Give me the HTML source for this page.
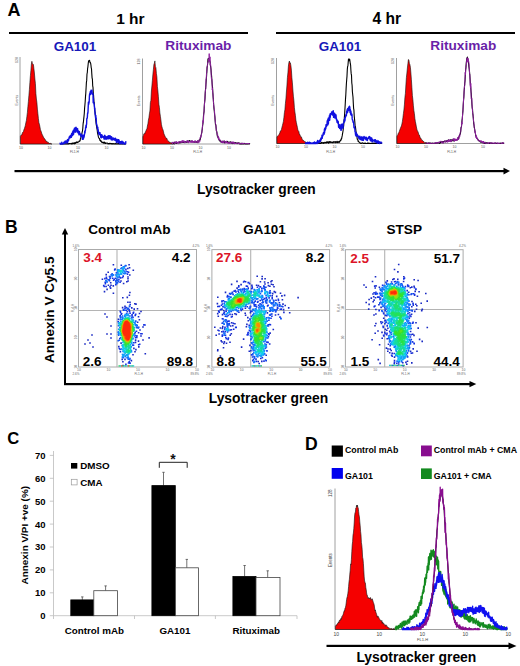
<!DOCTYPE html>
<html><head><meta charset="utf-8"><style>
html,body{margin:0;padding:0;background:#fff;overflow:hidden;}
svg{display:block;}
text{font-family:"Liberation Sans",sans-serif;}
</style></head><body>
<svg width="520" height="666" viewBox="0 0 520 666">
<text x="7.6" y="15.6" font-size="18" fill="#000" text-anchor="start" font-weight="bold" >A</text>
<text x="116.15" y="23.8" font-size="15.5" fill="#000" text-anchor="start" font-weight="bold" >1 hr</text>
<text x="372.5" y="23.8" font-size="15.6" fill="#000" text-anchor="start" font-weight="bold" >4 hr</text>
<rect x="9" y="32" width="239" height="2" fill="#000"/>
<rect x="276" y="32" width="239" height="2" fill="#000"/>
<text x="53.7" y="50.8" font-size="13.45" fill="#1818b8" text-anchor="start" font-weight="bold" >GA101</text>
<text x="165.3" y="49.5" font-size="13.7" fill="#6a1fa8" text-anchor="start" font-weight="bold" >Rituximab</text>
<text x="318.7" y="50.8" font-size="13.45" fill="#1818b8" text-anchor="start" font-weight="bold" >GA101</text>
<text x="430.3" y="49.5" font-size="13.65" fill="#6a1fa8" text-anchor="start" font-weight="bold" >Rituximab</text>
<path d="M20 57V144H126" fill="none" stroke="#888" stroke-width="0.8"/>
<text x="19.0" y="148.5" font-size="3.5" fill="#555" font-family="Liberation Sans">10</text>
<text x="47.5" y="148.5" font-size="3.5" fill="#555" font-family="Liberation Sans">10</text>
<text x="76.0" y="148.5" font-size="3.5" fill="#555" font-family="Liberation Sans">10</text>
<text x="104.5" y="148.5" font-size="3.5" fill="#555" font-family="Liberation Sans">10</text>
<text x="70.0" y="153" font-size="3.2" fill="#555" font-family="Liberation Sans">FL1-H</text>
<text transform="translate(17.5,105.5) rotate(-90)" font-size="3.5" fill="#555" font-family="Liberation Sans">Events</text>
<text transform="translate(17.5,63) rotate(-90)" font-size="3.5" fill="#555" font-family="Liberation Sans">128</text>
<path d="M20.4 144L20.4 136.5L20.9 135.4L21.4 134.8L21.9 134.9L22.4 132.8L22.9 132.1L23.4 131.7L23.9 129.8L24.4 128.6L24.9 127.0L25.4 125.2L25.9 122.4L26.4 120.4L26.9 116.4L27.4 112.4L27.9 106.5L28.4 101.4L28.9 95.5L29.4 89.5L29.9 82.3L30.4 75.7L30.9 70.4L31.4 64.0L31.9 61.3L32.4 63.9L32.9 64.3L33.4 64.4L33.9 68.6L34.4 73.0L34.9 79.0L35.4 83.5L35.9 93.5L36.4 99.0L36.9 102.5L37.4 109.1L37.9 113.7L38.4 118.6L38.9 122.7L39.4 124.2L39.9 126.6L40.4 129.5L40.9 130.9L41.4 132.1L41.9 134.0L42.4 134.8L42.9 135.9L43.4 136.9L43.9 138.1L44.4 138.4L44.9 139.1L45.4 140.0L45.9 141.1L46.4 141.0L46.9 141.9L47.4 141.8L47.9 142.8L48.4 142.4L48.9 142.9L49.4 143.5L49.9 143.4L50.4 143.4L50.9 143.5L51.4 143.9L51.9 144.0L51.9 144Z" fill="#f50000" stroke="#111" stroke-width="0.6" stroke-linejoin="round"/>
<path d="M60.0 143.9L60.3 144.0L60.6 144.0L60.9 144.0L61.2 143.5L61.5 143.7L61.8 144.0L62.1 143.8L62.4 143.9L62.7 144.0L63.0 143.7L63.3 144.0L63.6 144.0L63.9 144.0L64.2 143.8L64.5 144.0L64.8 143.8L65.1 144.0L65.4 143.9L65.7 144.0L66.0 143.7L66.3 143.9L66.6 143.9L66.9 143.8L67.2 144.0L67.5 143.7L67.8 143.3L68.1 144.0L68.4 144.0L68.7 144.0L69.0 143.6L69.3 143.8L69.6 143.5L69.9 143.6L70.2 143.7L70.5 143.7L70.8 143.8L71.1 143.4L71.4 144.0L71.7 143.8L72.0 143.5L72.3 142.9L72.6 143.8L72.9 143.9L73.2 143.6L73.5 143.0L73.8 143.4L74.1 142.7L74.4 143.9L74.7 142.7L75.0 142.7L75.3 143.6L75.6 142.9L75.9 142.4L76.2 142.8L76.5 142.3L76.8 141.8L77.1 142.4L77.4 142.5L77.7 142.6L78.0 141.9L78.3 142.1L78.6 141.9L78.9 141.6L79.2 140.9L79.5 141.3L79.8 141.1L80.1 140.8L80.4 138.6L80.7 138.4L81.0 136.6L81.3 136.4L81.6 135.5L81.9 133.3L82.2 131.9L82.5 130.8L82.8 128.3L83.1 123.9L83.4 122.2L83.7 119.1L84.0 116.4L84.3 113.2L84.6 108.1L84.9 105.0L85.2 101.5L85.5 96.6L85.8 93.1L86.1 87.7L86.4 82.4L86.7 80.4L87.0 74.0L87.3 72.7L87.6 68.5L87.9 66.8L88.2 63.7L88.5 61.5L88.8 60.8L89.1 60.4L89.4 60.3L89.7 60.8L90.0 62.6L90.3 62.3L90.6 63.2L90.9 64.8L91.2 67.6L91.5 68.8L91.8 73.9L92.1 78.1L92.4 79.0L92.7 85.8L93.0 87.4L93.3 93.2L93.6 95.6L93.9 101.6L94.2 102.5L94.5 107.1L94.8 111.2L95.1 112.1L95.4 116.0L95.7 119.4L96.0 122.7L96.3 124.6L96.6 126.9L96.9 128.4L97.2 130.2L97.5 132.8L97.8 134.2L98.1 135.4L98.4 137.0L98.7 137.6L99.0 138.1L99.3 138.5L99.6 138.8L99.9 140.4L100.2 140.2L100.5 141.1L100.8 140.2L101.1 141.5L101.4 141.4L101.7 142.3L102.0 142.4L102.3 142.1L102.6 142.5L102.9 142.3L103.2 143.2L103.5 142.3L103.8 143.0L104.1 142.0L104.4 142.9L104.7 142.4L105.0 143.5L105.3 142.8L105.6 143.4L105.9 143.3L106.2 143.1L106.5 143.3L106.8 143.1L107.1 143.0L107.4 143.0L107.7 143.4L108.0 143.9L108.3 143.7L108.6 143.5L108.9 144.0L109.2 143.3L109.5 143.7L109.8 143.7L110.1 143.3L110.4 143.4L110.7 143.6L111.0 144.0L111.3 143.6L111.6 143.6L111.9 144.0L112.2 143.5L112.5 143.7L112.8 144.0L113.1 143.8L113.4 144.0L113.7 143.5L114.0 143.6L114.3 144.0L114.6 144.0L114.9 143.9L115.2 144.0L115.5 143.5L115.8 143.7L116.1 144.0L116.4 143.8L116.7 144.0L117.0 143.9L117.3 143.7L117.6 144.0L117.9 144.0L118.2 143.8L118.5 143.4L118.8 143.9L119.1 144.0L119.4 143.5L119.7 144.0L120.0 143.8L120.3 144.0L120.6 143.7L120.9 144.0L121.2 143.6L121.5 143.9L121.8 144.0L122.1 144.0L122.4 144.0L122.7 143.6L123.0 144.0L123.3 144.0L123.6 144.0L123.9 143.8L124.2 143.9L124.5 143.9L124.8 144.0L125.1 143.6L125.4 143.6L125.7 144.0L126.0 143.4" fill="none" stroke="#000" stroke-width="1.1" stroke-opacity="1" stroke-linejoin="round"/>
<path d="M60.0 142.6L60.2 144.0L60.4 143.6L60.6 144.0L60.8 144.0L61.0 144.0L61.2 144.0L61.4 144.0L61.6 144.0L61.8 142.3L62.0 143.6L62.2 143.9L62.4 143.9L62.6 144.0L62.8 144.0L63.0 143.8L63.2 143.1L63.4 143.6L63.6 142.6L63.8 143.4L64.0 143.2L64.2 141.9L64.4 142.6L64.6 143.4L64.8 143.0L65.0 142.3L65.2 141.0L65.4 142.8L65.6 142.6L65.8 141.4L66.0 142.9L66.2 142.2L66.4 141.0L66.6 141.1L66.8 141.3L67.0 140.6L67.2 143.0L67.4 139.8L67.6 141.5L67.8 142.0L68.0 139.8L68.2 139.1L68.4 140.1L68.6 140.5L68.8 139.0L69.0 138.8L69.2 136.9L69.4 137.3L69.6 137.6L69.8 136.2L70.0 137.4L70.2 137.9L70.4 135.8L70.6 135.4L70.8 136.1L71.0 136.4L71.2 134.8L71.4 137.3L71.6 133.6L71.8 133.5L72.0 135.9L72.2 133.4L72.4 134.4L72.6 131.8L72.8 135.2L73.0 133.5L73.2 131.0L73.4 130.1L73.6 134.2L73.8 131.9L74.0 130.5L74.2 131.6L74.4 128.3L74.6 132.0L74.8 129.7L75.0 131.6L75.2 127.9L75.4 129.9L75.6 130.3L75.8 132.2L76.0 127.3L76.2 128.6L76.4 128.6L76.6 128.1L76.8 129.4L77.0 130.9L77.2 131.3L77.4 131.4L77.6 128.6L77.8 132.8L78.0 131.8L78.2 131.7L78.4 131.3L78.6 131.1L78.8 133.9L79.0 134.8L79.2 132.9L79.4 131.6L79.6 132.6L79.8 133.6L80.0 134.6L80.2 134.2L80.4 135.2L80.6 134.2L80.8 136.5L81.0 135.6L81.2 136.2L81.4 135.6L81.6 136.3L81.8 134.3L82.0 135.1L82.2 135.2L82.4 139.4L82.6 137.5L82.8 137.8L83.0 136.4L83.2 139.3L83.4 135.3L83.6 135.2L83.8 137.8L84.0 137.0L84.2 136.4L84.4 134.8L84.6 133.4L84.8 130.9L85.0 133.0L85.2 130.8L85.4 130.7L85.6 127.3L85.8 127.5L86.0 125.3L86.2 127.6L86.4 124.7L86.6 124.2L86.8 118.7L87.0 118.4L87.2 118.2L87.4 116.6L87.6 113.0L87.8 113.3L88.0 111.8L88.2 107.1L88.4 102.2L88.6 104.7L88.8 103.5L89.0 103.0L89.2 101.6L89.4 96.2L89.6 94.0L89.8 94.5L90.0 92.7L90.2 92.2L90.4 91.4L90.6 94.5L90.8 91.7L91.0 90.3L91.2 92.3L91.4 91.8L91.6 92.9L91.8 92.3L92.0 90.3L92.2 93.9L92.4 94.2L92.6 93.2L92.8 94.7L93.0 93.8L93.2 102.8L93.4 98.3L93.6 102.6L93.8 102.9L94.0 103.1L94.2 104.2L94.4 106.0L94.6 109.3L94.8 108.2L95.0 113.3L95.2 114.6L95.4 114.5L95.6 118.3L95.8 115.4L96.0 118.5L96.2 118.2L96.4 122.8L96.6 124.6L96.8 124.8L97.0 125.0L97.2 128.0L97.4 127.5L97.6 128.9L97.8 127.3L98.0 131.3L98.2 129.6L98.4 132.5L98.6 133.5L98.8 133.6L99.0 134.7L99.2 133.3L99.4 132.5L99.6 133.9L99.8 133.6L100.0 132.6L100.2 134.6L100.4 134.9L100.6 135.6L100.8 137.4L101.0 134.6L101.2 137.9L101.4 135.0L101.6 135.9L101.8 134.6L102.0 136.2L102.2 137.2L102.4 135.8L102.6 137.0L102.8 136.6L103.0 136.3L103.2 136.6L103.4 136.7L103.6 137.5L103.8 136.8L104.0 139.0L104.2 136.8L104.4 138.1L104.6 135.4L104.8 135.3L105.0 139.1L105.2 136.7L105.4 137.0L105.6 138.2L105.8 136.4L106.0 137.6L106.2 139.2L106.4 137.4L106.6 137.3L106.8 137.1L107.0 138.7L107.2 136.6L107.4 136.5L107.6 138.7L107.8 138.2L108.0 137.6L108.2 138.2L108.4 135.6L108.6 137.5L108.8 138.9L109.0 138.7L109.2 137.9L109.4 135.7L109.6 138.2L109.8 137.9L110.0 137.6L110.2 138.3L110.4 136.0L110.6 138.9L110.8 137.6L111.0 138.3L111.2 137.9L111.4 139.9L111.6 136.8L111.8 138.9L112.0 138.8L112.2 140.0L112.4 139.8L112.6 138.5L112.8 138.1L113.0 138.4L113.2 138.0L113.4 138.6L113.6 139.5L113.8 138.7L114.0 139.0L114.2 139.8L114.4 139.0L114.6 138.5L114.8 139.7L115.0 140.4L115.2 139.4L115.4 138.2L115.6 140.5L115.8 140.5L116.0 140.6L116.2 139.3L116.4 142.4L116.6 140.3L116.8 139.6L117.0 141.6L117.2 139.4L117.4 140.5L117.6 141.6L117.8 140.9L118.0 142.7L118.2 141.8L118.4 139.6L118.6 142.3L118.8 139.7L119.0 141.6L119.2 140.7L119.4 141.7L119.6 143.6L119.8 142.4L120.0 141.7L120.2 143.0L120.4 143.2L120.6 141.7L120.8 142.7L121.0 143.7L121.2 142.9L121.4 141.5L121.6 142.8L121.8 141.6L122.0 141.1L122.2 142.5L122.4 143.5L122.6 143.7L122.8 142.7L123.0 142.0L123.2 142.5L123.4 142.3L123.6 143.2L123.8 142.6L124.0 143.3L124.2 143.2L124.4 144.0L124.6 144.0L124.8 143.5L125.0 144.0L125.2 143.9L125.4 142.7L125.6 143.3L125.8 141.7L126.0 142.6" fill="none" stroke="#1010e0" stroke-width="1.4" stroke-opacity="1" stroke-linejoin="round"/>
<path d="M142.5 58.5V144H250" fill="none" stroke="#888" stroke-width="0.8"/>
<text x="141.5" y="148.5" font-size="3.5" fill="#555" font-family="Liberation Sans">10</text>
<text x="170.0" y="148.5" font-size="3.5" fill="#555" font-family="Liberation Sans">10</text>
<text x="198.5" y="148.5" font-size="3.5" fill="#555" font-family="Liberation Sans">10</text>
<text x="227.0" y="148.5" font-size="3.5" fill="#555" font-family="Liberation Sans">10</text>
<text x="193.25" y="153" font-size="3.2" fill="#555" font-family="Liberation Sans">FL1-H</text>
<text transform="translate(140.0,106.25) rotate(-90)" font-size="3.5" fill="#555" font-family="Liberation Sans">Events</text>
<text transform="translate(140.0,64.5) rotate(-90)" font-size="3.5" fill="#555" font-family="Liberation Sans">128</text>
<path d="M142.9 144L142.9 136.8L143.4 135.6L143.9 133.7L144.4 133.4L144.9 133.8L145.4 131.8L145.9 131.1L146.4 129.4L146.9 129.1L147.4 126.0L147.9 123.8L148.4 120.1L148.9 117.8L149.4 113.8L149.9 111.0L150.4 102.5L150.9 100.4L151.4 91.0L151.9 86.0L152.4 80.3L152.9 74.2L153.4 69.4L153.9 64.5L154.4 63.2L154.9 60.9L155.4 66.8L155.9 67.7L156.4 73.4L156.9 77.0L157.4 86.4L157.9 91.0L158.4 96.7L158.9 104.3L159.4 107.4L159.9 112.9L160.4 116.3L160.9 119.9L161.4 124.3L161.9 126.6L162.4 128.4L162.9 129.6L163.4 131.2L163.9 133.6L164.4 134.8L164.9 136.0L165.4 137.0L165.9 137.7L166.4 138.5L166.9 138.3L167.4 140.2L167.9 140.7L168.4 140.9L168.9 141.9L169.4 142.1L169.9 142.3L170.4 142.4L170.9 143.3L171.4 142.6L171.9 143.4L172.4 143.4L172.9 143.3L173.4 143.4L173.9 143.4L174.4 143.7L174.9 143.8L174.9 144Z" fill="#f50000" stroke="#111" stroke-width="0.6" stroke-linejoin="round"/>
<path d="M172.0 143.5L172.3 143.7L172.6 143.2L172.9 142.9L173.2 142.6L173.5 143.0L173.8 143.2L174.1 143.3L174.4 142.6L174.7 142.2L175.0 142.7L175.3 143.3L175.6 143.2L175.9 142.1L176.2 142.6L176.5 143.4L176.8 142.7L177.1 143.1L177.4 142.8L177.7 142.7L178.0 142.8L178.3 142.2L178.6 142.4L178.9 142.6L179.2 142.2L179.5 141.9L179.8 143.0L180.1 142.3L180.4 142.6L180.7 142.2L181.0 142.7L181.3 142.1L181.6 142.1L181.9 142.1L182.2 142.4L182.5 142.1L182.8 142.4L183.1 142.5L183.4 141.8L183.7 142.3L184.0 141.3L184.3 141.4L184.6 142.6L184.9 141.6L185.2 142.2L185.5 141.7L185.8 141.6L186.1 142.5L186.4 141.7L186.7 141.7L187.0 141.1L187.3 142.1L187.6 141.2L187.9 142.0L188.2 141.7L188.5 141.9L188.8 140.8L189.1 141.2L189.4 140.6L189.7 141.2L190.0 141.1L190.3 141.1L190.6 141.8L190.9 141.5L191.2 140.9L191.5 141.7L191.8 141.5L192.1 141.6L192.4 141.3L192.7 141.8L193.0 141.7L193.3 141.5L193.6 141.6L193.9 142.1L194.2 141.3L194.5 142.3L194.8 142.3L195.1 142.3L195.4 141.3L195.7 142.0L196.0 142.2L196.3 142.3L196.6 141.6L196.9 142.3L197.2 142.3L197.5 141.4L197.8 142.1L198.1 141.6L198.4 141.3L198.7 141.3L199.0 140.8L199.3 139.7L199.6 140.2L199.9 140.0L200.2 139.6L200.5 137.9L200.8 136.9L201.1 135.4L201.4 134.4L201.7 132.8L202.0 131.0L202.3 128.8L202.6 125.9L202.9 123.6L203.2 120.3L203.5 115.5L203.8 113.2L204.1 111.2L204.4 104.3L204.7 101.4L205.0 98.4L205.3 92.2L205.6 88.7L205.9 85.0L206.2 80.8L206.5 77.2L206.8 72.3L207.1 67.6L207.4 66.2L207.7 62.7L208.0 58.9L208.3 61.1L208.6 58.4L208.9 58.7L209.2 59.9L209.5 60.6L209.8 60.7L210.1 61.9L210.4 65.3L210.7 67.2L211.0 69.4L211.3 73.2L211.6 76.1L211.9 80.3L212.2 84.2L212.5 86.8L212.8 92.1L213.1 96.6L213.4 100.0L213.7 105.4L214.0 108.5L214.3 111.1L214.6 114.5L214.9 116.9L215.2 121.1L215.5 124.8L215.8 124.7L216.1 127.6L216.4 131.0L216.7 131.1L217.0 133.5L217.3 136.0L217.6 136.3L217.9 137.4L218.2 137.1L218.5 139.1L218.8 139.4L219.1 139.9L219.4 140.4L219.7 141.0L220.0 140.7L220.3 140.6L220.6 141.0L220.9 141.8L221.2 142.1L221.5 141.6L221.8 142.0L222.1 142.1L222.4 142.6L222.7 141.0L223.0 141.5L223.3 142.4L223.6 141.6L223.9 141.4L224.2 142.9L224.5 142.3L224.8 142.2L225.1 141.8L225.4 142.2L225.7 142.2L226.0 142.2L226.3 141.4L226.6 141.3L226.9 142.4L227.2 142.7L227.5 141.4L227.8 142.7L228.1 142.6L228.4 142.4L228.7 142.2L229.0 142.0L229.3 142.3L229.6 142.9L229.9 142.3L230.2 142.5L230.5 141.8L230.8 142.6L231.1 143.2L231.4 143.1L231.7 142.2L232.0 143.0L232.3 143.6L232.6 143.1L232.9 142.9L233.2 142.5L233.5 143.4L233.8 142.7L234.1 142.7L234.4 143.3L234.7 143.2L235.0 142.4L235.3 142.5L235.6 142.9L235.9 143.1L236.2 142.8L236.5 143.4L236.8 143.4L237.1 143.7L237.4 143.4L237.7 143.4L238.0 142.7L238.3 143.5L238.6 143.0L238.9 143.0L239.2 143.6L239.5 143.1L239.8 144.0L240.1 143.6L240.4 143.3L240.7 144.0L241.0 144.0L241.3 143.3L241.6 143.8L241.9 144.0L242.2 143.9L242.5 143.9L242.8 143.5L243.1 143.6L243.4 143.9L243.7 144.0L244.0 143.8L244.3 143.4L244.6 143.7L244.9 143.6L245.2 143.9L245.5 144.0L245.8 144.0L246.1 143.7L246.4 143.9L246.7 144.0L247.0 144.0L247.3 143.9L247.6 144.0L247.9 144.0L248.2 144.0L248.5 143.8L248.8 143.8L249.1 143.6L249.4 143.7L249.7 143.5L250.0 143.7" fill="none" stroke="#000" stroke-width="1.1" stroke-opacity="1" stroke-linejoin="round"/>
<path d="M172.0 142.5L172.2 141.9L172.5 144.0L172.8 143.2L173.0 142.4L173.2 142.1L173.5 142.6L173.8 141.9L174.0 142.8L174.2 142.5L174.5 142.8L174.8 143.7L175.0 143.5L175.2 142.5L175.5 143.2L175.8 141.8L176.0 141.8L176.2 141.4L176.5 142.7L176.8 141.6L177.0 143.3L177.2 143.2L177.5 142.5L177.8 142.3L178.0 143.7L178.2 143.8L178.5 142.1L178.8 143.1L179.0 141.4L179.2 142.0L179.5 142.1L179.8 142.1L180.0 141.5L180.2 142.3L180.5 141.3L180.8 142.6L181.0 142.3L181.2 142.6L181.5 141.6L181.8 142.0L182.0 142.7L182.2 140.3L182.5 142.2L182.8 142.0L183.0 141.6L183.2 140.4L183.5 142.0L183.8 141.2L184.0 141.7L184.2 143.0L184.5 141.1L184.8 140.9L185.0 141.9L185.2 141.7L185.5 142.9L185.8 142.9L186.0 142.0L186.2 141.1L186.5 142.0L186.8 141.3L187.0 140.8L187.2 141.5L187.5 141.1L187.8 140.3L188.0 142.6L188.2 140.9L188.5 143.1L188.8 141.1L189.0 141.3L189.2 142.0L189.5 142.4L189.8 141.6L190.0 141.8L190.2 141.4L190.5 142.3L190.8 141.0L191.0 142.4L191.2 141.8L191.5 141.9L191.8 140.5L192.0 142.8L192.2 141.9L192.5 140.6L192.8 142.1L193.0 142.6L193.2 141.4L193.5 141.9L193.8 141.0L194.0 142.4L194.2 141.5L194.5 141.2L194.8 140.9L195.0 142.7L195.2 140.6L195.5 142.5L195.8 143.0L196.0 142.6L196.2 141.7L196.5 142.1L196.8 141.4L197.0 141.4L197.2 141.5L197.5 141.9L197.8 140.1L198.0 143.2L198.2 142.9L198.5 141.6L198.8 142.1L199.0 142.5L199.2 141.2L199.5 140.8L199.8 141.5L200.0 138.3L200.2 137.2L200.5 136.5L200.8 137.5L201.0 135.8L201.2 136.1L201.5 133.3L201.8 133.0L202.0 130.0L202.2 129.3L202.5 125.4L202.8 123.5L203.0 120.5L203.2 122.4L203.5 120.1L203.8 113.5L204.0 112.1L204.2 107.2L204.5 103.9L204.8 100.7L205.0 95.6L205.2 92.7L205.5 89.2L205.8 88.5L206.0 79.1L206.2 79.2L206.5 73.5L206.8 72.2L207.0 66.9L207.2 66.9L207.5 64.3L207.8 62.5L208.0 62.9L208.2 61.3L208.5 59.3L208.8 58.7L209.0 60.9L209.2 53.6L209.5 61.9L209.8 61.2L210.0 56.8L210.2 65.1L210.5 63.6L210.8 66.1L211.0 70.7L211.2 76.3L211.5 79.5L211.8 79.0L212.0 81.2L212.2 89.8L212.5 88.4L212.8 93.5L213.0 93.6L213.2 98.4L213.5 103.5L213.8 106.0L214.0 108.1L214.2 108.8L214.5 110.6L214.8 116.1L215.0 119.0L215.2 120.4L215.5 123.7L215.8 124.7L216.0 127.0L216.2 129.2L216.5 131.8L216.8 132.0L217.0 132.4L217.2 134.5L217.5 133.9L217.8 135.4L218.0 137.4L218.2 136.2L218.5 139.7L218.8 137.9L219.0 137.7L219.2 140.1L219.5 140.3L219.8 139.7L220.0 139.5L220.2 140.6L220.5 140.9L220.8 140.5L221.0 141.1L221.2 142.5L221.5 141.7L221.8 141.6L222.0 142.9L222.2 141.4L222.5 142.4L222.8 141.2L223.0 143.0L223.2 142.6L223.5 143.1L223.8 140.8L224.0 140.9L224.2 140.7L224.5 140.7L224.8 141.2L225.0 141.3L225.2 143.4L225.5 141.7L225.8 142.4L226.0 142.3L226.2 143.1L226.5 141.0L226.8 142.0L227.0 143.3L227.2 141.8L227.5 142.3L227.8 143.0L228.0 142.5L228.2 142.9L228.5 143.9L228.8 143.6L229.0 142.0L229.2 142.2L229.5 142.3L229.8 143.4L230.0 143.0L230.2 142.5L230.5 142.1L230.8 143.3L231.0 143.5L231.2 141.8L231.5 142.7L231.8 143.0L232.0 143.3L232.2 143.3L232.5 141.7L232.8 142.2L233.0 143.2L233.2 143.8L233.5 141.8L233.8 141.9L234.0 142.2L234.2 142.5L234.5 144.0L234.8 144.0L235.0 142.7L235.2 143.4L235.5 143.0L235.8 143.6L236.0 143.7L236.2 142.9L236.5 143.6L236.8 143.3L237.0 143.2L237.2 143.2L237.5 142.6L237.8 142.5L238.0 144.0L238.2 143.6L238.5 143.9L238.8 143.0L239.0 144.0L239.2 143.0L239.5 143.1L239.8 143.2L240.0 144.0L240.2 143.8L240.5 144.0L240.8 143.4L241.0 143.1L241.2 144.0L241.5 144.0L241.8 143.8L242.0 144.0L242.2 142.8L242.5 143.8L242.8 143.6L243.0 144.0L243.2 142.9L243.5 143.7L243.8 143.4L244.0 143.8L244.2 144.0L244.5 144.0L244.8 144.0L245.0 143.6L245.2 144.0L245.5 143.6L245.8 143.7L246.0 143.7L246.2 143.4L246.5 143.8L246.8 144.0L247.0 144.0L247.2 143.0L247.5 144.0L247.8 143.2L248.0 143.0L248.2 144.0L248.5 143.7L248.8 144.0L249.0 143.5L249.2 144.0L249.5 144.0L249.8 144.0L250.0 144.0" fill="none" stroke="#9020a0" stroke-width="1.0" stroke-opacity="1" stroke-linejoin="round"/>
<path d="M276.5 58V143.5H382" fill="none" stroke="#888" stroke-width="0.8"/>
<text x="275.5" y="148.0" font-size="3.5" fill="#555" font-family="Liberation Sans">10</text>
<text x="304.0" y="148.0" font-size="3.5" fill="#555" font-family="Liberation Sans">10</text>
<text x="332.5" y="148.0" font-size="3.5" fill="#555" font-family="Liberation Sans">10</text>
<text x="361.0" y="148.0" font-size="3.5" fill="#555" font-family="Liberation Sans">10</text>
<text x="326.25" y="152.5" font-size="3.2" fill="#555" font-family="Liberation Sans">FL1-H</text>
<text transform="translate(274.0,105.75) rotate(-90)" font-size="3.5" fill="#555" font-family="Liberation Sans">Events</text>
<text transform="translate(274.0,64) rotate(-90)" font-size="3.5" fill="#555" font-family="Liberation Sans">128</text>
<path d="M276.9 143.5L276.9 137.1L277.4 136.2L277.9 135.8L278.4 135.4L278.9 134.5L279.4 134.1L279.9 132.6L280.4 130.9L280.9 130.9L281.4 129.7L281.9 127.4L282.4 125.6L282.9 123.5L283.4 121.4L283.9 117.4L284.4 112.7L284.9 109.8L285.4 103.6L285.9 99.0L286.4 92.0L286.9 86.0L287.4 77.7L287.9 72.9L288.4 66.1L288.9 62.5L289.4 61.0L289.9 63.1L290.4 62.9L290.9 65.5L291.4 70.1L291.9 77.8L292.4 82.9L292.9 90.0L293.4 96.2L293.9 100.5L294.4 107.7L294.9 111.9L295.4 115.3L295.9 120.1L296.4 122.7L296.9 125.1L297.4 127.3L297.9 130.1L298.4 130.9L298.9 131.6L299.4 134.6L299.9 134.4L300.4 135.9L300.9 137.3L301.4 136.9L301.9 138.3L302.4 139.9L302.9 140.0L303.4 140.3L303.9 141.1L304.4 141.2L304.9 141.8L305.4 141.9L305.9 141.9L306.4 142.8L306.9 142.7L307.4 143.0L307.9 143.0L308.4 143.4L308.9 143.4L309.4 143.3L309.9 143.1L309.9 143.5Z" fill="#f50000" stroke="#111" stroke-width="0.6" stroke-linejoin="round"/>
<path d="M305.0 143.5L305.3 143.5L305.6 143.5L305.9 143.5L306.2 143.5L306.5 143.5L306.8 143.5L307.1 143.2L307.4 143.2L307.7 143.1L308.0 143.3L308.3 143.5L308.6 143.2L308.9 143.0L309.2 143.5L309.5 143.3L309.8 143.5L310.1 143.0L310.4 143.5L310.7 143.5L311.0 143.4L311.3 143.4L311.6 143.5L311.9 143.4L312.2 143.5L312.5 143.5L312.8 143.5L313.1 143.4L313.4 143.5L313.7 143.0L314.0 143.5L314.3 143.5L314.6 143.5L314.9 143.0L315.2 143.5L315.5 142.9L315.8 142.9L316.1 143.5L316.4 143.5L316.7 143.5L317.0 143.0L317.3 143.5L317.6 143.5L317.9 143.5L318.2 143.3L318.5 143.3L318.8 143.0L319.1 143.0L319.4 143.5L319.7 143.3L320.0 143.5L320.3 143.2L320.6 143.5L320.9 143.5L321.2 142.4L321.5 143.1L321.8 142.9L322.1 142.4L322.4 142.8L322.7 143.1L323.0 143.0L323.3 143.3L323.6 142.5L323.9 143.1L324.2 142.2L324.5 143.0L324.8 143.0L325.1 143.0L325.4 142.5L325.7 142.7L326.0 142.2L326.3 142.9L326.6 142.5L326.9 141.8L327.2 142.7L327.5 142.3L327.8 141.9L328.1 142.2L328.4 142.7L328.7 143.2L329.0 141.6L329.3 142.2L329.6 141.8L329.9 142.5L330.2 141.5L330.5 142.0L330.8 142.2L331.1 142.5L331.4 142.0L331.7 142.3L332.0 142.2L332.3 142.8L332.6 142.3L332.9 142.0L333.2 142.6L333.5 142.0L333.8 141.7L334.1 142.1L334.4 142.3L334.7 142.3L335.0 141.6L335.3 142.6L335.6 142.1L335.9 142.2L336.2 141.9L336.5 142.0L336.8 142.5L337.1 141.2L337.4 141.9L337.7 142.6L338.0 142.4L338.3 141.9L338.6 141.7L338.9 142.4L339.2 141.5L339.5 142.3L339.8 141.8L340.1 140.8L340.4 140.1L340.7 140.5L341.0 140.1L341.3 138.6L341.6 138.9L341.9 137.1L342.2 135.9L342.5 133.8L342.8 132.3L343.1 130.5L343.4 127.3L343.7 125.6L344.0 120.9L344.3 118.4L344.6 114.5L344.9 109.7L345.2 104.7L345.5 99.1L345.8 95.0L346.1 88.9L346.4 83.5L346.7 79.7L347.0 76.1L347.3 69.6L347.6 66.5L347.9 66.0L348.2 62.3L348.5 59.1L348.8 60.0L349.1 59.1L349.4 60.8L349.7 59.4L350.0 61.3L350.3 63.7L350.6 65.0L350.9 70.3L351.2 73.9L351.5 75.2L351.8 83.0L352.1 85.2L352.4 91.7L352.7 94.5L353.0 97.2L353.3 103.2L353.6 108.3L353.9 109.8L354.2 115.7L354.5 118.9L354.8 121.7L355.1 125.8L355.4 126.7L355.7 128.8L356.0 131.5L356.3 133.6L356.6 135.5L356.9 136.3L357.2 139.1L357.5 139.1L357.8 139.7L358.1 141.5L358.4 141.0L358.7 141.7L359.0 142.1L359.3 142.3L359.6 142.4L359.9 142.6L360.2 143.4L360.5 143.1L360.8 143.3L361.1 143.3L361.4 143.5L361.7 143.1L362.0 143.0L362.3 142.9L362.6 142.8L362.9 143.0L363.2 143.5L363.5 143.5L363.8 143.5L364.1 143.3L364.4 143.5L364.7 143.2L365.0 143.0L365.3 143.5L365.6 143.2L365.9 143.5L366.2 143.5L366.5 143.5L366.8 143.5L367.1 143.5L367.4 143.3L367.7 143.0L368.0 143.5L368.3 143.5L368.6 143.0L368.9 143.4L369.2 143.4L369.5 143.5L369.8 143.2L370.1 143.4L370.4 143.5L370.7 143.5L371.0 143.5L371.3 143.3L371.6 143.5L371.9 143.1L372.2 143.3L372.5 143.5L372.8 143.4L373.1 143.1L373.4 143.5L373.7 143.5L374.0 143.0L374.3 143.5L374.6 143.5L374.9 143.2L375.2 143.4L375.5 143.5L375.8 143.5L376.1 143.4L376.4 143.1L376.7 143.3L377.0 143.4L377.3 143.1L377.6 143.4L377.9 143.5L378.2 142.9L378.5 143.5L378.8 143.5L379.1 143.5L379.4 143.1L379.7 143.5L380.0 143.5L380.3 143.5L380.6 143.4L380.9 143.4L381.2 143.3L381.5 143.5L381.8 143.4" fill="none" stroke="#000" stroke-width="1.1" stroke-opacity="1" stroke-linejoin="round"/>
<path d="M305.0 143.5L305.2 143.4L305.4 143.5L305.6 143.1L305.8 142.8L306.0 143.5L306.2 143.2L306.4 143.3L306.6 143.5L306.8 143.5L307.0 143.5L307.2 142.6L307.4 143.5L307.6 142.3L307.8 143.0L308.0 143.3L308.2 143.5L308.4 142.6L308.6 143.5L308.8 142.5L309.0 143.5L309.2 143.4L309.4 143.5L309.6 142.2L309.8 143.5L310.0 143.5L310.2 143.0L310.4 143.5L310.6 143.0L310.8 143.5L311.0 143.1L311.2 143.5L311.4 143.5L311.6 143.5L311.8 143.5L312.0 143.1L312.2 143.4L312.4 143.1L312.6 143.3L312.8 143.5L313.0 143.3L313.2 142.6L313.4 143.5L313.6 143.5L313.8 143.5L314.0 143.4L314.2 143.5L314.4 141.9L314.6 143.5L314.8 143.5L315.0 143.3L315.2 142.6L315.4 143.2L315.6 143.5L315.8 143.5L316.0 143.1L316.2 142.1L316.4 143.5L316.6 142.8L316.8 143.1L317.0 142.3L317.2 142.1L317.4 143.5L317.6 140.5L317.8 142.0L318.0 142.5L318.2 142.7L318.4 142.0L318.6 141.6L318.8 140.9L319.0 141.3L319.2 140.7L319.4 142.5L319.6 141.5L319.8 141.5L320.0 140.1L320.2 139.6L320.4 141.3L320.6 139.7L320.8 138.5L321.0 138.0L321.2 139.9L321.4 137.8L321.6 137.7L321.8 138.2L322.0 135.1L322.2 138.3L322.4 137.0L322.6 135.7L322.8 135.5L323.0 135.6L323.2 133.2L323.4 132.7L323.6 132.8L323.8 132.2L324.0 133.1L324.2 134.1L324.4 129.3L324.6 132.7L324.8 128.1L325.0 130.5L325.2 129.4L325.4 129.4L325.6 127.2L325.8 128.8L326.0 124.7L326.2 126.0L326.4 125.9L326.6 126.5L326.8 124.6L327.0 124.4L327.2 120.8L327.4 121.7L327.6 125.1L327.8 119.5L328.0 124.7L328.2 118.3L328.4 123.4L328.6 119.7L328.8 117.8L329.0 118.7L329.2 120.1L329.4 115.6L329.6 120.3L329.8 119.3L330.0 114.0L330.2 117.5L330.4 115.2L330.6 113.8L330.8 115.1L331.0 114.2L331.2 114.2L331.4 113.8L331.6 111.9L331.8 112.1L332.0 113.1L332.2 111.9L332.4 114.5L332.6 114.8L332.8 115.3L333.0 112.1L333.2 110.6L333.4 113.5L333.6 117.4L333.8 114.9L334.0 113.4L334.2 113.9L334.4 114.6L334.6 113.3L334.8 113.8L335.0 118.1L335.2 115.4L335.4 117.9L335.6 116.6L335.8 115.4L336.0 114.8L336.2 117.3L336.4 119.8L336.6 120.1L336.8 119.1L337.0 122.2L337.2 121.2L337.4 120.6L337.6 120.6L337.8 123.1L338.0 122.5L338.2 121.4L338.4 123.6L338.6 127.2L338.8 124.6L339.0 124.9L339.2 126.3L339.4 125.9L339.6 128.5L339.8 124.7L340.0 126.2L340.2 127.8L340.4 126.8L340.6 127.1L340.8 128.6L341.0 130.3L341.2 130.3L341.4 124.3L341.6 128.8L341.8 127.4L342.0 125.9L342.2 127.1L342.4 124.4L342.6 127.3L342.8 124.6L343.0 128.1L343.2 123.4L343.4 122.9L343.6 122.9L343.8 122.4L344.0 121.8L344.2 120.2L344.4 119.3L344.6 121.8L344.8 117.8L345.0 120.4L345.2 117.8L345.4 117.8L345.6 115.8L345.8 116.5L346.0 114.4L346.2 115.3L346.4 115.5L346.6 111.2L346.8 111.4L347.0 110.9L347.2 109.5L347.4 112.8L347.6 108.6L347.8 111.9L348.0 108.8L348.2 109.5L348.4 108.4L348.6 107.3L348.8 108.5L349.0 110.2L349.2 106.6L349.4 106.2L349.6 107.3L349.8 106.8L350.0 112.4L350.2 109.3L350.4 110.2L350.6 114.1L350.8 110.9L351.0 111.8L351.2 115.3L351.4 114.9L351.6 114.1L351.8 114.0L352.0 114.8L352.2 118.9L352.4 119.9L352.6 119.9L352.8 120.1L353.0 122.0L353.2 122.4L353.4 122.0L353.6 123.0L353.8 124.9L354.0 127.8L354.2 127.7L354.4 127.0L354.6 127.5L354.8 128.1L355.0 131.8L355.2 131.8L355.4 133.5L355.6 135.2L355.8 134.6L356.0 136.0L356.2 132.5L356.4 134.2L356.6 136.0L356.8 135.6L357.0 135.5L357.2 134.3L357.4 135.8L357.6 135.2L357.8 136.6L358.0 135.9L358.2 136.0L358.4 136.7L358.6 137.9L358.8 136.8L359.0 138.6L359.2 136.6L359.4 138.6L359.6 139.1L359.8 136.3L360.0 138.8L360.2 138.2L360.4 139.6L360.6 139.2L360.8 138.8L361.0 139.5L361.2 137.0L361.4 139.1L361.6 139.7L361.8 137.0L362.0 137.5L362.2 140.4L362.4 138.8L362.6 137.1L362.8 139.0L363.0 138.4L363.2 138.4L363.4 140.3L363.6 139.0L363.8 137.2L364.0 136.4L364.2 138.1L364.4 138.1L364.6 137.4L364.8 137.8L365.0 137.4L365.2 139.0L365.4 138.0L365.6 137.4L365.8 137.3L366.0 139.8L366.2 137.1L366.4 137.9L366.6 137.9L366.8 140.1L367.0 138.1L367.2 139.9L367.4 140.5L367.6 138.2L367.8 138.3L368.0 138.3L368.2 138.2L368.4 138.4L368.6 137.3L368.8 137.7L369.0 136.8L369.2 136.5L369.4 137.9L369.6 137.9L369.8 136.8L370.0 139.9L370.2 139.3L370.4 138.8L370.6 140.8L370.8 138.2L371.0 137.6L371.2 140.7L371.4 140.3L371.6 138.6L371.8 138.2L372.0 141.4L372.2 139.2L372.4 140.1L372.6 141.8L372.8 140.5L373.0 140.7L373.2 140.1L373.4 140.3L373.6 140.7L373.8 140.6L374.0 140.7L374.2 140.2L374.4 139.8L374.6 139.9L374.8 141.8L375.0 141.7L375.2 141.7L375.4 139.8L375.6 140.8L375.8 142.0L376.0 142.4L376.2 142.4L376.4 141.5L376.6 142.6L376.8 141.7L377.0 140.5L377.2 142.0L377.4 141.1L377.6 143.2L377.8 141.7L378.0 141.8L378.2 142.9L378.4 141.0L378.6 142.2L378.8 142.8L379.0 142.6L379.2 141.6L379.4 143.5L379.6 142.3L379.8 143.3L380.0 142.4L380.2 143.0L380.4 142.7L380.6 142.1L380.8 142.7L381.0 142.3L381.2 142.2L381.4 142.5L381.6 142.7L381.8 142.9L382.0 142.4" fill="none" stroke="#1010e0" stroke-width="1.4" stroke-opacity="1" stroke-linejoin="round"/>
<path d="M396.5 58V143.5H504" fill="none" stroke="#888" stroke-width="0.8"/>
<text x="395.5" y="148.0" font-size="3.5" fill="#555" font-family="Liberation Sans">10</text>
<text x="424.0" y="148.0" font-size="3.5" fill="#555" font-family="Liberation Sans">10</text>
<text x="452.5" y="148.0" font-size="3.5" fill="#555" font-family="Liberation Sans">10</text>
<text x="481.0" y="148.0" font-size="3.5" fill="#555" font-family="Liberation Sans">10</text>
<text x="447.25" y="152.5" font-size="3.2" fill="#555" font-family="Liberation Sans">FL1-H</text>
<text transform="translate(394.0,105.75) rotate(-90)" font-size="3.5" fill="#555" font-family="Liberation Sans">Events</text>
<text transform="translate(394.0,64) rotate(-90)" font-size="3.5" fill="#555" font-family="Liberation Sans">128</text>
<path d="M396.9 143.5L396.9 136.4L397.4 135.3L397.9 134.5L398.4 133.0L398.9 132.4L399.4 131.2L399.9 129.6L400.4 128.3L400.9 127.1L401.4 125.9L401.9 124.0L402.4 121.4L402.9 117.8L403.4 113.7L403.9 110.0L404.4 104.9L404.9 97.6L405.4 93.4L405.9 84.9L406.4 77.6L406.9 73.1L407.4 68.0L407.9 63.6L408.4 59.5L408.9 59.9L409.4 63.4L409.9 64.6L410.4 67.3L410.9 73.0L411.4 79.8L411.9 87.4L412.4 95.6L412.9 99.8L413.4 105.8L413.9 110.6L414.4 113.7L414.9 118.6L415.4 121.7L415.9 124.1L416.4 127.0L416.9 129.2L417.4 131.0L417.9 131.6L418.4 133.1L418.9 134.9L419.4 135.1L419.9 136.6L420.4 138.3L420.9 138.2L421.4 139.3L421.9 140.4L422.4 140.2L422.9 141.0L423.4 141.5L423.9 141.5L424.4 142.7L424.9 142.7L425.4 142.6L425.9 142.6L426.4 143.1L426.9 143.3L427.4 143.4L427.9 143.2L428.4 143.1L428.9 143.5L429.4 143.5L429.9 143.5L429.9 143.5Z" fill="#f50000" stroke="#111" stroke-width="0.6" stroke-linejoin="round"/>
<path d="M426.0 143.5L426.3 143.1L426.6 143.1L426.9 143.5L427.2 143.5L427.5 143.5L427.8 143.3L428.1 143.5L428.4 143.2L428.7 143.5L429.0 142.9L429.3 143.5L429.6 143.2L429.9 143.5L430.2 143.5L430.5 143.3L430.8 143.1L431.1 143.5L431.4 143.4L431.7 143.2L432.0 143.5L432.3 143.5L432.6 143.2L432.9 143.5L433.2 143.5L433.5 143.5L433.8 143.4L434.1 143.5L434.4 143.5L434.7 143.2L435.0 142.9L435.3 143.2L435.6 143.4L435.9 143.0L436.2 142.8L436.5 143.2L436.8 142.8L437.1 142.6L437.4 143.0L437.7 143.2L438.0 142.7L438.3 142.7L438.6 142.3L438.9 143.2L439.2 142.9L439.5 142.9L439.8 143.3L440.1 142.5L440.4 142.2L440.7 142.7L441.0 141.8L441.3 141.9L441.6 142.0L441.9 142.0L442.2 141.7L442.5 142.6L442.8 141.7L443.1 141.6L443.4 142.6L443.7 141.6L444.0 141.8L444.3 141.3L444.6 141.7L444.9 141.5L445.2 141.2L445.5 141.7L445.8 141.0L446.1 141.2L446.4 140.9L446.7 141.3L447.0 140.5L447.3 140.7L447.6 141.0L447.9 140.5L448.2 140.2L448.5 139.9L448.8 141.4L449.1 140.2L449.4 140.4L449.7 140.6L450.0 141.0L450.3 139.8L450.6 141.0L450.9 140.1L451.2 139.7L451.5 141.1L451.8 140.4L452.1 140.9L452.4 140.1L452.7 139.4L453.0 139.2L453.3 141.0L453.6 140.4L453.9 139.7L454.2 139.3L454.5 139.8L454.8 140.4L455.1 139.8L455.4 140.0L455.7 140.0L456.0 140.2L456.3 139.6L456.6 139.5L456.9 139.6L457.2 139.6L457.5 139.9L457.8 139.3L458.1 138.1L458.4 138.5L458.7 138.7L459.0 136.6L459.3 136.4L459.6 134.7L459.9 134.8L460.2 133.9L460.5 133.2L460.8 129.7L461.1 127.3L461.4 127.0L461.7 124.3L462.0 120.5L462.3 118.5L462.6 114.5L462.9 110.7L463.2 106.2L463.5 101.0L463.8 97.5L464.1 91.9L464.4 88.6L464.7 83.1L465.0 81.2L465.3 76.3L465.6 69.8L465.9 67.8L466.2 63.4L466.5 61.0L466.8 58.2L467.1 57.8L467.4 57.1L467.7 58.8L468.0 60.4L468.3 61.9L468.6 63.5L468.9 66.7L469.2 68.9L469.5 71.6L469.8 74.8L470.1 79.3L470.4 85.0L470.7 87.1L471.0 91.0L471.3 94.3L471.6 98.9L471.9 104.0L472.2 107.8L472.5 109.1L472.8 113.6L473.1 115.9L473.4 118.7L473.7 123.5L474.0 125.1L474.3 127.2L474.6 129.1L474.9 130.8L475.2 132.5L475.5 133.8L475.8 136.0L476.1 136.2L476.4 137.3L476.7 137.6L477.0 138.5L477.3 138.5L477.6 138.9L477.9 139.5L478.2 139.9L478.5 140.3L478.8 140.8L479.1 140.9L479.4 141.2L479.7 141.0L480.0 141.3L480.3 141.2L480.6 142.2L480.9 141.4L481.2 142.2L481.5 142.3L481.8 142.2L482.1 142.4L482.4 142.2L482.7 142.6L483.0 142.9L483.3 142.9L483.6 142.1L483.9 142.6L484.2 143.2L484.5 142.8L484.8 143.4L485.1 142.2L485.4 143.5L485.7 142.8L486.0 142.8L486.3 143.5L486.6 143.0L486.9 142.8L487.2 143.0L487.5 143.1L487.8 142.9L488.1 143.2L488.4 143.2L488.7 143.3L489.0 143.1L489.3 143.5L489.6 143.1L489.9 143.5L490.2 143.5L490.5 143.3L490.8 142.8L491.1 143.1L491.4 143.5L491.7 143.2L492.0 143.5L492.3 143.5L492.6 143.4L492.9 143.5L493.2 143.4L493.5 143.5L493.8 143.5L494.1 143.5L494.4 143.5L494.7 143.5L495.0 143.2L495.3 143.0L495.6 143.5L495.9 143.1L496.2 143.5L496.5 143.5L496.8 143.4L497.1 143.4L497.4 143.5L497.7 143.4L498.0 143.3L498.3 143.5L498.6 143.5L498.9 143.5L499.2 143.5L499.5 143.5L499.8 143.2L500.1 143.0L500.4 143.5L500.7 143.3L501.0 143.2L501.3 143.3L501.6 143.2L501.9 143.5L502.2 143.3L502.5 142.9L502.8 143.3L503.1 143.5L503.4 143.3L503.7 143.1L504.0 143.4" fill="none" stroke="#000" stroke-width="1.1" stroke-opacity="1" stroke-linejoin="round"/>
<path d="M426.0 143.5L426.2 142.9L426.5 143.1L426.8 143.1L427.0 142.6L427.2 143.5L427.5 143.5L427.8 143.5L428.0 143.5L428.2 142.9L428.5 143.5L428.8 143.2L429.0 143.5L429.2 143.4L429.5 143.5L429.8 142.5L430.0 142.9L430.2 142.9L430.5 143.5L430.8 143.1L431.0 143.0L431.2 143.5L431.5 143.5L431.8 143.4L432.0 143.5L432.2 143.5L432.5 143.5L432.8 143.5L433.0 142.9L433.2 143.5L433.5 142.8L433.8 143.5L434.0 143.5L434.2 143.5L434.5 143.3L434.8 143.4L435.0 143.1L435.2 143.5L435.5 143.1L435.8 142.0L436.0 142.8L436.2 143.4L436.5 142.4L436.8 143.1L437.0 142.6L437.2 142.5L437.5 143.2L437.8 143.5L438.0 143.1L438.2 142.4L438.5 143.0L438.8 142.4L439.0 142.0L439.2 143.0L439.5 141.7L439.8 141.4L440.0 141.8L440.2 141.6L440.5 141.6L440.8 140.9L441.0 142.2L441.2 142.3L441.5 141.8L441.8 142.9L442.0 143.3L442.2 142.7L442.5 141.7L442.8 141.6L443.0 143.1L443.2 143.3L443.5 142.0L443.8 141.9L444.0 141.7L444.2 141.1L444.5 140.6L444.8 141.3L445.0 140.9L445.2 142.3L445.5 142.3L445.8 141.1L446.0 140.7L446.2 140.6L446.5 140.6L446.8 140.4L447.0 140.3L447.2 142.5L447.5 141.5L447.8 140.5L448.0 140.3L448.2 142.1L448.5 139.7L448.8 141.1L449.0 140.8L449.2 140.4L449.5 139.9L449.8 141.8L450.0 139.6L450.2 140.4L450.5 141.1L450.8 140.6L451.0 142.1L451.2 140.9L451.5 140.1L451.8 140.9L452.0 140.5L452.2 140.3L452.5 140.1L452.8 139.2L453.0 140.2L453.2 140.4L453.5 139.6L453.8 138.3L454.0 140.4L454.2 139.6L454.5 141.5L454.8 138.8L455.0 139.4L455.2 138.8L455.5 140.0L455.8 140.9L456.0 139.0L456.2 139.1L456.5 140.5L456.8 141.0L457.0 139.1L457.2 139.6L457.5 137.4L457.8 139.7L458.0 139.4L458.2 138.7L458.5 139.9L458.8 138.8L459.0 135.7L459.2 137.0L459.5 136.8L459.8 136.8L460.0 133.8L460.2 132.6L460.5 131.9L460.8 131.4L461.0 128.9L461.2 127.0L461.5 126.6L461.8 122.5L462.0 124.1L462.2 120.4L462.5 116.0L462.8 112.6L463.0 111.2L463.2 105.0L463.5 100.0L463.8 97.3L464.0 93.9L464.2 88.7L464.5 85.7L464.8 85.2L465.0 79.4L465.2 72.4L465.5 74.6L465.8 68.7L466.0 67.0L466.2 65.8L466.5 64.2L466.8 59.8L467.0 58.2L467.2 57.7L467.5 62.1L467.8 59.5L468.0 58.7L468.2 58.4L468.5 60.6L468.8 62.1L469.0 63.7L469.2 66.8L469.5 73.5L469.8 74.4L470.0 79.3L470.2 85.4L470.5 88.0L470.8 83.4L471.0 93.5L471.2 98.7L471.5 99.2L471.8 98.5L472.0 104.8L472.2 107.1L472.5 111.3L472.8 113.8L473.0 114.2L473.2 117.6L473.5 121.3L473.8 122.0L474.0 123.8L474.2 127.5L474.5 128.4L474.8 130.0L475.0 132.5L475.2 131.5L475.5 134.1L475.8 135.6L476.0 137.6L476.2 137.9L476.5 135.6L476.8 138.9L477.0 137.8L477.2 139.1L477.5 138.6L477.8 138.9L478.0 140.5L478.2 140.3L478.5 140.2L478.8 140.4L479.0 140.8L479.2 141.2L479.5 140.5L479.8 140.1L480.0 140.9L480.2 142.1L480.5 141.3L480.8 141.7L481.0 141.4L481.2 140.5L481.5 142.2L481.8 142.1L482.0 142.8L482.2 142.5L482.5 142.7L482.8 141.2L483.0 142.2L483.2 142.9L483.5 141.2L483.8 143.5L484.0 142.1L484.2 142.0L484.5 142.4L484.8 143.0L485.0 143.0L485.2 143.1L485.5 142.4L485.8 143.5L486.0 143.4L486.2 143.0L486.5 143.5L486.8 143.5L487.0 143.3L487.2 143.5L487.5 142.7L487.8 142.4L488.0 143.2L488.2 143.5L488.5 143.4L488.8 143.5L489.0 142.9L489.2 142.3L489.5 143.2L489.8 142.2L490.0 142.5L490.2 143.0L490.5 143.5L490.8 143.3L491.0 143.5L491.2 142.8L491.5 143.3L491.8 142.6L492.0 143.2L492.2 143.5L492.5 143.0L492.8 142.9L493.0 142.5L493.2 143.5L493.5 143.5L493.8 143.4L494.0 143.5L494.2 143.5L494.5 143.5L494.8 142.4L495.0 143.5L495.2 143.5L495.5 143.5L495.8 143.4L496.0 142.8L496.2 142.9L496.5 143.0L496.8 143.4L497.0 143.4L497.2 143.5L497.5 143.5L497.8 142.5L498.0 143.5L498.2 142.9L498.5 143.5L498.8 143.5L499.0 143.5L499.2 143.5L499.5 143.5L499.8 143.3L500.0 143.0L500.2 143.2L500.5 142.9L500.8 143.3L501.0 143.5L501.2 143.5L501.5 143.5L501.8 142.7L502.0 143.4L502.2 143.1L502.5 143.5L502.8 143.5L503.0 142.5L503.2 143.3L503.5 142.7L503.8 143.2L504.0 143.5" fill="none" stroke="#9020a0" stroke-width="1.0" stroke-opacity="1" stroke-linejoin="round"/>
<rect x="14.5" y="170" width="491" height="2.2" fill="#000"/>
<path d="M503.5 167.8L510 171.1L503.5 174.4Z" fill="#000"/>
<text x="197.0" y="193.6" font-size="13.75" fill="#000" text-anchor="start" font-weight="bold" >Lysotracker green</text>
<text x="5.1" y="232.5" font-size="17.5" fill="#000" text-anchor="start" font-weight="bold" >B</text>
<text x="88.25" y="233.8" font-size="13.6" fill="#000" text-anchor="start" font-weight="bold" >Control mAb</text>
<text x="243.3" y="234.1" font-size="13.4" fill="#000" text-anchor="start" font-weight="bold" >GA101</text>
<text x="386.5" y="234.2" font-size="13.6" fill="#000" text-anchor="start" font-weight="bold" >STSP</text>
<rect x="64" y="232" width="2" height="153" fill="#000"/>
<path d="M61.8 234.5L65 228L68.2 234.5Z" fill="#000"/>
<rect x="64" y="383" width="406" height="2.2" fill="#000"/>
<path d="M469.5 380.9L476.3 384.1L469.5 387.3Z" fill="#000"/>
<text transform="translate(54.2,363) rotate(-90)" font-size="13.6" font-family="Liberation Sans" font-weight="bold" fill="#000">Annexin V Cy5.5</text>
<text x="208.7" y="402.9" font-size="13.85" fill="#000" text-anchor="start" font-weight="bold" >Lysotracker green</text>
<rect x="78.5" y="249.5" width="118.0" height="117.5" fill="#fff" stroke="#aaa" stroke-width="1"/>
<path d="M117 249.5V367M78.5 310.5H196.5" stroke="#b4b4b4" stroke-width="1.1"/>
<rect x="211.9" y="249.6" width="117.70000000000002" height="117.50000000000003" fill="#fff" stroke="#aaa" stroke-width="1"/>
<path d="M250.7 249.6V367.1M211.9 310.5H329.6" stroke="#b4b4b4" stroke-width="1.1"/>
<rect x="345.4" y="249.7" width="117.70000000000005" height="117.30000000000001" fill="#fff" stroke="#aaa" stroke-width="1"/>
<path d="M384.7 249.7V367M345.4 309.5H463.1" stroke="#b4b4b4" stroke-width="1.1"/>
<path d="M129.2 301.5h1.6v1.6h-1.6zM128.6 294.5h1.6v1.6h-1.6zM137.8 331.9h1.6v1.6h-1.6zM124.2 305.4h1.6v1.6h-1.6zM124.2 358.6h1.6v1.6h-1.6zM127.1 301.4h1.6v1.6h-1.6zM120.3 342.3h1.6v1.6h-1.6zM136.8 321.5h1.6v1.6h-1.6zM133.1 347.6h1.6v1.6h-1.6zM118.0 345.8h1.6v1.6h-1.6zM122.1 360.9h1.6v1.6h-1.6zM119.6 350.9h1.6v1.6h-1.6zM122.2 364.7h1.6v1.6h-1.6zM132.2 354.0h1.6v1.6h-1.6zM121.4 358.6h1.6v1.6h-1.6zM130.6 359.8h1.6v1.6h-1.6zM135.2 303.3h1.6v1.6h-1.6zM140.2 310.7h1.6v1.6h-1.6zM144.5 353.0h1.6v1.6h-1.6zM135.1 348.8h1.6v1.6h-1.6zM134.8 339.3h1.6v1.6h-1.6zM121.8 306.8h1.6v1.6h-1.6zM133.4 308.3h1.6v1.6h-1.6zM122.0 297.0h1.6v1.6h-1.6zM138.6 319.0h1.6v1.6h-1.6zM117.6 318.4h1.6v1.6h-1.6zM148.3 337.1h1.6v1.6h-1.6zM137.7 316.0h1.6v1.6h-1.6zM129.1 291.7h1.6v1.6h-1.6zM138.7 312.7h1.6v1.6h-1.6zM134.0 303.0h1.6v1.6h-1.6zM134.7 341.6h1.6v1.6h-1.6zM126.5 296.6h1.6v1.6h-1.6zM138.0 346.1h1.6v1.6h-1.6zM134.2 350.9h1.6v1.6h-1.6zM136.7 307.9h1.6v1.6h-1.6zM131.0 307.1h1.6v1.6h-1.6zM137.7 340.3h1.6v1.6h-1.6zM132.5 269.5h1.6v1.6h-1.6zM128.8 266.9h1.6v1.6h-1.6zM120.5 264.4h1.6v1.6h-1.6zM127.2 276.2h1.6v1.6h-1.6zM127.0 267.7h1.6v1.6h-1.6zM128.3 264.0h1.6v1.6h-1.6zM107.6 284.5h1.6v1.6h-1.6zM126.0 280.9h1.6v1.6h-1.6zM112.6 292.5h1.6v1.6h-1.6zM120.2 280.2h1.6v1.6h-1.6zM127.2 277.9h1.6v1.6h-1.6zM103.7 290.8h1.6v1.6h-1.6zM127.3 280.2h1.6v1.6h-1.6zM122.8 282.7h1.6v1.6h-1.6zM106.3 288.6h1.6v1.6h-1.6zM105.4 273.8h1.6v1.6h-1.6zM105.3 285.7h1.6v1.6h-1.6zM109.9 282.0h1.6v1.6h-1.6zM110.2 284.5h1.6v1.6h-1.6zM129.0 274.2h1.6v1.6h-1.6zM112.6 264.0h1.6v1.6h-1.6zM107.4 271.5h1.6v1.6h-1.6zM101.6 278.5h1.6v1.6h-1.6zM109.8 287.3h1.6v1.6h-1.6zM112.5 285.1h1.6v1.6h-1.6zM104.2 313.2h1.6v1.6h-1.6zM106.2 316.2h1.6v1.6h-1.6zM110.2 325.2h1.6v1.6h-1.6zM106.2 333.2h1.6v1.6h-1.6zM110.2 333.2h1.6v1.6h-1.6zM110.2 337.2h1.6v1.6h-1.6zM87.2 339.2h1.6v1.6h-1.6zM89.2 342.2h1.6v1.6h-1.6zM92.2 346.2h1.6v1.6h-1.6zM84.2 343.2h1.6v1.6h-1.6zM91.2 334.2h1.6v1.6h-1.6zM139.2 329.2h1.6v1.6h-1.6zM142.2 326.2h1.6v1.6h-1.6zM140.2 335.2h1.6v1.6h-1.6zM142.2 339.2h1.6v1.6h-1.6z" fill="#1929c4"/>
<path d="M131.3 314.0h1.6v1.6h-1.6zM134.9 313.6h1.6v1.6h-1.6zM122.7 309.3h1.6v1.6h-1.6zM119.0 337.9h1.6v1.6h-1.6zM134.4 314.6h1.6v1.6h-1.6zM129.4 303.7h1.6v1.6h-1.6zM131.2 315.0h1.6v1.6h-1.6zM120.4 313.3h1.6v1.6h-1.6zM129.3 312.4h1.6v1.6h-1.6zM133.0 342.0h1.6v1.6h-1.6zM125.4 309.4h1.6v1.6h-1.6zM134.4 331.4h1.6v1.6h-1.6zM134.7 336.9h1.6v1.6h-1.6zM120.9 312.9h1.6v1.6h-1.6zM124.2 307.3h1.6v1.6h-1.6zM126.5 310.9h1.6v1.6h-1.6zM119.4 315.0h1.6v1.6h-1.6zM118.5 347.7h1.6v1.6h-1.6zM128.3 309.1h1.6v1.6h-1.6zM119.5 310.4h1.6v1.6h-1.6zM125.6 306.7h1.6v1.6h-1.6zM132.7 344.5h1.6v1.6h-1.6zM128.4 361.1h1.6v1.6h-1.6zM125.1 363.6h1.6v1.6h-1.6zM125.1 363.5h1.6v1.6h-1.6zM143.1 324.1h1.6v1.6h-1.6zM132.2 316.6h1.6v1.6h-1.6zM119.8 311.5h1.6v1.6h-1.6zM119.3 348.6h1.6v1.6h-1.6zM140.1 332.9h1.6v1.6h-1.6zM127.7 362.2h1.6v1.6h-1.6zM135.7 330.5h1.6v1.6h-1.6zM137.9 343.9h1.6v1.6h-1.6zM137.9 326.6h1.6v1.6h-1.6zM117.4 320.8h1.6v1.6h-1.6zM138.9 343.4h1.6v1.6h-1.6zM136.1 335.0h1.6v1.6h-1.6zM129.3 362.3h1.6v1.6h-1.6zM132.8 311.6h1.6v1.6h-1.6zM132.4 312.3h1.6v1.6h-1.6zM136.0 336.6h1.6v1.6h-1.6zM128.8 310.6h1.6v1.6h-1.6zM141.2 333.0h1.6v1.6h-1.6zM127.8 271.5h1.6v1.6h-1.6zM126.7 273.3h1.6v1.6h-1.6zM125.1 268.6h1.6v1.6h-1.6zM119.9 277.1h1.6v1.6h-1.6zM126.7 270.9h1.6v1.6h-1.6zM104.6 282.9h1.6v1.6h-1.6zM113.5 278.6h1.6v1.6h-1.6zM115.0 283.8h1.6v1.6h-1.6zM122.4 275.3h1.6v1.6h-1.6zM109.2 286.0h1.6v1.6h-1.6zM105.9 278.0h1.6v1.6h-1.6zM111.8 277.5h1.6v1.6h-1.6zM102.9 284.8h1.6v1.6h-1.6zM104.1 277.8h1.6v1.6h-1.6zM114.7 277.5h1.6v1.6h-1.6zM104.4 281.5h1.6v1.6h-1.6zM103.6 285.7h1.6v1.6h-1.6zM121.8 276.7h1.6v1.6h-1.6zM119.3 281.5h1.6v1.6h-1.6zM114.3 268.3h1.6v1.6h-1.6zM109.3 277.3h1.6v1.6h-1.6zM112.8 279.4h1.6v1.6h-1.6zM105.6 276.6h1.6v1.6h-1.6zM108.7 275.7h1.6v1.6h-1.6zM113.9 269.1h1.6v1.6h-1.6zM118.1 279.0h1.6v1.6h-1.6zM108.6 279.8h1.6v1.6h-1.6zM144.2 324.2h1.6v1.6h-1.6z" fill="#1430e2"/>
<path d="M122.8 308.7h1.6v1.6h-1.6zM125.8 312.8h1.6v1.6h-1.6zM117.7 325.0h1.6v1.6h-1.6zM119.5 316.1h1.6v1.6h-1.6zM136.1 327.0h1.6v1.6h-1.6zM128.8 305.3h1.6v1.6h-1.6zM136.4 324.8h1.6v1.6h-1.6zM134.0 333.1h1.6v1.6h-1.6zM135.0 334.9h1.6v1.6h-1.6zM119.5 318.8h1.6v1.6h-1.6zM117.4 340.0h1.6v1.6h-1.6zM124.1 309.5h1.6v1.6h-1.6zM119.7 337.0h1.6v1.6h-1.6zM118.4 339.5h1.6v1.6h-1.6zM126.4 307.6h1.6v1.6h-1.6zM119.8 316.8h1.6v1.6h-1.6zM127.1 308.5h1.6v1.6h-1.6zM133.6 335.2h1.6v1.6h-1.6zM117.6 331.3h1.6v1.6h-1.6zM129.1 315.2h1.6v1.6h-1.6zM135.0 320.3h1.6v1.6h-1.6zM131.0 316.6h1.6v1.6h-1.6zM121.7 315.2h1.6v1.6h-1.6zM117.5 339.9h1.6v1.6h-1.6zM129.0 358.9h1.6v1.6h-1.6zM127.5 358.3h1.6v1.6h-1.6zM122.4 357.0h1.6v1.6h-1.6zM120.9 348.2h1.6v1.6h-1.6zM126.3 357.0h1.6v1.6h-1.6zM131.9 344.3h1.6v1.6h-1.6zM137.4 327.1h1.6v1.6h-1.6zM117.9 334.4h1.6v1.6h-1.6zM134.8 320.2h1.6v1.6h-1.6zM128.7 305.3h1.6v1.6h-1.6zM127.7 307.4h1.6v1.6h-1.6zM135.7 326.6h1.6v1.6h-1.6zM129.2 357.7h1.6v1.6h-1.6zM129.0 305.7h1.6v1.6h-1.6zM125.3 270.4h1.6v1.6h-1.6zM115.6 272.1h1.6v1.6h-1.6zM120.2 267.7h1.6v1.6h-1.6zM112.7 274.2h1.6v1.6h-1.6zM125.0 272.4h1.6v1.6h-1.6zM111.3 273.1h1.6v1.6h-1.6zM124.8 264.7h1.6v1.6h-1.6zM116.8 282.0h1.6v1.6h-1.6zM116.1 278.2h1.6v1.6h-1.6zM105.1 279.9h1.6v1.6h-1.6zM118.2 276.9h1.6v1.6h-1.6zM108.6 279.1h1.6v1.6h-1.6zM125.2 265.0h1.6v1.6h-1.6zM107.3 278.9h1.6v1.6h-1.6zM110.4 273.9h1.6v1.6h-1.6zM115.0 280.3h1.6v1.6h-1.6zM117.7 280.6h1.6v1.6h-1.6zM116.0 282.9h1.6v1.6h-1.6zM116.7 279.8h1.6v1.6h-1.6zM106.3 281.2h1.6v1.6h-1.6zM109.7 275.8h1.6v1.6h-1.6zM115.3 282.1h1.6v1.6h-1.6zM115.4 279.8h1.6v1.6h-1.6zM118.7 275.8h1.6v1.6h-1.6z" fill="#1456f1"/>
<path d="M132.0 338.2h1.6v1.6h-1.6zM127.2 313.3h1.6v1.6h-1.6zM130.7 351.0h1.6v1.6h-1.6zM117.9 328.5h1.6v1.6h-1.6zM135.8 324.0h1.6v1.6h-1.6zM124.4 313.7h1.6v1.6h-1.6zM130.8 342.7h1.6v1.6h-1.6zM119.0 326.7h1.6v1.6h-1.6zM118.0 333.1h1.6v1.6h-1.6zM121.2 316.5h1.6v1.6h-1.6zM123.9 315.4h1.6v1.6h-1.6zM117.8 322.8h1.6v1.6h-1.6zM134.2 321.7h1.6v1.6h-1.6zM121.8 318.4h1.6v1.6h-1.6zM120.6 319.0h1.6v1.6h-1.6zM117.6 333.4h1.6v1.6h-1.6zM124.0 314.9h1.6v1.6h-1.6zM132.3 337.6h1.6v1.6h-1.6zM130.5 346.1h1.6v1.6h-1.6zM124.5 355.2h1.6v1.6h-1.6zM127.5 356.7h1.6v1.6h-1.6zM121.6 356.3h1.6v1.6h-1.6zM121.7 353.7h1.6v1.6h-1.6zM127.4 356.3h1.6v1.6h-1.6zM124.3 355.8h1.6v1.6h-1.6zM121.4 344.6h1.6v1.6h-1.6zM130.6 349.8h1.6v1.6h-1.6zM121.9 356.2h1.6v1.6h-1.6zM127.7 357.6h1.6v1.6h-1.6zM122.3 350.7h1.6v1.6h-1.6zM131.0 318.2h1.6v1.6h-1.6zM122.0 316.8h1.6v1.6h-1.6zM120.2 318.5h1.6v1.6h-1.6zM135.6 324.7h1.6v1.6h-1.6zM117.7 331.5h1.6v1.6h-1.6zM134.7 324.6h1.6v1.6h-1.6zM134.3 323.3h1.6v1.6h-1.6zM133.7 322.0h1.6v1.6h-1.6zM117.1 269.1h1.6v1.6h-1.6zM117.2 272.4h1.6v1.6h-1.6zM124.0 272.9h1.6v1.6h-1.6zM117.0 271.2h1.6v1.6h-1.6zM122.7 272.7h1.6v1.6h-1.6zM116.8 269.6h1.6v1.6h-1.6zM124.0 265.4h1.6v1.6h-1.6zM122.5 265.9h1.6v1.6h-1.6zM123.6 270.5h1.6v1.6h-1.6zM121.1 267.1h1.6v1.6h-1.6zM115.5 275.2h1.6v1.6h-1.6zM122.8 272.7h1.6v1.6h-1.6zM122.9 269.3h1.6v1.6h-1.6zM123.6 266.1h1.6v1.6h-1.6zM118.3 275.2h1.6v1.6h-1.6zM111.4 275.1h1.6v1.6h-1.6zM123.4 267.2h1.6v1.6h-1.6zM105.9 280.8h1.6v1.6h-1.6zM105.5 279.9h1.6v1.6h-1.6zM111.1 274.5h1.6v1.6h-1.6zM115.2 274.1h1.6v1.6h-1.6zM116.7 276.6h1.6v1.6h-1.6zM116.8 276.2h1.6v1.6h-1.6zM112.3 274.1h1.6v1.6h-1.6zM124.2 271.9h1.6v1.6h-1.6z" fill="#137cfe"/>
<path d="M125.4 314.0h1.6v1.6h-1.6zM122.5 348.9h1.6v1.6h-1.6zM127.8 314.7h1.6v1.6h-1.6zM118.3 328.7h1.6v1.6h-1.6zM130.9 341.2h1.6v1.6h-1.6zM121.9 346.0h1.6v1.6h-1.6zM120.0 320.9h1.6v1.6h-1.6zM122.0 355.3h1.6v1.6h-1.6zM124.9 316.3h1.6v1.6h-1.6zM122.1 341.5h1.6v1.6h-1.6zM121.7 348.8h1.6v1.6h-1.6zM119.8 321.2h1.6v1.6h-1.6zM132.2 319.2h1.6v1.6h-1.6zM127.7 315.0h1.6v1.6h-1.6zM133.6 326.8h1.6v1.6h-1.6zM123.3 317.5h1.6v1.6h-1.6zM124.5 314.9h1.6v1.6h-1.6zM132.7 321.4h1.6v1.6h-1.6zM119.6 333.3h1.6v1.6h-1.6zM129.1 317.4h1.6v1.6h-1.6zM126.1 355.0h1.6v1.6h-1.6zM123.3 353.9h1.6v1.6h-1.6zM122.7 354.8h1.6v1.6h-1.6zM122.7 355.1h1.6v1.6h-1.6zM127.0 355.1h1.6v1.6h-1.6zM123.7 351.6h1.6v1.6h-1.6zM131.0 341.8h1.6v1.6h-1.6zM124.3 352.5h1.6v1.6h-1.6zM122.4 353.8h1.6v1.6h-1.6zM126.0 354.0h1.6v1.6h-1.6zM129.6 343.8h1.6v1.6h-1.6zM126.9 354.0h1.6v1.6h-1.6zM128.0 353.1h1.6v1.6h-1.6zM127.1 354.5h1.6v1.6h-1.6zM130.6 342.5h1.6v1.6h-1.6zM124.8 354.4h1.6v1.6h-1.6zM132.8 334.0h1.6v1.6h-1.6zM119.2 332.4h1.6v1.6h-1.6zM132.7 334.4h1.6v1.6h-1.6zM125.9 314.3h1.6v1.6h-1.6zM126.5 314.7h1.6v1.6h-1.6zM132.6 319.7h1.6v1.6h-1.6zM127.5 314.4h1.6v1.6h-1.6zM118.4 322.1h1.6v1.6h-1.6zM119.0 273.4h1.6v1.6h-1.6zM122.2 270.9h1.6v1.6h-1.6zM118.8 269.3h1.6v1.6h-1.6zM117.5 273.7h1.6v1.6h-1.6zM117.2 270.6h1.6v1.6h-1.6zM123.4 266.9h1.6v1.6h-1.6zM122.4 267.9h1.6v1.6h-1.6zM119.9 273.0h1.6v1.6h-1.6zM120.6 273.0h1.6v1.6h-1.6zM120.8 273.3h1.6v1.6h-1.6zM121.7 269.1h1.6v1.6h-1.6zM121.9 267.7h1.6v1.6h-1.6zM116.2 275.7h1.6v1.6h-1.6zM121.9 271.3h1.6v1.6h-1.6zM117.8 273.9h1.6v1.6h-1.6zM117.5 269.2h1.6v1.6h-1.6zM120.2 273.2h1.6v1.6h-1.6zM116.5 273.9h1.6v1.6h-1.6zM116.3 273.9h1.6v1.6h-1.6z" fill="#12a5f7"/>
<path d="M120.1 334.7h1.6v1.6h-1.6zM119.3 331.8h1.6v1.6h-1.6zM119.3 325.0h1.6v1.6h-1.6zM127.6 316.8h1.6v1.6h-1.6zM118.6 322.6h1.6v1.6h-1.6zM129.7 347.6h1.6v1.6h-1.6zM122.7 346.6h1.6v1.6h-1.6zM122.5 348.6h1.6v1.6h-1.6zM131.6 319.6h1.6v1.6h-1.6zM122.7 341.2h1.6v1.6h-1.6zM133.6 329.7h1.6v1.6h-1.6zM120.9 338.6h1.6v1.6h-1.6zM122.4 345.1h1.6v1.6h-1.6zM128.1 317.2h1.6v1.6h-1.6zM131.9 319.4h1.6v1.6h-1.6zM118.7 324.6h1.6v1.6h-1.6zM122.1 346.1h1.6v1.6h-1.6zM128.1 352.5h1.6v1.6h-1.6zM129.6 345.1h1.6v1.6h-1.6zM124.4 348.5h1.6v1.6h-1.6zM122.6 343.5h1.6v1.6h-1.6zM123.7 351.2h1.6v1.6h-1.6zM123.1 347.6h1.6v1.6h-1.6zM122.2 344.4h1.6v1.6h-1.6zM129.8 351.2h1.6v1.6h-1.6zM124.0 349.9h1.6v1.6h-1.6zM128.7 352.1h1.6v1.6h-1.6zM124.7 347.8h1.6v1.6h-1.6zM123.5 350.1h1.6v1.6h-1.6zM122.8 349.8h1.6v1.6h-1.6zM122.9 346.3h1.6v1.6h-1.6zM132.9 323.8h1.6v1.6h-1.6zM129.8 349.2h1.6v1.6h-1.6zM119.7 271.7h1.6v1.6h-1.6zM118.7 270.6h1.6v1.6h-1.6zM121.3 269.9h1.6v1.6h-1.6zM120.2 271.4h1.6v1.6h-1.6zM118.2 270.4h1.6v1.6h-1.6zM121.4 269.7h1.6v1.6h-1.6z" fill="#10cdf0"/>
<path d="M124.0 318.0h1.6v1.6h-1.6zM128.7 318.5h1.6v1.6h-1.6zM125.4 317.6h1.6v1.6h-1.6zM131.7 320.7h1.6v1.6h-1.6zM128.8 318.9h1.6v1.6h-1.6zM133.3 328.7h1.6v1.6h-1.6zM119.4 324.1h1.6v1.6h-1.6zM129.1 347.2h1.6v1.6h-1.6zM126.9 317.3h1.6v1.6h-1.6zM126.5 351.7h1.6v1.6h-1.6zM125.7 317.5h1.6v1.6h-1.6zM119.2 324.3h1.6v1.6h-1.6zM119.5 323.1h1.6v1.6h-1.6zM118.9 328.9h1.6v1.6h-1.6zM119.5 323.0h1.6v1.6h-1.6zM118.9 329.6h1.6v1.6h-1.6zM126.8 352.1h1.6v1.6h-1.6zM129.3 345.5h1.6v1.6h-1.6zM125.7 350.2h1.6v1.6h-1.6zM124.4 346.6h1.6v1.6h-1.6zM124.9 350.6h1.6v1.6h-1.6zM126.0 348.5h1.6v1.6h-1.6zM129.3 347.0h1.6v1.6h-1.6zM121.2 338.6h1.6v1.6h-1.6zM125.0 351.3h1.6v1.6h-1.6zM129.5 345.6h1.6v1.6h-1.6zM126.4 348.6h1.6v1.6h-1.6zM128.9 344.8h1.6v1.6h-1.6zM126.0 348.6h1.6v1.6h-1.6zM124.9 351.0h1.6v1.6h-1.6zM126.5 351.9h1.6v1.6h-1.6zM129.6 350.5h1.6v1.6h-1.6zM125.8 347.1h1.6v1.6h-1.6zM129.3 351.3h1.6v1.6h-1.6zM122.7 344.0h1.6v1.6h-1.6zM130.8 320.5h1.6v1.6h-1.6zM124.5 347.3h1.6v1.6h-1.6zM130.7 339.6h1.6v1.6h-1.6zM131.6 321.0h1.6v1.6h-1.6zM121.2 320.9h1.6v1.6h-1.6zM120.4 322.7h1.6v1.6h-1.6zM119.5 270.7h1.6v1.6h-1.6zM120.2 270.3h1.6v1.6h-1.6zM119.2 270.3h1.6v1.6h-1.6zM120.0 270.1h1.6v1.6h-1.6z" fill="#14d6c9"/>
<path d="M120.7 334.7h1.6v1.6h-1.6zM132.2 325.8h1.6v1.6h-1.6zM122.2 319.8h1.6v1.6h-1.6zM126.9 317.5h1.6v1.6h-1.6zM131.0 337.3h1.6v1.6h-1.6zM132.1 332.8h1.6v1.6h-1.6zM120.3 323.6h1.6v1.6h-1.6zM120.1 326.9h1.6v1.6h-1.6zM130.4 339.1h1.6v1.6h-1.6zM119.8 323.6h1.6v1.6h-1.6zM120.7 335.0h1.6v1.6h-1.6zM122.8 340.5h1.6v1.6h-1.6zM131.0 320.8h1.6v1.6h-1.6zM126.2 349.4h1.6v1.6h-1.6zM130.6 339.1h1.6v1.6h-1.6zM128.0 344.3h1.6v1.6h-1.6zM127.4 344.5h1.6v1.6h-1.6zM132.8 329.5h1.6v1.6h-1.6zM121.2 322.5h1.6v1.6h-1.6zM132.6 330.5h1.6v1.6h-1.6zM119.3 329.0h1.6v1.6h-1.6zM131.1 336.1h1.6v1.6h-1.6zM127.6 351.7h1.6v1.6h-1.6zM127.4 351.6h1.6v1.6h-1.6zM125.1 345.9h1.6v1.6h-1.6zM121.9 339.2h1.6v1.6h-1.6zM128.2 347.5h1.6v1.6h-1.6zM127.4 345.0h1.6v1.6h-1.6zM128.9 346.3h1.6v1.6h-1.6zM129.1 349.8h1.6v1.6h-1.6zM127.6 347.0h1.6v1.6h-1.6zM123.5 341.5h1.6v1.6h-1.6zM128.0 346.9h1.6v1.6h-1.6zM126.6 345.8h1.6v1.6h-1.6zM125.9 350.8h1.6v1.6h-1.6zM127.3 350.5h1.6v1.6h-1.6zM123.5 343.6h1.6v1.6h-1.6zM128.9 349.7h1.6v1.6h-1.6zM123.5 343.7h1.6v1.6h-1.6zM127.3 349.3h1.6v1.6h-1.6zM127.6 349.1h1.6v1.6h-1.6zM127.4 345.9h1.6v1.6h-1.6zM127.7 348.3h1.6v1.6h-1.6zM127.1 345.3h1.6v1.6h-1.6zM121.3 336.9h1.6v1.6h-1.6zM132.7 327.3h1.6v1.6h-1.6zM125.3 346.1h1.6v1.6h-1.6zM127.7 347.6h1.6v1.6h-1.6zM128.0 317.9h1.6v1.6h-1.6z" fill="#18db9d"/>
<path d="M119.9 328.3h1.6v1.6h-1.6zM124.2 318.7h1.6v1.6h-1.6zM120.5 325.9h1.6v1.6h-1.6zM131.4 334.7h1.6v1.6h-1.6zM128.7 319.9h1.6v1.6h-1.6zM119.9 330.7h1.6v1.6h-1.6zM125.4 318.1h1.6v1.6h-1.6zM132.7 328.7h1.6v1.6h-1.6zM131.1 335.7h1.6v1.6h-1.6zM121.9 338.6h1.6v1.6h-1.6zM122.0 339.2h1.6v1.6h-1.6zM124.5 318.5h1.6v1.6h-1.6zM119.7 328.3h1.6v1.6h-1.6zM132.7 327.9h1.6v1.6h-1.6zM132.6 327.8h1.6v1.6h-1.6zM124.3 345.1h1.6v1.6h-1.6zM124.3 343.6h1.6v1.6h-1.6zM128.2 350.4h1.6v1.6h-1.6zM129.5 341.1h1.6v1.6h-1.6zM125.1 345.6h1.6v1.6h-1.6zM128.2 350.5h1.6v1.6h-1.6zM127.8 349.6h1.6v1.6h-1.6zM127.6 343.6h1.6v1.6h-1.6zM127.5 343.8h1.6v1.6h-1.6zM128.2 350.0h1.6v1.6h-1.6zM132.5 329.7h1.6v1.6h-1.6z" fill="#1de072"/>
<path d="M128.7 320.2h1.6v1.6h-1.6zM127.1 318.4h1.6v1.6h-1.6zM131.7 325.7h1.6v1.6h-1.6zM131.1 334.7h1.6v1.6h-1.6zM130.1 338.9h1.6v1.6h-1.6zM123.0 339.9h1.6v1.6h-1.6zM132.1 328.0h1.6v1.6h-1.6zM129.3 340.8h1.6v1.6h-1.6zM120.9 332.8h1.6v1.6h-1.6zM130.2 337.8h1.6v1.6h-1.6zM132.0 326.8h1.6v1.6h-1.6zM125.2 343.3h1.6v1.6h-1.6zM131.8 325.2h1.6v1.6h-1.6zM124.8 344.6h1.6v1.6h-1.6zM131.7 323.8h1.6v1.6h-1.6zM129.4 340.1h1.6v1.6h-1.6zM126.0 343.5h1.6v1.6h-1.6zM124.5 342.3h1.6v1.6h-1.6zM132.3 327.5h1.6v1.6h-1.6zM130.7 321.7h1.6v1.6h-1.6zM120.0 330.1h1.6v1.6h-1.6zM124.7 344.1h1.6v1.6h-1.6zM128.2 342.2h1.6v1.6h-1.6zM125.3 344.7h1.6v1.6h-1.6zM127.9 342.7h1.6v1.6h-1.6zM127.4 343.1h1.6v1.6h-1.6zM125.2 344.5h1.6v1.6h-1.6zM125.3 344.6h1.6v1.6h-1.6zM125.4 344.3h1.6v1.6h-1.6z" fill="#24e157"/>
<path d="M127.8 319.3h1.6v1.6h-1.6zM122.1 321.9h1.6v1.6h-1.6zM129.3 321.2h1.6v1.6h-1.6zM122.1 336.5h1.6v1.6h-1.6zM122.2 337.5h1.6v1.6h-1.6zM127.7 319.3h1.6v1.6h-1.6zM131.5 326.5h1.6v1.6h-1.6zM129.8 338.1h1.6v1.6h-1.6zM120.7 327.0h1.6v1.6h-1.6zM123.0 320.1h1.6v1.6h-1.6zM124.8 342.0h1.6v1.6h-1.6zM125.2 342.9h1.6v1.6h-1.6zM131.5 323.8h1.6v1.6h-1.6zM123.7 319.7h1.6v1.6h-1.6zM129.4 339.8h1.6v1.6h-1.6zM131.1 322.8h1.6v1.6h-1.6zM128.6 341.6h1.6v1.6h-1.6zM124.8 342.4h1.6v1.6h-1.6zM127.5 342.5h1.6v1.6h-1.6z" fill="#2be13e"/>
<path d="M121.3 324.5h1.6v1.6h-1.6zM131.1 327.6h1.6v1.6h-1.6zM121.1 332.1h1.6v1.6h-1.6zM131.2 327.1h1.6v1.6h-1.6zM131.5 330.4h1.6v1.6h-1.6zM124.5 340.5h1.6v1.6h-1.6zM121.4 333.5h1.6v1.6h-1.6zM123.6 339.6h1.6v1.6h-1.6zM131.2 325.5h1.6v1.6h-1.6zM125.1 341.4h1.6v1.6h-1.6zM122.6 320.8h1.6v1.6h-1.6zM120.7 328.8h1.6v1.6h-1.6zM122.5 320.8h1.6v1.6h-1.6zM121.8 335.0h1.6v1.6h-1.6zM120.5 330.1h1.6v1.6h-1.6zM123.0 339.0h1.6v1.6h-1.6zM122.2 321.5h1.6v1.6h-1.6zM121.5 334.5h1.6v1.6h-1.6zM128.8 340.6h1.6v1.6h-1.6zM124.6 340.8h1.6v1.6h-1.6zM131.1 323.2h1.6v1.6h-1.6zM126.7 318.9h1.6v1.6h-1.6zM129.2 339.7h1.6v1.6h-1.6zM123.5 320.1h1.6v1.6h-1.6zM121.7 334.7h1.6v1.6h-1.6zM130.6 322.6h1.6v1.6h-1.6zM131.3 323.4h1.6v1.6h-1.6zM129.3 321.5h1.6v1.6h-1.6zM128.5 340.9h1.6v1.6h-1.6zM124.6 340.4h1.6v1.6h-1.6zM126.6 342.3h1.6v1.6h-1.6zM126.6 342.5h1.6v1.6h-1.6zM125.9 342.2h1.6v1.6h-1.6zM122.9 339.0h1.6v1.6h-1.6zM131.6 329.6h1.6v1.6h-1.6zM130.0 336.9h1.6v1.6h-1.6zM131.2 328.1h1.6v1.6h-1.6zM131.4 331.9h1.6v1.6h-1.6z" fill="#36e127"/>
<path d="M131.1 330.7h1.6v1.6h-1.6zM125.3 319.3h1.6v1.6h-1.6zM122.5 321.5h1.6v1.6h-1.6zM121.3 325.3h1.6v1.6h-1.6zM130.7 326.9h1.6v1.6h-1.6zM131.2 332.7h1.6v1.6h-1.6zM130.8 328.6h1.6v1.6h-1.6zM126.1 319.2h1.6v1.6h-1.6zM126.4 341.9h1.6v1.6h-1.6zM125.3 341.1h1.6v1.6h-1.6zM129.8 322.3h1.6v1.6h-1.6zM122.7 321.2h1.6v1.6h-1.6zM121.0 331.4h1.6v1.6h-1.6zM130.3 335.8h1.6v1.6h-1.6zM129.7 337.6h1.6v1.6h-1.6zM128.0 320.4h1.6v1.6h-1.6zM120.8 330.4h1.6v1.6h-1.6zM123.0 338.0h1.6v1.6h-1.6zM120.7 330.4h1.6v1.6h-1.6zM122.5 336.5h1.6v1.6h-1.6zM125.2 340.7h1.6v1.6h-1.6zM121.1 328.2h1.6v1.6h-1.6zM121.4 324.7h1.6v1.6h-1.6zM127.6 341.4h1.6v1.6h-1.6zM120.9 328.8h1.6v1.6h-1.6zM123.9 339.4h1.6v1.6h-1.6zM125.8 341.9h1.6v1.6h-1.6zM130.8 323.0h1.6v1.6h-1.6zM127.2 341.6h1.6v1.6h-1.6zM127.0 341.7h1.6v1.6h-1.6zM125.1 340.7h1.6v1.6h-1.6zM127.8 341.2h1.6v1.6h-1.6zM125.8 341.7h1.6v1.6h-1.6zM131.1 324.4h1.6v1.6h-1.6zM131.2 330.4h1.6v1.6h-1.6zM131.3 330.7h1.6v1.6h-1.6z" fill="#61e120"/>
<path d="M124.0 320.3h1.6v1.6h-1.6zM128.8 321.9h1.6v1.6h-1.6zM123.1 337.7h1.6v1.6h-1.6zM131.0 330.3h1.6v1.6h-1.6zM122.5 322.9h1.6v1.6h-1.6zM130.6 325.0h1.6v1.6h-1.6zM130.8 333.1h1.6v1.6h-1.6zM127.8 340.6h1.6v1.6h-1.6zM123.1 338.0h1.6v1.6h-1.6zM130.6 323.2h1.6v1.6h-1.6zM130.7 323.9h1.6v1.6h-1.6zM121.4 331.8h1.6v1.6h-1.6zM123.4 338.2h1.6v1.6h-1.6zM128.8 321.7h1.6v1.6h-1.6zM121.8 324.4h1.6v1.6h-1.6zM130.9 330.1h1.6v1.6h-1.6zM122.2 323.5h1.6v1.6h-1.6zM130.8 329.6h1.6v1.6h-1.6zM122.9 336.5h1.6v1.6h-1.6zM130.8 333.5h1.6v1.6h-1.6zM127.1 319.9h1.6v1.6h-1.6zM122.1 334.3h1.6v1.6h-1.6zM126.1 319.3h1.6v1.6h-1.6zM128.0 340.2h1.6v1.6h-1.6zM123.5 320.6h1.6v1.6h-1.6zM130.6 328.8h1.6v1.6h-1.6zM126.8 341.0h1.6v1.6h-1.6zM127.7 341.0h1.6v1.6h-1.6zM130.7 323.6h1.6v1.6h-1.6zM122.8 322.0h1.6v1.6h-1.6zM121.0 329.1h1.6v1.6h-1.6zM129.3 322.3h1.6v1.6h-1.6zM121.6 326.6h1.6v1.6h-1.6zM121.1 330.5h1.6v1.6h-1.6zM131.0 330.2h1.6v1.6h-1.6zM130.3 323.4h1.6v1.6h-1.6zM121.7 324.6h1.6v1.6h-1.6zM130.5 333.6h1.6v1.6h-1.6zM127.3 340.9h1.6v1.6h-1.6z" fill="#8be119"/>
<path d="M123.3 336.2h1.6v1.6h-1.6zM123.4 337.9h1.6v1.6h-1.6zM124.2 338.4h1.6v1.6h-1.6zM123.7 321.0h1.6v1.6h-1.6zM121.3 329.0h1.6v1.6h-1.6zM130.7 331.7h1.6v1.6h-1.6zM125.3 339.7h1.6v1.6h-1.6zM128.8 338.3h1.6v1.6h-1.6zM121.5 329.2h1.6v1.6h-1.6zM130.3 330.4h1.6v1.6h-1.6zM128.3 321.3h1.6v1.6h-1.6zM121.4 330.6h1.6v1.6h-1.6zM130.5 331.3h1.6v1.6h-1.6zM125.5 339.7h1.6v1.6h-1.6zM122.2 334.0h1.6v1.6h-1.6zM121.9 325.2h1.6v1.6h-1.6zM123.8 338.5h1.6v1.6h-1.6zM125.8 340.5h1.6v1.6h-1.6zM128.6 338.9h1.6v1.6h-1.6zM130.5 332.5h1.6v1.6h-1.6zM130.4 329.6h1.6v1.6h-1.6zM129.0 337.8h1.6v1.6h-1.6zM122.1 324.8h1.6v1.6h-1.6zM124.8 320.1h1.6v1.6h-1.6zM130.3 323.5h1.6v1.6h-1.6zM121.7 331.4h1.6v1.6h-1.6zM130.8 331.8h1.6v1.6h-1.6zM130.3 325.3h1.6v1.6h-1.6zM121.6 331.2h1.6v1.6h-1.6zM122.9 335.6h1.6v1.6h-1.6zM130.0 335.3h1.6v1.6h-1.6zM123.1 336.7h1.6v1.6h-1.6zM130.4 331.1h1.6v1.6h-1.6zM130.5 333.4h1.6v1.6h-1.6zM122.9 322.4h1.6v1.6h-1.6zM122.3 333.6h1.6v1.6h-1.6zM126.9 340.4h1.6v1.6h-1.6zM123.5 337.3h1.6v1.6h-1.6zM122.0 324.8h1.6v1.6h-1.6zM124.1 320.5h1.6v1.6h-1.6zM130.0 335.6h1.6v1.6h-1.6zM127.4 320.5h1.6v1.6h-1.6zM121.8 327.3h1.6v1.6h-1.6zM130.4 325.7h1.6v1.6h-1.6zM130.5 332.1h1.6v1.6h-1.6zM130.6 332.9h1.6v1.6h-1.6zM127.9 320.8h1.6v1.6h-1.6zM127.1 340.4h1.6v1.6h-1.6zM123.2 337.1h1.6v1.6h-1.6zM125.7 319.6h1.6v1.6h-1.6zM130.2 328.1h1.6v1.6h-1.6zM121.2 329.3h1.6v1.6h-1.6zM125.5 340.0h1.6v1.6h-1.6zM126.6 340.6h1.6v1.6h-1.6zM122.7 335.4h1.6v1.6h-1.6zM130.0 335.1h1.6v1.6h-1.6zM129.9 323.5h1.6v1.6h-1.6zM127.0 320.0h1.6v1.6h-1.6zM130.6 331.7h1.6v1.6h-1.6z" fill="#b5d511"/>
<path d="M125.1 320.3h1.6v1.6h-1.6zM123.4 335.9h1.6v1.6h-1.6zM122.5 334.0h1.6v1.6h-1.6zM122.6 333.6h1.6v1.6h-1.6zM129.7 328.7h1.6v1.6h-1.6zM126.0 339.9h1.6v1.6h-1.6zM130.1 331.1h1.6v1.6h-1.6zM123.4 335.6h1.6v1.6h-1.6zM129.7 323.2h1.6v1.6h-1.6zM128.1 339.2h1.6v1.6h-1.6zM122.9 323.1h1.6v1.6h-1.6zM124.4 338.4h1.6v1.6h-1.6zM125.6 319.9h1.6v1.6h-1.6zM124.7 338.5h1.6v1.6h-1.6zM124.4 338.5h1.6v1.6h-1.6zM129.4 323.1h1.6v1.6h-1.6zM122.7 334.5h1.6v1.6h-1.6zM130.0 324.7h1.6v1.6h-1.6zM127.9 339.5h1.6v1.6h-1.6zM123.5 321.6h1.6v1.6h-1.6zM123.3 321.9h1.6v1.6h-1.6zM121.8 327.8h1.6v1.6h-1.6zM123.0 323.0h1.6v1.6h-1.6zM129.9 330.3h1.6v1.6h-1.6zM130.0 326.0h1.6v1.6h-1.6zM123.4 336.0h1.6v1.6h-1.6zM122.3 325.1h1.6v1.6h-1.6zM122.1 326.4h1.6v1.6h-1.6zM124.5 338.4h1.6v1.6h-1.6zM130.0 325.5h1.6v1.6h-1.6zM125.8 319.9h1.6v1.6h-1.6zM122.2 332.2h1.6v1.6h-1.6zM129.8 323.7h1.6v1.6h-1.6zM122.2 326.7h1.6v1.6h-1.6zM126.1 319.9h1.6v1.6h-1.6zM129.8 327.1h1.6v1.6h-1.6zM121.9 327.5h1.6v1.6h-1.6zM121.9 327.3h1.6v1.6h-1.6zM122.9 335.0h1.6v1.6h-1.6zM127.3 340.2h1.6v1.6h-1.6zM130.2 333.2h1.6v1.6h-1.6zM123.9 337.2h1.6v1.6h-1.6zM125.5 339.1h1.6v1.6h-1.6zM123.6 335.8h1.6v1.6h-1.6zM125.3 339.5h1.6v1.6h-1.6z" fill="#dcae08"/>
<path d="M129.3 335.5h1.6v1.6h-1.6zM122.1 331.5h1.6v1.6h-1.6zM124.6 337.6h1.6v1.6h-1.6zM125.0 320.6h1.6v1.6h-1.6zM129.5 325.2h1.6v1.6h-1.6zM122.7 333.5h1.6v1.6h-1.6zM129.4 328.5h1.6v1.6h-1.6zM126.3 320.1h1.6v1.6h-1.6zM128.3 338.6h1.6v1.6h-1.6zM123.2 334.2h1.6v1.6h-1.6zM127.2 321.0h1.6v1.6h-1.6zM122.5 326.6h1.6v1.6h-1.6zM129.8 326.5h1.6v1.6h-1.6zM129.7 331.9h1.6v1.6h-1.6zM124.3 336.6h1.6v1.6h-1.6zM129.8 325.2h1.6v1.6h-1.6zM129.5 334.8h1.6v1.6h-1.6zM124.0 335.1h1.6v1.6h-1.6zM129.6 327.7h1.6v1.6h-1.6zM129.6 329.5h1.6v1.6h-1.6zM129.3 335.9h1.6v1.6h-1.6zM129.5 334.9h1.6v1.6h-1.6zM128.6 322.7h1.6v1.6h-1.6zM121.9 330.3h1.6v1.6h-1.6zM121.9 330.6h1.6v1.6h-1.6zM129.3 330.7h1.6v1.6h-1.6zM123.0 323.8h1.6v1.6h-1.6zM129.5 333.6h1.6v1.6h-1.6zM129.8 332.9h1.6v1.6h-1.6zM129.4 324.8h1.6v1.6h-1.6zM122.0 329.1h1.6v1.6h-1.6zM122.7 333.8h1.6v1.6h-1.6zM127.0 339.5h1.6v1.6h-1.6zM129.3 335.6h1.6v1.6h-1.6zM129.5 327.8h1.6v1.6h-1.6zM123.9 336.0h1.6v1.6h-1.6zM123.9 321.5h1.6v1.6h-1.6zM129.5 334.4h1.6v1.6h-1.6zM129.8 333.8h1.6v1.6h-1.6zM125.0 338.5h1.6v1.6h-1.6zM129.5 333.5h1.6v1.6h-1.6zM122.4 332.3h1.6v1.6h-1.6zM122.6 326.5h1.6v1.6h-1.6zM128.7 337.5h1.6v1.6h-1.6zM121.7 330.1h1.6v1.6h-1.6zM129.7 326.0h1.6v1.6h-1.6zM122.5 324.9h1.6v1.6h-1.6zM122.3 328.4h1.6v1.6h-1.6zM123.1 334.6h1.6v1.6h-1.6zM124.3 337.2h1.6v1.6h-1.6zM129.7 324.6h1.6v1.6h-1.6zM125.9 339.2h1.6v1.6h-1.6zM129.5 330.3h1.6v1.6h-1.6zM122.3 326.4h1.6v1.6h-1.6zM128.8 336.9h1.6v1.6h-1.6zM129.1 336.4h1.6v1.6h-1.6zM122.5 325.8h1.6v1.6h-1.6zM124.8 337.7h1.6v1.6h-1.6zM129.4 325.0h1.6v1.6h-1.6zM122.5 324.9h1.6v1.6h-1.6zM126.3 320.2h1.6v1.6h-1.6zM129.6 331.4h1.6v1.6h-1.6zM129.6 324.3h1.6v1.6h-1.6zM122.4 327.2h1.6v1.6h-1.6zM129.5 329.8h1.6v1.6h-1.6zM127.1 320.8h1.6v1.6h-1.6zM128.3 322.1h1.6v1.6h-1.6zM126.1 320.1h1.6v1.6h-1.6zM122.3 327.3h1.6v1.6h-1.6zM127.0 339.6h1.6v1.6h-1.6zM129.8 333.2h1.6v1.6h-1.6z" fill="#ff8700"/>
<path d="M123.2 333.4h1.6v1.6h-1.6zM128.2 337.6h1.6v1.6h-1.6zM128.8 331.6h1.6v1.6h-1.6zM124.9 336.1h1.6v1.6h-1.6zM122.4 329.0h1.6v1.6h-1.6zM122.4 328.5h1.6v1.6h-1.6zM126.4 338.8h1.6v1.6h-1.6zM129.2 327.5h1.6v1.6h-1.6zM129.2 332.6h1.6v1.6h-1.6zM122.3 328.9h1.6v1.6h-1.6zM126.4 320.9h1.6v1.6h-1.6zM122.8 325.3h1.6v1.6h-1.6zM125.5 320.7h1.6v1.6h-1.6zM129.5 326.0h1.6v1.6h-1.6zM129.0 333.8h1.6v1.6h-1.6zM122.8 325.0h1.6v1.6h-1.6zM126.0 320.6h1.6v1.6h-1.6zM124.9 336.6h1.6v1.6h-1.6zM122.7 332.5h1.6v1.6h-1.6zM129.4 332.7h1.6v1.6h-1.6zM128.4 337.3h1.6v1.6h-1.6zM125.7 338.6h1.6v1.6h-1.6zM129.2 335.7h1.6v1.6h-1.6zM123.5 323.4h1.6v1.6h-1.6zM129.0 332.0h1.6v1.6h-1.6zM124.5 334.7h1.6v1.6h-1.6zM122.7 327.1h1.6v1.6h-1.6zM126.8 338.9h1.6v1.6h-1.6zM128.7 323.2h1.6v1.6h-1.6zM127.8 322.2h1.6v1.6h-1.6zM129.6 332.9h1.6v1.6h-1.6zM129.4 326.7h1.6v1.6h-1.6zM127.4 321.8h1.6v1.6h-1.6zM123.6 334.3h1.6v1.6h-1.6zM129.2 327.7h1.6v1.6h-1.6zM128.8 331.2h1.6v1.6h-1.6zM129.1 331.8h1.6v1.6h-1.6zM129.3 329.6h1.6v1.6h-1.6zM127.3 339.1h1.6v1.6h-1.6zM129.1 332.6h1.6v1.6h-1.6zM122.2 330.6h1.6v1.6h-1.6zM127.4 338.9h1.6v1.6h-1.6zM125.2 337.7h1.6v1.6h-1.6zM129.1 328.9h1.6v1.6h-1.6zM127.3 338.8h1.6v1.6h-1.6zM124.5 335.9h1.6v1.6h-1.6zM125.8 320.5h1.6v1.6h-1.6zM129.2 328.4h1.6v1.6h-1.6zM122.6 327.3h1.6v1.6h-1.6zM129.4 325.9h1.6v1.6h-1.6zM123.2 324.0h1.6v1.6h-1.6zM127.6 338.5h1.6v1.6h-1.6zM124.6 321.3h1.6v1.6h-1.6zM129.5 332.3h1.6v1.6h-1.6zM126.5 339.2h1.6v1.6h-1.6zM126.9 321.0h1.6v1.6h-1.6zM128.0 338.0h1.6v1.6h-1.6zM127.7 321.9h1.6v1.6h-1.6zM124.1 322.1h1.6v1.6h-1.6zM122.6 331.7h1.6v1.6h-1.6zM129.2 328.7h1.6v1.6h-1.6zM122.8 332.0h1.6v1.6h-1.6zM124.4 336.1h1.6v1.6h-1.6zM124.9 335.8h1.6v1.6h-1.6zM129.6 332.6h1.6v1.6h-1.6zM127.8 338.7h1.6v1.6h-1.6zM122.8 325.2h1.6v1.6h-1.6zM123.8 322.2h1.6v1.6h-1.6zM126.8 339.2h1.6v1.6h-1.6zM124.2 335.3h1.6v1.6h-1.6zM126.1 320.6h1.6v1.6h-1.6zM124.1 322.2h1.6v1.6h-1.6zM129.3 326.6h1.6v1.6h-1.6zM129.2 329.5h1.6v1.6h-1.6zM129.1 335.0h1.6v1.6h-1.6zM128.9 335.8h1.6v1.6h-1.6zM122.1 330.4h1.6v1.6h-1.6zM129.0 323.5h1.6v1.6h-1.6zM124.5 336.0h1.6v1.6h-1.6zM122.8 326.7h1.6v1.6h-1.6zM122.9 327.4h1.6v1.6h-1.6zM123.0 327.0h1.6v1.6h-1.6zM125.1 336.8h1.6v1.6h-1.6zM129.1 334.4h1.6v1.6h-1.6zM128.9 334.4h1.6v1.6h-1.6zM125.3 337.9h1.6v1.6h-1.6zM128.9 324.0h1.6v1.6h-1.6zM123.2 333.7h1.6v1.6h-1.6zM128.9 336.1h1.6v1.6h-1.6zM124.7 336.3h1.6v1.6h-1.6zM127.4 321.7h1.6v1.6h-1.6zM128.8 336.0h1.6v1.6h-1.6zM123.9 322.4h1.6v1.6h-1.6zM124.8 337.3h1.6v1.6h-1.6zM126.3 338.8h1.6v1.6h-1.6zM125.7 338.3h1.6v1.6h-1.6zM125.2 337.4h1.6v1.6h-1.6zM123.7 334.0h1.6v1.6h-1.6zM129.3 326.1h1.6v1.6h-1.6zM123.1 324.2h1.6v1.6h-1.6zM125.4 320.8h1.6v1.6h-1.6z" fill="#ff5904"/>
<path d="M126.6 323.6h1.6v1.6h-1.6zM128.2 332.9h1.6v1.6h-1.6zM127.4 332.7h1.6v1.6h-1.6zM124.1 323.5h1.6v1.6h-1.6zM127.1 324.8h1.6v1.6h-1.6zM125.8 325.9h1.6v1.6h-1.6zM125.6 332.9h1.6v1.6h-1.6zM124.5 325.9h1.6v1.6h-1.6zM127.7 330.7h1.6v1.6h-1.6zM128.1 329.5h1.6v1.6h-1.6zM124.9 326.2h1.6v1.6h-1.6zM125.5 329.5h1.6v1.6h-1.6zM126.0 333.8h1.6v1.6h-1.6zM128.1 323.4h1.6v1.6h-1.6zM126.7 323.2h1.6v1.6h-1.6zM127.1 326.3h1.6v1.6h-1.6zM125.8 334.1h1.6v1.6h-1.6zM126.3 321.8h1.6v1.6h-1.6zM125.9 321.9h1.6v1.6h-1.6zM125.7 336.3h1.6v1.6h-1.6zM127.1 335.5h1.6v1.6h-1.6zM127.5 333.9h1.6v1.6h-1.6zM125.2 325.6h1.6v1.6h-1.6zM125.4 335.5h1.6v1.6h-1.6zM125.5 331.9h1.6v1.6h-1.6zM126.8 326.6h1.6v1.6h-1.6zM124.5 324.4h1.6v1.6h-1.6zM127.2 336.5h1.6v1.6h-1.6zM124.0 330.2h1.6v1.6h-1.6zM125.0 325.2h1.6v1.6h-1.6zM126.5 330.8h1.6v1.6h-1.6zM123.3 331.9h1.6v1.6h-1.6zM124.2 328.2h1.6v1.6h-1.6zM126.3 336.5h1.6v1.6h-1.6zM126.6 332.0h1.6v1.6h-1.6zM126.4 328.9h1.6v1.6h-1.6zM127.2 331.4h1.6v1.6h-1.6zM123.0 332.0h1.6v1.6h-1.6zM126.2 328.8h1.6v1.6h-1.6zM125.4 330.6h1.6v1.6h-1.6zM126.2 336.3h1.6v1.6h-1.6zM126.6 326.7h1.6v1.6h-1.6zM127.9 324.3h1.6v1.6h-1.6zM127.9 327.6h1.6v1.6h-1.6zM126.6 333.8h1.6v1.6h-1.6zM123.1 330.2h1.6v1.6h-1.6zM129.0 326.2h1.6v1.6h-1.6zM123.6 331.3h1.6v1.6h-1.6zM127.5 329.4h1.6v1.6h-1.6zM127.8 324.5h1.6v1.6h-1.6zM123.8 333.0h1.6v1.6h-1.6zM125.6 322.7h1.6v1.6h-1.6zM124.5 322.0h1.6v1.6h-1.6zM126.0 326.8h1.6v1.6h-1.6zM124.8 326.0h1.6v1.6h-1.6zM125.9 328.2h1.6v1.6h-1.6zM126.5 323.2h1.6v1.6h-1.6zM123.9 328.2h1.6v1.6h-1.6zM125.4 329.9h1.6v1.6h-1.6zM125.1 325.2h1.6v1.6h-1.6zM127.1 328.5h1.6v1.6h-1.6zM125.2 326.1h1.6v1.6h-1.6zM126.5 321.7h1.6v1.6h-1.6zM127.2 322.5h1.6v1.6h-1.6zM127.9 335.8h1.6v1.6h-1.6zM126.4 332.0h1.6v1.6h-1.6zM126.2 333.3h1.6v1.6h-1.6zM127.9 332.1h1.6v1.6h-1.6zM124.0 324.8h1.6v1.6h-1.6zM125.3 333.9h1.6v1.6h-1.6zM126.5 324.5h1.6v1.6h-1.6zM123.9 331.2h1.6v1.6h-1.6zM128.7 327.2h1.6v1.6h-1.6zM125.0 323.7h1.6v1.6h-1.6zM128.5 326.6h1.6v1.6h-1.6zM123.4 331.3h1.6v1.6h-1.6zM127.2 330.9h1.6v1.6h-1.6zM126.8 328.5h1.6v1.6h-1.6zM125.6 326.7h1.6v1.6h-1.6zM125.8 331.0h1.6v1.6h-1.6zM126.4 328.3h1.6v1.6h-1.6zM124.0 326.1h1.6v1.6h-1.6zM125.5 325.8h1.6v1.6h-1.6zM125.3 329.9h1.6v1.6h-1.6zM123.6 325.6h1.6v1.6h-1.6zM126.9 328.9h1.6v1.6h-1.6zM125.1 325.8h1.6v1.6h-1.6zM127.2 326.7h1.6v1.6h-1.6zM127.7 334.7h1.6v1.6h-1.6zM126.2 335.7h1.6v1.6h-1.6zM127.3 326.2h1.6v1.6h-1.6zM128.0 327.6h1.6v1.6h-1.6zM126.2 333.6h1.6v1.6h-1.6zM127.6 325.0h1.6v1.6h-1.6zM125.8 325.3h1.6v1.6h-1.6zM126.9 330.1h1.6v1.6h-1.6zM125.3 330.8h1.6v1.6h-1.6zM125.1 331.4h1.6v1.6h-1.6zM127.7 327.7h1.6v1.6h-1.6zM125.6 325.3h1.6v1.6h-1.6zM125.1 325.5h1.6v1.6h-1.6zM123.2 328.3h1.6v1.6h-1.6zM128.7 326.2h1.6v1.6h-1.6zM125.2 330.0h1.6v1.6h-1.6zM127.4 333.8h1.6v1.6h-1.6zM124.9 328.4h1.6v1.6h-1.6zM127.5 333.1h1.6v1.6h-1.6zM126.5 334.9h1.6v1.6h-1.6zM124.8 325.6h1.6v1.6h-1.6zM123.8 327.9h1.6v1.6h-1.6zM126.8 330.2h1.6v1.6h-1.6zM128.3 325.0h1.6v1.6h-1.6zM125.5 323.2h1.6v1.6h-1.6zM124.8 333.8h1.6v1.6h-1.6zM127.0 333.4h1.6v1.6h-1.6zM128.1 334.4h1.6v1.6h-1.6zM127.5 326.1h1.6v1.6h-1.6zM123.1 326.4h1.6v1.6h-1.6zM124.3 328.4h1.6v1.6h-1.6zM128.0 329.6h1.6v1.6h-1.6zM127.5 327.0h1.6v1.6h-1.6zM124.7 330.7h1.6v1.6h-1.6zM125.8 322.0h1.6v1.6h-1.6zM125.7 332.4h1.6v1.6h-1.6zM126.6 338.1h1.6v1.6h-1.6zM125.2 323.4h1.6v1.6h-1.6zM124.6 324.2h1.6v1.6h-1.6zM124.5 325.6h1.6v1.6h-1.6zM123.3 331.3h1.6v1.6h-1.6zM123.3 329.3h1.6v1.6h-1.6zM126.5 329.5h1.6v1.6h-1.6zM127.6 336.2h1.6v1.6h-1.6zM126.0 328.7h1.6v1.6h-1.6zM127.0 323.1h1.6v1.6h-1.6zM125.4 327.6h1.6v1.6h-1.6zM124.4 324.4h1.6v1.6h-1.6zM126.4 337.3h1.6v1.6h-1.6zM125.8 328.4h1.6v1.6h-1.6zM125.0 330.4h1.6v1.6h-1.6zM124.9 330.0h1.6v1.6h-1.6zM126.3 327.1h1.6v1.6h-1.6zM125.5 327.0h1.6v1.6h-1.6zM123.6 333.4h1.6v1.6h-1.6zM127.3 324.7h1.6v1.6h-1.6zM123.7 326.6h1.6v1.6h-1.6zM125.9 336.1h1.6v1.6h-1.6zM124.6 321.6h1.6v1.6h-1.6zM126.3 335.9h1.6v1.6h-1.6zM124.5 324.4h1.6v1.6h-1.6zM127.3 329.9h1.6v1.6h-1.6zM124.2 329.7h1.6v1.6h-1.6zM125.6 335.8h1.6v1.6h-1.6zM128.7 329.1h1.6v1.6h-1.6zM125.3 328.4h1.6v1.6h-1.6zM127.0 336.7h1.6v1.6h-1.6zM128.0 329.8h1.6v1.6h-1.6zM126.0 327.3h1.6v1.6h-1.6zM127.4 337.4h1.6v1.6h-1.6zM127.8 335.0h1.6v1.6h-1.6zM126.3 328.7h1.6v1.6h-1.6zM123.6 333.7h1.6v1.6h-1.6zM126.8 332.5h1.6v1.6h-1.6zM126.6 330.8h1.6v1.6h-1.6zM127.8 337.0h1.6v1.6h-1.6zM127.8 323.4h1.6v1.6h-1.6zM127.4 323.1h1.6v1.6h-1.6zM125.4 336.6h1.6v1.6h-1.6zM126.2 322.3h1.6v1.6h-1.6zM123.8 330.3h1.6v1.6h-1.6zM128.3 329.7h1.6v1.6h-1.6zM126.0 329.1h1.6v1.6h-1.6zM126.7 324.2h1.6v1.6h-1.6zM124.0 330.0h1.6v1.6h-1.6zM126.3 331.3h1.6v1.6h-1.6zM127.4 324.3h1.6v1.6h-1.6zM126.1 324.6h1.6v1.6h-1.6zM128.3 324.9h1.6v1.6h-1.6zM124.4 322.1h1.6v1.6h-1.6zM125.8 325.7h1.6v1.6h-1.6zM125.8 335.3h1.6v1.6h-1.6zM124.2 322.7h1.6v1.6h-1.6zM125.5 327.4h1.6v1.6h-1.6zM125.5 334.7h1.6v1.6h-1.6zM125.5 328.5h1.6v1.6h-1.6zM127.4 327.3h1.6v1.6h-1.6zM127.7 325.2h1.6v1.6h-1.6zM126.7 331.5h1.6v1.6h-1.6zM128.0 333.4h1.6v1.6h-1.6zM128.2 323.6h1.6v1.6h-1.6zM125.8 321.8h1.6v1.6h-1.6zM126.2 324.3h1.6v1.6h-1.6zM125.2 333.1h1.6v1.6h-1.6zM124.2 325.5h1.6v1.6h-1.6zM128.6 330.3h1.6v1.6h-1.6zM127.7 322.3h1.6v1.6h-1.6zM125.4 336.1h1.6v1.6h-1.6zM123.5 328.4h1.6v1.6h-1.6zM124.1 332.2h1.6v1.6h-1.6zM127.2 322.7h1.6v1.6h-1.6zM124.5 326.2h1.6v1.6h-1.6zM128.8 335.8h1.6v1.6h-1.6zM126.5 330.2h1.6v1.6h-1.6zM127.1 325.0h1.6v1.6h-1.6zM127.0 332.0h1.6v1.6h-1.6zM127.4 334.4h1.6v1.6h-1.6zM128.6 336.1h1.6v1.6h-1.6zM124.1 330.0h1.6v1.6h-1.6zM127.4 325.0h1.6v1.6h-1.6zM126.1 338.0h1.6v1.6h-1.6zM123.1 332.5h1.6v1.6h-1.6zM127.6 335.6h1.6v1.6h-1.6zM127.7 326.6h1.6v1.6h-1.6zM123.1 329.1h1.6v1.6h-1.6zM126.5 324.4h1.6v1.6h-1.6zM126.9 326.9h1.6v1.6h-1.6zM128.4 327.0h1.6v1.6h-1.6zM127.9 327.2h1.6v1.6h-1.6zM128.5 327.3h1.6v1.6h-1.6zM127.6 326.5h1.6v1.6h-1.6zM126.8 337.3h1.6v1.6h-1.6zM125.3 326.7h1.6v1.6h-1.6zM126.5 332.2h1.6v1.6h-1.6zM127.1 336.5h1.6v1.6h-1.6zM126.9 326.7h1.6v1.6h-1.6zM126.7 324.0h1.6v1.6h-1.6zM127.3 331.1h1.6v1.6h-1.6zM124.5 322.3h1.6v1.6h-1.6zM123.8 331.6h1.6v1.6h-1.6zM124.7 321.6h1.6v1.6h-1.6zM126.7 332.3h1.6v1.6h-1.6zM123.6 328.3h1.6v1.6h-1.6zM127.2 323.2h1.6v1.6h-1.6zM128.7 325.7h1.6v1.6h-1.6zM124.7 322.5h1.6v1.6h-1.6zM126.5 336.3h1.6v1.6h-1.6zM128.1 328.2h1.6v1.6h-1.6zM123.7 323.5h1.6v1.6h-1.6zM125.9 321.8h1.6v1.6h-1.6zM128.8 324.8h1.6v1.6h-1.6zM127.4 328.2h1.6v1.6h-1.6zM126.0 334.0h1.6v1.6h-1.6zM127.6 324.0h1.6v1.6h-1.6zM128.4 331.3h1.6v1.6h-1.6zM126.1 321.6h1.6v1.6h-1.6zM125.6 335.2h1.6v1.6h-1.6zM127.2 335.0h1.6v1.6h-1.6zM127.9 333.8h1.6v1.6h-1.6zM123.6 325.6h1.6v1.6h-1.6zM124.2 325.6h1.6v1.6h-1.6zM125.1 331.3h1.6v1.6h-1.6zM122.8 330.6h1.6v1.6h-1.6zM123.6 330.8h1.6v1.6h-1.6zM127.4 335.7h1.6v1.6h-1.6zM126.0 335.3h1.6v1.6h-1.6zM123.2 331.3h1.6v1.6h-1.6zM126.7 333.5h1.6v1.6h-1.6zM123.1 330.6h1.6v1.6h-1.6zM129.0 332.4h1.6v1.6h-1.6zM127.9 328.5h1.6v1.6h-1.6zM128.9 328.2h1.6v1.6h-1.6zM124.6 333.2h1.6v1.6h-1.6zM126.1 332.4h1.6v1.6h-1.6zM126.5 332.1h1.6v1.6h-1.6zM123.6 324.4h1.6v1.6h-1.6zM127.2 326.5h1.6v1.6h-1.6zM125.9 325.1h1.6v1.6h-1.6zM127.4 323.4h1.6v1.6h-1.6zM128.8 329.4h1.6v1.6h-1.6zM124.8 327.5h1.6v1.6h-1.6zM127.3 335.5h1.6v1.6h-1.6zM127.5 334.6h1.6v1.6h-1.6zM127.3 326.6h1.6v1.6h-1.6zM125.8 322.8h1.6v1.6h-1.6zM127.0 330.9h1.6v1.6h-1.6zM123.7 328.5h1.6v1.6h-1.6zM127.4 323.2h1.6v1.6h-1.6zM127.9 337.4h1.6v1.6h-1.6zM125.3 334.4h1.6v1.6h-1.6zM128.1 336.2h1.6v1.6h-1.6zM126.9 326.4h1.6v1.6h-1.6zM126.0 329.7h1.6v1.6h-1.6zM125.9 333.3h1.6v1.6h-1.6zM126.6 326.6h1.6v1.6h-1.6zM127.6 329.5h1.6v1.6h-1.6zM122.9 328.1h1.6v1.6h-1.6zM124.8 327.6h1.6v1.6h-1.6zM124.0 329.6h1.6v1.6h-1.6zM126.3 325.3h1.6v1.6h-1.6zM129.0 328.8h1.6v1.6h-1.6zM128.7 332.4h1.6v1.6h-1.6zM124.5 330.3h1.6v1.6h-1.6zM128.4 328.9h1.6v1.6h-1.6zM124.3 327.0h1.6v1.6h-1.6zM124.5 332.8h1.6v1.6h-1.6zM123.4 324.6h1.6v1.6h-1.6zM127.5 325.0h1.6v1.6h-1.6zM127.9 332.3h1.6v1.6h-1.6zM123.6 331.4h1.6v1.6h-1.6zM126.9 336.9h1.6v1.6h-1.6zM127.3 335.2h1.6v1.6h-1.6zM128.9 325.7h1.6v1.6h-1.6zM127.6 332.5h1.6v1.6h-1.6zM125.8 330.2h1.6v1.6h-1.6zM125.2 329.2h1.6v1.6h-1.6zM125.4 321.4h1.6v1.6h-1.6zM125.9 328.7h1.6v1.6h-1.6zM127.7 329.7h1.6v1.6h-1.6zM124.5 332.3h1.6v1.6h-1.6zM124.0 330.5h1.6v1.6h-1.6zM127.8 329.7h1.6v1.6h-1.6zM124.0 323.5h1.6v1.6h-1.6zM124.6 334.3h1.6v1.6h-1.6zM122.6 330.2h1.6v1.6h-1.6zM122.9 330.8h1.6v1.6h-1.6zM127.2 329.7h1.6v1.6h-1.6zM125.8 328.9h1.6v1.6h-1.6zM127.4 327.5h1.6v1.6h-1.6zM127.4 324.6h1.6v1.6h-1.6zM124.8 332.2h1.6v1.6h-1.6zM125.3 324.5h1.6v1.6h-1.6zM128.0 330.7h1.6v1.6h-1.6zM126.3 334.2h1.6v1.6h-1.6zM123.6 329.0h1.6v1.6h-1.6zM129.0 327.3h1.6v1.6h-1.6zM128.2 323.2h1.6v1.6h-1.6zM125.9 320.9h1.6v1.6h-1.6zM124.6 325.0h1.6v1.6h-1.6zM124.6 322.4h1.6v1.6h-1.6zM126.3 326.8h1.6v1.6h-1.6zM128.3 327.0h1.6v1.6h-1.6zM124.4 329.0h1.6v1.6h-1.6zM126.9 323.1h1.6v1.6h-1.6zM126.9 325.5h1.6v1.6h-1.6zM125.6 327.3h1.6v1.6h-1.6zM125.4 331.4h1.6v1.6h-1.6zM125.6 324.9h1.6v1.6h-1.6zM127.3 327.4h1.6v1.6h-1.6zM127.8 335.0h1.6v1.6h-1.6zM127.2 335.0h1.6v1.6h-1.6zM125.6 333.4h1.6v1.6h-1.6zM125.8 332.2h1.6v1.6h-1.6zM125.0 332.0h1.6v1.6h-1.6zM126.8 324.4h1.6v1.6h-1.6zM126.4 321.3h1.6v1.6h-1.6zM127.4 336.6h1.6v1.6h-1.6zM123.9 326.7h1.6v1.6h-1.6zM126.8 334.0h1.6v1.6h-1.6zM126.7 325.5h1.6v1.6h-1.6zM125.3 336.8h1.6v1.6h-1.6zM123.7 330.6h1.6v1.6h-1.6zM126.8 337.6h1.6v1.6h-1.6zM127.3 323.8h1.6v1.6h-1.6zM126.9 332.8h1.6v1.6h-1.6zM127.5 329.8h1.6v1.6h-1.6zM126.5 329.9h1.6v1.6h-1.6zM127.5 323.1h1.6v1.6h-1.6zM124.5 329.0h1.6v1.6h-1.6zM124.6 324.3h1.6v1.6h-1.6zM124.8 324.3h1.6v1.6h-1.6zM128.8 334.9h1.6v1.6h-1.6zM127.6 323.1h1.6v1.6h-1.6zM127.0 330.9h1.6v1.6h-1.6zM125.2 334.1h1.6v1.6h-1.6zM127.7 323.0h1.6v1.6h-1.6zM127.3 337.9h1.6v1.6h-1.6zM123.8 333.9h1.6v1.6h-1.6zM124.5 334.2h1.6v1.6h-1.6zM124.7 333.3h1.6v1.6h-1.6zM127.3 329.8h1.6v1.6h-1.6zM124.6 323.9h1.6v1.6h-1.6zM125.6 323.0h1.6v1.6h-1.6zM125.5 334.0h1.6v1.6h-1.6zM126.3 332.9h1.6v1.6h-1.6zM124.2 333.1h1.6v1.6h-1.6zM124.9 331.9h1.6v1.6h-1.6zM127.4 338.1h1.6v1.6h-1.6zM123.9 327.6h1.6v1.6h-1.6zM123.8 323.0h1.6v1.6h-1.6zM128.3 324.2h1.6v1.6h-1.6zM125.9 326.1h1.6v1.6h-1.6zM126.2 334.3h1.6v1.6h-1.6zM127.1 333.3h1.6v1.6h-1.6zM127.9 323.7h1.6v1.6h-1.6zM125.9 327.3h1.6v1.6h-1.6zM123.8 331.1h1.6v1.6h-1.6zM128.4 326.2h1.6v1.6h-1.6zM123.8 333.8h1.6v1.6h-1.6zM123.9 332.7h1.6v1.6h-1.6zM126.2 325.3h1.6v1.6h-1.6zM125.2 321.1h1.6v1.6h-1.6zM122.7 330.8h1.6v1.6h-1.6zM127.7 329.0h1.6v1.6h-1.6zM128.8 334.3h1.6v1.6h-1.6zM127.5 330.0h1.6v1.6h-1.6zM122.7 330.0h1.6v1.6h-1.6zM125.3 327.4h1.6v1.6h-1.6zM123.3 329.0h1.6v1.6h-1.6zM125.6 324.6h1.6v1.6h-1.6zM127.8 336.6h1.6v1.6h-1.6zM123.6 332.6h1.6v1.6h-1.6zM126.5 333.2h1.6v1.6h-1.6zM125.1 322.6h1.6v1.6h-1.6zM127.5 324.0h1.6v1.6h-1.6zM126.9 338.7h1.6v1.6h-1.6zM124.8 329.1h1.6v1.6h-1.6zM128.5 332.5h1.6v1.6h-1.6zM123.3 329.2h1.6v1.6h-1.6zM125.0 328.7h1.6v1.6h-1.6zM127.6 328.5h1.6v1.6h-1.6zM127.1 321.9h1.6v1.6h-1.6zM126.1 325.5h1.6v1.6h-1.6zM123.3 327.8h1.6v1.6h-1.6zM126.3 329.5h1.6v1.6h-1.6zM128.0 337.3h1.6v1.6h-1.6zM126.4 326.4h1.6v1.6h-1.6zM127.7 337.8h1.6v1.6h-1.6zM125.6 323.3h1.6v1.6h-1.6zM123.7 332.6h1.6v1.6h-1.6zM123.5 325.3h1.6v1.6h-1.6zM126.5 328.3h1.6v1.6h-1.6zM124.1 332.6h1.6v1.6h-1.6zM127.2 338.1h1.6v1.6h-1.6zM126.0 325.8h1.6v1.6h-1.6zM127.6 337.7h1.6v1.6h-1.6zM123.7 329.8h1.6v1.6h-1.6zM127.4 331.3h1.6v1.6h-1.6zM123.7 333.0h1.6v1.6h-1.6zM126.3 332.9h1.6v1.6h-1.6zM128.2 334.0h1.6v1.6h-1.6zM127.9 327.5h1.6v1.6h-1.6zM125.6 336.9h1.6v1.6h-1.6zM124.9 331.3h1.6v1.6h-1.6zM123.0 327.9h1.6v1.6h-1.6zM126.7 334.8h1.6v1.6h-1.6zM122.5 329.8h1.6v1.6h-1.6zM125.9 333.7h1.6v1.6h-1.6zM129.0 332.9h1.6v1.6h-1.6zM126.2 326.9h1.6v1.6h-1.6zM124.2 333.4h1.6v1.6h-1.6zM128.5 325.1h1.6v1.6h-1.6zM125.8 323.3h1.6v1.6h-1.6zM123.0 330.0h1.6v1.6h-1.6zM128.0 323.7h1.6v1.6h-1.6zM127.8 334.8h1.6v1.6h-1.6zM127.4 328.5h1.6v1.6h-1.6zM124.5 330.6h1.6v1.6h-1.6zM123.3 332.7h1.6v1.6h-1.6zM126.4 332.3h1.6v1.6h-1.6zM128.2 323.6h1.6v1.6h-1.6zM128.0 331.2h1.6v1.6h-1.6zM127.3 338.4h1.6v1.6h-1.6zM126.4 325.1h1.6v1.6h-1.6zM127.9 337.0h1.6v1.6h-1.6zM125.7 323.2h1.6v1.6h-1.6zM125.2 325.2h1.6v1.6h-1.6zM128.2 327.8h1.6v1.6h-1.6zM124.7 324.9h1.6v1.6h-1.6zM125.2 329.5h1.6v1.6h-1.6zM127.8 337.1h1.6v1.6h-1.6zM126.0 332.0h1.6v1.6h-1.6zM126.0 323.5h1.6v1.6h-1.6zM127.3 328.3h1.6v1.6h-1.6zM127.2 331.8h1.6v1.6h-1.6zM125.7 324.6h1.6v1.6h-1.6zM124.2 327.4h1.6v1.6h-1.6zM127.0 323.1h1.6v1.6h-1.6zM127.5 324.2h1.6v1.6h-1.6zM125.6 327.2h1.6v1.6h-1.6zM127.9 332.2h1.6v1.6h-1.6zM124.0 331.5h1.6v1.6h-1.6zM126.9 331.9h1.6v1.6h-1.6zM125.2 321.6h1.6v1.6h-1.6zM128.6 330.6h1.6v1.6h-1.6zM124.1 330.9h1.6v1.6h-1.6zM126.7 330.4h1.6v1.6h-1.6zM124.0 327.0h1.6v1.6h-1.6zM124.0 326.3h1.6v1.6h-1.6zM127.4 324.4h1.6v1.6h-1.6zM122.6 331.4h1.6v1.6h-1.6zM124.3 323.8h1.6v1.6h-1.6zM124.7 323.7h1.6v1.6h-1.6zM128.5 336.2h1.6v1.6h-1.6zM126.7 337.9h1.6v1.6h-1.6zM123.8 332.7h1.6v1.6h-1.6zM124.5 327.0h1.6v1.6h-1.6zM126.8 325.0h1.6v1.6h-1.6zM122.9 329.9h1.6v1.6h-1.6zM127.2 327.7h1.6v1.6h-1.6zM127.2 326.0h1.6v1.6h-1.6zM127.5 334.4h1.6v1.6h-1.6zM126.7 335.6h1.6v1.6h-1.6zM126.8 337.4h1.6v1.6h-1.6zM124.3 322.4h1.6v1.6h-1.6zM123.8 329.1h1.6v1.6h-1.6zM124.4 329.6h1.6v1.6h-1.6zM128.4 332.5h1.6v1.6h-1.6zM126.5 333.8h1.6v1.6h-1.6zM125.1 325.0h1.6v1.6h-1.6zM127.3 330.4h1.6v1.6h-1.6zM126.5 326.4h1.6v1.6h-1.6zM124.4 323.3h1.6v1.6h-1.6zM123.4 324.7h1.6v1.6h-1.6zM125.3 329.1h1.6v1.6h-1.6zM128.1 331.1h1.6v1.6h-1.6zM128.4 331.8h1.6v1.6h-1.6zM125.9 321.7h1.6v1.6h-1.6zM127.0 330.2h1.6v1.6h-1.6zM127.1 330.3h1.6v1.6h-1.6zM126.4 334.4h1.6v1.6h-1.6zM123.5 324.7h1.6v1.6h-1.6zM124.2 325.7h1.6v1.6h-1.6zM128.1 334.3h1.6v1.6h-1.6zM127.5 328.7h1.6v1.6h-1.6zM123.6 328.3h1.6v1.6h-1.6zM125.0 325.1h1.6v1.6h-1.6zM127.9 333.9h1.6v1.6h-1.6zM125.7 337.5h1.6v1.6h-1.6zM128.6 335.9h1.6v1.6h-1.6zM128.8 328.8h1.6v1.6h-1.6zM126.5 330.9h1.6v1.6h-1.6zM124.9 326.5h1.6v1.6h-1.6zM126.8 337.9h1.6v1.6h-1.6zM125.3 331.6h1.6v1.6h-1.6zM126.6 336.4h1.6v1.6h-1.6zM124.5 324.4h1.6v1.6h-1.6zM127.9 325.7h1.6v1.6h-1.6zM125.9 321.3h1.6v1.6h-1.6zM127.4 338.1h1.6v1.6h-1.6zM125.1 324.1h1.6v1.6h-1.6zM127.9 335.1h1.6v1.6h-1.6zM126.6 328.9h1.6v1.6h-1.6zM124.8 333.9h1.6v1.6h-1.6z" fill="#ff2b08"/>
<path d="M222.9 309.7h1.6v1.6h-1.6zM217.5 315.5h1.6v1.6h-1.6zM234.1 312.9h1.6v1.6h-1.6zM244.8 314.5h1.6v1.6h-1.6zM249.1 344.6h1.6v1.6h-1.6zM246.1 323.6h1.6v1.6h-1.6zM269.3 332.3h1.6v1.6h-1.6zM266.6 312.1h1.6v1.6h-1.6zM250.1 350.0h1.6v1.6h-1.6zM247.0 316.8h1.6v1.6h-1.6zM261.0 360.6h1.6v1.6h-1.6zM245.6 326.0h1.6v1.6h-1.6zM249.6 311.9h1.6v1.6h-1.6zM268.9 343.2h1.6v1.6h-1.6zM248.5 350.4h1.6v1.6h-1.6zM272.5 328.7h1.6v1.6h-1.6zM247.5 320.0h1.6v1.6h-1.6zM242.8 338.3h1.6v1.6h-1.6zM265.4 354.4h1.6v1.6h-1.6zM258.4 362.7h1.6v1.6h-1.6zM257.4 360.7h1.6v1.6h-1.6zM240.8 346.3h1.6v1.6h-1.6zM260.0 357.7h1.6v1.6h-1.6zM259.4 299.7h1.6v1.6h-1.6zM279.7 292.4h1.6v1.6h-1.6zM261.3 278.1h1.6v1.6h-1.6zM257.7 284.8h1.6v1.6h-1.6zM274.6 291.6h1.6v1.6h-1.6zM271.4 295.0h1.6v1.6h-1.6zM230.8 283.6h1.6v1.6h-1.6zM270.6 283.4h1.6v1.6h-1.6zM273.5 290.8h1.6v1.6h-1.6zM278.6 301.9h1.6v1.6h-1.6zM264.2 283.2h1.6v1.6h-1.6zM271.9 292.8h1.6v1.6h-1.6zM275.9 295.6h1.6v1.6h-1.6zM259.6 281.0h1.6v1.6h-1.6zM284.4 304.7h1.6v1.6h-1.6zM272.3 283.9h1.6v1.6h-1.6zM251.1 284.5h1.6v1.6h-1.6zM270.2 280.8h1.6v1.6h-1.6zM263.8 281.2h1.6v1.6h-1.6zM267.3 281.9h1.6v1.6h-1.6zM236.3 287.3h1.6v1.6h-1.6zM269.1 285.4h1.6v1.6h-1.6zM267.6 284.8h1.6v1.6h-1.6zM236.2 280.6h1.6v1.6h-1.6zM256.4 275.5h1.6v1.6h-1.6zM275.2 299.5h1.6v1.6h-1.6zM244.8 281.0h1.6v1.6h-1.6zM223.6 341.1h1.6v1.6h-1.6zM234.1 322.9h1.6v1.6h-1.6zM220.4 340.1h1.6v1.6h-1.6zM217.3 329.5h1.6v1.6h-1.6zM229.4 334.5h1.6v1.6h-1.6zM219.6 355.2h1.6v1.6h-1.6zM225.7 342.4h1.6v1.6h-1.6zM219.6 327.2h1.6v1.6h-1.6zM222.0 325.8h1.6v1.6h-1.6zM221.0 331.0h1.6v1.6h-1.6zM229.9 325.2h1.6v1.6h-1.6zM216.9 349.9h1.6v1.6h-1.6zM222.7 346.9h1.6v1.6h-1.6zM216.6 302.8h1.6v1.6h-1.6zM230.5 333.0h1.6v1.6h-1.6zM229.2 341.5h1.6v1.6h-1.6zM217.0 348.9h1.6v1.6h-1.6zM221.3 341.2h1.6v1.6h-1.6zM214.0 326.5h1.6v1.6h-1.6zM231.5 313.7h1.6v1.6h-1.6zM215.4 334.4h1.6v1.6h-1.6zM223.0 342.7h1.6v1.6h-1.6zM232.9 328.5h1.6v1.6h-1.6zM218.3 333.2h1.6v1.6h-1.6zM230.9 321.9h1.6v1.6h-1.6zM232.0 324.9h1.6v1.6h-1.6zM221.6 327.6h1.6v1.6h-1.6zM282.2 303.3h1.6v1.6h-1.6zM277.6 313.7h1.6v1.6h-1.6zM274.7 314.2h1.6v1.6h-1.6zM287.9 307.1h1.6v1.6h-1.6zM281.1 295.1h1.6v1.6h-1.6zM283.1 311.6h1.6v1.6h-1.6zM281.6 298.9h1.6v1.6h-1.6zM297.3 296.8h1.6v1.6h-1.6zM283.8 294.6h1.6v1.6h-1.6zM282.8 308.8h1.6v1.6h-1.6zM288.9 312.0h1.6v1.6h-1.6zM216.9 312.8h1.6v1.6h-1.6zM224.7 291.6h1.6v1.6h-1.6zM217.0 296.5h1.6v1.6h-1.6zM235.5 313.6h1.6v1.6h-1.6zM271.2 279.9h1.6v1.6h-1.6zM244.4 312.5h1.6v1.6h-1.6zM264.3 278.0h1.6v1.6h-1.6zM261.4 275.7h1.6v1.6h-1.6zM273.2 285.9h1.6v1.6h-1.6zM244.6 307.4h1.6v1.6h-1.6zM255.8 284.5h1.6v1.6h-1.6zM240.3 283.8h1.6v1.6h-1.6zM238.0 284.9h1.6v1.6h-1.6zM221.7 313.8h1.6v1.6h-1.6z" fill="#1929c4"/>
<path d="M222.9 312.5h1.6v1.6h-1.6zM246.5 305.9h1.6v1.6h-1.6zM241.7 308.3h1.6v1.6h-1.6zM226.5 296.1h1.6v1.6h-1.6zM232.3 293.6h1.6v1.6h-1.6zM243.4 287.7h1.6v1.6h-1.6zM219.6 309.0h1.6v1.6h-1.6zM218.4 311.3h1.6v1.6h-1.6zM257.8 304.4h1.6v1.6h-1.6zM220.4 308.6h1.6v1.6h-1.6zM226.8 294.7h1.6v1.6h-1.6zM217.0 305.7h1.6v1.6h-1.6zM250.9 287.9h1.6v1.6h-1.6zM235.1 291.1h1.6v1.6h-1.6zM218.7 305.6h1.6v1.6h-1.6zM250.7 315.5h1.6v1.6h-1.6zM261.4 302.0h1.6v1.6h-1.6zM249.6 305.4h1.6v1.6h-1.6zM267.8 333.1h1.6v1.6h-1.6zM248.4 324.6h1.6v1.6h-1.6zM268.9 314.2h1.6v1.6h-1.6zM247.1 332.5h1.6v1.6h-1.6zM267.6 335.9h1.6v1.6h-1.6zM266.1 349.9h1.6v1.6h-1.6zM251.5 287.1h1.6v1.6h-1.6zM259.3 303.1h1.6v1.6h-1.6zM253.3 303.6h1.6v1.6h-1.6zM247.4 331.7h1.6v1.6h-1.6zM254.5 300.3h1.6v1.6h-1.6zM268.1 319.5h1.6v1.6h-1.6zM263.2 360.3h1.6v1.6h-1.6zM249.9 310.3h1.6v1.6h-1.6zM267.4 323.9h1.6v1.6h-1.6zM269.6 324.0h1.6v1.6h-1.6zM249.1 318.2h1.6v1.6h-1.6zM248.6 329.6h1.6v1.6h-1.6zM255.8 306.1h1.6v1.6h-1.6zM247.3 334.0h1.6v1.6h-1.6zM250.8 354.1h1.6v1.6h-1.6zM268.3 333.8h1.6v1.6h-1.6zM253.6 305.2h1.6v1.6h-1.6zM267.3 341.6h1.6v1.6h-1.6zM246.5 334.1h1.6v1.6h-1.6zM251.2 310.7h1.6v1.6h-1.6zM268.9 323.7h1.6v1.6h-1.6zM252.5 358.7h1.6v1.6h-1.6zM251.7 356.2h1.6v1.6h-1.6zM252.0 359.9h1.6v1.6h-1.6zM261.6 356.9h1.6v1.6h-1.6zM266.2 350.2h1.6v1.6h-1.6zM255.6 360.6h1.6v1.6h-1.6zM265.4 360.0h1.6v1.6h-1.6zM266.1 341.3h1.6v1.6h-1.6zM255.2 358.3h1.6v1.6h-1.6zM257.2 300.7h1.6v1.6h-1.6zM261.0 287.8h1.6v1.6h-1.6zM256.6 286.5h1.6v1.6h-1.6zM265.1 286.5h1.6v1.6h-1.6zM263.0 285.3h1.6v1.6h-1.6zM243.5 280.4h1.6v1.6h-1.6zM277.5 298.6h1.6v1.6h-1.6zM271.4 296.8h1.6v1.6h-1.6zM248.0 281.8h1.6v1.6h-1.6zM277.7 299.6h1.6v1.6h-1.6zM271.4 297.9h1.6v1.6h-1.6zM268.3 297.1h1.6v1.6h-1.6zM254.9 304.1h1.6v1.6h-1.6zM248.8 282.9h1.6v1.6h-1.6zM264.0 297.7h1.6v1.6h-1.6zM247.4 281.8h1.6v1.6h-1.6zM266.0 302.2h1.6v1.6h-1.6zM251.3 285.9h1.6v1.6h-1.6zM269.3 290.0h1.6v1.6h-1.6zM262.9 298.6h1.6v1.6h-1.6zM265.6 296.7h1.6v1.6h-1.6zM259.3 286.1h1.6v1.6h-1.6zM225.0 336.7h1.6v1.6h-1.6zM225.6 338.0h1.6v1.6h-1.6zM234.9 326.6h1.6v1.6h-1.6zM221.5 335.5h1.6v1.6h-1.6zM226.7 331.2h1.6v1.6h-1.6zM230.6 328.9h1.6v1.6h-1.6zM235.4 326.6h1.6v1.6h-1.6zM229.2 313.6h1.6v1.6h-1.6zM229.4 329.2h1.6v1.6h-1.6zM227.3 338.6h1.6v1.6h-1.6zM224.4 330.7h1.6v1.6h-1.6zM224.6 315.4h1.6v1.6h-1.6zM221.2 308.3h1.6v1.6h-1.6zM222.3 318.2h1.6v1.6h-1.6zM227.0 320.4h1.6v1.6h-1.6zM221.4 322.5h1.6v1.6h-1.6zM218.2 330.0h1.6v1.6h-1.6zM227.6 337.3h1.6v1.6h-1.6zM228.2 320.3h1.6v1.6h-1.6zM221.5 334.3h1.6v1.6h-1.6zM223.6 311.3h1.6v1.6h-1.6zM228.6 322.7h1.6v1.6h-1.6zM222.7 299.9h1.6v1.6h-1.6zM222.4 330.6h1.6v1.6h-1.6zM230.6 316.2h1.6v1.6h-1.6zM232.5 322.6h1.6v1.6h-1.6zM221.6 318.0h1.6v1.6h-1.6zM224.2 326.4h1.6v1.6h-1.6zM224.7 334.5h1.6v1.6h-1.6zM271.1 313.2h1.6v1.6h-1.6zM267.3 304.5h1.6v1.6h-1.6zM266.8 305.1h1.6v1.6h-1.6zM276.2 308.7h1.6v1.6h-1.6zM280.6 308.3h1.6v1.6h-1.6zM279.5 308.5h1.6v1.6h-1.6zM282.0 306.0h1.6v1.6h-1.6zM271.1 315.4h1.6v1.6h-1.6zM277.0 307.5h1.6v1.6h-1.6zM274.9 311.0h1.6v1.6h-1.6zM276.7 306.8h1.6v1.6h-1.6zM279.2 316.3h1.6v1.6h-1.6zM269.1 310.4h1.6v1.6h-1.6zM270.2 317.5h1.6v1.6h-1.6zM220.7 304.4h1.6v1.6h-1.6zM246.6 285.4h1.6v1.6h-1.6zM218.5 305.5h1.6v1.6h-1.6zM256.8 301.4h1.6v1.6h-1.6zM245.6 285.3h1.6v1.6h-1.6zM240.5 309.6h1.6v1.6h-1.6zM233.4 290.3h1.6v1.6h-1.6zM234.6 289.7h1.6v1.6h-1.6zM242.8 281.2h1.6v1.6h-1.6zM247.4 287.3h1.6v1.6h-1.6zM221.1 300.2h1.6v1.6h-1.6zM221.6 303.2h1.6v1.6h-1.6zM237.4 290.5h1.6v1.6h-1.6zM228.8 292.7h1.6v1.6h-1.6zM227.3 314.6h1.6v1.6h-1.6zM217.9 310.3h1.6v1.6h-1.6zM231.6 291.6h1.6v1.6h-1.6zM222.1 306.0h1.6v1.6h-1.6zM238.1 311.5h1.6v1.6h-1.6zM231.4 315.7h1.6v1.6h-1.6zM225.4 310.5h1.6v1.6h-1.6zM221.2 300.8h1.6v1.6h-1.6zM237.9 286.1h1.6v1.6h-1.6zM259.8 286.2h1.6v1.6h-1.6z" fill="#1430e2"/>
<path d="M251.4 301.1h1.6v1.6h-1.6zM247.8 303.0h1.6v1.6h-1.6zM238.0 291.7h1.6v1.6h-1.6zM229.6 293.5h1.6v1.6h-1.6zM223.4 302.7h1.6v1.6h-1.6zM236.7 310.7h1.6v1.6h-1.6zM240.0 308.5h1.6v1.6h-1.6zM237.5 309.7h1.6v1.6h-1.6zM223.9 301.0h1.6v1.6h-1.6zM230.0 296.3h1.6v1.6h-1.6zM243.0 291.4h1.6v1.6h-1.6zM250.9 301.8h1.6v1.6h-1.6zM243.5 290.5h1.6v1.6h-1.6zM224.4 301.0h1.6v1.6h-1.6zM228.3 295.8h1.6v1.6h-1.6zM223.0 305.8h1.6v1.6h-1.6zM225.4 308.8h1.6v1.6h-1.6zM250.5 290.8h1.6v1.6h-1.6zM228.0 295.8h1.6v1.6h-1.6zM243.5 288.8h1.6v1.6h-1.6zM250.3 335.7h1.6v1.6h-1.6zM253.1 312.4h1.6v1.6h-1.6zM265.6 346.2h1.6v1.6h-1.6zM250.0 338.9h1.6v1.6h-1.6zM250.4 338.0h1.6v1.6h-1.6zM249.6 330.6h1.6v1.6h-1.6zM258.1 307.1h1.6v1.6h-1.6zM264.8 347.2h1.6v1.6h-1.6zM252.3 343.8h1.6v1.6h-1.6zM265.8 317.1h1.6v1.6h-1.6zM251.9 308.7h1.6v1.6h-1.6zM266.3 320.3h1.6v1.6h-1.6zM250.6 342.0h1.6v1.6h-1.6zM251.2 342.7h1.6v1.6h-1.6zM261.5 299.3h1.6v1.6h-1.6zM265.5 343.8h1.6v1.6h-1.6zM267.6 325.2h1.6v1.6h-1.6zM249.3 319.1h1.6v1.6h-1.6zM249.3 306.7h1.6v1.6h-1.6zM252.0 314.3h1.6v1.6h-1.6zM249.6 306.1h1.6v1.6h-1.6zM263.9 353.1h1.6v1.6h-1.6zM252.5 308.5h1.6v1.6h-1.6zM244.3 305.7h1.6v1.6h-1.6zM250.9 346.0h1.6v1.6h-1.6zM267.0 337.2h1.6v1.6h-1.6zM257.0 297.9h1.6v1.6h-1.6zM258.6 305.5h1.6v1.6h-1.6zM266.7 325.1h1.6v1.6h-1.6zM253.7 356.8h1.6v1.6h-1.6zM264.7 358.9h1.6v1.6h-1.6zM253.9 356.0h1.6v1.6h-1.6zM253.1 361.6h1.6v1.6h-1.6zM252.0 354.0h1.6v1.6h-1.6zM264.1 343.2h1.6v1.6h-1.6zM253.1 355.7h1.6v1.6h-1.6zM264.5 347.5h1.6v1.6h-1.6zM253.6 357.7h1.6v1.6h-1.6zM264.8 359.2h1.6v1.6h-1.6zM250.9 346.8h1.6v1.6h-1.6zM252.5 349.8h1.6v1.6h-1.6zM252.1 353.0h1.6v1.6h-1.6zM257.0 356.0h1.6v1.6h-1.6zM269.4 294.8h1.6v1.6h-1.6zM263.8 288.5h1.6v1.6h-1.6zM264.7 300.7h1.6v1.6h-1.6zM264.4 288.8h1.6v1.6h-1.6zM238.2 288.9h1.6v1.6h-1.6zM263.5 285.7h1.6v1.6h-1.6zM265.7 298.0h1.6v1.6h-1.6zM272.9 300.7h1.6v1.6h-1.6zM266.5 298.9h1.6v1.6h-1.6zM276.5 304.8h1.6v1.6h-1.6zM253.5 288.7h1.6v1.6h-1.6zM266.0 300.1h1.6v1.6h-1.6zM262.4 287.4h1.6v1.6h-1.6zM261.1 298.7h1.6v1.6h-1.6zM265.0 299.8h1.6v1.6h-1.6zM261.2 290.5h1.6v1.6h-1.6zM253.4 301.7h1.6v1.6h-1.6zM262.1 301.0h1.6v1.6h-1.6zM270.9 302.1h1.6v1.6h-1.6zM265.2 301.9h1.6v1.6h-1.6zM261.1 289.7h1.6v1.6h-1.6zM272.4 302.2h1.6v1.6h-1.6zM269.2 299.5h1.6v1.6h-1.6zM265.3 294.7h1.6v1.6h-1.6zM259.6 292.8h1.6v1.6h-1.6zM262.4 301.7h1.6v1.6h-1.6zM269.7 292.1h1.6v1.6h-1.6zM268.7 292.3h1.6v1.6h-1.6zM225.5 319.2h1.6v1.6h-1.6zM226.9 326.1h1.6v1.6h-1.6zM223.6 313.3h1.6v1.6h-1.6zM230.4 310.6h1.6v1.6h-1.6zM222.8 332.2h1.6v1.6h-1.6zM227.6 322.9h1.6v1.6h-1.6zM223.4 334.5h1.6v1.6h-1.6zM224.2 306.8h1.6v1.6h-1.6zM222.1 322.2h1.6v1.6h-1.6zM228.4 324.1h1.6v1.6h-1.6zM223.9 328.6h1.6v1.6h-1.6zM225.1 320.8h1.6v1.6h-1.6zM226.3 323.6h1.6v1.6h-1.6zM226.3 315.7h1.6v1.6h-1.6zM226.2 321.8h1.6v1.6h-1.6zM224.1 327.9h1.6v1.6h-1.6zM226.4 325.3h1.6v1.6h-1.6zM223.4 323.4h1.6v1.6h-1.6zM226.8 324.6h1.6v1.6h-1.6zM225.8 315.7h1.6v1.6h-1.6zM232.1 309.7h1.6v1.6h-1.6zM222.8 320.4h1.6v1.6h-1.6zM224.0 332.2h1.6v1.6h-1.6zM224.6 319.0h1.6v1.6h-1.6zM278.4 305.4h1.6v1.6h-1.6zM270.3 302.5h1.6v1.6h-1.6zM272.7 305.1h1.6v1.6h-1.6zM271.2 303.2h1.6v1.6h-1.6zM269.6 309.1h1.6v1.6h-1.6zM272.7 299.5h1.6v1.6h-1.6zM274.6 302.1h1.6v1.6h-1.6zM269.4 314.4h1.6v1.6h-1.6zM280.0 317.5h1.6v1.6h-1.6zM273.7 309.1h1.6v1.6h-1.6zM262.4 304.4h1.6v1.6h-1.6zM276.7 303.7h1.6v1.6h-1.6zM272.1 310.3h1.6v1.6h-1.6zM280.3 317.9h1.6v1.6h-1.6zM269.0 291.3h1.6v1.6h-1.6zM260.5 303.8h1.6v1.6h-1.6zM280.8 305.4h1.6v1.6h-1.6zM270.2 313.4h1.6v1.6h-1.6zM270.9 306.7h1.6v1.6h-1.6zM272.0 307.2h1.6v1.6h-1.6zM279.1 304.1h1.6v1.6h-1.6zM261.0 308.0h1.6v1.6h-1.6zM267.6 316.7h1.6v1.6h-1.6zM274.8 310.6h1.6v1.6h-1.6zM281.1 305.5h1.6v1.6h-1.6zM269.8 310.3h1.6v1.6h-1.6zM280.2 305.6h1.6v1.6h-1.6zM280.0 318.0h1.6v1.6h-1.6zM278.7 303.9h1.6v1.6h-1.6zM274.1 304.6h1.6v1.6h-1.6zM269.1 307.1h1.6v1.6h-1.6zM273.1 300.1h1.6v1.6h-1.6zM275.3 309.3h1.6v1.6h-1.6zM231.1 292.6h1.6v1.6h-1.6zM237.5 288.9h1.6v1.6h-1.6zM254.8 305.4h1.6v1.6h-1.6zM229.8 292.8h1.6v1.6h-1.6zM248.3 307.4h1.6v1.6h-1.6zM241.8 288.2h1.6v1.6h-1.6zM253.6 301.2h1.6v1.6h-1.6zM241.6 289.1h1.6v1.6h-1.6zM252.3 302.2h1.6v1.6h-1.6zM263.5 287.1h1.6v1.6h-1.6zM249.0 307.9h1.6v1.6h-1.6zM245.1 304.9h1.6v1.6h-1.6zM230.2 296.4h1.6v1.6h-1.6zM239.8 288.6h1.6v1.6h-1.6z" fill="#1456f1"/>
<path d="M228.7 297.5h1.6v1.6h-1.6zM250.1 292.1h1.6v1.6h-1.6zM229.7 310.2h1.6v1.6h-1.6zM248.7 302.1h1.6v1.6h-1.6zM236.7 309.9h1.6v1.6h-1.6zM228.1 309.9h1.6v1.6h-1.6zM246.0 303.5h1.6v1.6h-1.6zM253.8 297.9h1.6v1.6h-1.6zM235.5 309.1h1.6v1.6h-1.6zM250.6 299.9h1.6v1.6h-1.6zM227.5 298.8h1.6v1.6h-1.6zM240.2 290.4h1.6v1.6h-1.6zM239.9 307.9h1.6v1.6h-1.6zM234.8 308.8h1.6v1.6h-1.6zM225.9 307.7h1.6v1.6h-1.6zM236.7 306.5h1.6v1.6h-1.6zM247.0 288.9h1.6v1.6h-1.6zM235.9 309.6h1.6v1.6h-1.6zM235.6 306.8h1.6v1.6h-1.6zM252.5 298.9h1.6v1.6h-1.6zM249.4 291.0h1.6v1.6h-1.6zM227.7 297.9h1.6v1.6h-1.6zM245.0 288.6h1.6v1.6h-1.6zM241.0 290.6h1.6v1.6h-1.6zM244.6 291.0h1.6v1.6h-1.6zM252.1 299.0h1.6v1.6h-1.6zM248.7 326.5h1.6v1.6h-1.6zM263.5 313.9h1.6v1.6h-1.6zM259.3 306.9h1.6v1.6h-1.6zM252.7 313.8h1.6v1.6h-1.6zM253.7 310.0h1.6v1.6h-1.6zM262.7 354.1h1.6v1.6h-1.6zM264.0 340.7h1.6v1.6h-1.6zM264.1 312.8h1.6v1.6h-1.6zM265.6 320.5h1.6v1.6h-1.6zM254.5 308.1h1.6v1.6h-1.6zM265.2 344.7h1.6v1.6h-1.6zM253.9 349.8h1.6v1.6h-1.6zM250.5 325.0h1.6v1.6h-1.6zM268.3 317.7h1.6v1.6h-1.6zM251.9 341.7h1.6v1.6h-1.6zM251.0 337.5h1.6v1.6h-1.6zM253.4 344.8h1.6v1.6h-1.6zM250.7 338.2h1.6v1.6h-1.6zM264.3 338.2h1.6v1.6h-1.6zM249.5 332.5h1.6v1.6h-1.6zM264.8 322.7h1.6v1.6h-1.6zM252.4 341.4h1.6v1.6h-1.6zM259.6 305.3h1.6v1.6h-1.6zM263.2 352.6h1.6v1.6h-1.6zM252.7 345.8h1.6v1.6h-1.6zM268.3 316.9h1.6v1.6h-1.6zM252.5 347.3h1.6v1.6h-1.6zM265.0 310.6h1.6v1.6h-1.6zM264.7 339.0h1.6v1.6h-1.6zM260.7 355.8h1.6v1.6h-1.6zM266.2 331.8h1.6v1.6h-1.6zM249.6 334.6h1.6v1.6h-1.6zM262.6 340.8h1.6v1.6h-1.6zM249.8 322.6h1.6v1.6h-1.6zM265.5 337.1h1.6v1.6h-1.6zM266.4 334.7h1.6v1.6h-1.6zM251.9 309.1h1.6v1.6h-1.6zM255.2 308.1h1.6v1.6h-1.6zM251.7 336.2h1.6v1.6h-1.6zM253.4 309.7h1.6v1.6h-1.6zM248.5 326.3h1.6v1.6h-1.6zM268.5 317.5h1.6v1.6h-1.6zM265.5 318.5h1.6v1.6h-1.6zM254.0 344.0h1.6v1.6h-1.6zM263.9 340.8h1.6v1.6h-1.6zM263.7 349.5h1.6v1.6h-1.6zM258.8 354.7h1.6v1.6h-1.6zM253.9 360.4h1.6v1.6h-1.6zM251.4 347.6h1.6v1.6h-1.6zM253.0 351.9h1.6v1.6h-1.6zM266.1 337.1h1.6v1.6h-1.6zM251.5 348.1h1.6v1.6h-1.6zM256.1 355.7h1.6v1.6h-1.6zM264.4 340.0h1.6v1.6h-1.6zM252.8 349.1h1.6v1.6h-1.6zM253.4 360.5h1.6v1.6h-1.6zM253.7 361.2h1.6v1.6h-1.6zM255.4 353.6h1.6v1.6h-1.6zM256.4 289.1h1.6v1.6h-1.6zM269.3 301.5h1.6v1.6h-1.6zM266.8 291.3h1.6v1.6h-1.6zM269.0 300.2h1.6v1.6h-1.6zM262.0 296.4h1.6v1.6h-1.6zM264.1 292.9h1.6v1.6h-1.6zM260.8 297.5h1.6v1.6h-1.6zM251.2 294.4h1.6v1.6h-1.6zM258.3 288.1h1.6v1.6h-1.6zM268.7 300.8h1.6v1.6h-1.6zM260.7 290.9h1.6v1.6h-1.6zM251.2 299.5h1.6v1.6h-1.6zM260.4 290.8h1.6v1.6h-1.6zM256.1 298.3h1.6v1.6h-1.6zM261.2 294.8h1.6v1.6h-1.6zM252.6 291.1h1.6v1.6h-1.6zM248.8 290.5h1.6v1.6h-1.6zM261.7 295.0h1.6v1.6h-1.6zM264.2 289.7h1.6v1.6h-1.6zM260.7 305.5h1.6v1.6h-1.6zM272.8 304.0h1.6v1.6h-1.6zM268.6 294.9h1.6v1.6h-1.6zM268.7 300.6h1.6v1.6h-1.6zM255.6 298.1h1.6v1.6h-1.6zM258.2 292.0h1.6v1.6h-1.6zM222.9 322.6h1.6v1.6h-1.6zM227.9 329.8h1.6v1.6h-1.6zM226.9 327.2h1.6v1.6h-1.6zM224.1 319.8h1.6v1.6h-1.6zM223.8 332.8h1.6v1.6h-1.6zM223.5 333.9h1.6v1.6h-1.6zM226.5 312.7h1.6v1.6h-1.6zM224.3 320.0h1.6v1.6h-1.6zM275.8 302.8h1.6v1.6h-1.6zM261.0 304.8h1.6v1.6h-1.6zM263.4 307.9h1.6v1.6h-1.6zM274.7 303.1h1.6v1.6h-1.6zM262.5 305.4h1.6v1.6h-1.6zM270.8 309.3h1.6v1.6h-1.6zM271.8 308.4h1.6v1.6h-1.6zM263.3 307.2h1.6v1.6h-1.6zM261.6 305.9h1.6v1.6h-1.6zM272.6 308.6h1.6v1.6h-1.6zM270.2 307.2h1.6v1.6h-1.6zM273.2 304.6h1.6v1.6h-1.6zM263.4 306.0h1.6v1.6h-1.6zM275.7 302.6h1.6v1.6h-1.6zM272.0 309.7h1.6v1.6h-1.6zM263.2 307.8h1.6v1.6h-1.6zM269.5 307.3h1.6v1.6h-1.6zM239.8 289.5h1.6v1.6h-1.6zM237.8 307.5h1.6v1.6h-1.6zM255.5 298.0h1.6v1.6h-1.6zM253.6 289.5h1.6v1.6h-1.6zM245.7 288.2h1.6v1.6h-1.6zM223.1 323.0h1.6v1.6h-1.6zM228.6 311.6h1.6v1.6h-1.6zM259.9 307.2h1.6v1.6h-1.6zM225.2 313.7h1.6v1.6h-1.6zM240.6 291.0h1.6v1.6h-1.6zM263.0 307.1h1.6v1.6h-1.6zM225.4 314.0h1.6v1.6h-1.6z" fill="#137cfe"/>
<path d="M225.7 301.0h1.6v1.6h-1.6zM244.7 292.9h1.6v1.6h-1.6zM233.8 295.0h1.6v1.6h-1.6zM250.0 292.6h1.6v1.6h-1.6zM240.8 306.4h1.6v1.6h-1.6zM244.7 303.8h1.6v1.6h-1.6zM251.9 297.7h1.6v1.6h-1.6zM242.4 305.7h1.6v1.6h-1.6zM250.6 297.6h1.6v1.6h-1.6zM236.7 292.9h1.6v1.6h-1.6zM224.0 303.7h1.6v1.6h-1.6zM223.8 304.6h1.6v1.6h-1.6zM249.9 296.3h1.6v1.6h-1.6zM242.3 292.7h1.6v1.6h-1.6zM233.5 308.7h1.6v1.6h-1.6zM226.6 307.9h1.6v1.6h-1.6zM235.2 293.9h1.6v1.6h-1.6zM228.0 310.7h1.6v1.6h-1.6zM251.6 297.3h1.6v1.6h-1.6zM223.7 304.8h1.6v1.6h-1.6zM244.9 293.7h1.6v1.6h-1.6zM251.4 297.1h1.6v1.6h-1.6zM246.2 289.5h1.6v1.6h-1.6zM254.7 289.6h1.6v1.6h-1.6zM233.8 308.8h1.6v1.6h-1.6zM254.3 313.1h1.6v1.6h-1.6zM265.4 334.1h1.6v1.6h-1.6zM255.1 311.0h1.6v1.6h-1.6zM252.8 340.1h1.6v1.6h-1.6zM249.6 326.8h1.6v1.6h-1.6zM249.4 327.4h1.6v1.6h-1.6zM260.6 309.2h1.6v1.6h-1.6zM265.2 321.1h1.6v1.6h-1.6zM253.4 348.2h1.6v1.6h-1.6zM250.1 333.6h1.6v1.6h-1.6zM265.8 328.1h1.6v1.6h-1.6zM264.7 336.5h1.6v1.6h-1.6zM257.5 352.8h1.6v1.6h-1.6zM253.6 342.2h1.6v1.6h-1.6zM260.3 309.5h1.6v1.6h-1.6zM264.9 321.6h1.6v1.6h-1.6zM264.8 324.9h1.6v1.6h-1.6zM260.9 310.1h1.6v1.6h-1.6zM263.8 345.0h1.6v1.6h-1.6zM254.8 310.2h1.6v1.6h-1.6zM265.1 325.2h1.6v1.6h-1.6zM258.5 309.0h1.6v1.6h-1.6zM264.7 317.7h1.6v1.6h-1.6zM255.3 309.1h1.6v1.6h-1.6zM250.2 321.1h1.6v1.6h-1.6zM263.1 313.3h1.6v1.6h-1.6zM250.6 324.9h1.6v1.6h-1.6zM264.0 320.9h1.6v1.6h-1.6zM250.3 332.2h1.6v1.6h-1.6zM249.0 327.4h1.6v1.6h-1.6zM255.2 312.3h1.6v1.6h-1.6zM257.2 309.5h1.6v1.6h-1.6zM263.5 316.2h1.6v1.6h-1.6zM250.7 329.7h1.6v1.6h-1.6zM263.5 350.7h1.6v1.6h-1.6zM258.6 352.6h1.6v1.6h-1.6zM250.1 321.6h1.6v1.6h-1.6zM265.8 330.3h1.6v1.6h-1.6zM249.7 327.5h1.6v1.6h-1.6zM265.9 330.7h1.6v1.6h-1.6zM254.7 309.3h1.6v1.6h-1.6zM250.0 322.9h1.6v1.6h-1.6zM265.3 335.0h1.6v1.6h-1.6zM264.5 320.9h1.6v1.6h-1.6zM249.9 334.4h1.6v1.6h-1.6zM265.8 331.2h1.6v1.6h-1.6zM264.4 311.4h1.6v1.6h-1.6zM251.2 317.3h1.6v1.6h-1.6zM256.8 354.7h1.6v1.6h-1.6zM260.9 354.6h1.6v1.6h-1.6zM260.4 355.4h1.6v1.6h-1.6zM264.6 345.6h1.6v1.6h-1.6zM257.2 355.0h1.6v1.6h-1.6zM255.7 353.8h1.6v1.6h-1.6zM257.4 353.5h1.6v1.6h-1.6zM259.8 355.2h1.6v1.6h-1.6zM263.2 350.5h1.6v1.6h-1.6zM262.9 347.7h1.6v1.6h-1.6zM254.8 344.5h1.6v1.6h-1.6zM262.0 353.8h1.6v1.6h-1.6zM258.9 352.5h1.6v1.6h-1.6zM256.5 354.7h1.6v1.6h-1.6zM262.6 348.8h1.6v1.6h-1.6zM260.1 354.2h1.6v1.6h-1.6zM255.0 350.3h1.6v1.6h-1.6zM260.3 296.3h1.6v1.6h-1.6zM267.4 295.7h1.6v1.6h-1.6zM257.4 289.3h1.6v1.6h-1.6zM254.8 296.3h1.6v1.6h-1.6zM256.7 291.0h1.6v1.6h-1.6zM252.9 296.4h1.6v1.6h-1.6zM266.9 293.3h1.6v1.6h-1.6zM252.9 291.3h1.6v1.6h-1.6zM265.6 290.8h1.6v1.6h-1.6zM266.7 292.3h1.6v1.6h-1.6zM266.7 292.1h1.6v1.6h-1.6zM258.5 290.5h1.6v1.6h-1.6zM257.7 288.7h1.6v1.6h-1.6zM260.7 296.0h1.6v1.6h-1.6zM266.5 293.7h1.6v1.6h-1.6zM264.3 292.7h1.6v1.6h-1.6zM256.8 293.1h1.6v1.6h-1.6zM258.3 290.4h1.6v1.6h-1.6zM260.9 295.9h1.6v1.6h-1.6zM254.7 289.9h1.6v1.6h-1.6zM259.5 296.3h1.6v1.6h-1.6zM254.6 297.2h1.6v1.6h-1.6zM258.4 289.1h1.6v1.6h-1.6zM258.5 296.1h1.6v1.6h-1.6zM225.9 327.8h1.6v1.6h-1.6zM226.8 312.3h1.6v1.6h-1.6zM228.0 311.2h1.6v1.6h-1.6zM226.4 329.8h1.6v1.6h-1.6zM225.5 329.1h1.6v1.6h-1.6zM226.7 329.4h1.6v1.6h-1.6zM227.8 328.6h1.6v1.6h-1.6zM227.5 328.5h1.6v1.6h-1.6zM263.6 315.7h1.6v1.6h-1.6zM264.5 310.7h1.6v1.6h-1.6zM264.9 310.5h1.6v1.6h-1.6zM231.6 308.8h1.6v1.6h-1.6zM257.7 291.1h1.6v1.6h-1.6zM227.0 312.0h1.6v1.6h-1.6zM240.6 291.9h1.6v1.6h-1.6zM226.9 312.1h1.6v1.6h-1.6z" fill="#12a5f7"/>
<path d="M245.8 290.1h1.6v1.6h-1.6zM254.7 295.8h1.6v1.6h-1.6zM252.6 293.9h1.6v1.6h-1.6zM234.4 306.8h1.6v1.6h-1.6zM224.8 304.9h1.6v1.6h-1.6zM241.5 304.8h1.6v1.6h-1.6zM230.1 308.4h1.6v1.6h-1.6zM228.2 308.2h1.6v1.6h-1.6zM238.2 306.2h1.6v1.6h-1.6zM227.8 300.2h1.6v1.6h-1.6zM240.7 305.7h1.6v1.6h-1.6zM241.4 292.6h1.6v1.6h-1.6zM246.4 290.2h1.6v1.6h-1.6zM247.2 290.4h1.6v1.6h-1.6zM248.0 301.5h1.6v1.6h-1.6zM226.4 306.2h1.6v1.6h-1.6zM230.6 298.8h1.6v1.6h-1.6zM239.9 306.0h1.6v1.6h-1.6zM249.4 293.1h1.6v1.6h-1.6zM242.5 305.1h1.6v1.6h-1.6zM225.3 305.3h1.6v1.6h-1.6zM229.5 308.6h1.6v1.6h-1.6zM244.2 294.0h1.6v1.6h-1.6zM263.0 320.5h1.6v1.6h-1.6zM250.3 333.1h1.6v1.6h-1.6zM261.0 353.5h1.6v1.6h-1.6zM251.2 329.9h1.6v1.6h-1.6zM258.3 309.6h1.6v1.6h-1.6zM253.9 346.8h1.6v1.6h-1.6zM264.7 333.8h1.6v1.6h-1.6zM263.4 322.6h1.6v1.6h-1.6zM257.9 309.9h1.6v1.6h-1.6zM252.2 331.7h1.6v1.6h-1.6zM256.1 312.3h1.6v1.6h-1.6zM254.7 352.3h1.6v1.6h-1.6zM250.7 320.5h1.6v1.6h-1.6zM250.6 333.0h1.6v1.6h-1.6zM260.9 311.6h1.6v1.6h-1.6zM255.8 350.9h1.6v1.6h-1.6zM256.3 310.4h1.6v1.6h-1.6zM257.8 311.8h1.6v1.6h-1.6zM264.0 318.3h1.6v1.6h-1.6zM262.8 311.5h1.6v1.6h-1.6zM265.4 326.6h1.6v1.6h-1.6zM262.1 310.7h1.6v1.6h-1.6zM251.4 317.8h1.6v1.6h-1.6zM263.0 311.4h1.6v1.6h-1.6zM257.2 311.6h1.6v1.6h-1.6zM258.1 346.6h1.6v1.6h-1.6zM251.6 332.9h1.6v1.6h-1.6zM252.4 315.8h1.6v1.6h-1.6zM264.9 333.8h1.6v1.6h-1.6zM255.3 312.0h1.6v1.6h-1.6zM265.4 328.5h1.6v1.6h-1.6zM262.9 311.1h1.6v1.6h-1.6zM265.6 328.5h1.6v1.6h-1.6zM257.1 313.9h1.6v1.6h-1.6zM250.7 320.4h1.6v1.6h-1.6zM263.2 344.8h1.6v1.6h-1.6zM264.1 319.2h1.6v1.6h-1.6zM258.2 348.0h1.6v1.6h-1.6zM263.2 312.1h1.6v1.6h-1.6zM256.6 312.1h1.6v1.6h-1.6zM252.4 334.7h1.6v1.6h-1.6zM251.9 332.6h1.6v1.6h-1.6zM255.8 313.6h1.6v1.6h-1.6zM256.7 310.5h1.6v1.6h-1.6zM262.0 313.9h1.6v1.6h-1.6zM263.4 310.5h1.6v1.6h-1.6zM254.8 348.2h1.6v1.6h-1.6zM264.7 335.1h1.6v1.6h-1.6zM255.6 348.0h1.6v1.6h-1.6zM254.3 351.9h1.6v1.6h-1.6zM254.8 351.4h1.6v1.6h-1.6zM263.3 345.3h1.6v1.6h-1.6zM257.9 347.5h1.6v1.6h-1.6zM256.7 348.9h1.6v1.6h-1.6zM255.5 351.5h1.6v1.6h-1.6zM260.8 353.0h1.6v1.6h-1.6zM262.2 353.0h1.6v1.6h-1.6zM257.1 351.2h1.6v1.6h-1.6zM262.9 345.8h1.6v1.6h-1.6zM258.7 351.8h1.6v1.6h-1.6zM262.4 350.9h1.6v1.6h-1.6zM262.4 351.0h1.6v1.6h-1.6zM262.0 352.7h1.6v1.6h-1.6zM254.3 346.6h1.6v1.6h-1.6zM259.7 351.9h1.6v1.6h-1.6zM261.4 351.2h1.6v1.6h-1.6zM254.7 352.1h1.6v1.6h-1.6zM254.8 352.0h1.6v1.6h-1.6zM264.5 291.2h1.6v1.6h-1.6zM267.3 294.7h1.6v1.6h-1.6zM264.1 292.0h1.6v1.6h-1.6zM267.6 295.0h1.6v1.6h-1.6zM257.6 289.6h1.6v1.6h-1.6zM257.8 295.0h1.6v1.6h-1.6zM264.7 291.5h1.6v1.6h-1.6zM254.3 290.4h1.6v1.6h-1.6zM264.2 291.3h1.6v1.6h-1.6zM256.4 291.2h1.6v1.6h-1.6zM245.9 292.6h1.6v1.6h-1.6zM258.5 294.3h1.6v1.6h-1.6zM248.4 301.0h1.6v1.6h-1.6zM259.1 295.2h1.6v1.6h-1.6zM256.4 294.5h1.6v1.6h-1.6zM264.7 291.8h1.6v1.6h-1.6zM258.5 294.4h1.6v1.6h-1.6zM267.2 294.9h1.6v1.6h-1.6zM267.3 294.9h1.6v1.6h-1.6zM256.8 293.6h1.6v1.6h-1.6zM255.8 294.3h1.6v1.6h-1.6zM253.0 295.3h1.6v1.6h-1.6zM257.0 295.0h1.6v1.6h-1.6zM253.6 296.1h1.6v1.6h-1.6zM226.3 328.8h1.6v1.6h-1.6zM226.7 328.2h1.6v1.6h-1.6zM239.5 306.4h1.6v1.6h-1.6zM243.2 293.7h1.6v1.6h-1.6zM228.7 299.0h1.6v1.6h-1.6zM261.1 310.7h1.6v1.6h-1.6z" fill="#10cdf0"/>
<path d="M248.5 300.8h1.6v1.6h-1.6zM254.0 295.4h1.6v1.6h-1.6zM242.8 304.3h1.6v1.6h-1.6zM228.5 299.9h1.6v1.6h-1.6zM249.8 294.8h1.6v1.6h-1.6zM243.1 294.2h1.6v1.6h-1.6zM227.1 306.5h1.6v1.6h-1.6zM237.6 305.5h1.6v1.6h-1.6zM226.1 305.5h1.6v1.6h-1.6zM225.6 305.2h1.6v1.6h-1.6zM246.8 294.1h1.6v1.6h-1.6zM247.9 292.9h1.6v1.6h-1.6zM225.6 303.6h1.6v1.6h-1.6zM244.4 295.2h1.6v1.6h-1.6zM240.1 305.7h1.6v1.6h-1.6zM225.2 304.5h1.6v1.6h-1.6zM228.9 300.0h1.6v1.6h-1.6zM247.9 292.7h1.6v1.6h-1.6zM248.6 298.3h1.6v1.6h-1.6zM243.8 302.1h1.6v1.6h-1.6zM243.7 303.6h1.6v1.6h-1.6zM246.2 290.8h1.6v1.6h-1.6zM228.3 307.5h1.6v1.6h-1.6zM228.8 300.1h1.6v1.6h-1.6zM248.0 291.7h1.6v1.6h-1.6zM226.0 301.8h1.6v1.6h-1.6zM238.1 306.0h1.6v1.6h-1.6zM245.2 295.3h1.6v1.6h-1.6zM253.2 294.8h1.6v1.6h-1.6zM236.2 293.9h1.6v1.6h-1.6zM235.7 294.2h1.6v1.6h-1.6zM254.8 291.1h1.6v1.6h-1.6zM248.7 297.9h1.6v1.6h-1.6zM238.6 293.3h1.6v1.6h-1.6zM230.1 308.2h1.6v1.6h-1.6zM248.6 299.7h1.6v1.6h-1.6zM245.6 302.0h1.6v1.6h-1.6zM246.2 292.6h1.6v1.6h-1.6zM263.8 325.3h1.6v1.6h-1.6zM262.7 319.7h1.6v1.6h-1.6zM247.4 301.8h1.6v1.6h-1.6zM251.4 328.9h1.6v1.6h-1.6zM251.5 320.8h1.6v1.6h-1.6zM255.4 345.2h1.6v1.6h-1.6zM251.4 328.3h1.6v1.6h-1.6zM253.0 334.2h1.6v1.6h-1.6zM263.6 317.8h1.6v1.6h-1.6zM251.3 323.5h1.6v1.6h-1.6zM263.3 333.5h1.6v1.6h-1.6zM256.8 346.3h1.6v1.6h-1.6zM260.1 312.2h1.6v1.6h-1.6zM258.5 346.0h1.6v1.6h-1.6zM265.0 326.8h1.6v1.6h-1.6zM251.6 324.0h1.6v1.6h-1.6zM260.3 345.2h1.6v1.6h-1.6zM251.7 320.4h1.6v1.6h-1.6zM258.9 311.8h1.6v1.6h-1.6zM263.9 324.1h1.6v1.6h-1.6zM251.6 322.9h1.6v1.6h-1.6zM262.3 321.6h1.6v1.6h-1.6zM257.9 349.4h1.6v1.6h-1.6zM261.9 346.0h1.6v1.6h-1.6zM259.0 312.5h1.6v1.6h-1.6zM262.5 315.4h1.6v1.6h-1.6zM253.9 314.7h1.6v1.6h-1.6zM261.0 350.4h1.6v1.6h-1.6zM262.9 335.1h1.6v1.6h-1.6zM258.8 310.2h1.6v1.6h-1.6zM255.9 345.4h1.6v1.6h-1.6zM257.6 314.1h1.6v1.6h-1.6zM258.7 310.5h1.6v1.6h-1.6zM263.3 335.0h1.6v1.6h-1.6zM260.1 311.0h1.6v1.6h-1.6zM260.6 312.7h1.6v1.6h-1.6zM263.2 335.9h1.6v1.6h-1.6zM252.3 330.1h1.6v1.6h-1.6zM261.8 346.5h1.6v1.6h-1.6zM258.2 310.9h1.6v1.6h-1.6zM253.1 335.1h1.6v1.6h-1.6zM253.3 338.6h1.6v1.6h-1.6zM260.8 340.7h1.6v1.6h-1.6zM263.5 323.9h1.6v1.6h-1.6zM259.9 344.5h1.6v1.6h-1.6zM263.3 333.8h1.6v1.6h-1.6zM259.3 311.4h1.6v1.6h-1.6zM254.0 315.0h1.6v1.6h-1.6zM258.6 349.0h1.6v1.6h-1.6zM259.8 350.3h1.6v1.6h-1.6zM257.5 349.7h1.6v1.6h-1.6zM262.0 347.1h1.6v1.6h-1.6zM254.1 341.6h1.6v1.6h-1.6zM255.0 342.7h1.6v1.6h-1.6zM255.2 347.9h1.6v1.6h-1.6zM261.2 348.9h1.6v1.6h-1.6zM261.5 343.8h1.6v1.6h-1.6zM262.0 344.3h1.6v1.6h-1.6zM259.7 349.9h1.6v1.6h-1.6zM255.1 347.2h1.6v1.6h-1.6zM261.9 347.7h1.6v1.6h-1.6zM259.8 346.8h1.6v1.6h-1.6zM258.1 350.6h1.6v1.6h-1.6zM257.0 350.6h1.6v1.6h-1.6zM261.4 344.2h1.6v1.6h-1.6zM255.2 347.1h1.6v1.6h-1.6zM261.1 351.1h1.6v1.6h-1.6zM257.2 350.5h1.6v1.6h-1.6zM258.3 350.8h1.6v1.6h-1.6zM260.6 350.4h1.6v1.6h-1.6zM255.0 347.7h1.6v1.6h-1.6zM257.2 349.1h1.6v1.6h-1.6zM260.0 346.3h1.6v1.6h-1.6zM259.9 347.3h1.6v1.6h-1.6zM261.0 345.3h1.6v1.6h-1.6zM254.2 294.8h1.6v1.6h-1.6zM254.7 294.4h1.6v1.6h-1.6zM253.0 293.6h1.6v1.6h-1.6zM247.4 291.2h1.6v1.6h-1.6zM257.7 294.8h1.6v1.6h-1.6zM246.3 292.2h1.6v1.6h-1.6zM255.4 291.6h1.6v1.6h-1.6zM255.4 292.5h1.6v1.6h-1.6zM258.0 294.7h1.6v1.6h-1.6zM249.7 295.5h1.6v1.6h-1.6zM225.9 303.1h1.6v1.6h-1.6zM243.3 303.3h1.6v1.6h-1.6zM246.5 292.1h1.6v1.6h-1.6zM232.8 308.0h1.6v1.6h-1.6zM231.7 297.9h1.6v1.6h-1.6zM249.8 295.2h1.6v1.6h-1.6z" fill="#14d6c9"/>
<path d="M243.0 302.6h1.6v1.6h-1.6zM248.6 293.3h1.6v1.6h-1.6zM229.7 300.1h1.6v1.6h-1.6zM227.8 305.4h1.6v1.6h-1.6zM231.2 299.4h1.6v1.6h-1.6zM231.7 307.5h1.6v1.6h-1.6zM232.8 297.2h1.6v1.6h-1.6zM239.2 304.7h1.6v1.6h-1.6zM248.6 295.6h1.6v1.6h-1.6zM239.1 293.6h1.6v1.6h-1.6zM248.6 299.3h1.6v1.6h-1.6zM248.5 299.4h1.6v1.6h-1.6zM242.0 293.7h1.6v1.6h-1.6zM242.9 303.5h1.6v1.6h-1.6zM240.6 293.8h1.6v1.6h-1.6zM253.8 292.3h1.6v1.6h-1.6zM232.2 307.7h1.6v1.6h-1.6zM228.8 307.2h1.6v1.6h-1.6zM254.6 294.0h1.6v1.6h-1.6zM228.9 307.3h1.6v1.6h-1.6zM227.7 301.3h1.6v1.6h-1.6zM228.6 301.0h1.6v1.6h-1.6zM229.8 307.2h1.6v1.6h-1.6zM242.7 303.8h1.6v1.6h-1.6zM228.1 306.1h1.6v1.6h-1.6zM254.0 292.1h1.6v1.6h-1.6zM237.3 293.7h1.6v1.6h-1.6zM240.0 293.6h1.6v1.6h-1.6zM236.5 294.2h1.6v1.6h-1.6zM241.5 293.8h1.6v1.6h-1.6zM238.5 293.5h1.6v1.6h-1.6zM227.7 306.6h1.6v1.6h-1.6zM245.0 295.9h1.6v1.6h-1.6zM238.3 305.3h1.6v1.6h-1.6zM229.6 306.0h1.6v1.6h-1.6zM237.7 304.6h1.6v1.6h-1.6zM245.5 301.6h1.6v1.6h-1.6zM247.2 291.3h1.6v1.6h-1.6zM239.3 304.9h1.6v1.6h-1.6zM247.3 291.4h1.6v1.6h-1.6zM236.4 304.7h1.6v1.6h-1.6zM248.5 294.0h1.6v1.6h-1.6zM242.7 303.9h1.6v1.6h-1.6zM226.5 301.8h1.6v1.6h-1.6zM262.2 316.0h1.6v1.6h-1.6zM252.2 319.1h1.6v1.6h-1.6zM261.7 314.9h1.6v1.6h-1.6zM264.3 332.0h1.6v1.6h-1.6zM261.9 334.7h1.6v1.6h-1.6zM253.5 335.7h1.6v1.6h-1.6zM256.0 314.8h1.6v1.6h-1.6zM263.4 332.6h1.6v1.6h-1.6zM261.3 343.8h1.6v1.6h-1.6zM262.9 335.4h1.6v1.6h-1.6zM254.4 315.3h1.6v1.6h-1.6zM255.4 314.7h1.6v1.6h-1.6zM263.9 327.2h1.6v1.6h-1.6zM263.5 325.4h1.6v1.6h-1.6zM252.5 318.9h1.6v1.6h-1.6zM264.0 332.6h1.6v1.6h-1.6zM264.5 328.2h1.6v1.6h-1.6zM251.9 323.1h1.6v1.6h-1.6zM260.9 320.7h1.6v1.6h-1.6zM258.8 340.6h1.6v1.6h-1.6zM260.9 342.2h1.6v1.6h-1.6zM262.4 339.2h1.6v1.6h-1.6zM264.3 332.1h1.6v1.6h-1.6zM262.6 338.7h1.6v1.6h-1.6zM260.8 313.6h1.6v1.6h-1.6zM251.9 321.9h1.6v1.6h-1.6zM263.5 326.8h1.6v1.6h-1.6zM253.9 315.5h1.6v1.6h-1.6zM259.1 344.1h1.6v1.6h-1.6zM252.2 329.5h1.6v1.6h-1.6zM262.5 332.3h1.6v1.6h-1.6zM252.6 323.6h1.6v1.6h-1.6zM252.0 325.7h1.6v1.6h-1.6zM251.9 327.7h1.6v1.6h-1.6zM264.6 329.9h1.6v1.6h-1.6zM261.7 320.0h1.6v1.6h-1.6zM260.3 340.5h1.6v1.6h-1.6zM261.0 347.0h1.6v1.6h-1.6zM264.2 329.9h1.6v1.6h-1.6zM252.2 320.2h1.6v1.6h-1.6zM252.7 316.7h1.6v1.6h-1.6zM262.6 332.2h1.6v1.6h-1.6zM264.1 326.8h1.6v1.6h-1.6zM264.2 328.4h1.6v1.6h-1.6zM260.9 342.3h1.6v1.6h-1.6zM262.0 327.0h1.6v1.6h-1.6zM257.1 315.3h1.6v1.6h-1.6zM261.2 314.2h1.6v1.6h-1.6zM253.5 335.9h1.6v1.6h-1.6zM257.8 345.6h1.6v1.6h-1.6zM260.1 349.1h1.6v1.6h-1.6zM260.2 348.0h1.6v1.6h-1.6zM262.9 324.1h1.6v1.6h-1.6zM262.5 332.3h1.6v1.6h-1.6zM264.1 328.1h1.6v1.6h-1.6zM264.2 326.8h1.6v1.6h-1.6zM262.9 325.6h1.6v1.6h-1.6zM259.2 344.0h1.6v1.6h-1.6zM257.8 349.9h1.6v1.6h-1.6zM262.5 338.8h1.6v1.6h-1.6zM260.6 348.3h1.6v1.6h-1.6zM260.3 347.8h1.6v1.6h-1.6zM261.6 346.8h1.6v1.6h-1.6zM260.3 349.8h1.6v1.6h-1.6zM256.0 345.5h1.6v1.6h-1.6zM252.9 333.8h1.6v1.6h-1.6zM256.9 345.6h1.6v1.6h-1.6zM256.8 346.1h1.6v1.6h-1.6zM260.3 348.5h1.6v1.6h-1.6zM257.1 345.2h1.6v1.6h-1.6zM261.0 344.4h1.6v1.6h-1.6zM246.9 294.9h1.6v1.6h-1.6zM253.5 293.7h1.6v1.6h-1.6zM254.6 292.9h1.6v1.6h-1.6zM254.1 291.9h1.6v1.6h-1.6zM254.0 293.0h1.6v1.6h-1.6zM254.9 293.0h1.6v1.6h-1.6zM253.8 292.1h1.6v1.6h-1.6zM249.0 294.2h1.6v1.6h-1.6zM228.3 306.0h1.6v1.6h-1.6zM259.5 313.2h1.6v1.6h-1.6zM238.6 293.5h1.6v1.6h-1.6zM246.1 301.7h1.6v1.6h-1.6zM226.8 301.9h1.6v1.6h-1.6zM245.2 296.0h1.6v1.6h-1.6zM237.5 293.8h1.6v1.6h-1.6zM228.2 307.1h1.6v1.6h-1.6zM261.9 322.2h1.6v1.6h-1.6z" fill="#18db9d"/>
<path d="M246.5 301.1h1.6v1.6h-1.6zM237.1 295.3h1.6v1.6h-1.6zM244.3 300.4h1.6v1.6h-1.6zM248.2 295.0h1.6v1.6h-1.6zM238.7 304.2h1.6v1.6h-1.6zM240.7 303.7h1.6v1.6h-1.6zM248.9 294.7h1.6v1.6h-1.6zM232.9 297.2h1.6v1.6h-1.6zM248.0 299.6h1.6v1.6h-1.6zM245.1 301.0h1.6v1.6h-1.6zM237.6 295.3h1.6v1.6h-1.6zM239.8 293.9h1.6v1.6h-1.6zM233.6 296.4h1.6v1.6h-1.6zM230.4 300.5h1.6v1.6h-1.6zM242.6 295.1h1.6v1.6h-1.6zM226.6 303.5h1.6v1.6h-1.6zM235.4 304.6h1.6v1.6h-1.6zM247.6 296.3h1.6v1.6h-1.6zM234.6 305.2h1.6v1.6h-1.6zM246.1 301.1h1.6v1.6h-1.6zM230.3 306.5h1.6v1.6h-1.6zM248.6 294.7h1.6v1.6h-1.6zM232.8 297.9h1.6v1.6h-1.6zM240.1 303.8h1.6v1.6h-1.6zM237.2 304.6h1.6v1.6h-1.6zM233.1 306.9h1.6v1.6h-1.6zM239.8 294.8h1.6v1.6h-1.6zM247.6 295.9h1.6v1.6h-1.6zM243.1 301.4h1.6v1.6h-1.6zM239.6 294.5h1.6v1.6h-1.6zM247.9 298.6h1.6v1.6h-1.6zM243.0 301.5h1.6v1.6h-1.6zM230.5 306.2h1.6v1.6h-1.6zM232.4 298.9h1.6v1.6h-1.6zM228.8 304.4h1.6v1.6h-1.6zM227.7 304.5h1.6v1.6h-1.6zM241.2 293.9h1.6v1.6h-1.6zM247.1 295.9h1.6v1.6h-1.6zM233.9 306.0h1.6v1.6h-1.6zM237.1 294.6h1.6v1.6h-1.6zM236.2 295.2h1.6v1.6h-1.6zM227.2 304.0h1.6v1.6h-1.6zM226.5 302.7h1.6v1.6h-1.6zM238.9 294.3h1.6v1.6h-1.6zM238.3 295.5h1.6v1.6h-1.6zM232.6 298.3h1.6v1.6h-1.6zM247.9 297.9h1.6v1.6h-1.6zM233.7 296.7h1.6v1.6h-1.6zM246.5 296.1h1.6v1.6h-1.6zM259.5 342.3h1.6v1.6h-1.6zM253.3 316.8h1.6v1.6h-1.6zM262.1 327.8h1.6v1.6h-1.6zM260.9 321.8h1.6v1.6h-1.6zM252.3 326.5h1.6v1.6h-1.6zM255.0 315.4h1.6v1.6h-1.6zM254.5 341.2h1.6v1.6h-1.6zM257.6 315.8h1.6v1.6h-1.6zM253.2 316.6h1.6v1.6h-1.6zM261.0 332.1h1.6v1.6h-1.6zM260.8 339.5h1.6v1.6h-1.6zM255.0 316.4h1.6v1.6h-1.6zM262.5 336.4h1.6v1.6h-1.6zM255.7 315.7h1.6v1.6h-1.6zM264.1 330.8h1.6v1.6h-1.6zM256.9 344.7h1.6v1.6h-1.6zM260.6 341.9h1.6v1.6h-1.6zM260.6 342.5h1.6v1.6h-1.6zM252.8 329.4h1.6v1.6h-1.6zM261.3 319.7h1.6v1.6h-1.6zM262.1 322.8h1.6v1.6h-1.6zM252.7 321.3h1.6v1.6h-1.6zM260.8 342.5h1.6v1.6h-1.6zM262.5 324.4h1.6v1.6h-1.6zM262.0 323.3h1.6v1.6h-1.6zM263.8 331.4h1.6v1.6h-1.6zM260.2 319.3h1.6v1.6h-1.6zM261.9 316.9h1.6v1.6h-1.6zM259.3 341.1h1.6v1.6h-1.6zM262.1 318.8h1.6v1.6h-1.6zM262.7 318.7h1.6v1.6h-1.6zM252.9 318.5h1.6v1.6h-1.6zM262.0 317.2h1.6v1.6h-1.6zM257.9 315.2h1.6v1.6h-1.6zM262.4 318.9h1.6v1.6h-1.6zM262.5 318.1h1.6v1.6h-1.6zM255.6 315.4h1.6v1.6h-1.6zM254.8 315.8h1.6v1.6h-1.6zM260.9 339.5h1.6v1.6h-1.6zM252.2 328.8h1.6v1.6h-1.6zM260.0 317.6h1.6v1.6h-1.6zM252.4 322.1h1.6v1.6h-1.6zM252.6 322.5h1.6v1.6h-1.6zM259.7 342.1h1.6v1.6h-1.6zM259.7 341.8h1.6v1.6h-1.6zM253.1 318.7h1.6v1.6h-1.6zM261.9 322.6h1.6v1.6h-1.6zM256.3 316.0h1.6v1.6h-1.6zM261.7 339.3h1.6v1.6h-1.6zM254.7 341.3h1.6v1.6h-1.6zM252.5 317.5h1.6v1.6h-1.6zM262.9 328.1h1.6v1.6h-1.6zM252.7 329.2h1.6v1.6h-1.6zM253.1 317.1h1.6v1.6h-1.6zM262.4 337.4h1.6v1.6h-1.6zM258.7 314.4h1.6v1.6h-1.6zM261.7 325.4h1.6v1.6h-1.6zM262.6 317.9h1.6v1.6h-1.6zM260.1 319.6h1.6v1.6h-1.6zM255.0 334.6h1.6v1.6h-1.6zM252.5 318.7h1.6v1.6h-1.6zM263.0 328.1h1.6v1.6h-1.6zM260.3 313.9h1.6v1.6h-1.6zM257.0 344.1h1.6v1.6h-1.6zM258.3 343.8h1.6v1.6h-1.6zM255.5 335.8h1.6v1.6h-1.6zM262.1 323.4h1.6v1.6h-1.6zM260.0 320.2h1.6v1.6h-1.6zM256.0 342.5h1.6v1.6h-1.6zM263.6 332.0h1.6v1.6h-1.6zM253.8 337.7h1.6v1.6h-1.6zM263.9 330.8h1.6v1.6h-1.6zM262.5 324.0h1.6v1.6h-1.6zM258.2 340.0h1.6v1.6h-1.6zM259.5 341.7h1.6v1.6h-1.6zM262.7 336.6h1.6v1.6h-1.6zM259.3 343.3h1.6v1.6h-1.6zM255.9 342.3h1.6v1.6h-1.6zM257.6 343.6h1.6v1.6h-1.6zM260.2 342.2h1.6v1.6h-1.6zM256.2 342.9h1.6v1.6h-1.6zM255.7 342.7h1.6v1.6h-1.6zM257.4 344.7h1.6v1.6h-1.6zM257.5 344.1h1.6v1.6h-1.6zM248.2 294.3h1.6v1.6h-1.6zM246.9 296.0h1.6v1.6h-1.6zM227.1 302.0h1.6v1.6h-1.6zM234.7 295.8h1.6v1.6h-1.6zM227.4 304.5h1.6v1.6h-1.6zM232.9 306.9h1.6v1.6h-1.6zM239.0 295.4h1.6v1.6h-1.6zM231.3 306.9h1.6v1.6h-1.6zM247.7 295.4h1.6v1.6h-1.6zM247.6 299.1h1.6v1.6h-1.6zM242.7 294.8h1.6v1.6h-1.6zM260.8 322.2h1.6v1.6h-1.6z" fill="#1de072"/>
<path d="M227.3 302.6h1.6v1.6h-1.6zM228.8 302.9h1.6v1.6h-1.6zM231.9 299.9h1.6v1.6h-1.6zM243.0 301.2h1.6v1.6h-1.6zM229.3 302.3h1.6v1.6h-1.6zM230.8 306.4h1.6v1.6h-1.6zM235.5 304.0h1.6v1.6h-1.6zM229.0 301.8h1.6v1.6h-1.6zM246.7 297.2h1.6v1.6h-1.6zM241.0 295.3h1.6v1.6h-1.6zM228.6 302.8h1.6v1.6h-1.6zM232.1 299.4h1.6v1.6h-1.6zM246.8 298.8h1.6v1.6h-1.6zM244.6 300.3h1.6v1.6h-1.6zM246.8 300.2h1.6v1.6h-1.6zM238.3 296.0h1.6v1.6h-1.6zM231.4 300.1h1.6v1.6h-1.6zM230.3 303.5h1.6v1.6h-1.6zM229.7 301.8h1.6v1.6h-1.6zM229.0 303.9h1.6v1.6h-1.6zM238.3 296.0h1.6v1.6h-1.6zM246.2 300.2h1.6v1.6h-1.6zM245.5 300.4h1.6v1.6h-1.6zM246.4 300.4h1.6v1.6h-1.6zM235.4 304.3h1.6v1.6h-1.6zM242.2 301.7h1.6v1.6h-1.6zM230.5 304.1h1.6v1.6h-1.6zM229.9 302.3h1.6v1.6h-1.6zM235.4 296.0h1.6v1.6h-1.6zM245.0 300.2h1.6v1.6h-1.6zM236.9 295.5h1.6v1.6h-1.6zM244.5 299.4h1.6v1.6h-1.6zM227.8 303.1h1.6v1.6h-1.6zM244.6 296.8h1.6v1.6h-1.6zM228.3 303.0h1.6v1.6h-1.6zM227.5 303.7h1.6v1.6h-1.6zM240.6 303.4h1.6v1.6h-1.6zM230.9 306.2h1.6v1.6h-1.6zM245.5 297.3h1.6v1.6h-1.6zM230.7 300.6h1.6v1.6h-1.6zM229.9 304.2h1.6v1.6h-1.6zM228.6 304.0h1.6v1.6h-1.6zM228.7 301.9h1.6v1.6h-1.6zM246.3 300.3h1.6v1.6h-1.6zM228.6 303.3h1.6v1.6h-1.6zM244.1 299.5h1.6v1.6h-1.6zM246.9 297.4h1.6v1.6h-1.6zM261.3 339.1h1.6v1.6h-1.6zM257.9 342.2h1.6v1.6h-1.6zM261.7 324.7h1.6v1.6h-1.6zM254.0 333.8h1.6v1.6h-1.6zM253.4 318.2h1.6v1.6h-1.6zM253.2 321.5h1.6v1.6h-1.6zM255.9 341.9h1.6v1.6h-1.6zM258.7 319.3h1.6v1.6h-1.6zM256.4 340.9h1.6v1.6h-1.6zM259.3 314.2h1.6v1.6h-1.6zM253.4 324.5h1.6v1.6h-1.6zM260.7 315.9h1.6v1.6h-1.6zM254.0 336.8h1.6v1.6h-1.6zM252.6 327.0h1.6v1.6h-1.6zM254.4 336.3h1.6v1.6h-1.6zM253.6 332.6h1.6v1.6h-1.6zM260.2 321.9h1.6v1.6h-1.6zM260.7 319.1h1.6v1.6h-1.6zM259.8 316.2h1.6v1.6h-1.6zM261.2 318.9h1.6v1.6h-1.6zM261.2 315.9h1.6v1.6h-1.6zM260.5 333.5h1.6v1.6h-1.6zM258.8 314.7h1.6v1.6h-1.6zM252.6 327.3h1.6v1.6h-1.6zM253.8 332.9h1.6v1.6h-1.6zM254.0 339.4h1.6v1.6h-1.6zM259.5 314.2h1.6v1.6h-1.6zM261.9 318.5h1.6v1.6h-1.6zM261.2 317.0h1.6v1.6h-1.6zM254.2 340.0h1.6v1.6h-1.6zM253.6 317.4h1.6v1.6h-1.6zM260.1 314.3h1.6v1.6h-1.6zM253.4 332.1h1.6v1.6h-1.6zM255.0 334.0h1.6v1.6h-1.6zM261.0 325.3h1.6v1.6h-1.6zM253.8 333.3h1.6v1.6h-1.6zM254.4 336.2h1.6v1.6h-1.6zM261.3 323.9h1.6v1.6h-1.6zM261.0 325.9h1.6v1.6h-1.6zM259.8 319.2h1.6v1.6h-1.6zM254.6 336.4h1.6v1.6h-1.6zM260.5 333.5h1.6v1.6h-1.6zM259.5 319.5h1.6v1.6h-1.6zM260.3 315.5h1.6v1.6h-1.6zM260.4 332.6h1.6v1.6h-1.6zM256.7 335.5h1.6v1.6h-1.6zM253.1 325.4h1.6v1.6h-1.6zM261.7 318.0h1.6v1.6h-1.6zM257.0 341.8h1.6v1.6h-1.6zM262.9 330.6h1.6v1.6h-1.6zM260.1 317.1h1.6v1.6h-1.6zM259.9 321.5h1.6v1.6h-1.6zM258.0 342.2h1.6v1.6h-1.6zM257.8 339.2h1.6v1.6h-1.6zM257.1 342.5h1.6v1.6h-1.6zM263.3 329.2h1.6v1.6h-1.6zM259.5 314.1h1.6v1.6h-1.6zM261.5 325.1h1.6v1.6h-1.6zM253.0 325.7h1.6v1.6h-1.6zM259.0 315.0h1.6v1.6h-1.6zM261.4 324.3h1.6v1.6h-1.6zM254.7 316.7h1.6v1.6h-1.6zM253.1 325.1h1.6v1.6h-1.6zM257.2 342.6h1.6v1.6h-1.6zM261.0 335.3h1.6v1.6h-1.6zM253.2 321.5h1.6v1.6h-1.6zM257.1 340.0h1.6v1.6h-1.6zM257.3 339.3h1.6v1.6h-1.6zM253.9 337.1h1.6v1.6h-1.6zM253.6 318.9h1.6v1.6h-1.6zM263.3 331.1h1.6v1.6h-1.6zM255.8 341.4h1.6v1.6h-1.6zM261.6 317.4h1.6v1.6h-1.6zM261.0 316.2h1.6v1.6h-1.6zM262.2 336.7h1.6v1.6h-1.6zM260.6 333.8h1.6v1.6h-1.6zM258.4 339.3h1.6v1.6h-1.6zM259.2 315.2h1.6v1.6h-1.6zM257.4 342.0h1.6v1.6h-1.6zM260.9 316.5h1.6v1.6h-1.6zM263.0 330.5h1.6v1.6h-1.6zM258.4 319.5h1.6v1.6h-1.6zM263.1 330.8h1.6v1.6h-1.6zM260.5 314.7h1.6v1.6h-1.6zM260.7 334.9h1.6v1.6h-1.6zM255.6 334.5h1.6v1.6h-1.6zM259.0 317.1h1.6v1.6h-1.6zM253.4 317.4h1.6v1.6h-1.6zM260.5 316.0h1.6v1.6h-1.6zM262.8 329.0h1.6v1.6h-1.6zM257.3 341.0h1.6v1.6h-1.6zM253.3 332.7h1.6v1.6h-1.6zM257.7 339.8h1.6v1.6h-1.6zM254.3 339.3h1.6v1.6h-1.6zM257.9 342.6h1.6v1.6h-1.6zM257.7 341.9h1.6v1.6h-1.6zM261.9 338.2h1.6v1.6h-1.6zM258.6 339.3h1.6v1.6h-1.6zM246.8 296.9h1.6v1.6h-1.6zM260.5 318.7h1.6v1.6h-1.6zM227.9 302.5h1.6v1.6h-1.6zM241.4 295.1h1.6v1.6h-1.6zM246.1 296.5h1.6v1.6h-1.6zM241.7 294.7h1.6v1.6h-1.6zM238.2 303.7h1.6v1.6h-1.6zM241.2 295.1h1.6v1.6h-1.6zM238.0 296.1h1.6v1.6h-1.6zM257.8 319.9h1.6v1.6h-1.6zM258.9 314.6h1.6v1.6h-1.6zM259.0 319.0h1.6v1.6h-1.6zM256.4 335.6h1.6v1.6h-1.6zM258.3 319.7h1.6v1.6h-1.6zM260.3 333.9h1.6v1.6h-1.6zM256.4 336.6h1.6v1.6h-1.6z" fill="#24e157"/>
<path d="M234.6 303.9h1.6v1.6h-1.6zM245.0 299.1h1.6v1.6h-1.6zM230.7 301.4h1.6v1.6h-1.6zM233.7 304.8h1.6v1.6h-1.6zM239.6 303.1h1.6v1.6h-1.6zM233.9 304.9h1.6v1.6h-1.6zM245.5 299.1h1.6v1.6h-1.6zM233.6 305.4h1.6v1.6h-1.6zM240.6 303.0h1.6v1.6h-1.6zM230.5 303.6h1.6v1.6h-1.6zM235.7 296.1h1.6v1.6h-1.6zM234.2 304.6h1.6v1.6h-1.6zM241.5 302.4h1.6v1.6h-1.6zM231.1 305.1h1.6v1.6h-1.6zM232.3 306.4h1.6v1.6h-1.6zM235.8 296.1h1.6v1.6h-1.6zM231.0 301.4h1.6v1.6h-1.6zM230.7 302.5h1.6v1.6h-1.6zM246.5 298.9h1.6v1.6h-1.6zM234.4 296.6h1.6v1.6h-1.6zM233.2 298.2h1.6v1.6h-1.6zM230.8 302.6h1.6v1.6h-1.6zM240.0 303.1h1.6v1.6h-1.6zM231.8 300.7h1.6v1.6h-1.6zM244.0 299.1h1.6v1.6h-1.6zM230.8 303.9h1.6v1.6h-1.6zM245.9 298.1h1.6v1.6h-1.6zM235.2 296.3h1.6v1.6h-1.6zM244.2 297.5h1.6v1.6h-1.6zM243.9 297.5h1.6v1.6h-1.6zM231.7 306.5h1.6v1.6h-1.6zM240.5 296.0h1.6v1.6h-1.6zM246.6 298.1h1.6v1.6h-1.6zM236.8 303.7h1.6v1.6h-1.6zM236.1 296.5h1.6v1.6h-1.6zM244.3 297.6h1.6v1.6h-1.6zM245.2 298.9h1.6v1.6h-1.6zM234.4 296.9h1.6v1.6h-1.6zM246.3 298.2h1.6v1.6h-1.6zM245.5 297.6h1.6v1.6h-1.6zM244.5 297.3h1.6v1.6h-1.6zM238.7 303.1h1.6v1.6h-1.6zM243.5 296.3h1.6v1.6h-1.6zM233.3 298.2h1.6v1.6h-1.6zM237.0 303.7h1.6v1.6h-1.6zM242.0 295.5h1.6v1.6h-1.6zM253.9 324.4h1.6v1.6h-1.6zM254.4 339.0h1.6v1.6h-1.6zM254.6 339.6h1.6v1.6h-1.6zM256.8 338.7h1.6v1.6h-1.6zM254.0 320.6h1.6v1.6h-1.6zM258.4 334.9h1.6v1.6h-1.6zM262.0 337.0h1.6v1.6h-1.6zM261.4 330.1h1.6v1.6h-1.6zM253.1 326.6h1.6v1.6h-1.6zM259.9 334.5h1.6v1.6h-1.6zM253.3 326.1h1.6v1.6h-1.6zM258.3 317.2h1.6v1.6h-1.6zM257.4 337.3h1.6v1.6h-1.6zM258.1 316.9h1.6v1.6h-1.6zM257.5 335.2h1.6v1.6h-1.6zM258.3 319.4h1.6v1.6h-1.6zM254.3 320.7h1.6v1.6h-1.6zM260.8 330.9h1.6v1.6h-1.6zM260.0 332.3h1.6v1.6h-1.6zM253.4 322.4h1.6v1.6h-1.6zM257.3 334.6h1.6v1.6h-1.6zM258.6 317.0h1.6v1.6h-1.6zM255.1 340.6h1.6v1.6h-1.6zM260.6 325.8h1.6v1.6h-1.6zM260.3 323.4h1.6v1.6h-1.6zM256.0 339.9h1.6v1.6h-1.6zM254.4 318.5h1.6v1.6h-1.6zM254.1 332.8h1.6v1.6h-1.6zM259.8 334.3h1.6v1.6h-1.6zM257.3 338.1h1.6v1.6h-1.6zM258.8 338.4h1.6v1.6h-1.6zM261.8 330.6h1.6v1.6h-1.6zM258.4 335.6h1.6v1.6h-1.6zM253.2 328.7h1.6v1.6h-1.6zM259.6 333.1h1.6v1.6h-1.6zM261.8 329.8h1.6v1.6h-1.6zM257.6 335.3h1.6v1.6h-1.6zM254.3 337.6h1.6v1.6h-1.6zM257.3 337.0h1.6v1.6h-1.6zM257.7 338.7h1.6v1.6h-1.6zM262.4 329.4h1.6v1.6h-1.6zM261.6 329.4h1.6v1.6h-1.6zM259.8 331.9h1.6v1.6h-1.6zM262.2 329.5h1.6v1.6h-1.6zM261.8 329.1h1.6v1.6h-1.6zM260.5 326.5h1.6v1.6h-1.6zM255.3 340.2h1.6v1.6h-1.6zM257.6 337.7h1.6v1.6h-1.6zM262.5 329.2h1.6v1.6h-1.6zM254.8 337.2h1.6v1.6h-1.6zM254.8 317.4h1.6v1.6h-1.6zM254.4 337.3h1.6v1.6h-1.6zM254.0 332.8h1.6v1.6h-1.6zM254.6 337.8h1.6v1.6h-1.6zM255.1 340.5h1.6v1.6h-1.6zM257.6 316.8h1.6v1.6h-1.6zM259.6 334.4h1.6v1.6h-1.6zM255.8 337.2h1.6v1.6h-1.6zM261.3 329.1h1.6v1.6h-1.6zM256.9 336.9h1.6v1.6h-1.6zM261.5 330.3h1.6v1.6h-1.6zM252.8 327.2h1.6v1.6h-1.6zM256.8 339.9h1.6v1.6h-1.6zM260.4 331.3h1.6v1.6h-1.6zM258.0 316.7h1.6v1.6h-1.6zM253.5 322.4h1.6v1.6h-1.6zM256.1 340.3h1.6v1.6h-1.6zM259.4 334.6h1.6v1.6h-1.6zM255.5 337.0h1.6v1.6h-1.6zM257.3 336.3h1.6v1.6h-1.6zM259.5 338.5h1.6v1.6h-1.6zM257.4 336.9h1.6v1.6h-1.6zM236.9 303.5h1.6v1.6h-1.6zM245.5 298.6h1.6v1.6h-1.6zM246.0 298.5h1.6v1.6h-1.6zM240.8 302.7h1.6v1.6h-1.6zM241.5 302.3h1.6v1.6h-1.6zM243.0 300.3h1.6v1.6h-1.6zM260.5 328.3h1.6v1.6h-1.6zM258.9 317.6h1.6v1.6h-1.6zM253.1 326.7h1.6v1.6h-1.6zM253.9 331.7h1.6v1.6h-1.6zM260.4 326.5h1.6v1.6h-1.6zM260.3 322.9h1.6v1.6h-1.6zM256.3 337.1h1.6v1.6h-1.6zM258.2 317.2h1.6v1.6h-1.6z" fill="#2be13e"/>
<path d="M243.5 297.1h1.6v1.6h-1.6zM234.5 297.4h1.6v1.6h-1.6zM241.9 296.1h1.6v1.6h-1.6zM231.2 301.9h1.6v1.6h-1.6zM231.4 304.7h1.6v1.6h-1.6zM242.2 296.1h1.6v1.6h-1.6zM232.0 305.5h1.6v1.6h-1.6zM238.3 302.9h1.6v1.6h-1.6zM236.4 297.0h1.6v1.6h-1.6zM231.3 301.7h1.6v1.6h-1.6zM232.4 300.9h1.6v1.6h-1.6zM231.3 305.2h1.6v1.6h-1.6zM233.7 298.4h1.6v1.6h-1.6zM231.4 304.6h1.6v1.6h-1.6zM233.0 305.8h1.6v1.6h-1.6zM231.5 301.5h1.6v1.6h-1.6zM242.7 300.1h1.6v1.6h-1.6zM231.6 302.9h1.6v1.6h-1.6zM235.0 297.0h1.6v1.6h-1.6zM232.4 300.9h1.6v1.6h-1.6zM240.2 302.6h1.6v1.6h-1.6zM231.8 301.6h1.6v1.6h-1.6zM233.8 302.9h1.6v1.6h-1.6zM233.3 303.6h1.6v1.6h-1.6zM232.9 302.9h1.6v1.6h-1.6zM236.2 297.0h1.6v1.6h-1.6zM233.3 305.3h1.6v1.6h-1.6zM233.4 303.4h1.6v1.6h-1.6zM232.3 302.8h1.6v1.6h-1.6zM232.4 301.9h1.6v1.6h-1.6zM234.4 297.2h1.6v1.6h-1.6zM235.0 297.5h1.6v1.6h-1.6zM232.8 305.6h1.6v1.6h-1.6zM232.8 305.7h1.6v1.6h-1.6zM237.0 297.0h1.6v1.6h-1.6zM233.0 300.7h1.6v1.6h-1.6zM243.1 296.5h1.6v1.6h-1.6zM234.7 303.3h1.6v1.6h-1.6zM232.3 301.0h1.6v1.6h-1.6zM232.7 303.5h1.6v1.6h-1.6zM232.4 303.4h1.6v1.6h-1.6zM260.5 330.6h1.6v1.6h-1.6zM256.9 333.7h1.6v1.6h-1.6zM260.8 335.9h1.6v1.6h-1.6zM255.2 318.1h1.6v1.6h-1.6zM254.3 332.1h1.6v1.6h-1.6zM257.1 333.9h1.6v1.6h-1.6zM258.6 333.3h1.6v1.6h-1.6zM254.8 320.2h1.6v1.6h-1.6zM258.1 318.6h1.6v1.6h-1.6zM259.0 332.5h1.6v1.6h-1.6zM254.1 331.1h1.6v1.6h-1.6zM259.1 332.4h1.6v1.6h-1.6zM261.1 338.3h1.6v1.6h-1.6zM257.2 317.5h1.6v1.6h-1.6zM258.4 334.5h1.6v1.6h-1.6zM256.6 317.8h1.6v1.6h-1.6zM259.9 330.7h1.6v1.6h-1.6zM259.4 336.3h1.6v1.6h-1.6zM254.5 321.0h1.6v1.6h-1.6zM258.5 331.8h1.6v1.6h-1.6zM260.5 328.9h1.6v1.6h-1.6zM254.0 322.8h1.6v1.6h-1.6zM255.1 333.2h1.6v1.6h-1.6zM256.4 317.6h1.6v1.6h-1.6zM259.6 322.4h1.6v1.6h-1.6zM261.4 336.4h1.6v1.6h-1.6zM255.1 338.7h1.6v1.6h-1.6zM258.3 333.2h1.6v1.6h-1.6zM258.2 337.1h1.6v1.6h-1.6zM261.2 338.2h1.6v1.6h-1.6zM255.5 339.5h1.6v1.6h-1.6zM260.3 338.2h1.6v1.6h-1.6zM258.7 332.1h1.6v1.6h-1.6zM254.3 325.5h1.6v1.6h-1.6zM254.8 319.4h1.6v1.6h-1.6zM258.6 337.0h1.6v1.6h-1.6zM254.8 320.2h1.6v1.6h-1.6zM256.0 320.5h1.6v1.6h-1.6zM257.7 318.7h1.6v1.6h-1.6zM260.1 331.0h1.6v1.6h-1.6zM260.5 335.9h1.6v1.6h-1.6zM255.0 319.0h1.6v1.6h-1.6zM255.6 317.8h1.6v1.6h-1.6zM255.1 337.8h1.6v1.6h-1.6zM258.3 334.3h1.6v1.6h-1.6zM255.7 339.0h1.6v1.6h-1.6zM257.9 332.6h1.6v1.6h-1.6zM259.7 322.6h1.6v1.6h-1.6zM260.7 336.3h1.6v1.6h-1.6zM258.3 337.8h1.6v1.6h-1.6zM253.8 328.7h1.6v1.6h-1.6zM254.0 322.2h1.6v1.6h-1.6zM258.5 334.4h1.6v1.6h-1.6zM256.0 333.7h1.6v1.6h-1.6zM254.5 324.2h1.6v1.6h-1.6zM260.0 327.3h1.6v1.6h-1.6zM254.1 325.4h1.6v1.6h-1.6zM255.3 318.4h1.6v1.6h-1.6zM255.1 339.4h1.6v1.6h-1.6zM253.4 327.1h1.6v1.6h-1.6zM254.4 326.9h1.6v1.6h-1.6zM259.0 334.3h1.6v1.6h-1.6zM255.1 319.2h1.6v1.6h-1.6zM256.9 317.5h1.6v1.6h-1.6zM256.3 333.8h1.6v1.6h-1.6zM261.1 329.9h1.6v1.6h-1.6zM260.3 328.7h1.6v1.6h-1.6zM254.1 326.2h1.6v1.6h-1.6zM257.1 317.4h1.6v1.6h-1.6zM255.7 319.9h1.6v1.6h-1.6zM254.2 322.8h1.6v1.6h-1.6zM257.8 317.2h1.6v1.6h-1.6zM253.6 326.2h1.6v1.6h-1.6zM259.3 322.1h1.6v1.6h-1.6zM257.2 320.7h1.6v1.6h-1.6zM255.9 333.5h1.6v1.6h-1.6zM253.8 322.0h1.6v1.6h-1.6zM254.5 326.4h1.6v1.6h-1.6zM254.9 339.0h1.6v1.6h-1.6zM259.0 336.7h1.6v1.6h-1.6zM255.8 338.7h1.6v1.6h-1.6zM261.2 336.2h1.6v1.6h-1.6zM255.6 338.7h1.6v1.6h-1.6zM232.0 305.5h1.6v1.6h-1.6zM231.4 303.7h1.6v1.6h-1.6zM233.4 303.6h1.6v1.6h-1.6zM240.0 296.2h1.6v1.6h-1.6zM256.0 333.4h1.6v1.6h-1.6zM257.7 334.5h1.6v1.6h-1.6zM255.2 318.4h1.6v1.6h-1.6zM253.9 328.6h1.6v1.6h-1.6zM255.2 320.2h1.6v1.6h-1.6zM260.1 327.8h1.6v1.6h-1.6zM254.4 323.9h1.6v1.6h-1.6zM255.2 337.8h1.6v1.6h-1.6zM253.8 327.5h1.6v1.6h-1.6zM260.4 329.4h1.6v1.6h-1.6zM259.9 327.3h1.6v1.6h-1.6zM257.7 318.2h1.6v1.6h-1.6zM258.3 333.3h1.6v1.6h-1.6z" fill="#36e127"/>
<path d="M234.1 299.1h1.6v1.6h-1.6zM233.7 299.8h1.6v1.6h-1.6zM242.4 299.4h1.6v1.6h-1.6zM232.8 301.5h1.6v1.6h-1.6zM233.9 302.1h1.6v1.6h-1.6zM232.5 305.2h1.6v1.6h-1.6zM233.8 299.5h1.6v1.6h-1.6zM236.8 302.8h1.6v1.6h-1.6zM232.5 304.1h1.6v1.6h-1.6zM234.9 302.8h1.6v1.6h-1.6zM233.2 301.2h1.6v1.6h-1.6zM233.4 302.8h1.6v1.6h-1.6zM234.6 298.4h1.6v1.6h-1.6zM233.8 300.6h1.6v1.6h-1.6zM233.8 299.9h1.6v1.6h-1.6zM233.5 302.0h1.6v1.6h-1.6zM234.3 299.2h1.6v1.6h-1.6zM235.8 297.6h1.6v1.6h-1.6zM233.5 302.4h1.6v1.6h-1.6zM234.6 298.6h1.6v1.6h-1.6zM236.5 297.5h1.6v1.6h-1.6zM232.7 304.3h1.6v1.6h-1.6zM234.7 298.2h1.6v1.6h-1.6zM242.9 298.7h1.6v1.6h-1.6zM231.9 305.0h1.6v1.6h-1.6zM241.2 301.7h1.6v1.6h-1.6zM236.4 303.0h1.6v1.6h-1.6zM242.4 299.6h1.6v1.6h-1.6zM232.9 301.9h1.6v1.6h-1.6zM238.2 302.4h1.6v1.6h-1.6zM232.3 305.0h1.6v1.6h-1.6zM235.6 297.6h1.6v1.6h-1.6zM241.3 301.4h1.6v1.6h-1.6zM254.8 322.5h1.6v1.6h-1.6zM259.4 327.0h1.6v1.6h-1.6zM260.9 337.1h1.6v1.6h-1.6zM258.2 321.6h1.6v1.6h-1.6zM255.7 319.0h1.6v1.6h-1.6zM256.2 318.5h1.6v1.6h-1.6zM259.9 324.9h1.6v1.6h-1.6zM257.0 332.5h1.6v1.6h-1.6zM255.1 322.1h1.6v1.6h-1.6zM259.4 330.9h1.6v1.6h-1.6zM261.2 336.7h1.6v1.6h-1.6zM257.0 318.8h1.6v1.6h-1.6zM257.4 321.3h1.6v1.6h-1.6zM259.8 329.0h1.6v1.6h-1.6zM257.9 321.7h1.6v1.6h-1.6zM257.1 318.7h1.6v1.6h-1.6zM255.3 327.6h1.6v1.6h-1.6zM259.7 337.8h1.6v1.6h-1.6zM259.4 330.9h1.6v1.6h-1.6zM261.0 337.5h1.6v1.6h-1.6zM259.6 328.4h1.6v1.6h-1.6zM255.4 321.4h1.6v1.6h-1.6zM258.9 337.2h1.6v1.6h-1.6zM257.1 333.7h1.6v1.6h-1.6zM254.9 326.4h1.6v1.6h-1.6zM259.8 327.8h1.6v1.6h-1.6zM261.0 337.8h1.6v1.6h-1.6zM257.3 318.4h1.6v1.6h-1.6zM255.9 318.6h1.6v1.6h-1.6zM256.0 321.0h1.6v1.6h-1.6zM259.1 337.2h1.6v1.6h-1.6zM254.7 322.0h1.6v1.6h-1.6zM254.7 332.1h1.6v1.6h-1.6zM260.0 337.0h1.6v1.6h-1.6zM259.0 337.6h1.6v1.6h-1.6zM259.8 337.5h1.6v1.6h-1.6zM255.6 326.4h1.6v1.6h-1.6zM256.5 318.8h1.6v1.6h-1.6zM259.7 323.8h1.6v1.6h-1.6zM254.6 328.0h1.6v1.6h-1.6zM255.0 322.2h1.6v1.6h-1.6zM256.2 332.9h1.6v1.6h-1.6zM260.3 337.7h1.6v1.6h-1.6zM256.6 333.3h1.6v1.6h-1.6zM254.4 330.4h1.6v1.6h-1.6zM260.0 336.9h1.6v1.6h-1.6zM255.9 321.1h1.6v1.6h-1.6zM255.0 322.0h1.6v1.6h-1.6zM259.6 324.0h1.6v1.6h-1.6zM260.1 337.7h1.6v1.6h-1.6zM232.2 304.7h1.6v1.6h-1.6zM237.1 297.4h1.6v1.6h-1.6zM242.9 298.0h1.6v1.6h-1.6zM243.2 297.7h1.6v1.6h-1.6zM242.4 299.1h1.6v1.6h-1.6zM254.8 325.2h1.6v1.6h-1.6zM255.0 322.0h1.6v1.6h-1.6zM259.1 330.7h1.6v1.6h-1.6zM259.7 323.8h1.6v1.6h-1.6zM257.0 332.3h1.6v1.6h-1.6zM254.0 329.3h1.6v1.6h-1.6zM256.4 318.8h1.6v1.6h-1.6zM254.1 328.7h1.6v1.6h-1.6zM255.6 318.4h1.6v1.6h-1.6zM259.3 330.7h1.6v1.6h-1.6zM259.6 328.1h1.6v1.6h-1.6zM258.1 321.8h1.6v1.6h-1.6zM256.5 320.9h1.6v1.6h-1.6zM257.5 332.8h1.6v1.6h-1.6zM256.2 319.2h1.6v1.6h-1.6zM258.8 322.0h1.6v1.6h-1.6zM256.2 321.4h1.6v1.6h-1.6zM259.0 331.0h1.6v1.6h-1.6zM257.7 333.2h1.6v1.6h-1.6zM255.3 327.3h1.6v1.6h-1.6z" fill="#61e120"/>
<path d="M238.6 302.1h1.6v1.6h-1.6zM235.8 302.6h1.6v1.6h-1.6zM234.3 300.2h1.6v1.6h-1.6zM234.6 299.5h1.6v1.6h-1.6zM239.6 297.1h1.6v1.6h-1.6zM242.3 297.2h1.6v1.6h-1.6zM242.2 296.9h1.6v1.6h-1.6zM242.4 296.8h1.6v1.6h-1.6zM234.5 299.1h1.6v1.6h-1.6zM234.3 301.5h1.6v1.6h-1.6zM241.3 296.7h1.6v1.6h-1.6zM241.8 296.5h1.6v1.6h-1.6zM241.8 300.4h1.6v1.6h-1.6zM238.0 297.4h1.6v1.6h-1.6zM254.6 329.2h1.6v1.6h-1.6zM259.7 325.5h1.6v1.6h-1.6zM255.0 328.0h1.6v1.6h-1.6zM255.2 325.2h1.6v1.6h-1.6zM259.2 323.9h1.6v1.6h-1.6zM260.6 337.3h1.6v1.6h-1.6zM259.2 329.5h1.6v1.6h-1.6zM259.4 325.6h1.6v1.6h-1.6zM254.8 328.4h1.6v1.6h-1.6zM255.1 328.3h1.6v1.6h-1.6zM255.1 331.5h1.6v1.6h-1.6zM254.5 330.3h1.6v1.6h-1.6zM259.5 326.0h1.6v1.6h-1.6zM255.2 332.1h1.6v1.6h-1.6zM259.0 328.5h1.6v1.6h-1.6zM260.5 337.1h1.6v1.6h-1.6zM256.6 332.5h1.6v1.6h-1.6zM256.2 332.1h1.6v1.6h-1.6zM258.8 327.4h1.6v1.6h-1.6zM258.8 330.2h1.6v1.6h-1.6zM258.4 330.7h1.6v1.6h-1.6zM255.3 323.4h1.6v1.6h-1.6zM259.7 337.3h1.6v1.6h-1.6zM256.8 321.7h1.6v1.6h-1.6zM254.7 329.1h1.6v1.6h-1.6zM254.8 331.2h1.6v1.6h-1.6zM256.1 321.9h1.6v1.6h-1.6zM256.1 332.0h1.6v1.6h-1.6zM255.0 331.6h1.6v1.6h-1.6zM260.0 337.6h1.6v1.6h-1.6zM235.7 298.6h1.6v1.6h-1.6zM242.8 297.3h1.6v1.6h-1.6zM242.6 298.7h1.6v1.6h-1.6zM242.3 298.6h1.6v1.6h-1.6zM242.5 298.2h1.6v1.6h-1.6zM236.8 302.4h1.6v1.6h-1.6zM259.3 329.7h1.6v1.6h-1.6zM255.5 332.1h1.6v1.6h-1.6zM258.5 322.1h1.6v1.6h-1.6zM259.5 324.9h1.6v1.6h-1.6zM256.6 326.9h1.6v1.6h-1.6zM258.4 322.4h1.6v1.6h-1.6z" fill="#8be119"/>
<path d="M239.7 297.4h1.6v1.6h-1.6zM241.5 297.2h1.6v1.6h-1.6zM236.1 302.4h1.6v1.6h-1.6zM235.6 299.4h1.6v1.6h-1.6zM235.3 302.3h1.6v1.6h-1.6zM241.4 300.5h1.6v1.6h-1.6zM239.9 297.3h1.6v1.6h-1.6zM241.5 300.2h1.6v1.6h-1.6zM238.5 301.7h1.6v1.6h-1.6zM242.0 297.5h1.6v1.6h-1.6zM235.0 300.2h1.6v1.6h-1.6zM235.0 301.6h1.6v1.6h-1.6zM235.8 302.2h1.6v1.6h-1.6zM241.1 301.1h1.6v1.6h-1.6zM241.9 297.7h1.6v1.6h-1.6zM235.4 302.0h1.6v1.6h-1.6zM236.1 299.1h1.6v1.6h-1.6zM234.7 301.2h1.6v1.6h-1.6zM234.9 300.2h1.6v1.6h-1.6zM235.9 302.2h1.6v1.6h-1.6zM235.1 302.2h1.6v1.6h-1.6zM240.0 297.3h1.6v1.6h-1.6zM240.3 301.5h1.6v1.6h-1.6zM259.0 326.3h1.6v1.6h-1.6zM256.9 326.5h1.6v1.6h-1.6zM255.4 324.8h1.6v1.6h-1.6zM259.1 325.4h1.6v1.6h-1.6zM256.0 325.4h1.6v1.6h-1.6zM258.5 330.1h1.6v1.6h-1.6zM258.0 327.7h1.6v1.6h-1.6zM258.0 327.3h1.6v1.6h-1.6zM258.7 326.4h1.6v1.6h-1.6zM259.1 326.3h1.6v1.6h-1.6zM254.8 329.7h1.6v1.6h-1.6zM256.2 331.9h1.6v1.6h-1.6zM258.1 322.4h1.6v1.6h-1.6zM256.2 331.5h1.6v1.6h-1.6zM258.3 322.8h1.6v1.6h-1.6zM259.0 324.1h1.6v1.6h-1.6zM256.5 327.7h1.6v1.6h-1.6zM258.5 328.5h1.6v1.6h-1.6zM257.6 327.2h1.6v1.6h-1.6zM255.2 328.3h1.6v1.6h-1.6zM258.0 327.8h1.6v1.6h-1.6zM255.8 325.3h1.6v1.6h-1.6zM256.9 326.7h1.6v1.6h-1.6zM255.5 328.4h1.6v1.6h-1.6zM255.4 325.0h1.6v1.6h-1.6zM255.0 329.9h1.6v1.6h-1.6zM257.2 327.4h1.6v1.6h-1.6zM254.9 330.4h1.6v1.6h-1.6zM258.8 329.7h1.6v1.6h-1.6zM258.4 328.1h1.6v1.6h-1.6zM257.0 330.9h1.6v1.6h-1.6zM255.7 324.5h1.6v1.6h-1.6zM255.4 323.8h1.6v1.6h-1.6zM241.9 297.6h1.6v1.6h-1.6zM241.2 300.4h1.6v1.6h-1.6zM239.7 297.4h1.6v1.6h-1.6zM242.3 297.5h1.6v1.6h-1.6zM241.7 299.0h1.6v1.6h-1.6zM235.4 299.1h1.6v1.6h-1.6zM239.6 301.9h1.6v1.6h-1.6zM242.1 297.3h1.6v1.6h-1.6zM237.7 301.8h1.6v1.6h-1.6zM236.8 298.3h1.6v1.6h-1.6zM239.7 297.2h1.6v1.6h-1.6zM237.1 298.2h1.6v1.6h-1.6zM240.5 297.3h1.6v1.6h-1.6zM240.1 301.8h1.6v1.6h-1.6zM241.4 297.2h1.6v1.6h-1.6zM255.7 325.4h1.6v1.6h-1.6zM256.6 321.9h1.6v1.6h-1.6zM256.4 325.9h1.6v1.6h-1.6zM255.7 323.2h1.6v1.6h-1.6zM258.9 326.1h1.6v1.6h-1.6zM256.9 326.2h1.6v1.6h-1.6zM255.8 324.8h1.6v1.6h-1.6zM258.6 329.8h1.6v1.6h-1.6zM258.1 322.4h1.6v1.6h-1.6zM259.0 324.4h1.6v1.6h-1.6zM255.5 323.7h1.6v1.6h-1.6zM257.5 327.6h1.6v1.6h-1.6zM257.2 322.0h1.6v1.6h-1.6zM255.4 331.3h1.6v1.6h-1.6z" fill="#b5d511"/>
<path d="M241.1 300.3h1.6v1.6h-1.6zM241.2 299.8h1.6v1.6h-1.6zM235.3 301.6h1.6v1.6h-1.6zM237.5 301.4h1.6v1.6h-1.6zM237.0 301.8h1.6v1.6h-1.6zM241.1 298.4h1.6v1.6h-1.6zM236.0 299.5h1.6v1.6h-1.6zM235.7 300.3h1.6v1.6h-1.6zM235.6 301.3h1.6v1.6h-1.6zM239.7 297.5h1.6v1.6h-1.6zM235.6 299.8h1.6v1.6h-1.6zM235.4 299.8h1.6v1.6h-1.6zM235.5 301.0h1.6v1.6h-1.6zM241.1 298.4h1.6v1.6h-1.6zM235.7 301.4h1.6v1.6h-1.6zM240.5 297.7h1.6v1.6h-1.6zM237.4 298.1h1.6v1.6h-1.6zM240.9 297.5h1.6v1.6h-1.6zM236.9 301.8h1.6v1.6h-1.6zM235.3 300.9h1.6v1.6h-1.6zM235.5 301.7h1.6v1.6h-1.6zM235.3 301.0h1.6v1.6h-1.6zM241.3 297.6h1.6v1.6h-1.6zM237.5 301.5h1.6v1.6h-1.6zM257.9 329.2h1.6v1.6h-1.6zM258.4 329.2h1.6v1.6h-1.6zM257.0 328.0h1.6v1.6h-1.6zM256.4 330.9h1.6v1.6h-1.6zM258.3 328.9h1.6v1.6h-1.6zM257.1 322.8h1.6v1.6h-1.6zM255.3 330.2h1.6v1.6h-1.6zM256.2 323.0h1.6v1.6h-1.6zM255.6 330.9h1.6v1.6h-1.6zM257.1 322.4h1.6v1.6h-1.6zM257.4 322.9h1.6v1.6h-1.6zM256.7 323.4h1.6v1.6h-1.6zM256.2 331.3h1.6v1.6h-1.6zM258.2 328.8h1.6v1.6h-1.6zM258.3 323.1h1.6v1.6h-1.6zM256.1 323.1h1.6v1.6h-1.6zM258.0 328.5h1.6v1.6h-1.6zM257.0 330.7h1.6v1.6h-1.6zM258.3 326.2h1.6v1.6h-1.6zM258.5 323.5h1.6v1.6h-1.6zM255.3 330.8h1.6v1.6h-1.6zM258.8 325.7h1.6v1.6h-1.6zM256.2 322.8h1.6v1.6h-1.6zM256.6 331.1h1.6v1.6h-1.6zM255.9 324.9h1.6v1.6h-1.6zM255.8 324.6h1.6v1.6h-1.6zM258.1 329.4h1.6v1.6h-1.6zM256.8 325.5h1.6v1.6h-1.6zM236.2 302.0h1.6v1.6h-1.6zM241.4 298.7h1.6v1.6h-1.6zM236.1 302.0h1.6v1.6h-1.6zM241.1 300.1h1.6v1.6h-1.6zM235.2 300.5h1.6v1.6h-1.6zM236.9 298.4h1.6v1.6h-1.6zM241.5 298.5h1.6v1.6h-1.6zM237.4 301.4h1.6v1.6h-1.6zM236.2 301.5h1.6v1.6h-1.6zM241.0 300.4h1.6v1.6h-1.6zM241.2 298.0h1.6v1.6h-1.6zM235.3 300.7h1.6v1.6h-1.6zM237.0 298.4h1.6v1.6h-1.6zM235.3 300.3h1.6v1.6h-1.6zM256.8 322.9h1.6v1.6h-1.6zM257.5 330.3h1.6v1.6h-1.6zM257.3 330.2h1.6v1.6h-1.6zM256.1 328.5h1.6v1.6h-1.6zM256.2 324.9h1.6v1.6h-1.6zM257.7 328.2h1.6v1.6h-1.6zM257.4 327.8h1.6v1.6h-1.6zM255.4 328.9h1.6v1.6h-1.6zM256.5 323.3h1.6v1.6h-1.6zM257.5 322.9h1.6v1.6h-1.6zM256.2 325.4h1.6v1.6h-1.6zM258.5 326.1h1.6v1.6h-1.6zM257.8 322.6h1.6v1.6h-1.6zM255.4 329.4h1.6v1.6h-1.6zM256.0 325.2h1.6v1.6h-1.6zM257.2 325.6h1.6v1.6h-1.6zM256.7 322.7h1.6v1.6h-1.6zM257.0 326.0h1.6v1.6h-1.6z" fill="#dcae08"/>
<path d="M237.0 298.8h1.6v1.6h-1.6zM238.6 298.2h1.6v1.6h-1.6zM239.5 297.9h1.6v1.6h-1.6zM239.9 301.2h1.6v1.6h-1.6zM240.7 299.0h1.6v1.6h-1.6zM238.6 301.3h1.6v1.6h-1.6zM240.5 300.8h1.6v1.6h-1.6zM236.7 300.3h1.6v1.6h-1.6zM236.3 300.4h1.6v1.6h-1.6zM236.7 301.0h1.6v1.6h-1.6zM240.2 298.0h1.6v1.6h-1.6zM237.5 298.7h1.6v1.6h-1.6zM236.7 301.2h1.6v1.6h-1.6zM239.0 301.3h1.6v1.6h-1.6zM258.4 324.9h1.6v1.6h-1.6zM256.2 330.6h1.6v1.6h-1.6zM256.9 328.6h1.6v1.6h-1.6zM257.1 330.2h1.6v1.6h-1.6zM258.0 325.1h1.6v1.6h-1.6zM257.1 323.7h1.6v1.6h-1.6zM256.2 329.0h1.6v1.6h-1.6zM256.2 330.0h1.6v1.6h-1.6zM257.7 324.4h1.6v1.6h-1.6zM256.7 328.8h1.6v1.6h-1.6zM256.8 324.3h1.6v1.6h-1.6zM257.9 323.9h1.6v1.6h-1.6zM258.0 323.8h1.6v1.6h-1.6zM257.3 325.0h1.6v1.6h-1.6zM258.4 324.7h1.6v1.6h-1.6zM257.6 328.7h1.6v1.6h-1.6zM256.6 330.2h1.6v1.6h-1.6zM257.4 323.4h1.6v1.6h-1.6zM257.4 328.6h1.6v1.6h-1.6zM256.8 329.0h1.6v1.6h-1.6zM257.6 324.7h1.6v1.6h-1.6zM256.7 323.6h1.6v1.6h-1.6zM256.4 330.1h1.6v1.6h-1.6zM256.8 330.3h1.6v1.6h-1.6zM258.2 324.7h1.6v1.6h-1.6zM257.1 323.1h1.6v1.6h-1.6zM236.4 300.0h1.6v1.6h-1.6zM239.3 301.4h1.6v1.6h-1.6zM239.4 298.0h1.6v1.6h-1.6zM240.9 299.7h1.6v1.6h-1.6zM238.9 301.4h1.6v1.6h-1.6zM258.2 325.2h1.6v1.6h-1.6zM257.3 329.5h1.6v1.6h-1.6zM258.2 325.3h1.6v1.6h-1.6zM256.0 329.8h1.6v1.6h-1.6zM256.0 329.1h1.6v1.6h-1.6zM257.6 324.4h1.6v1.6h-1.6zM256.4 330.7h1.6v1.6h-1.6zM257.8 324.2h1.6v1.6h-1.6zM256.1 330.0h1.6v1.6h-1.6zM258.0 324.8h1.6v1.6h-1.6zM257.3 325.0h1.6v1.6h-1.6zM257.0 329.6h1.6v1.6h-1.6zM257.9 325.3h1.6v1.6h-1.6zM256.3 329.0h1.6v1.6h-1.6zM258.0 325.4h1.6v1.6h-1.6zM257.1 324.5h1.6v1.6h-1.6zM257.9 325.6h1.6v1.6h-1.6zM257.9 324.9h1.6v1.6h-1.6zM257.4 328.5h1.6v1.6h-1.6z" fill="#ff8700"/>
<path d="M237.2 300.7h1.6v1.6h-1.6zM239.1 298.2h1.6v1.6h-1.6zM239.7 298.4h1.6v1.6h-1.6zM237.3 299.4h1.6v1.6h-1.6zM239.5 301.1h1.6v1.6h-1.6zM240.4 298.7h1.6v1.6h-1.6zM240.3 299.2h1.6v1.6h-1.6zM240.1 300.5h1.6v1.6h-1.6zM237.5 300.2h1.6v1.6h-1.6zM240.3 299.2h1.6v1.6h-1.6zM239.4 298.4h1.6v1.6h-1.6zM237.0 300.3h1.6v1.6h-1.6zM237.6 299.0h1.6v1.6h-1.6zM256.5 329.4h1.6v1.6h-1.6zM256.4 329.8h1.6v1.6h-1.6zM256.2 329.4h1.6v1.6h-1.6zM256.5 329.5h1.6v1.6h-1.6zM238.7 298.4h1.6v1.6h-1.6zM238.6 300.8h1.6v1.6h-1.6zM237.4 298.9h1.6v1.6h-1.6zM238.4 298.4h1.6v1.6h-1.6zM238.9 298.4h1.6v1.6h-1.6zM239.7 301.1h1.6v1.6h-1.6zM237.3 299.2h1.6v1.6h-1.6zM237.4 300.7h1.6v1.6h-1.6zM240.2 299.5h1.6v1.6h-1.6zM256.4 329.4h1.6v1.6h-1.6zM256.4 329.3h1.6v1.6h-1.6z" fill="#ff5904"/>
<path d="M239.8 300.3h1.6v1.6h-1.6zM237.7 299.6h1.6v1.6h-1.6zM239.7 299.9h1.6v1.6h-1.6zM238.8 299.4h1.6v1.6h-1.6zM238.1 299.3h1.6v1.6h-1.6zM237.7 300.1h1.6v1.6h-1.6zM238.9 300.3h1.6v1.6h-1.6zM238.6 299.2h1.6v1.6h-1.6zM239.6 300.7h1.6v1.6h-1.6zM239.0 300.9h1.6v1.6h-1.6zM238.3 299.0h1.6v1.6h-1.6zM239.5 299.9h1.6v1.6h-1.6zM237.5 299.5h1.6v1.6h-1.6zM239.0 299.5h1.6v1.6h-1.6zM238.1 300.4h1.6v1.6h-1.6zM238.6 299.5h1.6v1.6h-1.6zM239.8 300.7h1.6v1.6h-1.6zM238.0 300.1h1.6v1.6h-1.6zM239.6 300.2h1.6v1.6h-1.6zM237.5 299.9h1.6v1.6h-1.6zM239.4 300.8h1.6v1.6h-1.6zM239.7 298.7h1.6v1.6h-1.6zM237.7 299.6h1.6v1.6h-1.6zM239.2 299.6h1.6v1.6h-1.6zM237.7 299.6h1.6v1.6h-1.6zM239.4 299.7h1.6v1.6h-1.6zM238.9 298.7h1.6v1.6h-1.6zM239.1 300.5h1.6v1.6h-1.6zM239.5 300.3h1.6v1.6h-1.6zM239.7 300.0h1.6v1.6h-1.6zM238.6 298.8h1.6v1.6h-1.6zM239.8 300.2h1.6v1.6h-1.6zM239.2 298.6h1.6v1.6h-1.6zM239.8 299.8h1.6v1.6h-1.6zM238.4 299.4h1.6v1.6h-1.6zM238.8 298.6h1.6v1.6h-1.6zM238.2 300.4h1.6v1.6h-1.6zM237.9 299.5h1.6v1.6h-1.6zM237.9 299.2h1.6v1.6h-1.6zM239.7 300.7h1.6v1.6h-1.6zM237.8 300.2h1.6v1.6h-1.6zM239.4 300.2h1.6v1.6h-1.6zM239.1 298.9h1.6v1.6h-1.6zM239.4 299.3h1.6v1.6h-1.6z" fill="#ff2b08"/>
<path d="M409.5 287.0h1.6v1.6h-1.6zM365.3 286.5h1.6v1.6h-1.6zM374.7 297.0h1.6v1.6h-1.6zM406.4 289.8h1.6v1.6h-1.6zM418.3 290.9h1.6v1.6h-1.6zM372.4 301.0h1.6v1.6h-1.6zM378.6 286.5h1.6v1.6h-1.6zM407.9 291.4h1.6v1.6h-1.6zM392.0 278.7h1.6v1.6h-1.6zM375.2 285.1h1.6v1.6h-1.6zM397.0 278.6h1.6v1.6h-1.6zM374.4 287.2h1.6v1.6h-1.6zM378.1 303.9h1.6v1.6h-1.6zM380.3 306.6h1.6v1.6h-1.6zM365.4 301.7h1.6v1.6h-1.6zM373.3 299.3h1.6v1.6h-1.6zM370.5 297.3h1.6v1.6h-1.6zM372.9 296.0h1.6v1.6h-1.6zM368.3 298.7h1.6v1.6h-1.6zM386.5 280.1h1.6v1.6h-1.6zM421.5 308.6h1.6v1.6h-1.6zM411.0 306.0h1.6v1.6h-1.6zM393.2 278.1h1.6v1.6h-1.6zM417.3 279.7h1.6v1.6h-1.6zM420.9 309.8h1.6v1.6h-1.6zM374.7 275.9h1.6v1.6h-1.6zM413.3 285.6h1.6v1.6h-1.6zM367.9 308.3h1.6v1.6h-1.6zM368.3 303.6h1.6v1.6h-1.6zM391.4 352.6h1.6v1.6h-1.6zM389.4 348.3h1.6v1.6h-1.6zM416.2 350.5h1.6v1.6h-1.6zM387.0 350.5h1.6v1.6h-1.6zM386.0 329.5h1.6v1.6h-1.6zM390.4 349.7h1.6v1.6h-1.6zM409.8 330.7h1.6v1.6h-1.6zM412.0 333.4h1.6v1.6h-1.6zM393.7 356.3h1.6v1.6h-1.6zM385.6 347.3h1.6v1.6h-1.6zM387.2 348.2h1.6v1.6h-1.6zM412.4 348.1h1.6v1.6h-1.6zM384.5 328.6h1.6v1.6h-1.6zM384.0 331.5h1.6v1.6h-1.6zM388.9 351.9h1.6v1.6h-1.6zM416.0 304.9h1.6v1.6h-1.6zM375.1 313.2h1.6v1.6h-1.6zM414.0 310.6h1.6v1.6h-1.6zM415.7 308.4h1.6v1.6h-1.6zM384.1 323.0h1.6v1.6h-1.6zM381.2 331.6h1.6v1.6h-1.6zM380.1 321.1h1.6v1.6h-1.6zM406.7 360.4h1.6v1.6h-1.6zM409.8 350.6h1.6v1.6h-1.6zM393.5 362.8h1.6v1.6h-1.6zM405.1 361.6h1.6v1.6h-1.6zM402.6 364.9h1.6v1.6h-1.6zM397.9 363.2h1.6v1.6h-1.6zM402.0 361.9h1.6v1.6h-1.6zM421.4 340.6h1.6v1.6h-1.6zM375.1 308.7h1.6v1.6h-1.6zM410.8 313.5h1.6v1.6h-1.6zM371.3 338.9h1.6v1.6h-1.6zM416.6 295.4h1.6v1.6h-1.6zM417.4 327.3h1.6v1.6h-1.6zM406.0 363.4h1.6v1.6h-1.6zM386.4 337.9h1.6v1.6h-1.6zM371.7 280.7h1.6v1.6h-1.6zM411.7 352.2h1.6v1.6h-1.6zM411.0 286.3h1.6v1.6h-1.6zM415.0 303.4h1.6v1.6h-1.6zM377.5 358.8h1.6v1.6h-1.6zM411.0 362.1h1.6v1.6h-1.6zM402.8 280.7h1.6v1.6h-1.6zM379.3 362.6h1.6v1.6h-1.6zM387.7 343.4h1.6v1.6h-1.6zM374.4 332.4h1.6v1.6h-1.6zM387.1 327.4h1.6v1.6h-1.6zM413.4 278.9h1.6v1.6h-1.6zM393.7 268.7h1.6v1.6h-1.6zM418.8 338.6h1.6v1.6h-1.6zM382.9 317.5h1.6v1.6h-1.6zM374.2 324.9h1.6v1.6h-1.6zM378.8 343.9h1.6v1.6h-1.6zM420.4 302.4h1.6v1.6h-1.6zM426.5 326.7h1.6v1.6h-1.6zM413.2 334.6h1.6v1.6h-1.6zM397.9 263.7h1.6v1.6h-1.6zM375.1 322.7h1.6v1.6h-1.6zM397.1 271.1h1.6v1.6h-1.6zM414.4 290.6h1.6v1.6h-1.6zM403.0 275.9h1.6v1.6h-1.6zM425.0 292.7h1.6v1.6h-1.6zM426.4 300.3h1.6v1.6h-1.6zM415.2 321.9h1.6v1.6h-1.6zM393.7 359.7h1.6v1.6h-1.6zM411.2 300.7h1.6v1.6h-1.6zM381.4 337.4h1.6v1.6h-1.6zM372.2 293.2h1.6v1.6h-1.6zM373.2 314.2h1.6v1.6h-1.6zM363.2 284.2h1.6v1.6h-1.6zM377.2 330.2h1.6v1.6h-1.6z" fill="#1929c4"/>
<path d="M393.8 280.9h1.6v1.6h-1.6zM413.7 287.0h1.6v1.6h-1.6zM404.7 285.8h1.6v1.6h-1.6zM403.0 278.1h1.6v1.6h-1.6zM412.3 302.9h1.6v1.6h-1.6zM410.3 293.6h1.6v1.6h-1.6zM374.6 293.3h1.6v1.6h-1.6zM376.9 296.3h1.6v1.6h-1.6zM394.8 280.7h1.6v1.6h-1.6zM412.8 292.9h1.6v1.6h-1.6zM381.8 284.5h1.6v1.6h-1.6zM407.2 285.7h1.6v1.6h-1.6zM415.2 288.2h1.6v1.6h-1.6zM415.0 288.7h1.6v1.6h-1.6zM413.9 293.7h1.6v1.6h-1.6zM385.1 281.6h1.6v1.6h-1.6zM390.8 281.2h1.6v1.6h-1.6zM378.3 296.3h1.6v1.6h-1.6zM406.9 284.3h1.6v1.6h-1.6zM408.1 293.9h1.6v1.6h-1.6zM373.3 292.0h1.6v1.6h-1.6zM382.8 312.2h1.6v1.6h-1.6zM376.6 292.8h1.6v1.6h-1.6zM408.7 312.0h1.6v1.6h-1.6zM407.9 285.3h1.6v1.6h-1.6zM373.9 285.3h1.6v1.6h-1.6zM373.4 305.8h1.6v1.6h-1.6zM384.3 308.2h1.6v1.6h-1.6zM412.2 302.4h1.6v1.6h-1.6zM408.5 317.3h1.6v1.6h-1.6zM409.6 336.2h1.6v1.6h-1.6zM389.4 344.8h1.6v1.6h-1.6zM409.1 314.2h1.6v1.6h-1.6zM410.5 338.7h1.6v1.6h-1.6zM390.8 354.5h1.6v1.6h-1.6zM411.9 322.5h1.6v1.6h-1.6zM413.3 342.4h1.6v1.6h-1.6zM410.5 352.4h1.6v1.6h-1.6zM411.8 341.1h1.6v1.6h-1.6zM410.3 333.8h1.6v1.6h-1.6zM384.3 333.0h1.6v1.6h-1.6zM388.9 330.4h1.6v1.6h-1.6zM410.1 315.6h1.6v1.6h-1.6zM379.3 298.7h1.6v1.6h-1.6zM407.1 313.0h1.6v1.6h-1.6zM382.9 313.0h1.6v1.6h-1.6zM384.4 309.9h1.6v1.6h-1.6zM382.8 334.6h1.6v1.6h-1.6zM380.7 322.7h1.6v1.6h-1.6zM412.3 321.6h1.6v1.6h-1.6zM386.0 314.9h1.6v1.6h-1.6zM411.5 310.1h1.6v1.6h-1.6zM386.4 325.2h1.6v1.6h-1.6zM382.3 325.6h1.6v1.6h-1.6zM381.7 321.4h1.6v1.6h-1.6zM396.0 362.4h1.6v1.6h-1.6zM393.4 352.7h1.6v1.6h-1.6zM406.8 356.1h1.6v1.6h-1.6zM386.0 334.0h1.6v1.6h-1.6zM393.7 361.3h1.6v1.6h-1.6zM384.6 314.6h1.6v1.6h-1.6zM378.4 309.4h1.6v1.6h-1.6zM383.1 335.2h1.6v1.6h-1.6zM375.1 291.6h1.6v1.6h-1.6zM391.4 355.4h1.6v1.6h-1.6zM378.3 310.0h1.6v1.6h-1.6zM403.7 277.3h1.6v1.6h-1.6zM413.4 342.9h1.6v1.6h-1.6zM412.5 304.5h1.6v1.6h-1.6zM382.5 326.6h1.6v1.6h-1.6zM413.8 294.3h1.6v1.6h-1.6zM384.2 319.8h1.6v1.6h-1.6zM386.2 332.5h1.6v1.6h-1.6zM386.4 324.7h1.6v1.6h-1.6zM385.0 319.6h1.6v1.6h-1.6zM374.2 305.2h1.6v1.6h-1.6z" fill="#1430e2"/>
<path d="M408.2 300.2h1.6v1.6h-1.6zM381.4 295.3h1.6v1.6h-1.6zM411.2 292.9h1.6v1.6h-1.6zM397.8 284.2h1.6v1.6h-1.6zM383.4 284.7h1.6v1.6h-1.6zM379.9 297.3h1.6v1.6h-1.6zM381.3 290.8h1.6v1.6h-1.6zM379.3 288.2h1.6v1.6h-1.6zM379.1 301.9h1.6v1.6h-1.6zM379.8 294.7h1.6v1.6h-1.6zM397.5 283.6h1.6v1.6h-1.6zM379.1 292.6h1.6v1.6h-1.6zM381.6 299.2h1.6v1.6h-1.6zM397.9 281.6h1.6v1.6h-1.6zM391.5 283.1h1.6v1.6h-1.6zM379.8 289.7h1.6v1.6h-1.6zM395.7 282.2h1.6v1.6h-1.6zM379.2 297.5h1.6v1.6h-1.6zM385.8 282.4h1.6v1.6h-1.6zM402.0 285.5h1.6v1.6h-1.6zM410.9 293.0h1.6v1.6h-1.6zM399.6 283.2h1.6v1.6h-1.6zM401.4 284.3h1.6v1.6h-1.6zM375.7 293.1h1.6v1.6h-1.6zM400.9 282.9h1.6v1.6h-1.6zM408.8 309.5h1.6v1.6h-1.6zM379.0 302.9h1.6v1.6h-1.6zM410.6 309.7h1.6v1.6h-1.6zM385.9 283.4h1.6v1.6h-1.6zM396.7 280.9h1.6v1.6h-1.6zM394.7 283.0h1.6v1.6h-1.6zM382.1 305.6h1.6v1.6h-1.6zM381.2 310.2h1.6v1.6h-1.6zM408.3 308.0h1.6v1.6h-1.6zM390.6 333.5h1.6v1.6h-1.6zM388.8 339.2h1.6v1.6h-1.6zM408.8 334.0h1.6v1.6h-1.6zM407.8 350.1h1.6v1.6h-1.6zM389.4 331.9h1.6v1.6h-1.6zM388.8 341.1h1.6v1.6h-1.6zM409.8 340.3h1.6v1.6h-1.6zM410.4 327.7h1.6v1.6h-1.6zM409.8 322.7h1.6v1.6h-1.6zM388.0 337.7h1.6v1.6h-1.6zM409.8 341.9h1.6v1.6h-1.6zM409.2 343.2h1.6v1.6h-1.6zM409.7 343.0h1.6v1.6h-1.6zM385.5 308.2h1.6v1.6h-1.6zM407.2 310.9h1.6v1.6h-1.6zM385.9 311.0h1.6v1.6h-1.6zM409.5 303.8h1.6v1.6h-1.6zM411.2 309.4h1.6v1.6h-1.6zM385.0 321.6h1.6v1.6h-1.6zM385.5 321.3h1.6v1.6h-1.6zM381.0 309.9h1.6v1.6h-1.6zM379.9 301.3h1.6v1.6h-1.6zM409.0 322.1h1.6v1.6h-1.6zM406.5 352.7h1.6v1.6h-1.6zM406.7 352.0h1.6v1.6h-1.6zM400.9 360.9h1.6v1.6h-1.6zM397.7 361.5h1.6v1.6h-1.6zM406.5 355.2h1.6v1.6h-1.6zM381.8 310.6h1.6v1.6h-1.6zM408.2 315.6h1.6v1.6h-1.6zM407.7 322.7h1.6v1.6h-1.6zM408.2 344.8h1.6v1.6h-1.6zM388.2 335.0h1.6v1.6h-1.6zM393.6 346.4h1.6v1.6h-1.6zM408.7 346.8h1.6v1.6h-1.6zM408.3 306.8h1.6v1.6h-1.6zM407.6 350.2h1.6v1.6h-1.6zM384.0 306.5h1.6v1.6h-1.6zM381.4 286.7h1.6v1.6h-1.6zM387.4 322.6h1.6v1.6h-1.6z" fill="#1456f1"/>
<path d="M397.4 282.0h1.6v1.6h-1.6zM404.0 289.5h1.6v1.6h-1.6zM389.8 283.0h1.6v1.6h-1.6zM402.0 286.4h1.6v1.6h-1.6zM382.1 286.9h1.6v1.6h-1.6zM406.5 297.0h1.6v1.6h-1.6zM407.6 300.2h1.6v1.6h-1.6zM382.5 289.0h1.6v1.6h-1.6zM379.6 292.6h1.6v1.6h-1.6zM380.4 288.5h1.6v1.6h-1.6zM387.4 283.3h1.6v1.6h-1.6zM407.0 293.9h1.6v1.6h-1.6zM406.8 293.4h1.6v1.6h-1.6zM384.7 302.5h1.6v1.6h-1.6zM404.1 287.7h1.6v1.6h-1.6zM400.4 284.0h1.6v1.6h-1.6zM408.0 303.9h1.6v1.6h-1.6zM396.0 285.6h1.6v1.6h-1.6zM406.2 301.5h1.6v1.6h-1.6zM403.4 286.8h1.6v1.6h-1.6zM381.7 294.6h1.6v1.6h-1.6zM399.7 285.3h1.6v1.6h-1.6zM381.0 289.5h1.6v1.6h-1.6zM383.8 304.3h1.6v1.6h-1.6zM381.6 292.7h1.6v1.6h-1.6zM399.7 284.4h1.6v1.6h-1.6zM406.5 292.8h1.6v1.6h-1.6zM384.7 302.5h1.6v1.6h-1.6zM383.3 285.7h1.6v1.6h-1.6zM383.7 289.0h1.6v1.6h-1.6zM406.4 306.4h1.6v1.6h-1.6zM381.0 289.6h1.6v1.6h-1.6zM396.6 281.5h1.6v1.6h-1.6zM380.4 292.9h1.6v1.6h-1.6zM384.1 285.0h1.6v1.6h-1.6zM381.6 287.9h1.6v1.6h-1.6zM381.1 303.0h1.6v1.6h-1.6zM381.8 304.0h1.6v1.6h-1.6zM390.4 282.9h1.6v1.6h-1.6zM381.4 303.7h1.6v1.6h-1.6zM407.0 302.6h1.6v1.6h-1.6zM382.3 298.3h1.6v1.6h-1.6zM408.3 304.6h1.6v1.6h-1.6zM379.8 294.0h1.6v1.6h-1.6zM382.6 288.5h1.6v1.6h-1.6zM407.7 335.5h1.6v1.6h-1.6zM392.9 335.3h1.6v1.6h-1.6zM389.1 334.4h1.6v1.6h-1.6zM407.1 320.2h1.6v1.6h-1.6zM408.8 338.4h1.6v1.6h-1.6zM390.6 331.9h1.6v1.6h-1.6zM406.8 344.6h1.6v1.6h-1.6zM389.5 339.9h1.6v1.6h-1.6zM405.6 349.8h1.6v1.6h-1.6zM392.9 336.2h1.6v1.6h-1.6zM394.8 346.1h1.6v1.6h-1.6zM408.3 347.7h1.6v1.6h-1.6zM390.0 343.1h1.6v1.6h-1.6zM409.0 339.3h1.6v1.6h-1.6zM390.5 343.5h1.6v1.6h-1.6zM409.4 324.4h1.6v1.6h-1.6zM387.9 336.3h1.6v1.6h-1.6zM409.8 324.8h1.6v1.6h-1.6zM388.9 337.4h1.6v1.6h-1.6zM406.6 333.4h1.6v1.6h-1.6zM407.9 341.2h1.6v1.6h-1.6zM388.9 340.5h1.6v1.6h-1.6zM393.7 346.1h1.6v1.6h-1.6zM407.1 331.6h1.6v1.6h-1.6zM389.9 340.5h1.6v1.6h-1.6zM408.5 303.6h1.6v1.6h-1.6zM405.9 319.8h1.6v1.6h-1.6zM382.7 305.3h1.6v1.6h-1.6zM408.3 308.9h1.6v1.6h-1.6zM407.8 319.6h1.6v1.6h-1.6zM386.8 313.8h1.6v1.6h-1.6zM383.8 303.2h1.6v1.6h-1.6zM386.4 313.3h1.6v1.6h-1.6zM385.3 305.7h1.6v1.6h-1.6zM389.2 316.0h1.6v1.6h-1.6zM406.7 310.1h1.6v1.6h-1.6zM407.2 321.7h1.6v1.6h-1.6zM408.5 303.3h1.6v1.6h-1.6zM383.6 304.7h1.6v1.6h-1.6zM386.3 306.9h1.6v1.6h-1.6zM395.5 350.7h1.6v1.6h-1.6zM398.7 361.0h1.6v1.6h-1.6zM396.4 360.2h1.6v1.6h-1.6zM396.2 360.5h1.6v1.6h-1.6zM397.0 360.5h1.6v1.6h-1.6zM394.9 355.0h1.6v1.6h-1.6zM397.0 355.9h1.6v1.6h-1.6zM405.4 354.0h1.6v1.6h-1.6zM401.0 356.3h1.6v1.6h-1.6zM400.7 360.0h1.6v1.6h-1.6zM406.4 320.9h1.6v1.6h-1.6zM409.8 327.7h1.6v1.6h-1.6zM408.0 333.3h1.6v1.6h-1.6zM405.8 319.1h1.6v1.6h-1.6zM405.9 305.9h1.6v1.6h-1.6zM407.1 306.2h1.6v1.6h-1.6zM407.2 309.2h1.6v1.6h-1.6zM405.8 303.9h1.6v1.6h-1.6zM406.3 318.2h1.6v1.6h-1.6zM390.7 332.0h1.6v1.6h-1.6zM407.9 320.1h1.6v1.6h-1.6zM404.4 321.9h1.6v1.6h-1.6z" fill="#137cfe"/>
<path d="M386.8 284.8h1.6v1.6h-1.6zM386.8 285.5h1.6v1.6h-1.6zM385.2 285.8h1.6v1.6h-1.6zM405.4 294.5h1.6v1.6h-1.6zM384.4 287.0h1.6v1.6h-1.6zM383.1 299.4h1.6v1.6h-1.6zM405.7 297.2h1.6v1.6h-1.6zM406.0 295.1h1.6v1.6h-1.6zM384.7 299.5h1.6v1.6h-1.6zM383.2 297.9h1.6v1.6h-1.6zM382.0 292.5h1.6v1.6h-1.6zM406.4 298.1h1.6v1.6h-1.6zM387.4 287.8h1.6v1.6h-1.6zM386.8 284.3h1.6v1.6h-1.6zM383.3 296.7h1.6v1.6h-1.6zM385.5 285.7h1.6v1.6h-1.6zM404.5 295.3h1.6v1.6h-1.6zM393.4 284.1h1.6v1.6h-1.6zM384.1 286.6h1.6v1.6h-1.6zM389.0 283.8h1.6v1.6h-1.6zM403.4 287.2h1.6v1.6h-1.6zM385.3 287.3h1.6v1.6h-1.6zM384.0 300.5h1.6v1.6h-1.6zM390.8 318.0h1.6v1.6h-1.6zM386.0 305.4h1.6v1.6h-1.6zM404.4 305.3h1.6v1.6h-1.6zM383.1 301.7h1.6v1.6h-1.6zM406.9 299.3h1.6v1.6h-1.6zM388.8 310.9h1.6v1.6h-1.6zM389.7 283.4h1.6v1.6h-1.6zM394.0 284.4h1.6v1.6h-1.6zM381.5 302.4h1.6v1.6h-1.6zM387.6 320.0h1.6v1.6h-1.6zM385.7 286.7h1.6v1.6h-1.6zM393.2 284.4h1.6v1.6h-1.6zM388.3 307.3h1.6v1.6h-1.6zM382.3 300.6h1.6v1.6h-1.6zM381.1 301.4h1.6v1.6h-1.6zM407.2 298.9h1.6v1.6h-1.6zM386.6 310.1h1.6v1.6h-1.6zM407.3 325.3h1.6v1.6h-1.6zM395.4 349.4h1.6v1.6h-1.6zM406.9 346.8h1.6v1.6h-1.6zM404.7 317.4h1.6v1.6h-1.6zM406.3 326.8h1.6v1.6h-1.6zM407.5 336.3h1.6v1.6h-1.6zM407.8 348.1h1.6v1.6h-1.6zM401.9 324.7h1.6v1.6h-1.6zM391.4 343.8h1.6v1.6h-1.6zM406.7 333.0h1.6v1.6h-1.6zM394.8 347.9h1.6v1.6h-1.6zM388.8 336.4h1.6v1.6h-1.6zM390.0 328.8h1.6v1.6h-1.6zM393.4 322.5h1.6v1.6h-1.6zM394.4 344.5h1.6v1.6h-1.6zM392.7 339.5h1.6v1.6h-1.6zM407.2 335.3h1.6v1.6h-1.6zM404.2 325.2h1.6v1.6h-1.6zM407.7 324.9h1.6v1.6h-1.6zM397.9 357.7h1.6v1.6h-1.6zM391.5 340.6h1.6v1.6h-1.6zM407.6 347.1h1.6v1.6h-1.6zM406.2 338.7h1.6v1.6h-1.6zM403.7 323.8h1.6v1.6h-1.6zM395.3 354.7h1.6v1.6h-1.6zM391.3 335.8h1.6v1.6h-1.6zM409.5 326.0h1.6v1.6h-1.6zM407.5 348.3h1.6v1.6h-1.6zM392.8 338.9h1.6v1.6h-1.6zM393.3 337.7h1.6v1.6h-1.6zM406.4 315.6h1.6v1.6h-1.6zM407.8 336.5h1.6v1.6h-1.6zM407.7 338.9h1.6v1.6h-1.6zM400.1 355.7h1.6v1.6h-1.6zM392.3 344.0h1.6v1.6h-1.6zM405.0 323.7h1.6v1.6h-1.6zM407.3 338.4h1.6v1.6h-1.6zM405.3 324.3h1.6v1.6h-1.6zM403.1 325.1h1.6v1.6h-1.6zM408.9 328.2h1.6v1.6h-1.6zM404.8 318.4h1.6v1.6h-1.6zM406.7 332.5h1.6v1.6h-1.6zM393.2 337.4h1.6v1.6h-1.6zM397.8 356.0h1.6v1.6h-1.6zM390.7 341.7h1.6v1.6h-1.6zM405.9 322.8h1.6v1.6h-1.6zM408.0 324.8h1.6v1.6h-1.6zM403.0 358.0h1.6v1.6h-1.6zM392.6 322.1h1.6v1.6h-1.6zM406.8 316.5h1.6v1.6h-1.6zM403.2 307.9h1.6v1.6h-1.6zM404.5 306.5h1.6v1.6h-1.6zM402.7 307.2h1.6v1.6h-1.6zM404.9 310.6h1.6v1.6h-1.6zM391.3 317.5h1.6v1.6h-1.6zM388.0 313.8h1.6v1.6h-1.6zM403.7 304.3h1.6v1.6h-1.6zM404.7 307.0h1.6v1.6h-1.6zM386.4 306.3h1.6v1.6h-1.6zM388.2 318.2h1.6v1.6h-1.6zM406.7 315.9h1.6v1.6h-1.6zM390.9 320.6h1.6v1.6h-1.6zM388.6 322.1h1.6v1.6h-1.6zM404.9 295.6h1.6v1.6h-1.6zM388.6 314.6h1.6v1.6h-1.6zM386.6 312.6h1.6v1.6h-1.6zM405.6 308.6h1.6v1.6h-1.6zM407.1 316.6h1.6v1.6h-1.6zM403.0 308.3h1.6v1.6h-1.6zM393.1 325.1h1.6v1.6h-1.6zM405.5 301.6h1.6v1.6h-1.6zM391.4 318.7h1.6v1.6h-1.6zM404.4 305.7h1.6v1.6h-1.6zM389.3 320.7h1.6v1.6h-1.6zM388.7 308.0h1.6v1.6h-1.6zM387.2 308.0h1.6v1.6h-1.6zM389.7 318.2h1.6v1.6h-1.6zM402.7 308.9h1.6v1.6h-1.6zM387.1 318.9h1.6v1.6h-1.6zM405.8 322.8h1.6v1.6h-1.6zM407.1 298.6h1.6v1.6h-1.6zM389.7 308.8h1.6v1.6h-1.6zM388.8 322.1h1.6v1.6h-1.6zM386.8 310.2h1.6v1.6h-1.6zM405.3 308.8h1.6v1.6h-1.6zM405.9 314.3h1.6v1.6h-1.6zM382.1 301.7h1.6v1.6h-1.6zM406.2 309.1h1.6v1.6h-1.6zM395.1 349.1h1.6v1.6h-1.6zM399.3 357.0h1.6v1.6h-1.6zM404.6 353.5h1.6v1.6h-1.6zM403.2 355.9h1.6v1.6h-1.6zM395.2 354.7h1.6v1.6h-1.6zM406.2 344.7h1.6v1.6h-1.6zM401.6 355.1h1.6v1.6h-1.6zM401.7 358.8h1.6v1.6h-1.6zM403.9 357.2h1.6v1.6h-1.6zM405.9 347.7h1.6v1.6h-1.6zM405.6 350.9h1.6v1.6h-1.6zM395.0 353.7h1.6v1.6h-1.6zM404.9 355.8h1.6v1.6h-1.6zM404.7 356.1h1.6v1.6h-1.6zM401.6 358.6h1.6v1.6h-1.6zM397.3 358.3h1.6v1.6h-1.6zM402.9 356.6h1.6v1.6h-1.6zM404.9 351.8h1.6v1.6h-1.6zM396.8 355.1h1.6v1.6h-1.6zM404.8 355.0h1.6v1.6h-1.6zM399.9 358.2h1.6v1.6h-1.6zM400.9 357.2h1.6v1.6h-1.6zM402.2 358.6h1.6v1.6h-1.6zM404.0 357.4h1.6v1.6h-1.6zM389.3 326.7h1.6v1.6h-1.6zM405.3 303.3h1.6v1.6h-1.6zM403.9 323.1h1.6v1.6h-1.6zM405.3 302.3h1.6v1.6h-1.6zM388.9 325.3h1.6v1.6h-1.6zM404.6 309.0h1.6v1.6h-1.6zM390.2 319.6h1.6v1.6h-1.6zM386.8 287.9h1.6v1.6h-1.6zM403.4 303.1h1.6v1.6h-1.6zM406.1 345.2h1.6v1.6h-1.6zM402.9 357.3h1.6v1.6h-1.6zM409.2 325.5h1.6v1.6h-1.6zM388.5 305.7h1.6v1.6h-1.6zM385.5 288.1h1.6v1.6h-1.6zM405.1 304.2h1.6v1.6h-1.6zM405.3 316.3h1.6v1.6h-1.6zM404.2 301.3h1.6v1.6h-1.6z" fill="#12a5f7"/>
<path d="M391.9 302.0h1.6v1.6h-1.6zM402.7 288.0h1.6v1.6h-1.6zM383.0 292.3h1.6v1.6h-1.6zM404.2 290.9h1.6v1.6h-1.6zM402.9 295.9h1.6v1.6h-1.6zM384.1 297.4h1.6v1.6h-1.6zM384.3 291.0h1.6v1.6h-1.6zM402.8 288.6h1.6v1.6h-1.6zM399.6 286.9h1.6v1.6h-1.6zM405.6 299.3h1.6v1.6h-1.6zM387.4 304.3h1.6v1.6h-1.6zM400.4 286.9h1.6v1.6h-1.6zM396.1 286.7h1.6v1.6h-1.6zM384.5 297.9h1.6v1.6h-1.6zM385.9 301.2h1.6v1.6h-1.6zM382.9 301.0h1.6v1.6h-1.6zM384.9 289.8h1.6v1.6h-1.6zM385.1 289.6h1.6v1.6h-1.6zM385.1 300.6h1.6v1.6h-1.6zM388.6 286.8h1.6v1.6h-1.6zM404.2 297.7h1.6v1.6h-1.6zM404.2 294.1h1.6v1.6h-1.6zM405.2 294.7h1.6v1.6h-1.6zM386.8 288.8h1.6v1.6h-1.6zM390.1 305.8h1.6v1.6h-1.6zM385.5 300.4h1.6v1.6h-1.6zM397.7 286.5h1.6v1.6h-1.6zM389.1 305.1h1.6v1.6h-1.6zM401.3 305.0h1.6v1.6h-1.6zM402.6 303.8h1.6v1.6h-1.6zM391.1 329.9h1.6v1.6h-1.6zM406.7 337.4h1.6v1.6h-1.6zM403.0 325.4h1.6v1.6h-1.6zM393.2 338.6h1.6v1.6h-1.6zM393.0 344.0h1.6v1.6h-1.6zM401.9 326.4h1.6v1.6h-1.6zM404.5 345.1h1.6v1.6h-1.6zM391.1 330.5h1.6v1.6h-1.6zM407.2 329.0h1.6v1.6h-1.6zM406.3 330.7h1.6v1.6h-1.6zM406.4 342.0h1.6v1.6h-1.6zM390.2 336.2h1.6v1.6h-1.6zM394.1 337.7h1.6v1.6h-1.6zM390.4 336.1h1.6v1.6h-1.6zM394.3 324.2h1.6v1.6h-1.6zM408.5 327.0h1.6v1.6h-1.6zM407.3 326.2h1.6v1.6h-1.6zM394.1 343.9h1.6v1.6h-1.6zM406.0 337.5h1.6v1.6h-1.6zM403.0 310.4h1.6v1.6h-1.6zM395.2 347.6h1.6v1.6h-1.6zM404.7 326.4h1.6v1.6h-1.6zM391.5 342.9h1.6v1.6h-1.6zM396.4 346.3h1.6v1.6h-1.6zM406.9 340.0h1.6v1.6h-1.6zM396.4 344.8h1.6v1.6h-1.6zM392.3 340.7h1.6v1.6h-1.6zM408.1 326.6h1.6v1.6h-1.6zM389.6 325.2h1.6v1.6h-1.6zM404.8 323.5h1.6v1.6h-1.6zM406.9 340.4h1.6v1.6h-1.6zM392.7 333.7h1.6v1.6h-1.6zM389.1 318.5h1.6v1.6h-1.6zM390.5 336.8h1.6v1.6h-1.6zM391.4 342.5h1.6v1.6h-1.6zM406.2 341.8h1.6v1.6h-1.6zM407.6 327.3h1.6v1.6h-1.6zM404.5 346.2h1.6v1.6h-1.6zM392.3 341.6h1.6v1.6h-1.6zM389.2 323.7h1.6v1.6h-1.6zM394.8 324.4h1.6v1.6h-1.6zM387.3 303.9h1.6v1.6h-1.6zM401.2 305.1h1.6v1.6h-1.6zM395.3 317.5h1.6v1.6h-1.6zM388.4 319.9h1.6v1.6h-1.6zM401.8 310.0h1.6v1.6h-1.6zM404.0 310.8h1.6v1.6h-1.6zM403.7 317.6h1.6v1.6h-1.6zM387.5 312.3h1.6v1.6h-1.6zM390.8 308.7h1.6v1.6h-1.6zM382.8 300.6h1.6v1.6h-1.6zM401.7 317.4h1.6v1.6h-1.6zM389.5 314.9h1.6v1.6h-1.6zM387.1 304.6h1.6v1.6h-1.6zM389.8 315.1h1.6v1.6h-1.6zM401.5 308.6h1.6v1.6h-1.6zM388.9 308.9h1.6v1.6h-1.6zM388.3 309.7h1.6v1.6h-1.6zM391.4 322.0h1.6v1.6h-1.6zM388.0 312.5h1.6v1.6h-1.6zM393.2 317.3h1.6v1.6h-1.6zM389.1 323.1h1.6v1.6h-1.6zM390.4 321.7h1.6v1.6h-1.6zM392.3 316.9h1.6v1.6h-1.6zM396.5 317.1h1.6v1.6h-1.6zM405.1 314.7h1.6v1.6h-1.6zM404.2 311.5h1.6v1.6h-1.6zM407.6 328.0h1.6v1.6h-1.6zM387.4 319.2h1.6v1.6h-1.6zM387.9 311.6h1.6v1.6h-1.6zM389.0 320.2h1.6v1.6h-1.6zM401.2 307.3h1.6v1.6h-1.6zM401.6 305.8h1.6v1.6h-1.6zM395.9 319.0h1.6v1.6h-1.6zM388.4 318.3h1.6v1.6h-1.6zM403.6 317.6h1.6v1.6h-1.6zM387.6 309.6h1.6v1.6h-1.6zM401.9 323.1h1.6v1.6h-1.6zM402.3 304.3h1.6v1.6h-1.6zM391.5 316.7h1.6v1.6h-1.6zM394.2 324.9h1.6v1.6h-1.6zM387.0 305.3h1.6v1.6h-1.6zM390.5 310.1h1.6v1.6h-1.6zM402.2 317.2h1.6v1.6h-1.6zM394.1 323.0h1.6v1.6h-1.6zM395.8 317.4h1.6v1.6h-1.6zM404.4 354.0h1.6v1.6h-1.6zM402.4 354.7h1.6v1.6h-1.6zM403.4 352.5h1.6v1.6h-1.6zM398.1 358.3h1.6v1.6h-1.6zM399.2 358.9h1.6v1.6h-1.6zM405.0 347.5h1.6v1.6h-1.6zM398.2 355.1h1.6v1.6h-1.6zM404.8 344.3h1.6v1.6h-1.6zM405.3 347.8h1.6v1.6h-1.6zM395.1 347.7h1.6v1.6h-1.6zM398.8 359.4h1.6v1.6h-1.6zM398.2 359.4h1.6v1.6h-1.6zM399.7 355.0h1.6v1.6h-1.6zM403.5 354.2h1.6v1.6h-1.6zM398.7 359.5h1.6v1.6h-1.6zM398.9 355.8h1.6v1.6h-1.6zM398.6 355.2h1.6v1.6h-1.6zM399.2 358.9h1.6v1.6h-1.6zM404.6 293.0h1.6v1.6h-1.6zM406.6 329.0h1.6v1.6h-1.6zM404.8 344.1h1.6v1.6h-1.6zM388.1 309.2h1.6v1.6h-1.6zM387.7 319.2h1.6v1.6h-1.6zM403.8 317.2h1.6v1.6h-1.6zM394.8 324.0h1.6v1.6h-1.6zM401.5 311.0h1.6v1.6h-1.6zM393.3 318.7h1.6v1.6h-1.6zM389.8 326.1h1.6v1.6h-1.6zM396.7 346.3h1.6v1.6h-1.6zM405.5 315.7h1.6v1.6h-1.6zM395.5 353.1h1.6v1.6h-1.6zM390.1 335.6h1.6v1.6h-1.6zM406.8 339.3h1.6v1.6h-1.6zM390.1 335.6h1.6v1.6h-1.6zM404.0 345.1h1.6v1.6h-1.6zM407.9 327.7h1.6v1.6h-1.6zM401.6 305.0h1.6v1.6h-1.6zM394.0 334.7h1.6v1.6h-1.6zM388.1 308.5h1.6v1.6h-1.6z" fill="#10cdf0"/>
<path d="M393.9 309.2h1.6v1.6h-1.6zM391.0 303.6h1.6v1.6h-1.6zM389.9 285.7h1.6v1.6h-1.6zM388.4 285.8h1.6v1.6h-1.6zM388.4 285.1h1.6v1.6h-1.6zM391.3 304.2h1.6v1.6h-1.6zM384.8 290.8h1.6v1.6h-1.6zM404.2 291.2h1.6v1.6h-1.6zM391.8 303.1h1.6v1.6h-1.6zM390.4 302.1h1.6v1.6h-1.6zM393.8 301.9h1.6v1.6h-1.6zM404.9 298.4h1.6v1.6h-1.6zM404.6 298.2h1.6v1.6h-1.6zM393.3 285.5h1.6v1.6h-1.6zM398.9 304.1h1.6v1.6h-1.6zM391.9 285.7h1.6v1.6h-1.6zM385.3 297.5h1.6v1.6h-1.6zM388.6 285.4h1.6v1.6h-1.6zM386.4 299.1h1.6v1.6h-1.6zM400.6 290.3h1.6v1.6h-1.6zM403.6 293.8h1.6v1.6h-1.6zM387.1 300.8h1.6v1.6h-1.6zM389.3 300.5h1.6v1.6h-1.6zM403.4 290.8h1.6v1.6h-1.6zM383.5 295.0h1.6v1.6h-1.6zM400.5 287.7h1.6v1.6h-1.6zM404.7 299.0h1.6v1.6h-1.6zM385.3 290.1h1.6v1.6h-1.6zM391.4 300.6h1.6v1.6h-1.6zM400.4 287.8h1.6v1.6h-1.6zM387.2 300.9h1.6v1.6h-1.6zM389.9 285.1h1.6v1.6h-1.6zM403.2 297.7h1.6v1.6h-1.6zM388.6 300.6h1.6v1.6h-1.6zM397.1 286.8h1.6v1.6h-1.6zM383.5 295.5h1.6v1.6h-1.6zM387.5 299.3h1.6v1.6h-1.6zM389.6 304.8h1.6v1.6h-1.6zM384.0 292.4h1.6v1.6h-1.6zM402.9 298.0h1.6v1.6h-1.6zM390.9 302.9h1.6v1.6h-1.6zM386.9 301.3h1.6v1.6h-1.6zM383.4 292.6h1.6v1.6h-1.6zM389.2 285.8h1.6v1.6h-1.6zM402.4 290.2h1.6v1.6h-1.6zM398.0 287.2h1.6v1.6h-1.6zM389.2 284.8h1.6v1.6h-1.6zM404.4 291.5h1.6v1.6h-1.6zM391.4 286.1h1.6v1.6h-1.6zM401.8 288.3h1.6v1.6h-1.6zM404.6 299.8h1.6v1.6h-1.6zM386.3 298.6h1.6v1.6h-1.6zM393.2 316.5h1.6v1.6h-1.6zM402.3 315.8h1.6v1.6h-1.6zM401.1 290.2h1.6v1.6h-1.6zM400.2 306.9h1.6v1.6h-1.6zM391.7 310.1h1.6v1.6h-1.6zM392.5 310.1h1.6v1.6h-1.6zM399.0 306.1h1.6v1.6h-1.6zM400.9 310.2h1.6v1.6h-1.6zM401.0 310.4h1.6v1.6h-1.6zM392.1 306.1h1.6v1.6h-1.6zM399.4 310.4h1.6v1.6h-1.6zM389.6 286.0h1.6v1.6h-1.6zM399.8 303.7h1.6v1.6h-1.6zM390.8 310.9h1.6v1.6h-1.6zM392.2 306.0h1.6v1.6h-1.6zM383.3 294.9h1.6v1.6h-1.6zM402.6 319.1h1.6v1.6h-1.6zM393.3 341.3h1.6v1.6h-1.6zM392.9 342.2h1.6v1.6h-1.6zM404.0 350.2h1.6v1.6h-1.6zM393.9 343.3h1.6v1.6h-1.6zM392.8 332.8h1.6v1.6h-1.6zM404.4 338.2h1.6v1.6h-1.6zM397.5 345.7h1.6v1.6h-1.6zM397.7 346.7h1.6v1.6h-1.6zM406.6 330.1h1.6v1.6h-1.6zM392.9 333.2h1.6v1.6h-1.6zM403.0 351.1h1.6v1.6h-1.6zM396.9 348.7h1.6v1.6h-1.6zM404.8 331.9h1.6v1.6h-1.6zM392.1 326.7h1.6v1.6h-1.6zM400.4 349.2h1.6v1.6h-1.6zM397.4 347.4h1.6v1.6h-1.6zM401.7 350.8h1.6v1.6h-1.6zM391.2 329.0h1.6v1.6h-1.6zM394.7 338.1h1.6v1.6h-1.6zM390.7 328.6h1.6v1.6h-1.6zM403.9 347.5h1.6v1.6h-1.6zM404.6 328.4h1.6v1.6h-1.6zM405.6 340.8h1.6v1.6h-1.6zM402.7 350.6h1.6v1.6h-1.6zM392.3 330.0h1.6v1.6h-1.6zM392.8 326.9h1.6v1.6h-1.6zM396.8 351.3h1.6v1.6h-1.6zM396.9 348.4h1.6v1.6h-1.6zM392.5 326.7h1.6v1.6h-1.6zM394.8 334.8h1.6v1.6h-1.6zM392.2 328.3h1.6v1.6h-1.6zM404.4 314.7h1.6v1.6h-1.6zM390.2 336.2h1.6v1.6h-1.6zM404.1 347.8h1.6v1.6h-1.6zM396.2 343.8h1.6v1.6h-1.6zM390.4 327.1h1.6v1.6h-1.6zM406.0 341.1h1.6v1.6h-1.6zM397.8 349.7h1.6v1.6h-1.6zM402.1 322.6h1.6v1.6h-1.6zM394.7 338.7h1.6v1.6h-1.6zM396.7 351.4h1.6v1.6h-1.6zM391.0 326.6h1.6v1.6h-1.6zM404.7 342.6h1.6v1.6h-1.6zM396.0 336.7h1.6v1.6h-1.6zM393.7 321.3h1.6v1.6h-1.6zM405.6 331.4h1.6v1.6h-1.6zM398.2 346.8h1.6v1.6h-1.6zM395.2 342.8h1.6v1.6h-1.6zM393.9 339.8h1.6v1.6h-1.6zM404.9 341.8h1.6v1.6h-1.6zM400.4 349.0h1.6v1.6h-1.6zM392.7 342.7h1.6v1.6h-1.6zM390.7 327.7h1.6v1.6h-1.6zM394.5 316.4h1.6v1.6h-1.6zM398.0 349.6h1.6v1.6h-1.6zM392.7 332.6h1.6v1.6h-1.6zM392.8 320.6h1.6v1.6h-1.6zM391.5 308.6h1.6v1.6h-1.6zM402.8 310.8h1.6v1.6h-1.6zM394.2 320.7h1.6v1.6h-1.6zM392.4 304.0h1.6v1.6h-1.6zM393.1 319.7h1.6v1.6h-1.6zM394.5 310.2h1.6v1.6h-1.6zM393.9 319.6h1.6v1.6h-1.6zM399.4 303.5h1.6v1.6h-1.6zM391.7 307.4h1.6v1.6h-1.6zM393.4 319.5h1.6v1.6h-1.6zM396.0 319.1h1.6v1.6h-1.6zM393.1 308.8h1.6v1.6h-1.6zM395.6 319.9h1.6v1.6h-1.6zM390.7 322.7h1.6v1.6h-1.6zM389.1 312.4h1.6v1.6h-1.6zM392.3 308.5h1.6v1.6h-1.6zM397.3 316.9h1.6v1.6h-1.6zM393.2 319.3h1.6v1.6h-1.6zM393.2 320.1h1.6v1.6h-1.6zM391.7 307.9h1.6v1.6h-1.6zM391.4 307.3h1.6v1.6h-1.6zM402.0 322.5h1.6v1.6h-1.6zM395.6 316.2h1.6v1.6h-1.6zM390.2 302.3h1.6v1.6h-1.6zM404.5 300.2h1.6v1.6h-1.6zM388.5 312.7h1.6v1.6h-1.6zM394.2 316.5h1.6v1.6h-1.6zM402.8 319.6h1.6v1.6h-1.6zM391.1 326.3h1.6v1.6h-1.6zM403.2 315.6h1.6v1.6h-1.6zM390.7 327.4h1.6v1.6h-1.6zM406.5 329.5h1.6v1.6h-1.6zM395.1 310.9h1.6v1.6h-1.6zM397.1 317.2h1.6v1.6h-1.6zM400.2 306.7h1.6v1.6h-1.6zM404.2 312.2h1.6v1.6h-1.6zM403.6 311.9h1.6v1.6h-1.6zM401.1 312.1h1.6v1.6h-1.6zM396.4 319.6h1.6v1.6h-1.6zM389.8 323.2h1.6v1.6h-1.6zM392.5 319.4h1.6v1.6h-1.6zM392.6 328.6h1.6v1.6h-1.6zM398.2 310.2h1.6v1.6h-1.6zM394.9 319.5h1.6v1.6h-1.6zM390.3 304.8h1.6v1.6h-1.6zM388.0 303.9h1.6v1.6h-1.6zM393.3 302.0h1.6v1.6h-1.6zM386.8 300.0h1.6v1.6h-1.6zM391.6 315.2h1.6v1.6h-1.6zM399.8 326.1h1.6v1.6h-1.6zM391.4 315.8h1.6v1.6h-1.6zM401.5 353.8h1.6v1.6h-1.6zM401.0 345.4h1.6v1.6h-1.6zM400.3 349.1h1.6v1.6h-1.6zM396.0 348.0h1.6v1.6h-1.6zM404.1 348.8h1.6v1.6h-1.6zM403.3 353.8h1.6v1.6h-1.6zM402.6 353.9h1.6v1.6h-1.6zM396.0 353.7h1.6v1.6h-1.6zM396.6 348.5h1.6v1.6h-1.6zM396.2 352.6h1.6v1.6h-1.6zM404.4 351.0h1.6v1.6h-1.6zM403.7 347.1h1.6v1.6h-1.6zM404.2 350.6h1.6v1.6h-1.6zM392.0 330.3h1.6v1.6h-1.6zM390.9 329.1h1.6v1.6h-1.6zM403.7 311.5h1.6v1.6h-1.6zM398.4 306.0h1.6v1.6h-1.6zM391.7 307.2h1.6v1.6h-1.6zM390.2 304.9h1.6v1.6h-1.6zM402.5 310.6h1.6v1.6h-1.6zM406.4 329.8h1.6v1.6h-1.6zM406.0 341.6h1.6v1.6h-1.6zM401.0 303.8h1.6v1.6h-1.6zM394.2 321.5h1.6v1.6h-1.6zM400.8 326.6h1.6v1.6h-1.6zM400.9 312.6h1.6v1.6h-1.6zM400.3 287.6h1.6v1.6h-1.6zM399.7 309.9h1.6v1.6h-1.6zM402.7 318.7h1.6v1.6h-1.6zM385.5 289.9h1.6v1.6h-1.6zM405.9 329.7h1.6v1.6h-1.6zM392.5 330.5h1.6v1.6h-1.6zM393.3 326.8h1.6v1.6h-1.6zM393.2 342.8h1.6v1.6h-1.6z" fill="#14d6c9"/>
<path d="M384.1 294.0h1.6v1.6h-1.6zM401.9 289.0h1.6v1.6h-1.6zM403.1 299.1h1.6v1.6h-1.6zM401.1 288.7h1.6v1.6h-1.6zM398.9 302.1h1.6v1.6h-1.6zM394.0 300.2h1.6v1.6h-1.6zM394.7 302.6h1.6v1.6h-1.6zM393.9 286.1h1.6v1.6h-1.6zM400.3 291.8h1.6v1.6h-1.6zM395.3 287.2h1.6v1.6h-1.6zM388.0 303.1h1.6v1.6h-1.6zM399.1 291.1h1.6v1.6h-1.6zM403.4 299.1h1.6v1.6h-1.6zM385.6 293.3h1.6v1.6h-1.6zM396.7 300.6h1.6v1.6h-1.6zM395.1 301.2h1.6v1.6h-1.6zM388.3 301.0h1.6v1.6h-1.6zM386.0 295.4h1.6v1.6h-1.6zM384.3 292.3h1.6v1.6h-1.6zM397.0 287.2h1.6v1.6h-1.6zM399.1 301.0h1.6v1.6h-1.6zM401.2 289.3h1.6v1.6h-1.6zM385.1 297.0h1.6v1.6h-1.6zM387.2 298.1h1.6v1.6h-1.6zM399.5 288.6h1.6v1.6h-1.6zM403.4 299.7h1.6v1.6h-1.6zM398.6 288.1h1.6v1.6h-1.6zM398.9 290.8h1.6v1.6h-1.6zM384.0 293.5h1.6v1.6h-1.6zM389.6 287.6h1.6v1.6h-1.6zM385.7 294.7h1.6v1.6h-1.6zM401.9 295.9h1.6v1.6h-1.6zM385.7 295.7h1.6v1.6h-1.6zM401.2 289.3h1.6v1.6h-1.6zM402.5 291.0h1.6v1.6h-1.6zM402.1 297.7h1.6v1.6h-1.6zM393.1 304.3h1.6v1.6h-1.6zM399.2 289.4h1.6v1.6h-1.6zM392.5 286.1h1.6v1.6h-1.6zM392.4 286.2h1.6v1.6h-1.6zM403.9 292.6h1.6v1.6h-1.6zM403.8 299.2h1.6v1.6h-1.6zM387.4 301.0h1.6v1.6h-1.6zM385.0 293.9h1.6v1.6h-1.6zM385.0 296.1h1.6v1.6h-1.6zM387.9 289.4h1.6v1.6h-1.6zM393.7 286.2h1.6v1.6h-1.6zM399.3 291.2h1.6v1.6h-1.6zM401.6 296.6h1.6v1.6h-1.6zM387.2 298.2h1.6v1.6h-1.6zM386.0 297.0h1.6v1.6h-1.6zM385.6 291.5h1.6v1.6h-1.6zM402.0 297.2h1.6v1.6h-1.6zM384.6 293.2h1.6v1.6h-1.6zM393.7 285.9h1.6v1.6h-1.6zM402.9 293.6h1.6v1.6h-1.6zM403.7 292.0h1.6v1.6h-1.6zM385.2 295.5h1.6v1.6h-1.6zM401.2 288.8h1.6v1.6h-1.6zM392.6 300.9h1.6v1.6h-1.6zM395.4 303.2h1.6v1.6h-1.6zM388.6 302.0h1.6v1.6h-1.6zM393.6 300.7h1.6v1.6h-1.6zM392.8 304.5h1.6v1.6h-1.6zM396.7 301.0h1.6v1.6h-1.6zM397.4 287.7h1.6v1.6h-1.6zM402.4 301.8h1.6v1.6h-1.6zM397.8 301.3h1.6v1.6h-1.6zM395.9 310.2h1.6v1.6h-1.6zM404.1 314.1h1.6v1.6h-1.6zM388.3 303.2h1.6v1.6h-1.6zM397.1 301.6h1.6v1.6h-1.6zM388.8 302.1h1.6v1.6h-1.6zM388.6 303.0h1.6v1.6h-1.6zM393.9 300.2h1.6v1.6h-1.6zM395.4 309.7h1.6v1.6h-1.6zM395.3 302.1h1.6v1.6h-1.6zM403.1 298.6h1.6v1.6h-1.6zM390.7 286.7h1.6v1.6h-1.6zM389.2 303.3h1.6v1.6h-1.6zM393.9 307.4h1.6v1.6h-1.6zM393.0 300.6h1.6v1.6h-1.6zM395.6 299.8h1.6v1.6h-1.6zM393.5 307.0h1.6v1.6h-1.6zM395.2 300.8h1.6v1.6h-1.6zM383.9 294.5h1.6v1.6h-1.6zM384.7 296.0h1.6v1.6h-1.6zM401.1 298.5h1.6v1.6h-1.6zM390.2 302.9h1.6v1.6h-1.6zM398.8 342.5h1.6v1.6h-1.6zM394.7 342.5h1.6v1.6h-1.6zM405.3 336.6h1.6v1.6h-1.6zM402.5 346.8h1.6v1.6h-1.6zM390.9 324.6h1.6v1.6h-1.6zM394.0 328.4h1.6v1.6h-1.6zM396.3 338.5h1.6v1.6h-1.6zM402.1 347.7h1.6v1.6h-1.6zM396.6 342.1h1.6v1.6h-1.6zM399.2 345.5h1.6v1.6h-1.6zM400.0 346.6h1.6v1.6h-1.6zM401.7 347.8h1.6v1.6h-1.6zM404.1 332.4h1.6v1.6h-1.6zM394.7 340.1h1.6v1.6h-1.6zM396.1 326.2h1.6v1.6h-1.6zM397.7 341.6h1.6v1.6h-1.6zM397.2 324.3h1.6v1.6h-1.6zM395.1 334.5h1.6v1.6h-1.6zM396.3 320.0h1.6v1.6h-1.6zM401.1 326.9h1.6v1.6h-1.6zM396.8 343.2h1.6v1.6h-1.6zM404.1 329.4h1.6v1.6h-1.6zM395.2 339.4h1.6v1.6h-1.6zM399.1 348.2h1.6v1.6h-1.6zM391.2 323.8h1.6v1.6h-1.6zM404.3 333.4h1.6v1.6h-1.6zM399.4 349.9h1.6v1.6h-1.6zM404.7 341.4h1.6v1.6h-1.6zM394.9 341.1h1.6v1.6h-1.6zM391.3 323.5h1.6v1.6h-1.6zM401.9 352.7h1.6v1.6h-1.6zM403.4 339.5h1.6v1.6h-1.6zM402.3 344.9h1.6v1.6h-1.6zM399.5 324.6h1.6v1.6h-1.6zM396.5 341.4h1.6v1.6h-1.6zM394.3 342.7h1.6v1.6h-1.6zM398.8 307.0h1.6v1.6h-1.6zM398.9 348.4h1.6v1.6h-1.6zM396.1 343.1h1.6v1.6h-1.6zM400.2 344.5h1.6v1.6h-1.6zM399.6 347.0h1.6v1.6h-1.6zM399.2 324.7h1.6v1.6h-1.6zM405.6 335.9h1.6v1.6h-1.6zM393.6 333.4h1.6v1.6h-1.6zM393.9 328.3h1.6v1.6h-1.6zM398.0 345.3h1.6v1.6h-1.6zM404.1 327.5h1.6v1.6h-1.6zM405.5 336.2h1.6v1.6h-1.6zM398.7 327.0h1.6v1.6h-1.6zM402.2 319.1h1.6v1.6h-1.6zM400.7 343.7h1.6v1.6h-1.6zM397.4 351.3h1.6v1.6h-1.6zM395.9 340.4h1.6v1.6h-1.6zM395.9 323.2h1.6v1.6h-1.6zM394.2 341.7h1.6v1.6h-1.6zM399.2 325.6h1.6v1.6h-1.6zM398.9 311.9h1.6v1.6h-1.6zM403.6 339.2h1.6v1.6h-1.6zM399.7 346.0h1.6v1.6h-1.6zM397.0 340.5h1.6v1.6h-1.6zM403.6 326.7h1.6v1.6h-1.6zM404.3 327.6h1.6v1.6h-1.6zM396.4 339.5h1.6v1.6h-1.6zM396.8 315.2h1.6v1.6h-1.6zM394.8 326.4h1.6v1.6h-1.6zM397.4 324.6h1.6v1.6h-1.6zM400.3 324.4h1.6v1.6h-1.6zM402.1 320.2h1.6v1.6h-1.6zM396.9 343.9h1.6v1.6h-1.6zM394.8 341.4h1.6v1.6h-1.6zM395.7 339.0h1.6v1.6h-1.6zM404.7 340.9h1.6v1.6h-1.6zM404.4 340.4h1.6v1.6h-1.6zM398.4 326.8h1.6v1.6h-1.6zM399.3 343.1h1.6v1.6h-1.6zM401.2 327.0h1.6v1.6h-1.6zM394.8 340.3h1.6v1.6h-1.6zM403.2 344.5h1.6v1.6h-1.6zM402.2 347.0h1.6v1.6h-1.6zM390.8 314.2h1.6v1.6h-1.6zM391.3 324.8h1.6v1.6h-1.6zM389.7 312.7h1.6v1.6h-1.6zM397.5 304.1h1.6v1.6h-1.6zM401.4 313.6h1.6v1.6h-1.6zM389.9 324.1h1.6v1.6h-1.6zM402.3 302.4h1.6v1.6h-1.6zM404.4 327.2h1.6v1.6h-1.6zM394.6 307.7h1.6v1.6h-1.6zM393.7 311.6h1.6v1.6h-1.6zM390.1 312.7h1.6v1.6h-1.6zM395.5 299.4h1.6v1.6h-1.6zM392.0 310.2h1.6v1.6h-1.6zM402.6 313.1h1.6v1.6h-1.6zM403.8 327.2h1.6v1.6h-1.6zM395.1 310.1h1.6v1.6h-1.6zM395.7 308.8h1.6v1.6h-1.6zM394.1 311.5h1.6v1.6h-1.6zM398.9 312.0h1.6v1.6h-1.6zM394.3 328.2h1.6v1.6h-1.6zM395.5 322.9h1.6v1.6h-1.6zM403.0 312.8h1.6v1.6h-1.6zM400.1 323.7h1.6v1.6h-1.6zM399.1 306.8h1.6v1.6h-1.6zM400.0 307.9h1.6v1.6h-1.6zM401.7 322.2h1.6v1.6h-1.6zM397.4 324.8h1.6v1.6h-1.6zM395.6 325.9h1.6v1.6h-1.6zM399.9 308.9h1.6v1.6h-1.6zM396.1 320.6h1.6v1.6h-1.6zM391.1 323.9h1.6v1.6h-1.6zM397.7 309.4h1.6v1.6h-1.6zM396.4 301.7h1.6v1.6h-1.6zM397.7 316.9h1.6v1.6h-1.6zM401.4 303.6h1.6v1.6h-1.6zM388.3 301.9h1.6v1.6h-1.6zM393.5 305.5h1.6v1.6h-1.6zM399.8 324.5h1.6v1.6h-1.6zM390.8 313.9h1.6v1.6h-1.6zM403.4 314.6h1.6v1.6h-1.6zM396.2 336.6h1.6v1.6h-1.6zM390.8 324.8h1.6v1.6h-1.6zM393.7 304.2h1.6v1.6h-1.6zM390.0 312.6h1.6v1.6h-1.6zM386.6 296.0h1.6v1.6h-1.6zM391.3 323.8h1.6v1.6h-1.6zM393.7 311.3h1.6v1.6h-1.6zM384.5 295.1h1.6v1.6h-1.6zM391.5 314.9h1.6v1.6h-1.6zM397.1 323.8h1.6v1.6h-1.6zM397.5 305.9h1.6v1.6h-1.6zM395.7 312.0h1.6v1.6h-1.6zM401.1 319.0h1.6v1.6h-1.6zM397.8 303.5h1.6v1.6h-1.6zM399.8 306.7h1.6v1.6h-1.6zM397.5 303.2h1.6v1.6h-1.6zM396.4 309.4h1.6v1.6h-1.6zM397.8 303.3h1.6v1.6h-1.6zM401.5 313.1h1.6v1.6h-1.6zM390.5 304.4h1.6v1.6h-1.6zM392.1 310.7h1.6v1.6h-1.6zM402.1 302.9h1.6v1.6h-1.6zM397.0 325.8h1.6v1.6h-1.6zM392.9 300.9h1.6v1.6h-1.6zM393.0 307.5h1.6v1.6h-1.6zM397.5 311.0h1.6v1.6h-1.6zM397.1 324.4h1.6v1.6h-1.6zM398.9 300.8h1.6v1.6h-1.6zM397.2 310.1h1.6v1.6h-1.6zM393.3 307.8h1.6v1.6h-1.6zM396.0 309.7h1.6v1.6h-1.6zM390.9 324.1h1.6v1.6h-1.6zM404.0 326.9h1.6v1.6h-1.6zM398.1 303.0h1.6v1.6h-1.6zM397.4 311.3h1.6v1.6h-1.6zM400.8 323.5h1.6v1.6h-1.6zM397.4 307.8h1.6v1.6h-1.6zM401.5 353.1h1.6v1.6h-1.6zM401.3 353.1h1.6v1.6h-1.6zM402.8 349.6h1.6v1.6h-1.6zM402.2 346.3h1.6v1.6h-1.6zM396.4 352.6h1.6v1.6h-1.6zM403.6 349.3h1.6v1.6h-1.6zM401.9 346.5h1.6v1.6h-1.6zM403.2 350.4h1.6v1.6h-1.6zM403.2 348.4h1.6v1.6h-1.6zM398.0 349.9h1.6v1.6h-1.6zM401.7 346.2h1.6v1.6h-1.6zM403.3 350.5h1.6v1.6h-1.6zM399.8 350.5h1.6v1.6h-1.6zM402.4 347.2h1.6v1.6h-1.6zM401.9 352.4h1.6v1.6h-1.6zM400.8 347.8h1.6v1.6h-1.6zM396.2 338.9h1.6v1.6h-1.6zM402.1 352.4h1.6v1.6h-1.6zM399.2 353.4h1.6v1.6h-1.6zM403.6 343.7h1.6v1.6h-1.6zM402.8 348.8h1.6v1.6h-1.6zM393.0 316.0h1.6v1.6h-1.6zM395.1 300.3h1.6v1.6h-1.6zM399.6 327.1h1.6v1.6h-1.6zM394.6 340.7h1.6v1.6h-1.6zM397.9 304.8h1.6v1.6h-1.6zM404.1 341.0h1.6v1.6h-1.6zM396.9 342.7h1.6v1.6h-1.6zM399.6 347.1h1.6v1.6h-1.6zM403.7 292.2h1.6v1.6h-1.6zM404.5 334.2h1.6v1.6h-1.6zM403.2 348.4h1.6v1.6h-1.6zM402.9 300.5h1.6v1.6h-1.6zM400.0 348.6h1.6v1.6h-1.6zM404.0 327.6h1.6v1.6h-1.6zM400.0 312.7h1.6v1.6h-1.6zM395.2 308.8h1.6v1.6h-1.6zM398.5 347.9h1.6v1.6h-1.6zM397.8 300.3h1.6v1.6h-1.6zM402.3 327.7h1.6v1.6h-1.6zM404.3 313.3h1.6v1.6h-1.6zM389.0 287.8h1.6v1.6h-1.6zM400.0 347.8h1.6v1.6h-1.6zM404.1 313.8h1.6v1.6h-1.6zM389.6 303.4h1.6v1.6h-1.6zM397.7 308.8h1.6v1.6h-1.6z" fill="#18db9d"/>
<path d="M401.0 297.0h1.6v1.6h-1.6zM400.4 298.3h1.6v1.6h-1.6zM385.5 292.3h1.6v1.6h-1.6zM402.0 291.7h1.6v1.6h-1.6zM395.6 304.3h1.6v1.6h-1.6zM385.8 292.4h1.6v1.6h-1.6zM395.1 298.9h1.6v1.6h-1.6zM395.1 304.6h1.6v1.6h-1.6zM400.5 297.7h1.6v1.6h-1.6zM385.8 291.3h1.6v1.6h-1.6zM396.2 301.9h1.6v1.6h-1.6zM402.0 295.2h1.6v1.6h-1.6zM402.7 292.9h1.6v1.6h-1.6zM389.8 299.2h1.6v1.6h-1.6zM387.2 297.5h1.6v1.6h-1.6zM401.4 300.4h1.6v1.6h-1.6zM395.1 307.8h1.6v1.6h-1.6zM400.1 299.6h1.6v1.6h-1.6zM398.5 289.4h1.6v1.6h-1.6zM398.6 300.2h1.6v1.6h-1.6zM396.8 288.2h1.6v1.6h-1.6zM399.9 302.3h1.6v1.6h-1.6zM398.8 300.1h1.6v1.6h-1.6zM402.2 291.8h1.6v1.6h-1.6zM387.9 298.1h1.6v1.6h-1.6zM401.2 302.9h1.6v1.6h-1.6zM398.5 289.6h1.6v1.6h-1.6zM401.4 292.0h1.6v1.6h-1.6zM387.3 290.7h1.6v1.6h-1.6zM402.3 301.0h1.6v1.6h-1.6zM402.0 300.0h1.6v1.6h-1.6zM387.2 290.4h1.6v1.6h-1.6zM400.9 300.3h1.6v1.6h-1.6zM386.6 297.1h1.6v1.6h-1.6zM399.8 302.4h1.6v1.6h-1.6zM392.9 299.3h1.6v1.6h-1.6zM389.1 298.6h1.6v1.6h-1.6zM395.6 303.3h1.6v1.6h-1.6zM400.5 302.4h1.6v1.6h-1.6zM385.8 292.6h1.6v1.6h-1.6zM388.5 288.9h1.6v1.6h-1.6zM398.7 289.0h1.6v1.6h-1.6zM396.0 302.0h1.6v1.6h-1.6zM390.1 299.5h1.6v1.6h-1.6zM387.5 297.7h1.6v1.6h-1.6zM388.0 296.0h1.6v1.6h-1.6zM397.5 299.5h1.6v1.6h-1.6zM386.8 296.6h1.6v1.6h-1.6zM400.9 296.6h1.6v1.6h-1.6zM399.4 308.5h1.6v1.6h-1.6zM400.3 298.5h1.6v1.6h-1.6zM394.6 304.2h1.6v1.6h-1.6zM396.4 304.6h1.6v1.6h-1.6zM398.6 299.8h1.6v1.6h-1.6zM392.6 311.6h1.6v1.6h-1.6zM390.8 299.7h1.6v1.6h-1.6zM398.3 289.8h1.6v1.6h-1.6zM394.9 305.1h1.6v1.6h-1.6zM391.1 286.9h1.6v1.6h-1.6zM386.5 294.0h1.6v1.6h-1.6zM398.1 314.9h1.6v1.6h-1.6zM395.9 306.4h1.6v1.6h-1.6zM395.8 302.5h1.6v1.6h-1.6zM398.0 340.9h1.6v1.6h-1.6zM404.6 335.5h1.6v1.6h-1.6zM396.9 328.3h1.6v1.6h-1.6zM401.3 344.1h1.6v1.6h-1.6zM397.2 340.4h1.6v1.6h-1.6zM403.9 337.6h1.6v1.6h-1.6zM403.9 334.1h1.6v1.6h-1.6zM403.7 330.2h1.6v1.6h-1.6zM397.8 340.8h1.6v1.6h-1.6zM399.0 344.3h1.6v1.6h-1.6zM401.8 339.4h1.6v1.6h-1.6zM398.6 323.5h1.6v1.6h-1.6zM403.1 340.4h1.6v1.6h-1.6zM404.4 331.2h1.6v1.6h-1.6zM403.4 332.6h1.6v1.6h-1.6zM396.7 327.2h1.6v1.6h-1.6zM393.8 330.1h1.6v1.6h-1.6zM404.0 330.3h1.6v1.6h-1.6zM401.3 321.1h1.6v1.6h-1.6zM403.7 332.5h1.6v1.6h-1.6zM403.4 342.9h1.6v1.6h-1.6zM398.5 353.5h1.6v1.6h-1.6zM398.3 340.2h1.6v1.6h-1.6zM397.8 324.3h1.6v1.6h-1.6zM399.8 341.2h1.6v1.6h-1.6zM396.4 338.0h1.6v1.6h-1.6zM403.7 333.5h1.6v1.6h-1.6zM400.1 351.5h1.6v1.6h-1.6zM396.2 327.4h1.6v1.6h-1.6zM397.0 326.8h1.6v1.6h-1.6zM399.1 327.3h1.6v1.6h-1.6zM400.1 341.7h1.6v1.6h-1.6zM403.2 342.1h1.6v1.6h-1.6zM397.9 340.6h1.6v1.6h-1.6zM401.7 321.2h1.6v1.6h-1.6zM395.0 327.2h1.6v1.6h-1.6zM401.5 328.1h1.6v1.6h-1.6zM395.4 329.4h1.6v1.6h-1.6zM394.5 326.9h1.6v1.6h-1.6zM398.5 339.8h1.6v1.6h-1.6zM395.1 328.3h1.6v1.6h-1.6zM396.4 337.5h1.6v1.6h-1.6zM396.8 329.5h1.6v1.6h-1.6zM398.5 343.3h1.6v1.6h-1.6zM395.7 329.9h1.6v1.6h-1.6zM398.2 321.7h1.6v1.6h-1.6zM398.6 327.6h1.6v1.6h-1.6zM397.3 343.9h1.6v1.6h-1.6zM400.5 351.9h1.6v1.6h-1.6zM398.6 343.0h1.6v1.6h-1.6zM394.2 315.0h1.6v1.6h-1.6zM392.6 314.3h1.6v1.6h-1.6zM397.7 338.7h1.6v1.6h-1.6zM397.5 327.6h1.6v1.6h-1.6zM401.3 314.5h1.6v1.6h-1.6zM397.0 328.5h1.6v1.6h-1.6zM398.3 351.1h1.6v1.6h-1.6zM405.1 336.3h1.6v1.6h-1.6zM404.7 336.2h1.6v1.6h-1.6zM395.9 329.5h1.6v1.6h-1.6zM401.3 319.9h1.6v1.6h-1.6zM401.5 320.7h1.6v1.6h-1.6zM404.5 330.7h1.6v1.6h-1.6zM395.4 327.5h1.6v1.6h-1.6zM399.3 344.3h1.6v1.6h-1.6zM398.3 343.8h1.6v1.6h-1.6zM398.3 344.7h1.6v1.6h-1.6zM397.7 343.8h1.6v1.6h-1.6zM399.0 313.3h1.6v1.6h-1.6zM399.3 323.7h1.6v1.6h-1.6zM398.9 344.3h1.6v1.6h-1.6zM394.7 329.9h1.6v1.6h-1.6zM396.2 322.3h1.6v1.6h-1.6zM396.8 326.8h1.6v1.6h-1.6zM404.0 330.0h1.6v1.6h-1.6zM396.3 330.1h1.6v1.6h-1.6zM397.5 328.7h1.6v1.6h-1.6zM400.5 352.5h1.6v1.6h-1.6zM398.1 342.7h1.6v1.6h-1.6zM397.1 322.1h1.6v1.6h-1.6zM396.6 337.2h1.6v1.6h-1.6zM402.7 340.2h1.6v1.6h-1.6zM401.4 352.8h1.6v1.6h-1.6zM397.8 321.0h1.6v1.6h-1.6zM400.0 319.3h1.6v1.6h-1.6zM394.4 326.8h1.6v1.6h-1.6zM394.3 304.1h1.6v1.6h-1.6zM398.1 320.2h1.6v1.6h-1.6zM397.8 314.9h1.6v1.6h-1.6zM396.3 321.8h1.6v1.6h-1.6zM401.8 328.4h1.6v1.6h-1.6zM398.4 317.0h1.6v1.6h-1.6zM399.1 322.0h1.6v1.6h-1.6zM400.0 316.2h1.6v1.6h-1.6zM396.7 304.4h1.6v1.6h-1.6zM391.0 311.7h1.6v1.6h-1.6zM393.1 313.7h1.6v1.6h-1.6zM400.6 322.0h1.6v1.6h-1.6zM402.6 314.1h1.6v1.6h-1.6zM393.7 304.5h1.6v1.6h-1.6zM398.7 319.5h1.6v1.6h-1.6zM397.4 312.1h1.6v1.6h-1.6zM399.4 321.5h1.6v1.6h-1.6zM397.9 320.6h1.6v1.6h-1.6zM391.2 313.8h1.6v1.6h-1.6zM397.1 304.9h1.6v1.6h-1.6zM396.3 307.3h1.6v1.6h-1.6zM398.1 323.0h1.6v1.6h-1.6zM398.4 307.7h1.6v1.6h-1.6zM399.3 308.2h1.6v1.6h-1.6zM395.2 312.8h1.6v1.6h-1.6zM395.4 315.1h1.6v1.6h-1.6zM393.0 314.5h1.6v1.6h-1.6zM398.8 319.3h1.6v1.6h-1.6zM400.2 318.1h1.6v1.6h-1.6zM403.4 313.7h1.6v1.6h-1.6zM399.7 323.5h1.6v1.6h-1.6zM394.1 305.4h1.6v1.6h-1.6zM402.1 301.5h1.6v1.6h-1.6zM397.8 322.4h1.6v1.6h-1.6zM399.2 314.5h1.6v1.6h-1.6zM395.7 306.8h1.6v1.6h-1.6zM398.9 315.1h1.6v1.6h-1.6zM393.6 304.8h1.6v1.6h-1.6zM393.5 314.8h1.6v1.6h-1.6zM403.6 313.6h1.6v1.6h-1.6zM389.2 298.5h1.6v1.6h-1.6zM394.8 312.6h1.6v1.6h-1.6zM396.2 312.4h1.6v1.6h-1.6zM395.8 321.6h1.6v1.6h-1.6zM390.5 313.3h1.6v1.6h-1.6zM395.7 314.7h1.6v1.6h-1.6zM393.8 313.5h1.6v1.6h-1.6zM402.0 320.3h1.6v1.6h-1.6zM390.9 311.8h1.6v1.6h-1.6zM400.3 300.1h1.6v1.6h-1.6zM398.2 308.8h1.6v1.6h-1.6zM393.0 313.1h1.6v1.6h-1.6zM399.9 316.5h1.6v1.6h-1.6zM392.3 311.7h1.6v1.6h-1.6zM399.7 308.2h1.6v1.6h-1.6zM394.7 307.0h1.6v1.6h-1.6zM397.1 321.5h1.6v1.6h-1.6zM396.0 306.6h1.6v1.6h-1.6zM404.1 330.0h1.6v1.6h-1.6zM398.5 312.5h1.6v1.6h-1.6zM397.2 327.0h1.6v1.6h-1.6zM401.2 315.2h1.6v1.6h-1.6zM400.2 319.3h1.6v1.6h-1.6zM399.8 313.7h1.6v1.6h-1.6zM392.8 314.6h1.6v1.6h-1.6zM403.0 314.3h1.6v1.6h-1.6zM400.2 320.8h1.6v1.6h-1.6zM395.7 307.5h1.6v1.6h-1.6zM399.9 313.4h1.6v1.6h-1.6zM393.2 311.8h1.6v1.6h-1.6zM394.3 315.3h1.6v1.6h-1.6zM400.8 315.5h1.6v1.6h-1.6zM395.8 322.0h1.6v1.6h-1.6zM394.1 327.2h1.6v1.6h-1.6zM398.5 312.3h1.6v1.6h-1.6zM398.0 314.3h1.6v1.6h-1.6zM396.3 306.7h1.6v1.6h-1.6zM394.2 315.1h1.6v1.6h-1.6zM395.4 307.3h1.6v1.6h-1.6zM402.0 314.7h1.6v1.6h-1.6zM398.7 317.2h1.6v1.6h-1.6zM396.4 321.8h1.6v1.6h-1.6zM391.3 312.0h1.6v1.6h-1.6zM398.2 308.8h1.6v1.6h-1.6zM397.3 312.3h1.6v1.6h-1.6zM399.7 316.5h1.6v1.6h-1.6zM395.6 327.1h1.6v1.6h-1.6zM395.0 305.5h1.6v1.6h-1.6zM400.4 351.6h1.6v1.6h-1.6zM400.2 351.4h1.6v1.6h-1.6zM398.5 350.7h1.6v1.6h-1.6zM399.4 344.8h1.6v1.6h-1.6zM398.9 353.4h1.6v1.6h-1.6zM397.5 353.4h1.6v1.6h-1.6zM397.4 353.4h1.6v1.6h-1.6zM398.3 353.4h1.6v1.6h-1.6zM399.5 352.6h1.6v1.6h-1.6zM397.5 351.6h1.6v1.6h-1.6zM397.4 353.1h1.6v1.6h-1.6zM400.9 351.5h1.6v1.6h-1.6zM402.7 291.7h1.6v1.6h-1.6zM400.6 314.9h1.6v1.6h-1.6zM400.5 322.2h1.6v1.6h-1.6zM402.7 314.0h1.6v1.6h-1.6zM402.0 301.0h1.6v1.6h-1.6zM399.0 312.8h1.6v1.6h-1.6zM391.3 313.8h1.6v1.6h-1.6zM396.1 304.8h1.6v1.6h-1.6zM396.7 306.2h1.6v1.6h-1.6zM397.0 305.7h1.6v1.6h-1.6zM403.7 331.1h1.6v1.6h-1.6zM397.7 308.5h1.6v1.6h-1.6zM398.8 324.4h1.6v1.6h-1.6zM402.1 328.0h1.6v1.6h-1.6zM403.2 339.9h1.6v1.6h-1.6zM400.5 316.3h1.6v1.6h-1.6zM395.9 322.5h1.6v1.6h-1.6zM399.6 308.9h1.6v1.6h-1.6zM402.3 328.7h1.6v1.6h-1.6zM392.5 299.7h1.6v1.6h-1.6zM399.7 322.7h1.6v1.6h-1.6zM399.8 308.8h1.6v1.6h-1.6zM393.1 313.1h1.6v1.6h-1.6zM404.6 330.4h1.6v1.6h-1.6z" fill="#1de072"/>
<path d="M390.0 298.8h1.6v1.6h-1.6zM397.9 288.8h1.6v1.6h-1.6zM391.1 299.1h1.6v1.6h-1.6zM400.7 301.3h1.6v1.6h-1.6zM400.8 301.6h1.6v1.6h-1.6zM401.8 293.4h1.6v1.6h-1.6zM399.4 298.5h1.6v1.6h-1.6zM389.5 288.5h1.6v1.6h-1.6zM397.3 289.0h1.6v1.6h-1.6zM390.4 288.2h1.6v1.6h-1.6zM388.7 297.0h1.6v1.6h-1.6zM388.5 296.2h1.6v1.6h-1.6zM395.8 288.0h1.6v1.6h-1.6zM401.8 293.9h1.6v1.6h-1.6zM400.7 301.7h1.6v1.6h-1.6zM401.3 292.3h1.6v1.6h-1.6zM388.6 296.2h1.6v1.6h-1.6zM397.9 292.1h1.6v1.6h-1.6zM399.5 292.8h1.6v1.6h-1.6zM397.9 291.9h1.6v1.6h-1.6zM386.9 291.4h1.6v1.6h-1.6zM387.8 295.2h1.6v1.6h-1.6zM401.9 292.5h1.6v1.6h-1.6zM392.0 299.2h1.6v1.6h-1.6zM399.8 298.5h1.6v1.6h-1.6zM401.5 301.2h1.6v1.6h-1.6zM397.2 298.5h1.6v1.6h-1.6zM390.2 298.6h1.6v1.6h-1.6zM394.2 287.3h1.6v1.6h-1.6zM399.8 297.9h1.6v1.6h-1.6zM389.3 297.4h1.6v1.6h-1.6zM389.3 297.4h1.6v1.6h-1.6zM402.5 292.0h1.6v1.6h-1.6zM390.5 298.8h1.6v1.6h-1.6zM388.5 297.2h1.6v1.6h-1.6zM397.7 288.7h1.6v1.6h-1.6zM395.4 314.4h1.6v1.6h-1.6zM391.8 299.5h1.6v1.6h-1.6zM395.6 312.7h1.6v1.6h-1.6zM399.4 318.1h1.6v1.6h-1.6zM401.4 300.8h1.6v1.6h-1.6zM402.1 331.4h1.6v1.6h-1.6zM398.9 351.9h1.6v1.6h-1.6zM399.2 317.7h1.6v1.6h-1.6zM399.2 351.5h1.6v1.6h-1.6zM399.9 335.4h1.6v1.6h-1.6zM401.9 333.6h1.6v1.6h-1.6zM401.8 332.0h1.6v1.6h-1.6zM399.0 339.7h1.6v1.6h-1.6zM395.6 333.9h1.6v1.6h-1.6zM401.5 337.7h1.6v1.6h-1.6zM401.1 340.4h1.6v1.6h-1.6zM398.2 338.9h1.6v1.6h-1.6zM401.0 328.4h1.6v1.6h-1.6zM395.4 333.9h1.6v1.6h-1.6zM400.7 337.6h1.6v1.6h-1.6zM403.4 334.0h1.6v1.6h-1.6zM402.0 343.7h1.6v1.6h-1.6zM399.6 315.4h1.6v1.6h-1.6zM403.3 334.7h1.6v1.6h-1.6zM402.7 342.9h1.6v1.6h-1.6zM402.4 333.8h1.6v1.6h-1.6zM401.6 337.1h1.6v1.6h-1.6zM401.0 320.6h1.6v1.6h-1.6zM400.2 339.4h1.6v1.6h-1.6zM400.6 335.2h1.6v1.6h-1.6zM402.5 341.5h1.6v1.6h-1.6zM402.2 338.2h1.6v1.6h-1.6zM402.3 331.6h1.6v1.6h-1.6zM404.2 335.1h1.6v1.6h-1.6zM400.6 341.1h1.6v1.6h-1.6zM399.4 340.0h1.6v1.6h-1.6zM402.9 338.0h1.6v1.6h-1.6zM403.4 337.7h1.6v1.6h-1.6zM401.4 338.3h1.6v1.6h-1.6zM397.2 335.9h1.6v1.6h-1.6zM402.1 343.4h1.6v1.6h-1.6zM401.4 337.0h1.6v1.6h-1.6zM393.6 331.5h1.6v1.6h-1.6zM402.9 337.8h1.6v1.6h-1.6zM399.1 339.3h1.6v1.6h-1.6zM402.1 336.9h1.6v1.6h-1.6zM402.2 341.9h1.6v1.6h-1.6zM394.8 333.5h1.6v1.6h-1.6zM403.8 337.1h1.6v1.6h-1.6zM402.9 340.9h1.6v1.6h-1.6zM401.2 342.0h1.6v1.6h-1.6zM400.9 339.5h1.6v1.6h-1.6zM397.6 337.4h1.6v1.6h-1.6zM401.5 340.5h1.6v1.6h-1.6zM402.4 342.9h1.6v1.6h-1.6zM402.2 340.7h1.6v1.6h-1.6zM402.5 341.3h1.6v1.6h-1.6zM400.1 334.9h1.6v1.6h-1.6zM404.5 335.7h1.6v1.6h-1.6zM404.1 335.6h1.6v1.6h-1.6zM400.8 341.8h1.6v1.6h-1.6zM398.0 329.9h1.6v1.6h-1.6zM400.1 333.8h1.6v1.6h-1.6zM402.3 330.3h1.6v1.6h-1.6zM401.1 341.9h1.6v1.6h-1.6zM397.4 335.9h1.6v1.6h-1.6zM396.4 334.4h1.6v1.6h-1.6zM397.9 329.9h1.6v1.6h-1.6zM400.4 339.8h1.6v1.6h-1.6zM397.1 337.3h1.6v1.6h-1.6zM401.5 341.4h1.6v1.6h-1.6zM400.2 333.9h1.6v1.6h-1.6zM402.4 329.7h1.6v1.6h-1.6zM401.2 333.9h1.6v1.6h-1.6zM397.7 352.8h1.6v1.6h-1.6zM400.8 336.0h1.6v1.6h-1.6zM399.7 338.7h1.6v1.6h-1.6zM403.8 336.8h1.6v1.6h-1.6zM399.9 315.1h1.6v1.6h-1.6zM400.9 337.3h1.6v1.6h-1.6zM400.5 340.6h1.6v1.6h-1.6zM401.9 343.6h1.6v1.6h-1.6zM399.7 335.2h1.6v1.6h-1.6zM402.9 331.0h1.6v1.6h-1.6zM401.3 338.8h1.6v1.6h-1.6zM401.3 337.4h1.6v1.6h-1.6zM402.0 343.6h1.6v1.6h-1.6zM403.6 336.8h1.6v1.6h-1.6zM391.8 312.1h1.6v1.6h-1.6zM387.4 294.5h1.6v1.6h-1.6zM395.7 313.6h1.6v1.6h-1.6zM398.7 318.1h1.6v1.6h-1.6zM397.2 313.2h1.6v1.6h-1.6zM389.6 298.6h1.6v1.6h-1.6zM400.3 314.7h1.6v1.6h-1.6zM398.7 318.0h1.6v1.6h-1.6zM397.3 314.3h1.6v1.6h-1.6zM398.6 320.9h1.6v1.6h-1.6zM396.4 314.0h1.6v1.6h-1.6zM391.7 312.6h1.6v1.6h-1.6zM396.3 313.5h1.6v1.6h-1.6zM400.6 302.1h1.6v1.6h-1.6zM398.5 313.5h1.6v1.6h-1.6zM394.3 313.7h1.6v1.6h-1.6zM399.0 320.1h1.6v1.6h-1.6zM401.1 320.6h1.6v1.6h-1.6zM399.0 317.6h1.6v1.6h-1.6zM401.1 320.0h1.6v1.6h-1.6zM398.7 320.9h1.6v1.6h-1.6zM396.8 312.9h1.6v1.6h-1.6zM397.9 314.1h1.6v1.6h-1.6zM399.3 328.1h1.6v1.6h-1.6zM398.5 320.1h1.6v1.6h-1.6zM394.8 314.6h1.6v1.6h-1.6zM394.0 330.5h1.6v1.6h-1.6zM399.2 317.1h1.6v1.6h-1.6zM399.6 319.4h1.6v1.6h-1.6zM396.3 298.3h1.6v1.6h-1.6zM396.8 313.9h1.6v1.6h-1.6zM400.9 327.9h1.6v1.6h-1.6zM395.4 313.7h1.6v1.6h-1.6zM400.2 315.4h1.6v1.6h-1.6zM392.7 312.6h1.6v1.6h-1.6zM403.0 343.4h1.6v1.6h-1.6zM398.6 351.7h1.6v1.6h-1.6zM402.8 343.5h1.6v1.6h-1.6zM401.6 343.7h1.6v1.6h-1.6zM398.8 352.7h1.6v1.6h-1.6zM398.1 352.6h1.6v1.6h-1.6zM391.3 287.3h1.6v1.6h-1.6zM386.8 291.7h1.6v1.6h-1.6zM388.7 289.1h1.6v1.6h-1.6zM403.2 337.5h1.6v1.6h-1.6zM399.1 318.3h1.6v1.6h-1.6zM401.9 333.3h1.6v1.6h-1.6zM395.0 330.2h1.6v1.6h-1.6zM397.8 330.4h1.6v1.6h-1.6zM393.9 332.6h1.6v1.6h-1.6zM402.5 333.4h1.6v1.6h-1.6zM396.4 313.5h1.6v1.6h-1.6zM391.6 312.5h1.6v1.6h-1.6zM400.2 336.3h1.6v1.6h-1.6zM399.0 321.3h1.6v1.6h-1.6zM401.9 333.3h1.6v1.6h-1.6zM398.1 298.7h1.6v1.6h-1.6z" fill="#24e157"/>
<path d="M393.6 297.8h1.6v1.6h-1.6zM400.2 295.7h1.6v1.6h-1.6zM390.8 288.4h1.6v1.6h-1.6zM390.1 297.0h1.6v1.6h-1.6zM401.2 295.3h1.6v1.6h-1.6zM397.0 289.6h1.6v1.6h-1.6zM392.5 296.8h1.6v1.6h-1.6zM400.6 293.3h1.6v1.6h-1.6zM398.9 298.7h1.6v1.6h-1.6zM398.8 296.3h1.6v1.6h-1.6zM399.5 293.3h1.6v1.6h-1.6zM393.1 297.9h1.6v1.6h-1.6zM397.0 289.2h1.6v1.6h-1.6zM387.3 293.6h1.6v1.6h-1.6zM397.5 298.0h1.6v1.6h-1.6zM392.4 298.1h1.6v1.6h-1.6zM398.5 296.9h1.6v1.6h-1.6zM401.3 294.5h1.6v1.6h-1.6zM391.2 296.9h1.6v1.6h-1.6zM401.6 293.5h1.6v1.6h-1.6zM400.8 293.4h1.6v1.6h-1.6zM398.6 297.6h1.6v1.6h-1.6zM398.9 297.7h1.6v1.6h-1.6zM392.3 298.0h1.6v1.6h-1.6zM388.1 290.6h1.6v1.6h-1.6zM391.4 298.4h1.6v1.6h-1.6zM391.2 297.7h1.6v1.6h-1.6zM398.8 296.4h1.6v1.6h-1.6zM398.5 297.3h1.6v1.6h-1.6zM400.4 293.6h1.6v1.6h-1.6zM399.5 293.3h1.6v1.6h-1.6zM398.7 293.2h1.6v1.6h-1.6zM392.1 298.6h1.6v1.6h-1.6zM398.6 297.5h1.6v1.6h-1.6zM393.1 287.4h1.6v1.6h-1.6zM392.6 297.9h1.6v1.6h-1.6zM399.6 293.3h1.6v1.6h-1.6zM397.4 297.6h1.6v1.6h-1.6zM392.7 296.4h1.6v1.6h-1.6zM394.0 298.0h1.6v1.6h-1.6zM400.6 295.3h1.6v1.6h-1.6zM398.7 298.6h1.6v1.6h-1.6zM391.3 288.0h1.6v1.6h-1.6zM391.6 298.7h1.6v1.6h-1.6zM387.0 292.1h1.6v1.6h-1.6zM387.7 294.1h1.6v1.6h-1.6zM396.3 297.8h1.6v1.6h-1.6zM394.0 331.7h1.6v1.6h-1.6zM401.7 330.7h1.6v1.6h-1.6zM399.2 338.3h1.6v1.6h-1.6zM398.8 334.6h1.6v1.6h-1.6zM396.5 331.5h1.6v1.6h-1.6zM401.8 330.3h1.6v1.6h-1.6zM399.4 328.6h1.6v1.6h-1.6zM398.9 337.9h1.6v1.6h-1.6zM398.9 337.5h1.6v1.6h-1.6zM397.0 334.2h1.6v1.6h-1.6zM401.9 334.7h1.6v1.6h-1.6zM400.4 332.2h1.6v1.6h-1.6zM397.9 336.0h1.6v1.6h-1.6zM396.8 333.8h1.6v1.6h-1.6zM396.7 332.0h1.6v1.6h-1.6zM394.6 332.7h1.6v1.6h-1.6zM399.0 337.5h1.6v1.6h-1.6zM397.7 336.1h1.6v1.6h-1.6zM398.3 336.0h1.6v1.6h-1.6zM396.9 332.2h1.6v1.6h-1.6zM398.5 336.5h1.6v1.6h-1.6zM401.7 335.1h1.6v1.6h-1.6zM394.7 331.0h1.6v1.6h-1.6zM399.6 338.0h1.6v1.6h-1.6zM402.8 334.2h1.6v1.6h-1.6zM398.6 334.3h1.6v1.6h-1.6zM401.1 331.6h1.6v1.6h-1.6zM398.4 330.1h1.6v1.6h-1.6zM394.2 331.4h1.6v1.6h-1.6zM398.6 338.1h1.6v1.6h-1.6zM394.4 331.4h1.6v1.6h-1.6zM394.2 331.7h1.6v1.6h-1.6zM399.5 337.1h1.6v1.6h-1.6zM402.6 335.6h1.6v1.6h-1.6zM401.7 335.3h1.6v1.6h-1.6zM399.2 337.2h1.6v1.6h-1.6zM397.6 331.2h1.6v1.6h-1.6zM394.6 333.1h1.6v1.6h-1.6zM400.2 328.5h1.6v1.6h-1.6zM400.6 331.7h1.6v1.6h-1.6zM399.8 332.6h1.6v1.6h-1.6zM397.9 337.0h1.6v1.6h-1.6zM398.3 335.8h1.6v1.6h-1.6zM403.1 335.8h1.6v1.6h-1.6zM399.7 333.1h1.6v1.6h-1.6zM398.0 336.3h1.6v1.6h-1.6zM399.4 334.4h1.6v1.6h-1.6zM401.8 335.4h1.6v1.6h-1.6zM397.6 335.1h1.6v1.6h-1.6zM399.8 334.5h1.6v1.6h-1.6zM401.4 341.1h1.6v1.6h-1.6zM395.8 331.0h1.6v1.6h-1.6zM403.1 335.8h1.6v1.6h-1.6zM398.2 334.4h1.6v1.6h-1.6zM396.7 334.4h1.6v1.6h-1.6zM398.1 298.5h1.6v1.6h-1.6zM396.4 331.9h1.6v1.6h-1.6zM397.4 297.5h1.6v1.6h-1.6zM395.5 332.9h1.6v1.6h-1.6zM397.7 291.5h1.6v1.6h-1.6zM394.9 288.1h1.6v1.6h-1.6zM389.1 295.7h1.6v1.6h-1.6zM388.7 289.7h1.6v1.6h-1.6zM391.5 287.9h1.6v1.6h-1.6zM397.0 289.8h1.6v1.6h-1.6zM390.9 288.2h1.6v1.6h-1.6zM391.9 296.0h1.6v1.6h-1.6zM395.9 331.6h1.6v1.6h-1.6zM401.4 295.0h1.6v1.6h-1.6zM399.3 295.8h1.6v1.6h-1.6zM402.5 335.0h1.6v1.6h-1.6zM399.2 338.3h1.6v1.6h-1.6zM401.3 293.2h1.6v1.6h-1.6zM399.3 334.2h1.6v1.6h-1.6zM401.8 335.9h1.6v1.6h-1.6zM391.6 297.0h1.6v1.6h-1.6z" fill="#2be13e"/>
<path d="M398.3 294.9h1.6v1.6h-1.6zM391.9 295.1h1.6v1.6h-1.6zM398.5 293.7h1.6v1.6h-1.6zM397.6 296.2h1.6v1.6h-1.6zM400.5 295.0h1.6v1.6h-1.6zM390.4 296.8h1.6v1.6h-1.6zM388.4 294.6h1.6v1.6h-1.6zM391.0 296.9h1.6v1.6h-1.6zM387.8 292.7h1.6v1.6h-1.6zM400.4 294.9h1.6v1.6h-1.6zM388.1 294.0h1.6v1.6h-1.6zM390.6 296.1h1.6v1.6h-1.6zM395.6 288.9h1.6v1.6h-1.6zM395.2 297.8h1.6v1.6h-1.6zM389.1 295.2h1.6v1.6h-1.6zM394.8 297.8h1.6v1.6h-1.6zM399.8 295.2h1.6v1.6h-1.6zM397.0 290.9h1.6v1.6h-1.6zM397.9 295.6h1.6v1.6h-1.6zM399.5 295.0h1.6v1.6h-1.6zM390.3 296.3h1.6v1.6h-1.6zM392.1 288.0h1.6v1.6h-1.6zM397.0 291.6h1.6v1.6h-1.6zM393.3 287.5h1.6v1.6h-1.6zM392.6 295.2h1.6v1.6h-1.6zM398.0 296.4h1.6v1.6h-1.6zM388.2 291.2h1.6v1.6h-1.6zM398.4 296.5h1.6v1.6h-1.6zM388.7 295.0h1.6v1.6h-1.6zM397.9 293.6h1.6v1.6h-1.6zM398.2 294.6h1.6v1.6h-1.6zM390.9 296.8h1.6v1.6h-1.6zM397.9 294.0h1.6v1.6h-1.6zM400.9 294.6h1.6v1.6h-1.6zM398.9 294.6h1.6v1.6h-1.6zM399.9 294.0h1.6v1.6h-1.6zM393.9 296.7h1.6v1.6h-1.6zM394.4 297.8h1.6v1.6h-1.6zM396.5 296.9h1.6v1.6h-1.6zM394.9 298.1h1.6v1.6h-1.6zM392.7 288.0h1.6v1.6h-1.6zM398.2 332.4h1.6v1.6h-1.6zM395.2 288.7h1.6v1.6h-1.6zM397.2 333.4h1.6v1.6h-1.6zM397.0 333.8h1.6v1.6h-1.6zM401.5 330.8h1.6v1.6h-1.6zM397.3 333.8h1.6v1.6h-1.6zM394.6 331.5h1.6v1.6h-1.6zM398.5 331.4h1.6v1.6h-1.6zM399.4 329.6h1.6v1.6h-1.6zM395.8 332.8h1.6v1.6h-1.6zM396.2 332.5h1.6v1.6h-1.6zM399.0 331.4h1.6v1.6h-1.6zM400.7 329.6h1.6v1.6h-1.6zM394.7 331.2h1.6v1.6h-1.6zM395.4 332.6h1.6v1.6h-1.6zM399.9 331.8h1.6v1.6h-1.6zM400.7 329.7h1.6v1.6h-1.6zM398.3 331.0h1.6v1.6h-1.6zM401.3 330.3h1.6v1.6h-1.6zM399.0 330.2h1.6v1.6h-1.6zM397.6 332.6h1.6v1.6h-1.6zM400.3 331.7h1.6v1.6h-1.6zM398.9 332.1h1.6v1.6h-1.6zM399.7 329.0h1.6v1.6h-1.6zM401.4 330.0h1.6v1.6h-1.6zM401.1 330.9h1.6v1.6h-1.6zM398.8 330.6h1.6v1.6h-1.6zM399.2 332.0h1.6v1.6h-1.6zM397.6 333.2h1.6v1.6h-1.6zM399.1 331.2h1.6v1.6h-1.6zM398.9 332.7h1.6v1.6h-1.6zM399.1 329.6h1.6v1.6h-1.6zM398.3 332.6h1.6v1.6h-1.6zM400.5 329.1h1.6v1.6h-1.6zM398.3 333.4h1.6v1.6h-1.6zM397.9 333.9h1.6v1.6h-1.6zM399.6 329.4h1.6v1.6h-1.6zM395.0 331.2h1.6v1.6h-1.6zM397.3 292.2h1.6v1.6h-1.6zM395.6 297.7h1.6v1.6h-1.6zM390.7 296.9h1.6v1.6h-1.6zM399.5 332.5h1.6v1.6h-1.6zM398.7 294.5h1.6v1.6h-1.6zM394.8 288.4h1.6v1.6h-1.6zM393.4 287.7h1.6v1.6h-1.6zM388.4 291.0h1.6v1.6h-1.6zM397.9 293.2h1.6v1.6h-1.6zM393.6 296.2h1.6v1.6h-1.6zM397.0 290.6h1.6v1.6h-1.6zM393.9 287.6h1.6v1.6h-1.6zM387.8 291.7h1.6v1.6h-1.6zM389.8 289.3h1.6v1.6h-1.6zM387.7 291.8h1.6v1.6h-1.6zM396.8 333.2h1.6v1.6h-1.6zM399.6 295.2h1.6v1.6h-1.6zM394.8 332.1h1.6v1.6h-1.6zM400.5 295.1h1.6v1.6h-1.6zM400.0 329.0h1.6v1.6h-1.6z" fill="#36e127"/>
<path d="M396.4 290.8h1.6v1.6h-1.6zM388.8 290.9h1.6v1.6h-1.6zM391.3 295.0h1.6v1.6h-1.6zM390.7 295.5h1.6v1.6h-1.6zM397.0 292.8h1.6v1.6h-1.6zM397.1 294.0h1.6v1.6h-1.6zM393.0 288.1h1.6v1.6h-1.6zM393.6 288.1h1.6v1.6h-1.6zM396.7 293.7h1.6v1.6h-1.6zM391.2 295.2h1.6v1.6h-1.6zM389.0 294.5h1.6v1.6h-1.6zM389.6 289.6h1.6v1.6h-1.6zM394.1 295.8h1.6v1.6h-1.6zM397.4 295.3h1.6v1.6h-1.6zM394.6 297.2h1.6v1.6h-1.6zM397.0 293.3h1.6v1.6h-1.6zM390.5 295.1h1.6v1.6h-1.6zM397.0 294.1h1.6v1.6h-1.6zM397.2 295.5h1.6v1.6h-1.6zM390.2 295.5h1.6v1.6h-1.6zM388.2 292.9h1.6v1.6h-1.6zM394.7 297.2h1.6v1.6h-1.6zM397.3 294.8h1.6v1.6h-1.6zM396.0 289.4h1.6v1.6h-1.6zM388.3 293.6h1.6v1.6h-1.6zM390.7 295.0h1.6v1.6h-1.6zM396.1 296.3h1.6v1.6h-1.6zM388.0 293.0h1.6v1.6h-1.6zM394.2 297.0h1.6v1.6h-1.6zM395.2 297.5h1.6v1.6h-1.6zM399.8 330.2h1.6v1.6h-1.6zM399.6 330.3h1.6v1.6h-1.6zM400.7 330.0h1.6v1.6h-1.6zM400.0 330.9h1.6v1.6h-1.6zM399.6 330.8h1.6v1.6h-1.6zM400.5 329.9h1.6v1.6h-1.6zM390.1 289.5h1.6v1.6h-1.6zM390.8 289.3h1.6v1.6h-1.6zM388.3 292.2h1.6v1.6h-1.6zM395.8 289.6h1.6v1.6h-1.6zM389.6 289.9h1.6v1.6h-1.6zM396.5 295.8h1.6v1.6h-1.6zM388.2 293.7h1.6v1.6h-1.6zM391.6 295.0h1.6v1.6h-1.6zM393.7 288.1h1.6v1.6h-1.6zM397.0 291.7h1.6v1.6h-1.6zM394.3 297.3h1.6v1.6h-1.6zM397.2 295.2h1.6v1.6h-1.6z" fill="#61e120"/>
<path d="M396.4 294.2h1.6v1.6h-1.6zM395.1 296.8h1.6v1.6h-1.6zM393.4 288.3h1.6v1.6h-1.6zM396.4 294.0h1.6v1.6h-1.6zM395.5 296.8h1.6v1.6h-1.6zM396.2 295.0h1.6v1.6h-1.6zM395.8 296.3h1.6v1.6h-1.6zM396.4 291.5h1.6v1.6h-1.6zM396.1 295.5h1.6v1.6h-1.6zM394.5 295.3h1.6v1.6h-1.6zM394.7 295.9h1.6v1.6h-1.6zM390.2 289.6h1.6v1.6h-1.6zM396.2 295.8h1.6v1.6h-1.6zM393.6 288.6h1.6v1.6h-1.6zM390.2 294.7h1.6v1.6h-1.6zM395.9 295.2h1.6v1.6h-1.6zM395.7 290.1h1.6v1.6h-1.6zM388.3 292.5h1.6v1.6h-1.6zM395.6 296.4h1.6v1.6h-1.6zM395.3 296.1h1.6v1.6h-1.6zM396.2 294.0h1.6v1.6h-1.6zM394.2 294.8h1.6v1.6h-1.6zM395.5 295.5h1.6v1.6h-1.6zM394.2 295.7h1.6v1.6h-1.6zM395.7 296.2h1.6v1.6h-1.6zM388.6 293.1h1.6v1.6h-1.6zM395.0 296.1h1.6v1.6h-1.6zM394.0 295.2h1.6v1.6h-1.6zM392.8 288.8h1.6v1.6h-1.6zM395.5 289.6h1.6v1.6h-1.6zM390.0 294.9h1.6v1.6h-1.6zM393.1 288.8h1.6v1.6h-1.6zM394.1 295.0h1.6v1.6h-1.6zM390.7 289.4h1.6v1.6h-1.6z" fill="#8be119"/>
<path d="M389.6 294.2h1.6v1.6h-1.6zM389.4 294.2h1.6v1.6h-1.6zM390.8 289.9h1.6v1.6h-1.6zM391.1 294.1h1.6v1.6h-1.6zM396.1 293.0h1.6v1.6h-1.6zM389.8 290.4h1.6v1.6h-1.6zM394.3 289.1h1.6v1.6h-1.6zM388.9 293.0h1.6v1.6h-1.6zM395.5 293.8h1.6v1.6h-1.6zM392.3 289.6h1.6v1.6h-1.6zM394.6 294.9h1.6v1.6h-1.6zM396.3 292.1h1.6v1.6h-1.6zM395.1 294.5h1.6v1.6h-1.6zM394.8 295.0h1.6v1.6h-1.6zM393.5 294.1h1.6v1.6h-1.6zM393.3 294.2h1.6v1.6h-1.6zM389.9 290.2h1.6v1.6h-1.6zM391.8 293.8h1.6v1.6h-1.6zM392.0 289.6h1.6v1.6h-1.6zM392.1 289.5h1.6v1.6h-1.6zM390.4 294.2h1.6v1.6h-1.6z" fill="#b5d511"/>
<path d="M390.2 293.9h1.6v1.6h-1.6zM389.8 293.6h1.6v1.6h-1.6zM389.5 291.1h1.6v1.6h-1.6zM389.3 293.1h1.6v1.6h-1.6zM391.7 293.5h1.6v1.6h-1.6zM389.3 292.1h1.6v1.6h-1.6zM394.9 293.7h1.6v1.6h-1.6zM395.9 292.4h1.6v1.6h-1.6zM392.8 293.8h1.6v1.6h-1.6zM392.4 293.6h1.6v1.6h-1.6zM392.3 290.0h1.6v1.6h-1.6zM392.1 293.4h1.6v1.6h-1.6zM395.0 290.1h1.6v1.6h-1.6zM394.5 294.0h1.6v1.6h-1.6zM396.0 291.5h1.6v1.6h-1.6zM394.5 289.6h1.6v1.6h-1.6zM394.8 293.8h1.6v1.6h-1.6zM393.2 289.4h1.6v1.6h-1.6zM389.7 293.8h1.6v1.6h-1.6zM392.5 293.6h1.6v1.6h-1.6zM389.4 292.5h1.6v1.6h-1.6zM393.8 289.3h1.6v1.6h-1.6zM395.7 291.3h1.6v1.6h-1.6z" fill="#dcae08"/>
<path d="M389.8 292.4h1.6v1.6h-1.6zM389.8 291.7h1.6v1.6h-1.6zM395.3 293.2h1.6v1.6h-1.6zM390.8 290.7h1.6v1.6h-1.6zM393.8 289.6h1.6v1.6h-1.6zM391.4 290.5h1.6v1.6h-1.6zM394.0 293.7h1.6v1.6h-1.6zM394.8 290.3h1.6v1.6h-1.6zM392.9 290.0h1.6v1.6h-1.6zM389.5 292.1h1.6v1.6h-1.6zM395.1 290.4h1.6v1.6h-1.6zM390.3 293.1h1.6v1.6h-1.6zM394.8 290.4h1.6v1.6h-1.6zM394.1 289.7h1.6v1.6h-1.6zM390.9 290.5h1.6v1.6h-1.6zM393.1 289.9h1.6v1.6h-1.6zM390.2 293.1h1.6v1.6h-1.6zM394.9 293.3h1.6v1.6h-1.6zM393.6 293.5h1.6v1.6h-1.6zM393.9 290.1h1.6v1.6h-1.6zM392.9 290.5h1.6v1.6h-1.6zM389.7 292.4h1.6v1.6h-1.6zM394.2 293.5h1.6v1.6h-1.6zM390.3 290.8h1.6v1.6h-1.6zM395.3 292.5h1.6v1.6h-1.6zM394.1 293.5h1.6v1.6h-1.6zM390.6 293.3h1.6v1.6h-1.6zM393.9 293.7h1.6v1.6h-1.6zM393.8 289.7h1.6v1.6h-1.6zM389.8 291.2h1.6v1.6h-1.6zM390.1 293.2h1.6v1.6h-1.6zM389.6 292.0h1.6v1.6h-1.6zM390.1 293.4h1.6v1.6h-1.6zM393.1 293.1h1.6v1.6h-1.6zM390.7 290.6h1.6v1.6h-1.6zM391.8 293.3h1.6v1.6h-1.6zM390.6 293.5h1.6v1.6h-1.6zM395.6 292.1h1.6v1.6h-1.6zM393.7 293.7h1.6v1.6h-1.6zM394.9 290.4h1.6v1.6h-1.6zM390.3 291.0h1.6v1.6h-1.6zM393.3 290.3h1.6v1.6h-1.6zM394.6 290.0h1.6v1.6h-1.6z" fill="#ff8700"/>
<path d="M391.0 293.0h1.6v1.6h-1.6zM392.5 290.9h1.6v1.6h-1.6zM395.2 291.6h1.6v1.6h-1.6zM391.8 292.5h1.6v1.6h-1.6zM390.3 292.5h1.6v1.6h-1.6zM394.4 290.6h1.6v1.6h-1.6zM392.9 292.4h1.6v1.6h-1.6zM390.5 291.0h1.6v1.6h-1.6zM392.7 291.4h1.6v1.6h-1.6zM392.0 292.6h1.6v1.6h-1.6zM393.6 293.2h1.6v1.6h-1.6zM393.3 293.2h1.6v1.6h-1.6zM391.7 290.7h1.6v1.6h-1.6zM391.7 290.7h1.6v1.6h-1.6zM391.7 291.1h1.6v1.6h-1.6zM392.6 292.9h1.6v1.6h-1.6zM392.3 290.7h1.6v1.6h-1.6zM395.0 292.7h1.6v1.6h-1.6zM392.5 290.8h1.6v1.6h-1.6zM393.9 290.3h1.6v1.6h-1.6zM391.3 292.8h1.6v1.6h-1.6zM394.0 290.4h1.6v1.6h-1.6zM390.3 291.2h1.6v1.6h-1.6zM391.7 291.0h1.6v1.6h-1.6zM395.2 292.0h1.6v1.6h-1.6zM392.3 292.5h1.6v1.6h-1.6zM395.2 291.7h1.6v1.6h-1.6zM395.1 292.0h1.6v1.6h-1.6zM390.7 292.8h1.6v1.6h-1.6zM390.6 291.1h1.6v1.6h-1.6zM390.2 292.9h1.6v1.6h-1.6zM393.3 293.2h1.6v1.6h-1.6zM395.0 291.4h1.6v1.6h-1.6z" fill="#ff5904"/>
<path d="M392.0 291.7h1.6v1.6h-1.6zM394.4 292.4h1.6v1.6h-1.6zM391.1 291.5h1.6v1.6h-1.6zM393.8 290.9h1.6v1.6h-1.6zM391.2 291.7h1.6v1.6h-1.6zM394.1 292.4h1.6v1.6h-1.6zM394.2 292.6h1.6v1.6h-1.6zM394.0 291.5h1.6v1.6h-1.6zM391.8 292.2h1.6v1.6h-1.6zM394.2 290.9h1.6v1.6h-1.6zM391.2 291.9h1.6v1.6h-1.6zM394.3 291.6h1.6v1.6h-1.6zM394.0 291.2h1.6v1.6h-1.6zM394.9 291.5h1.6v1.6h-1.6zM394.4 291.9h1.6v1.6h-1.6zM391.6 292.2h1.6v1.6h-1.6zM392.1 291.9h1.6v1.6h-1.6zM394.1 292.2h1.6v1.6h-1.6zM394.5 292.5h1.6v1.6h-1.6zM391.2 291.9h1.6v1.6h-1.6zM394.5 292.5h1.6v1.6h-1.6zM394.3 291.8h1.6v1.6h-1.6zM391.1 291.9h1.6v1.6h-1.6zM393.6 291.2h1.6v1.6h-1.6zM394.1 291.1h1.6v1.6h-1.6zM394.2 291.9h1.6v1.6h-1.6zM393.9 291.6h1.6v1.6h-1.6zM390.8 291.7h1.6v1.6h-1.6zM390.9 291.4h1.6v1.6h-1.6zM390.6 291.6h1.6v1.6h-1.6zM393.5 291.0h1.6v1.6h-1.6zM394.3 292.3h1.6v1.6h-1.6zM391.2 291.4h1.6v1.6h-1.6zM394.7 291.5h1.6v1.6h-1.6zM391.5 292.2h1.6v1.6h-1.6zM391.1 291.8h1.6v1.6h-1.6zM390.7 292.5h1.6v1.6h-1.6zM394.9 292.2h1.6v1.6h-1.6zM394.5 291.0h1.6v1.6h-1.6zM392.1 291.7h1.6v1.6h-1.6zM393.8 292.7h1.6v1.6h-1.6zM393.4 291.5h1.6v1.6h-1.6zM394.2 292.5h1.6v1.6h-1.6zM391.0 291.9h1.6v1.6h-1.6zM393.7 290.9h1.6v1.6h-1.6zM394.9 292.3h1.6v1.6h-1.6zM393.8 292.5h1.6v1.6h-1.6zM391.7 292.2h1.6v1.6h-1.6z" fill="#ff2b08"/>
<rect x="118.5" y="365.2" width="1.4" height="1.4" fill="#30d060"/>
<rect x="119.8" y="365.2" width="1.4" height="1.4" fill="#20c8e0"/>
<rect x="121.1" y="365.2" width="1.4" height="1.4" fill="#e04020"/>
<rect x="122.4" y="365.2" width="1.4" height="1.4" fill="#40d040"/>
<rect x="123.7" y="365.2" width="1.4" height="1.4" fill="#30b0f0"/>
<rect x="125.0" y="365.2" width="1.4" height="1.4" fill="#30d060"/>
<rect x="126.3" y="365.2" width="1.4" height="1.4" fill="#20c8e0"/>
<rect x="127.6" y="365.2" width="1.4" height="1.4" fill="#e04020"/>
<rect x="128.9" y="365.2" width="1.4" height="1.4" fill="#40d040"/>
<rect x="130.2" y="365.2" width="1.4" height="1.4" fill="#30b0f0"/>
<rect x="131.5" y="365.2" width="1.4" height="1.4" fill="#30d060"/>
<rect x="132.8" y="365.2" width="1.4" height="1.4" fill="#20c8e0"/>
<rect x="251.5" y="365.2" width="1.4" height="1.4" fill="#20c8e0"/>
<rect x="252.8" y="365.2" width="1.4" height="1.4" fill="#30d060"/>
<rect x="254.1" y="365.2" width="1.4" height="1.4" fill="#2060f0"/>
<rect x="255.4" y="365.2" width="1.4" height="1.4" fill="#30d060"/>
<rect x="256.7" y="365.2" width="1.4" height="1.4" fill="#20c8e0"/>
<rect x="258.0" y="365.2" width="1.4" height="1.4" fill="#30d060"/>
<rect x="259.3" y="365.2" width="1.4" height="1.4" fill="#2060f0"/>
<rect x="260.6" y="365.2" width="1.4" height="1.4" fill="#30d060"/>
<rect x="389.0" y="364.7" width="1.4" height="1.4" fill="#20c8e0"/>
<rect x="390.3" y="364.7" width="1.4" height="1.4" fill="#30d060"/>
<rect x="391.6" y="364.7" width="1.4" height="1.4" fill="#2060f0"/>
<rect x="392.9" y="364.7" width="1.4" height="1.4" fill="#30d060"/>
<rect x="394.2" y="364.7" width="1.4" height="1.4" fill="#20c8e0"/>
<rect x="395.5" y="364.7" width="1.4" height="1.4" fill="#30d060"/>
<rect x="396.8" y="364.7" width="1.4" height="1.4" fill="#2060f0"/>
<rect x="398.1" y="364.7" width="1.4" height="1.4" fill="#30d060"/>
<rect x="399.4" y="364.7" width="1.4" height="1.4" fill="#20c8e0"/>
<rect x="400.7" y="364.7" width="1.4" height="1.4" fill="#30d060"/>
<rect x="402.0" y="364.7" width="1.4" height="1.4" fill="#2060f0"/>
<rect x="403.3" y="364.7" width="1.4" height="1.4" fill="#30d060"/>
<text x="77.0" y="370.8" font-size="3.4" fill="#666">10</text>
<text transform="translate(77.0,368.5) rotate(-90)" font-size="3.2" fill="#666">10</text>
<text x="106.5" y="370.8" font-size="3.4" fill="#666">10</text>
<text transform="translate(77.0,339.125) rotate(-90)" font-size="3.2" fill="#666">10</text>
<text x="136.0" y="370.8" font-size="3.4" fill="#666">10</text>
<text transform="translate(77.0,309.75) rotate(-90)" font-size="3.2" fill="#666">10</text>
<text x="165.5" y="370.8" font-size="3.4" fill="#666">10</text>
<text transform="translate(77.0,280.375) rotate(-90)" font-size="3.2" fill="#666">10</text>
<text x="195.0" y="370.8" font-size="3.4" fill="#666">10</text>
<text transform="translate(77.0,251.0) rotate(-90)" font-size="3.2" fill="#666">10</text>
<text x="134.5" y="375" font-size="3.0" fill="#666">FL1-H</text>
<text transform="translate(73.5,312.25) rotate(-90)" font-size="3.0" fill="#666">FL4-H</text>
<text x="72.5" y="246.5" font-size="3.0" fill="#666">1.6%</text>
<text x="192.5" y="246.5" font-size="3.0" fill="#666">4.2%</text>
<text x="72.5" y="375" font-size="3.0" fill="#666">2.6%</text>
<text x="190.5" y="375" font-size="3.0" fill="#666">89.8%</text>
<text x="210.4" y="370.90000000000003" font-size="3.4" fill="#666">10</text>
<text transform="translate(210.4,368.6) rotate(-90)" font-size="3.2" fill="#666">10</text>
<text x="239.82500000000002" y="370.90000000000003" font-size="3.4" fill="#666">10</text>
<text transform="translate(210.4,339.225) rotate(-90)" font-size="3.2" fill="#666">10</text>
<text x="269.25" y="370.90000000000003" font-size="3.4" fill="#666">10</text>
<text transform="translate(210.4,309.85) rotate(-90)" font-size="3.2" fill="#666">10</text>
<text x="298.675" y="370.90000000000003" font-size="3.4" fill="#666">10</text>
<text transform="translate(210.4,280.475) rotate(-90)" font-size="3.2" fill="#666">10</text>
<text x="328.1" y="370.90000000000003" font-size="3.4" fill="#666">10</text>
<text transform="translate(210.4,251.1) rotate(-90)" font-size="3.2" fill="#666">10</text>
<text x="267.75" y="375.1" font-size="3.0" fill="#666">FL1-H</text>
<text transform="translate(206.9,312.35) rotate(-90)" font-size="3.0" fill="#666">FL4-H</text>
<text x="205.9" y="246.6" font-size="3.0" fill="#666">1.6%</text>
<text x="325.6" y="246.6" font-size="3.0" fill="#666">4.2%</text>
<text x="205.9" y="375.1" font-size="3.0" fill="#666">2.6%</text>
<text x="323.6" y="375.1" font-size="3.0" fill="#666">89.8%</text>
<text x="343.9" y="370.8" font-size="3.4" fill="#666">10</text>
<text transform="translate(343.9,368.5) rotate(-90)" font-size="3.2" fill="#666">10</text>
<text x="373.325" y="370.8" font-size="3.4" fill="#666">10</text>
<text transform="translate(343.9,339.175) rotate(-90)" font-size="3.2" fill="#666">10</text>
<text x="402.75" y="370.8" font-size="3.4" fill="#666">10</text>
<text transform="translate(343.9,309.85) rotate(-90)" font-size="3.2" fill="#666">10</text>
<text x="432.175" y="370.8" font-size="3.4" fill="#666">10</text>
<text transform="translate(343.9,280.525) rotate(-90)" font-size="3.2" fill="#666">10</text>
<text x="461.6" y="370.8" font-size="3.4" fill="#666">10</text>
<text transform="translate(343.9,251.2) rotate(-90)" font-size="3.2" fill="#666">10</text>
<text x="401.25" y="375" font-size="3.0" fill="#666">FL1-H</text>
<text transform="translate(340.4,312.35) rotate(-90)" font-size="3.0" fill="#666">FL4-H</text>
<text x="339.4" y="246.7" font-size="3.0" fill="#666">1.6%</text>
<text x="459.1" y="246.7" font-size="3.0" fill="#666">4.2%</text>
<text x="339.4" y="375" font-size="3.0" fill="#666">2.6%</text>
<text x="457.1" y="375" font-size="3.0" fill="#666">89.8%</text>
<text x="83.2" y="261.75" font-size="13.5" fill="#dc1428" text-anchor="start" font-weight="bold" >3.4</text>
<text x="171.7" y="261.75" font-size="13.5" fill="#000" text-anchor="start" font-weight="bold" >4.2</text>
<text x="82.8" y="366.1" font-size="13.5" fill="#000" text-anchor="start" font-weight="bold" >2.6</text>
<text x="166.7" y="366.1" font-size="13.5" fill="#000" text-anchor="start" font-weight="bold" >89.8</text>
<text x="216.0" y="262.25" font-size="13.5" fill="#dc1428" text-anchor="start" font-weight="bold" >27.6</text>
<text x="305.8" y="262.25" font-size="13.5" fill="#000" text-anchor="start" font-weight="bold" >8.2</text>
<text x="216.6" y="366.1" font-size="13.5" fill="#000" text-anchor="start" font-weight="bold" >8.8</text>
<text x="300.4" y="366.1" font-size="13.5" fill="#000" text-anchor="start" font-weight="bold" >55.5</text>
<text x="350.3" y="263.0" font-size="13.5" fill="#dc1428" text-anchor="start" font-weight="bold" >2.5</text>
<text x="433.7" y="263.0" font-size="13.5" fill="#000" text-anchor="start" font-weight="bold" >51.7</text>
<text x="350.6" y="366.1" font-size="13.5" fill="#000" text-anchor="start" font-weight="bold" >1.5</text>
<text x="433.6" y="366.1" font-size="13.5" fill="#000" text-anchor="start" font-weight="bold" >44.4</text>
<text x="7.3" y="443.8" font-size="16.6" fill="#000" text-anchor="start" font-weight="bold" >C</text>
<path d="M53.5 451V615.7H297" fill="none" stroke="#bbb" stroke-width="0.8"/>
<text x="45.5" y="619.1" font-size="9.5" fill="#000" text-anchor="end" font-weight="bold" >0</text>
<path d="M49.8 615.7H53.5" stroke="#bbb" stroke-width="0.8"/>
<text x="45.5" y="596.2" font-size="9.5" fill="#000" text-anchor="end" font-weight="bold" >10</text>
<path d="M49.8 592.8H53.5" stroke="#bbb" stroke-width="0.8"/>
<text x="45.5" y="573.3000000000001" font-size="9.5" fill="#000" text-anchor="end" font-weight="bold" >20</text>
<path d="M49.8 569.9H53.5" stroke="#bbb" stroke-width="0.8"/>
<text x="45.5" y="550.4" font-size="9.5" fill="#000" text-anchor="end" font-weight="bold" >30</text>
<path d="M49.8 547.0H53.5" stroke="#bbb" stroke-width="0.8"/>
<text x="45.5" y="527.5" font-size="9.5" fill="#000" text-anchor="end" font-weight="bold" >40</text>
<path d="M49.8 524.1H53.5" stroke="#bbb" stroke-width="0.8"/>
<text x="45.5" y="504.6" font-size="9.5" fill="#000" text-anchor="end" font-weight="bold" >50</text>
<path d="M49.8 501.2H53.5" stroke="#bbb" stroke-width="0.8"/>
<text x="45.5" y="481.70000000000005" font-size="9.5" fill="#000" text-anchor="end" font-weight="bold" >60</text>
<path d="M49.8 478.3H53.5" stroke="#bbb" stroke-width="0.8"/>
<text x="45.5" y="458.8" font-size="9.5" fill="#000" text-anchor="end" font-weight="bold" >70</text>
<path d="M49.8 455.4H53.5" stroke="#bbb" stroke-width="0.8"/>
<path d="M53.5 615.7V619" stroke="#bbb" stroke-width="0.8"/>
<path d="M134.5 615.7V619" stroke="#bbb" stroke-width="0.8"/>
<path d="M215.4 615.7V619" stroke="#bbb" stroke-width="0.8"/>
<path d="M297 615.7V619" stroke="#bbb" stroke-width="0.8"/>
<text transform="translate(28.3,584.5) rotate(-90)" font-size="9.95" font-family="Liberation Sans" font-weight="bold" fill="#000">Annexin V/PI +ve (%)</text>
<path d="M82.3 599.9V596.9M81.1 596.9H83.5" stroke="#444" stroke-width="0.75"/>
<rect x="70.8" y="599.9" width="23.0" height="15.8" fill="#000" stroke="#000" stroke-width="0.8"/>
<path d="M105.6 590.7V585.9M104.39999999999999 585.9H106.8" stroke="#444" stroke-width="0.75"/>
<rect x="93.8" y="590.7" width="23.700000000000003" height="25.0" fill="#fff" stroke="#444" stroke-width="0.8"/>
<path d="M163.5 485.6V472.3M162.3 472.3H164.7" stroke="#444" stroke-width="0.75"/>
<rect x="151.9" y="485.6" width="23.400000000000006" height="130.1" fill="#000" stroke="#000" stroke-width="0.8"/>
<path d="M186.8 567.8V559.4M185.60000000000002 559.4H188.0" stroke="#444" stroke-width="0.75"/>
<rect x="175.4" y="567.8" width="23.099999999999994" height="47.9" fill="#fff" stroke="#444" stroke-width="0.8"/>
<path d="M244.6 576.5V565.5M243.4 565.5H245.79999999999998" stroke="#444" stroke-width="0.75"/>
<rect x="232.9" y="576.5" width="23.099999999999994" height="39.2" fill="#000" stroke="#000" stroke-width="0.8"/>
<path d="M267.7 577.5V570.8M266.5 570.8H268.9" stroke="#444" stroke-width="0.75"/>
<rect x="256" y="577.5" width="24" height="38.2" fill="#fff" stroke="#444" stroke-width="0.8"/>
<path d="M159.3 467.8V462.3H187.2V467.8" fill="none" stroke="#222" stroke-width="1"/>
<text x="173.1" y="463.5" font-size="14" fill="#111" text-anchor="middle" font-weight="bold" >*</text>
<rect x="71" y="463" width="6.3" height="5.6" fill="#000"/>
<rect x="71.3" y="479.3" width="5.8" height="5.6" fill="#fff" stroke="#999" stroke-width="0.7"/>
<text x="80.3" y="469.3" font-size="9.8" fill="#000" text-anchor="start" font-weight="bold" >DMSO</text>
<text x="80.3" y="485.5" font-size="9.8" fill="#000" text-anchor="start" font-weight="bold" >CMA</text>
<text x="94.3" y="633.5" font-size="9.8" fill="#000" text-anchor="middle" font-weight="bold" >Control mAb</text>
<text x="174.9" y="633.5" font-size="9.8" fill="#000" text-anchor="middle" font-weight="bold" >GA101</text>
<text x="256.2" y="633.5" font-size="9.8" fill="#000" text-anchor="middle" font-weight="bold" >Rituximab</text>
<text x="305.0" y="450" font-size="17.6" fill="#000" text-anchor="start" font-weight="bold" >D</text>
<rect x="331.7" y="445.5" width="11.2" height="11.2" fill="#000"/>
<rect x="331.7" y="468" width="11.2" height="10.8" fill="#0000ee"/>
<rect x="421" y="445.5" width="10.8" height="10.8" fill="#880d8f"/>
<rect x="421" y="468.4" width="10.8" height="10.6" fill="#138a1f"/>
<text x="345" y="452.6" font-size="8.8" fill="#000" text-anchor="start" font-weight="bold" >Control mAb</text>
<text x="345" y="479.4" font-size="8.8" fill="#000" text-anchor="start" font-weight="bold" >GA101</text>
<text x="433.7" y="452.6" font-size="8.8" fill="#000" text-anchor="start" font-weight="bold" >Control mAb + CMA</text>
<text x="433.7" y="479.4" font-size="8.8" fill="#000" text-anchor="start" font-weight="bold" >GA101 + CMA</text>
<path d="M335 488.5V629.5H507" fill="none" stroke="#888" stroke-width="0.8"/>
<text x="333.5" y="635.5" font-size="5" fill="#444" font-family="Liberation Sans">10</text>
<text x="376.5" y="635.5" font-size="5" fill="#444" font-family="Liberation Sans">10</text>
<text x="419.5" y="635.5" font-size="5" fill="#444" font-family="Liberation Sans">10</text>
<text x="462.5" y="635.5" font-size="5" fill="#444" font-family="Liberation Sans">10</text>
<text x="505.5" y="635.5" font-size="5" fill="#444" font-family="Liberation Sans">10</text>
<text x="417" y="641" font-size="4" fill="#444" font-family="Liberation Sans">FL1-H</text>
<text transform="translate(331.5,567) rotate(-90)" font-size="4.5" fill="#444" font-family="Liberation Sans">Events</text>
<text transform="translate(331.5,497) rotate(-90)" font-size="4.5" fill="#444" font-family="Liberation Sans">128</text>
<path d="M335.4 629.5L335.4 626.2L335.8 625.5L336.2 624.9L336.6 625.5L337.0 624.0L337.4 623.9L337.8 623.1L338.2 623.0L338.6 621.8L339.0 622.7L339.4 620.2L339.8 620.0L340.2 620.6L340.6 619.0L341.0 618.4L341.4 619.4L341.8 616.6L342.2 616.7L342.6 615.5L343.0 614.8L343.4 613.6L343.8 611.9L344.2 610.6L344.6 610.9L345.0 608.2L345.4 607.6L345.8 605.8L346.2 603.0L346.6 599.5L347.0 597.4L347.4 596.3L347.8 593.7L348.2 590.9L348.6 586.4L349.0 581.8L349.4 579.2L349.8 574.1L350.2 570.3L350.6 563.9L351.0 564.5L351.4 559.6L351.8 551.7L352.2 545.1L352.6 541.7L353.0 535.1L353.4 533.0L353.8 528.5L354.2 523.0L354.6 516.0L355.0 512.7L355.4 512.3L355.8 508.0L356.2 507.7L356.6 505.2L357.0 506.9L357.4 505.0L357.8 507.4L358.2 507.8L358.6 511.4L359.0 514.9L359.4 516.8L359.8 521.9L360.2 525.8L360.6 531.6L361.0 534.9L361.4 542.6L361.8 545.2L362.2 549.6L362.6 557.2L363.0 559.1L363.4 563.4L363.8 570.2L364.2 576.9L364.6 580.9L365.0 582.4L365.4 583.0L365.8 587.4L366.2 589.6L366.6 592.9L367.0 595.3L367.4 595.4L367.8 598.2L368.2 597.9L368.6 597.6L369.0 598.3L369.4 597.9L369.8 598.9L370.2 597.6L370.6 597.7L371.0 600.1L371.4 599.6L371.8 599.6L372.2 598.7L372.6 600.0L373.0 601.2L373.4 602.6L373.8 603.6L374.2 604.9L374.6 608.0L375.0 610.6L375.4 609.9L375.8 612.1L376.2 613.1L376.6 614.3L377.0 616.1L377.4 617.3L377.8 615.9L378.2 616.4L378.6 617.1L379.0 618.2L379.4 618.7L379.8 619.7L380.2 619.8L380.6 620.6L381.0 621.1L381.4 621.0L381.8 620.4L382.2 623.4L382.6 622.0L383.0 622.4L383.4 624.1L383.8 623.5L384.2 624.1L384.6 624.9L385.0 625.3L385.4 626.2L385.8 624.7L386.2 624.9L386.6 625.4L387.0 626.8L387.4 626.8L387.8 627.0L388.2 627.9L388.6 627.8L389.0 627.6L389.4 628.3L389.8 629.1L390.2 629.0L390.6 628.4L391.0 628.8L391.4 628.9L391.8 628.3L392.2 628.9L392.6 629.3L393.0 629.2L393.4 628.4L393.8 629.5L394.2 628.6L394.6 628.8L395.0 629.4L395.0 629.5Z" fill="#f50000" stroke="#111" stroke-width="0.6" stroke-linejoin="round"/>
<path d="M395.0 627.3L395.2 627.4L395.4 628.3L395.5 627.5L395.7 628.9L395.9 629.5L396.1 626.1L396.3 627.4L396.4 629.5L396.6 629.2L396.8 628.6L397.0 627.3L397.2 626.1L397.3 627.2L397.5 628.1L397.7 626.9L397.9 627.7L398.1 627.1L398.2 628.1L398.4 628.7L398.6 625.4L398.8 627.4L399.0 626.8L399.1 627.6L399.3 627.5L399.5 627.2L399.7 625.7L399.9 624.8L400.0 625.7L400.2 627.1L400.4 623.4L400.6 624.9L400.8 624.7L400.9 626.7L401.1 626.1L401.3 624.8L401.5 628.1L401.7 626.6L401.8 624.7L402.0 622.3L402.2 624.5L402.4 626.5L402.6 626.7L402.7 623.2L402.9 625.8L403.1 625.0L403.3 621.3L403.5 624.1L403.6 624.6L403.8 625.1L404.0 621.7L404.2 621.6L404.4 624.6L404.5 625.6L404.7 623.4L404.9 620.9L405.1 622.2L405.3 624.8L405.4 622.1L405.6 621.3L405.8 622.4L406.0 621.9L406.2 622.1L406.3 622.8L406.5 622.9L406.7 623.9L406.9 623.5L407.1 624.3L407.2 620.4L407.4 620.2L407.6 620.8L407.8 620.0L408.0 620.5L408.1 621.8L408.3 619.9L408.5 620.7L408.7 620.4L408.9 623.4L409.0 620.7L409.2 618.8L409.4 620.0L409.6 620.8L409.8 622.1L409.9 620.2L410.1 616.2L410.3 619.8L410.5 616.5L410.7 619.2L410.8 616.2L411.0 619.0L411.2 617.1L411.4 616.5L411.6 616.4L411.7 619.2L411.9 617.9L412.1 618.7L412.3 617.1L412.5 617.3L412.6 617.0L412.8 615.2L413.0 618.3L413.2 617.6L413.4 617.0L413.5 616.2L413.7 617.1L413.9 614.3L414.1 617.4L414.3 611.4L414.4 614.7L414.6 612.2L414.8 616.6L415.0 614.8L415.2 613.7L415.3 610.1L415.5 613.3L415.7 610.2L415.9 614.6L416.1 609.7L416.2 614.0L416.4 616.1L416.6 616.3L416.8 611.4L417.0 612.0L417.1 610.7L417.3 611.1L417.5 609.6L417.7 606.7L417.9 610.4L418.0 609.0L418.2 610.2L418.4 612.8L418.6 609.1L418.8 604.7L418.9 609.6L419.1 602.7L419.3 605.5L419.5 605.2L419.7 603.6L419.8 605.3L420.0 604.7L420.2 601.0L420.4 605.4L420.6 603.4L420.7 605.4L420.9 601.6L421.1 596.4L421.3 597.6L421.5 602.3L421.6 603.7L421.8 597.0L422.0 595.9L422.2 598.6L422.4 592.7L422.5 594.3L422.7 592.6L422.9 591.6L423.1 589.8L423.3 593.2L423.4 593.0L423.6 586.3L423.8 589.6L424.0 591.7L424.2 586.3L424.3 587.7L424.5 584.4L424.7 578.8L424.9 578.0L425.1 583.7L425.2 585.0L425.4 580.3L425.6 582.2L425.8 577.5L426.0 576.3L426.1 574.1L426.3 575.1L426.5 578.4L426.7 573.5L426.9 571.8L427.0 570.3L427.2 566.1L427.4 572.4L427.6 568.6L427.8 569.1L427.9 569.0L428.1 563.2L428.3 566.5L428.5 557.1L428.7 569.9L428.8 556.8L429.0 562.0L429.2 564.7L429.4 559.1L429.6 558.6L429.7 555.0L429.9 553.4L430.1 559.9L430.3 556.7L430.5 555.1L430.6 555.1L430.8 556.6L431.0 550.2L431.2 553.7L431.4 559.2L431.5 553.3L431.7 555.0L431.9 555.1L432.1 550.9L432.3 551.6L432.4 552.9L432.6 552.4L432.8 550.8L433.0 556.2L433.2 553.8L433.3 549.7L433.5 556.5L433.7 556.3L433.9 557.0L434.1 551.3L434.2 557.0L434.4 551.8L434.6 557.4L434.8 555.6L435.0 555.6L435.1 558.9L435.3 561.0L435.5 554.5L435.7 559.8L435.9 557.1L436.0 557.1L436.2 564.9L436.4 556.1L436.6 560.5L436.8 562.6L436.9 563.4L437.1 564.3L437.3 562.4L437.5 557.2L437.7 564.9L437.8 568.9L438.0 566.7L438.2 559.9L438.4 566.8L438.6 561.3L438.7 571.0L438.9 571.7L439.1 573.6L439.3 573.6L439.5 571.5L439.6 571.6L439.8 578.4L440.0 576.8L440.2 576.7L440.4 576.2L440.5 571.4L440.7 571.7L440.9 575.8L441.1 575.5L441.3 581.2L441.4 578.3L441.6 585.4L441.8 581.0L442.0 580.6L442.2 579.7L442.3 583.3L442.5 584.0L442.7 587.3L442.9 590.5L443.1 587.6L443.2 591.8L443.4 588.2L443.6 588.6L443.8 592.3L444.0 594.1L444.1 590.0L444.3 591.8L444.5 589.5L444.7 588.8L444.9 587.3L445.0 589.7L445.2 595.4L445.4 593.6L445.6 588.2L445.8 596.8L445.9 595.9L446.1 591.8L446.3 594.3L446.5 598.0L446.7 595.9L446.8 598.8L447.0 595.3L447.2 598.4L447.4 598.4L447.6 598.4L447.7 604.1L447.9 600.1L448.1 599.0L448.3 600.2L448.5 602.1L448.6 601.3L448.8 597.8L449.0 600.1L449.2 603.6L449.4 599.7L449.5 602.0L449.7 604.2L449.9 607.6L450.1 602.2L450.3 606.6L450.4 603.3L450.6 601.7L450.8 603.0L451.0 607.8L451.2 607.3L451.3 603.8L451.5 603.0L451.7 605.8L451.9 606.4L452.1 602.0L452.2 602.6L452.4 606.0L452.6 607.7L452.8 605.5L453.0 610.1L453.1 606.9L453.3 607.0L453.5 605.0L453.7 606.7L453.9 612.3L454.0 604.1L454.2 607.1L454.4 613.2L454.6 612.3L454.8 607.4L454.9 612.1L455.1 607.5L455.3 611.8L455.5 613.2L455.7 606.2L455.8 606.0L456.0 610.7L456.2 606.6L456.4 609.5L456.6 609.3L456.7 611.0L456.9 609.2L457.1 607.5L457.3 607.6L457.5 606.9L457.6 607.1L457.8 609.7L458.0 612.4L458.2 609.5L458.4 610.1L458.5 612.5L458.7 614.2L458.9 613.6L459.1 615.3L459.3 614.0L459.4 611.8L459.6 609.7L459.8 612.2L460.0 613.7L460.2 613.7L460.3 613.2L460.5 610.4L460.7 612.8L460.9 617.0L461.1 613.4L461.2 617.1L461.4 615.1L461.6 613.6L461.8 615.7L462.0 614.3L462.1 611.7L462.3 616.0L462.5 612.3L462.7 612.7L462.9 613.3L463.0 616.5L463.2 612.7L463.4 614.2L463.6 613.6L463.8 615.1L463.9 612.8L464.1 618.1L464.3 614.7L464.5 614.1L464.7 612.1L464.8 619.0L465.0 618.3L465.2 616.6L465.4 615.7L465.6 617.9L465.7 615.1L465.9 617.1L466.1 616.6L466.3 619.5L466.5 616.2L466.6 616.9L466.8 614.4L467.0 615.8L467.2 614.6L467.4 616.9L467.5 619.1L467.7 616.5L467.9 620.8L468.1 620.7L468.3 619.3L468.4 616.7L468.6 616.4L468.8 621.7L469.0 619.3L469.2 616.5L469.3 619.6L469.5 622.0L469.7 619.0L469.9 616.7L470.1 620.4L470.2 620.4L470.4 615.8L470.6 618.3L470.8 621.7L471.0 618.2L471.1 617.6L471.3 620.4L471.5 619.6L471.7 618.5L471.9 619.6L472.0 617.5L472.2 617.9L472.4 618.7L472.6 617.7L472.8 621.0L472.9 622.0L473.1 623.0L473.3 621.8L473.5 622.8L473.7 621.4L473.8 619.3L474.0 618.5L474.2 620.0L474.4 620.2L474.6 620.8L474.7 620.5L474.9 622.3L475.1 622.6L475.3 623.7L475.5 622.2L475.6 621.3L475.8 622.2L476.0 621.7L476.2 619.0L476.4 621.4L476.5 621.3L476.7 622.3L476.9 621.5L477.1 624.2L477.3 621.7L477.4 621.6L477.6 621.3L477.8 625.3L478.0 623.3L478.2 621.0L478.3 622.0L478.5 625.5L478.7 624.7L478.9 625.2L479.1 622.9L479.2 622.3L479.4 624.1L479.6 626.4L479.8 623.6L480.0 627.0L480.1 622.5L480.3 625.6L480.5 625.8L480.7 626.0L480.9 624.4L481.0 624.3L481.2 623.9L481.4 624.8L481.6 624.8L481.8 623.2L481.9 622.7L482.1 624.4L482.3 624.0L482.5 623.7L482.7 625.2L482.8 625.9L483.0 627.0L483.2 625.8L483.4 622.8L483.6 626.2L483.7 627.1L483.9 625.6L484.1 625.0L484.3 624.9L484.5 626.8L484.6 624.9L484.8 626.2L485.0 626.2L485.2 626.0L485.4 627.0L485.5 626.6L485.7 624.9L485.9 627.4L486.1 626.5L486.3 625.3L486.4 625.7L486.6 625.8L486.8 627.7L487.0 627.9L487.2 626.6L487.3 627.1L487.5 628.7L487.7 626.5L487.9 625.9L488.1 624.6L488.2 626.7L488.4 626.9L488.6 627.7L488.8 626.4L489.0 627.1L489.1 624.1L489.3 627.7L489.5 625.1L489.7 627.1L489.9 628.4L490.0 626.4L490.2 626.5L490.4 625.0L490.6 626.0L490.8 627.0L490.9 627.6L491.1 628.0L491.3 627.3L491.5 626.9L491.7 628.2L491.8 628.2L492.0 626.9L492.2 628.4L492.4 627.5L492.6 627.8L492.7 628.3L492.9 625.8L493.1 626.3L493.3 627.5L493.5 629.1L493.6 627.3L493.8 627.8L494.0 627.7L494.2 627.6L494.4 628.3L494.5 625.4L494.7 627.0L494.9 628.0L495.1 627.4L495.3 628.3L495.4 628.8L495.6 628.9L495.8 627.5L496.0 626.6L496.2 626.3L496.3 627.6L496.5 627.6L496.7 629.5L496.9 629.5L497.1 628.5L497.2 627.1L497.4 626.6L497.6 628.4L497.8 629.5L498.0 628.5L498.1 628.3L498.3 629.3L498.5 628.6L498.7 627.3L498.9 629.0L499.0 628.5L499.2 626.3L499.4 627.9L499.6 627.9L499.8 629.0L499.9 627.5L500.1 629.5L500.3 627.1L500.5 628.5L500.7 629.5L500.8 629.3L501.0 628.8L501.2 629.5L501.4 629.1L501.6 628.8L501.7 629.5L501.9 628.6L502.1 627.8L502.3 629.5L502.5 629.5L502.6 628.4L502.8 626.8L503.0 629.4L503.2 628.7L503.4 629.5L503.5 628.8L503.7 628.3L503.9 629.5L504.1 628.2L504.3 626.8L504.4 627.2L504.6 629.0L504.8 628.7L505.0 629.5L505.2 629.2L505.3 629.5L505.5 629.5L505.7 629.5L505.9 627.6L506.1 628.7L506.2 629.5L506.4 628.4L506.6 628.4L506.8 629.5L507.0 627.9" fill="none" stroke="#138a1f" stroke-width="1.4" stroke-opacity="1" stroke-linejoin="round"/>
<path d="M402.0 629.1L402.2 629.5L402.4 628.9L402.5 629.4L402.7 629.5L402.9 628.5L403.1 629.5L403.3 628.8L403.4 627.7L403.6 629.1L403.8 629.5L404.0 629.5L404.2 628.4L404.3 629.5L404.5 629.1L404.7 629.0L404.9 629.5L405.1 629.2L405.2 628.8L405.4 629.5L405.6 629.5L405.8 628.8L406.0 629.5L406.1 629.5L406.3 628.4L406.5 629.2L406.7 629.5L406.9 629.2L407.0 627.3L407.2 629.5L407.4 628.4L407.6 628.4L407.8 629.3L407.9 628.6L408.1 629.5L408.3 627.6L408.5 627.4L408.7 629.5L408.8 629.3L409.0 628.9L409.2 629.5L409.4 628.7L409.6 629.5L409.7 628.4L409.9 629.3L410.1 629.0L410.3 628.4L410.5 627.9L410.6 629.5L410.8 628.0L411.0 627.9L411.2 628.9L411.4 627.1L411.5 629.5L411.7 629.3L411.9 628.3L412.1 629.4L412.3 627.1L412.4 628.4L412.6 626.7L412.8 629.5L413.0 629.5L413.2 626.9L413.3 629.5L413.5 627.1L413.7 629.3L413.9 628.0L414.1 626.9L414.2 628.3L414.4 629.5L414.6 628.7L414.8 626.7L415.0 627.8L415.1 627.1L415.3 627.8L415.5 627.5L415.7 628.0L415.9 628.9L416.0 627.0L416.2 627.3L416.4 629.5L416.6 627.4L416.8 626.1L416.9 624.8L417.1 628.9L417.3 626.9L417.5 626.3L417.7 625.9L417.8 627.7L418.0 626.0L418.2 627.2L418.4 626.6L418.6 627.1L418.7 625.9L418.9 626.7L419.1 625.6L419.3 626.1L419.5 624.5L419.6 623.3L419.8 625.6L420.0 626.5L420.2 625.6L420.4 625.9L420.5 627.4L420.7 624.7L420.9 625.3L421.1 623.0L421.3 624.4L421.4 622.6L421.6 622.6L421.8 624.4L422.0 624.0L422.2 624.1L422.3 623.7L422.5 621.4L422.7 623.4L422.9 623.0L423.1 623.4L423.2 619.4L423.4 622.1L423.6 621.5L423.8 622.4L424.0 620.2L424.1 621.7L424.3 621.2L424.5 623.3L424.7 622.4L424.9 618.7L425.0 617.3L425.2 621.4L425.4 617.6L425.6 617.2L425.8 613.3L425.9 618.7L426.1 617.7L426.3 618.0L426.5 613.8L426.7 612.9L426.8 615.1L427.0 611.0L427.2 609.5L427.4 614.1L427.6 611.5L427.7 612.6L427.9 613.0L428.1 612.1L428.3 611.1L428.5 612.9L428.6 609.7L428.8 607.1L429.0 610.5L429.2 608.9L429.4 609.3L429.5 605.7L429.7 606.2L429.9 603.1L430.1 605.5L430.3 607.6L430.4 602.1L430.6 603.5L430.8 599.3L431.0 599.7L431.2 605.9L431.3 605.2L431.5 599.5L431.7 600.8L431.9 603.4L432.1 599.0L432.2 593.5L432.4 594.6L432.6 597.9L432.8 594.2L433.0 591.5L433.1 594.1L433.3 588.1L433.5 594.3L433.7 586.1L433.9 586.8L434.0 588.9L434.2 589.1L434.4 589.1L434.6 591.2L434.8 585.2L434.9 583.7L435.1 584.5L435.3 585.4L435.5 585.4L435.7 587.9L435.8 586.6L436.0 588.4L436.2 582.2L436.4 585.9L436.6 580.2L436.7 584.3L436.9 577.6L437.1 576.8L437.3 576.5L437.5 577.3L437.6 581.4L437.8 581.1L438.0 582.1L438.2 578.5L438.4 574.2L438.5 582.4L438.7 572.7L438.9 580.5L439.1 582.2L439.3 577.4L439.4 575.0L439.6 579.3L439.8 581.3L440.0 572.7L440.2 581.5L440.3 575.1L440.5 577.7L440.7 579.4L440.9 578.2L441.1 581.9L441.2 582.1L441.4 577.9L441.6 582.3L441.8 581.7L442.0 575.1L442.1 574.4L442.3 576.8L442.5 577.8L442.7 581.6L442.9 580.9L443.0 583.8L443.2 588.0L443.4 581.9L443.6 582.3L443.8 580.5L443.9 587.4L444.1 581.0L444.3 586.5L444.5 589.1L444.7 586.7L444.8 583.9L445.0 587.2L445.2 586.4L445.4 590.8L445.6 587.5L445.7 586.7L445.9 592.6L446.1 589.5L446.3 595.1L446.5 591.3L446.6 596.7L446.8 592.1L447.0 593.8L447.2 597.5L447.4 594.1L447.5 598.3L447.7 596.1L447.9 599.3L448.1 596.1L448.3 599.6L448.4 595.0L448.6 598.1L448.8 598.5L449.0 603.8L449.2 606.0L449.3 603.5L449.5 597.6L449.7 604.9L449.9 600.1L450.1 600.6L450.2 605.5L450.4 605.1L450.6 602.0L450.8 606.2L451.0 606.9L451.1 607.8L451.3 606.7L451.5 607.5L451.7 604.8L451.9 607.5L452.0 605.7L452.2 609.0L452.4 604.6L452.6 609.7L452.8 610.0L452.9 611.8L453.1 614.0L453.3 612.4L453.5 610.3L453.7 613.2L453.8 609.5L454.0 615.0L454.2 615.3L454.4 611.2L454.6 611.2L454.7 614.6L454.9 610.1L455.1 609.6L455.3 611.9L455.5 615.5L455.6 610.3L455.8 613.6L456.0 613.4L456.2 612.1L456.4 614.7L456.5 610.1L456.7 614.6L456.9 611.1L457.1 611.8L457.3 609.7L457.4 612.4L457.6 611.7L457.8 614.3L458.0 613.9L458.2 614.7L458.3 611.9L458.5 614.8L458.7 610.2L458.9 613.6L459.1 615.8L459.2 614.7L459.4 610.8L459.6 614.2L459.8 611.9L460.0 616.4L460.1 612.1L460.3 611.4L460.5 611.9L460.7 611.2L460.9 614.8L461.0 616.2L461.2 615.4L461.4 610.8L461.6 611.7L461.8 610.7L461.9 613.5L462.1 610.6L462.3 615.5L462.5 611.3L462.7 614.3L462.8 612.9L463.0 610.5L463.2 610.0L463.4 612.1L463.6 612.5L463.7 608.8L463.9 609.4L464.1 612.9L464.3 610.8L464.5 611.8L464.6 609.2L464.8 610.2L465.0 610.2L465.2 610.9L465.4 612.2L465.5 608.6L465.7 610.0L465.9 615.5L466.1 611.6L466.3 610.2L466.4 612.3L466.6 612.7L466.8 612.0L467.0 609.8L467.2 612.6L467.3 609.7L467.5 607.5L467.7 608.4L467.9 608.2L468.1 610.8L468.2 607.7L468.4 610.2L468.6 608.3L468.8 612.7L469.0 607.4L469.1 611.4L469.3 610.0L469.5 607.8L469.7 610.0L469.9 611.1L470.0 610.4L470.2 607.6L470.4 607.5L470.6 608.5L470.8 611.3L470.9 610.8L471.1 608.4L471.3 608.2L471.5 611.4L471.7 611.4L471.8 608.3L472.0 607.4L472.2 609.6L472.4 612.4L472.6 606.2L472.7 609.6L472.9 608.7L473.1 614.3L473.3 611.3L473.5 610.1L473.6 609.0L473.8 611.6L474.0 613.1L474.2 613.3L474.4 610.5L474.5 609.0L474.7 609.1L474.9 613.5L475.1 611.2L475.3 609.9L475.4 607.5L475.6 608.5L475.8 609.1L476.0 613.4L476.2 607.3L476.3 609.9L476.5 609.2L476.7 611.1L476.9 610.1L477.1 610.4L477.2 610.6L477.4 611.6L477.6 608.2L477.8 607.7L478.0 610.9L478.1 611.5L478.3 611.5L478.5 610.4L478.7 606.6L478.9 610.0L479.0 605.7L479.2 612.5L479.4 612.1L479.6 611.5L479.8 611.7L479.9 609.1L480.1 606.0L480.3 611.4L480.5 609.1L480.7 607.0L480.8 605.4L481.0 609.5L481.2 607.8L481.4 607.1L481.6 609.8L481.7 608.8L481.9 610.9L482.1 612.1L482.3 611.6L482.5 607.8L482.6 607.5L482.8 610.0L483.0 613.2L483.2 608.1L483.4 610.8L483.5 607.7L483.7 610.8L483.9 613.6L484.1 611.9L484.3 612.9L484.4 608.2L484.6 616.1L484.8 613.1L485.0 612.7L485.2 616.5L485.3 611.5L485.5 611.3L485.7 611.0L485.9 611.2L486.1 613.3L486.2 611.4L486.4 614.4L486.6 613.6L486.8 613.4L487.0 614.0L487.1 613.3L487.3 615.8L487.5 615.0L487.7 616.1L487.9 615.0L488.0 614.8L488.2 617.1L488.4 613.0L488.6 612.3L488.8 615.2L488.9 616.3L489.1 617.9L489.3 617.3L489.5 617.6L489.7 616.1L489.8 617.7L490.0 616.6L490.2 617.1L490.4 619.2L490.6 621.0L490.7 621.0L490.9 621.0L491.1 619.3L491.3 617.4L491.5 621.4L491.6 618.8L491.8 620.5L492.0 618.2L492.2 617.2L492.4 619.0L492.5 620.5L492.7 620.4L492.9 619.3L493.1 622.2L493.3 623.2L493.4 621.8L493.6 619.7L493.8 623.6L494.0 620.9L494.2 621.5L494.3 623.4L494.5 624.5L494.7 626.0L494.9 625.4L495.1 623.5L495.2 622.8L495.4 625.1L495.6 625.2L495.8 625.6L496.0 621.7L496.1 626.8L496.3 627.1L496.5 623.6L496.7 626.9L496.9 624.0L497.0 626.8L497.2 624.3L497.4 623.9L497.6 626.6L497.8 626.1L497.9 627.6L498.1 625.2L498.3 626.9L498.5 627.9L498.7 626.1L498.8 626.3L499.0 627.0L499.2 627.6L499.4 625.9L499.6 628.1L499.7 628.4L499.9 627.7L500.1 626.9L500.3 628.1L500.5 628.4L500.6 629.0L500.8 628.8L501.0 628.7L501.2 625.6L501.4 629.5L501.5 628.6L501.7 628.1L501.9 629.3L502.1 629.5L502.3 627.7L502.4 626.8L502.6 627.2L502.8 628.5L503.0 629.0L503.2 627.9L503.3 629.5L503.5 629.5L503.7 627.1L503.9 628.3L504.1 628.6L504.2 629.0L504.4 629.3L504.6 629.5L504.8 628.3L505.0 628.4L505.1 628.5L505.3 629.5L505.5 627.7L505.7 628.2L505.9 627.5L506.0 629.5L506.2 629.5L506.4 629.5L506.6 629.5L506.8 627.2L506.9 629.5" fill="none" stroke="#1010f0" stroke-width="1.4" stroke-opacity="1" stroke-linejoin="round"/>
<path d="M410.0 629.5L410.3 629.5L410.6 628.8L410.9 629.3L411.2 629.2L411.5 629.5L411.8 629.4L412.1 629.3L412.4 629.3L412.7 629.5L413.0 629.2L413.3 629.2L413.6 629.4L413.9 629.5L414.2 629.5L414.5 629.5L414.8 629.1L415.1 629.3L415.4 628.8L415.7 629.4L416.0 628.8L416.3 629.0L416.6 629.2L416.9 628.5L417.2 628.8L417.5 628.5L417.8 628.3L418.1 628.4L418.4 628.7L418.7 628.3L419.0 627.9L419.3 628.5L419.6 627.8L419.9 628.0L420.2 628.0L420.5 627.9L420.8 628.0L421.1 627.4L421.4 626.9L421.7 627.8L422.0 626.9L422.3 626.4L422.6 626.4L422.9 625.6L423.2 626.1L423.5 625.0L423.8 624.7L424.1 624.5L424.4 624.8L424.7 623.1L425.0 623.8L425.3 622.9L425.6 623.3L425.9 622.7L426.2 621.5L426.5 622.0L426.8 620.4L427.1 618.9L427.4 620.2L427.7 618.7L428.0 617.2L428.3 617.1L428.6 615.4L428.9 614.8L429.2 614.9L429.5 614.0L429.8 611.4L430.1 609.1L430.4 608.8L430.7 605.5L431.0 605.9L431.3 602.0L431.6 600.5L431.9 598.1L432.2 595.7L432.5 593.3L432.8 589.8L433.1 587.7L433.4 582.4L433.7 580.9L434.0 575.5L434.3 573.3L434.6 569.6L434.9 563.2L435.2 559.2L435.5 555.1L435.8 548.5L436.1 546.9L436.4 540.2L436.7 536.4L437.0 530.0L437.3 529.1L437.6 523.8L437.9 519.8L438.2 516.2L438.5 513.3L438.8 508.0L439.1 504.9L439.4 502.9L439.7 499.4L440.0 499.5L440.3 493.3L440.6 493.3L440.9 493.0L441.2 492.0L441.5 493.7L441.8 494.8L442.1 495.7L442.4 497.4L442.7 498.9L443.0 499.0L443.3 503.8L443.6 504.2L443.9 508.9L444.2 510.4L444.5 517.6L444.8 521.9L445.1 526.0L445.4 532.1L445.7 533.1L446.0 538.0L446.3 543.0L446.6 547.7L446.9 551.3L447.2 557.9L447.5 561.0L447.8 565.3L448.1 569.1L448.4 572.5L448.7 577.5L449.0 582.5L449.3 584.8L449.6 589.0L449.9 591.9L450.2 595.9L450.5 598.1L450.8 600.5L451.1 603.2L451.4 604.9L451.7 606.0L452.0 609.3L452.3 611.7L452.6 612.9L452.9 613.5L453.2 615.5L453.5 616.2L453.8 617.8L454.1 618.4L454.4 620.2L454.7 620.0L455.0 621.4L455.3 621.8L455.6 622.0L455.9 624.5L456.2 623.1L456.5 623.3L456.8 624.8L457.1 625.4L457.4 625.6L457.7 625.4L458.0 626.1L458.3 626.9L458.6 627.0L458.9 627.6L459.2 627.3L459.5 627.6L459.8 628.1L460.1 627.4L460.4 627.7L460.7 627.6L461.0 628.8L461.3 627.7L461.6 627.5L461.9 628.5L462.2 629.0L462.5 629.2L462.8 628.2L463.1 628.7L463.4 628.6L463.7 628.9L464.0 629.5L464.3 629.1L464.6 629.0L464.9 629.3L465.2 629.0L465.5 629.4L465.8 628.8L466.1 629.5L466.4 629.1L466.7 629.2L467.0 628.9L467.3 628.8L467.6 629.1L467.9 629.2L468.2 629.5L468.5 629.0L468.8 629.3L469.1 629.2L469.4 629.4L469.7 629.3L470.0 629.5L470.3 628.7L470.6 629.4L470.9 629.5L471.2 629.5L471.5 629.3L471.8 629.5L472.1 629.2L472.4 629.4L472.7 629.4L473.0 629.1L473.3 629.4L473.6 629.3L473.9 629.3L474.2 629.0L474.5 629.5L474.8 629.1L475.1 629.3L475.4 629.3L475.7 629.5L476.0 629.4L476.3 629.5L476.6 629.5L476.9 629.5L477.2 629.5L477.5 629.5L477.8 629.2L478.1 629.5L478.4 629.1L478.7 629.5L479.0 629.5L479.3 629.1L479.6 629.2L479.9 629.0" fill="none" stroke="#000" stroke-width="1.1" stroke-opacity="1" stroke-linejoin="round"/>
<path d="M410.0 629.5L410.2 628.9L410.4 628.6L410.5 628.9L410.7 628.3L410.9 629.4L411.1 629.5L411.3 629.5L411.4 629.0L411.6 629.1L411.8 629.5L412.0 629.5L412.2 627.8L412.3 629.4L412.5 629.0L412.7 629.5L412.9 629.5L413.1 628.8L413.2 628.6L413.4 629.5L413.6 629.5L413.8 629.5L414.0 629.5L414.1 629.5L414.3 629.4L414.5 629.5L414.7 627.5L414.9 629.5L415.0 629.5L415.2 627.6L415.4 629.5L415.6 629.1L415.8 628.5L415.9 627.6L416.1 629.5L416.3 627.6L416.5 629.5L416.7 627.2L416.8 627.9L417.0 628.4L417.2 629.1L417.4 627.3L417.6 627.9L417.7 627.5L417.9 629.5L418.1 628.6L418.3 628.2L418.5 627.9L418.6 629.5L418.8 629.5L419.0 627.8L419.2 628.6L419.4 627.9L419.5 629.3L419.7 627.9L419.9 628.9L420.1 629.1L420.3 629.0L420.4 627.3L420.6 629.4L420.8 629.5L421.0 628.4L421.2 626.9L421.3 626.4L421.5 626.3L421.7 625.8L421.9 627.4L422.1 627.2L422.2 624.6L422.4 626.5L422.6 625.8L422.8 627.3L423.0 625.3L423.1 627.4L423.3 626.2L423.5 625.8L423.7 625.5L423.9 624.3L424.0 623.8L424.2 623.4L424.4 624.4L424.6 625.1L424.8 624.2L424.9 624.4L425.1 624.8L425.3 620.9L425.5 624.8L425.7 621.7L425.8 623.2L426.0 624.9L426.2 618.7L426.4 622.2L426.6 623.0L426.7 617.6L426.9 621.0L427.1 619.9L427.3 617.1L427.5 621.0L427.6 620.5L427.8 617.2L428.0 617.1L428.2 618.9L428.4 619.5L428.5 618.8L428.7 614.7L428.9 612.6L429.1 612.0L429.3 612.7L429.4 612.1L429.6 615.9L429.8 611.3L430.0 611.5L430.2 606.6L430.3 609.0L430.5 607.2L430.7 606.1L430.9 604.4L431.1 602.9L431.2 598.5L431.4 598.2L431.6 599.3L431.8 600.7L432.0 593.2L432.1 593.7L432.3 594.0L432.5 594.0L432.7 593.4L432.9 586.3L433.0 584.2L433.2 585.0L433.4 583.2L433.6 575.9L433.8 577.4L433.9 577.1L434.1 576.5L434.3 569.1L434.5 567.1L434.7 570.5L434.8 571.0L435.0 559.9L435.2 557.3L435.4 553.3L435.6 551.7L435.7 557.4L435.9 544.8L436.1 547.2L436.3 537.8L436.5 539.2L436.6 538.8L436.8 539.0L437.0 534.0L437.2 528.0L437.4 527.3L437.5 519.3L437.7 521.6L437.9 517.6L438.1 519.2L438.3 516.9L438.4 514.2L438.6 513.6L438.8 503.3L439.0 499.4L439.2 506.2L439.3 503.6L439.5 495.1L439.7 496.4L439.9 494.3L440.1 501.0L440.2 487.2L440.4 492.9L440.6 492.3L440.8 494.5L441.0 493.5L441.1 493.1L441.3 493.9L441.5 491.7L441.7 489.6L441.9 496.2L442.0 495.1L442.2 491.8L442.4 493.9L442.6 489.1L442.8 502.3L442.9 496.8L443.1 502.4L443.3 503.4L443.5 505.0L443.7 506.9L443.8 505.4L444.0 509.3L444.2 508.8L444.4 507.5L444.6 513.5L444.7 520.1L444.9 517.3L445.1 532.6L445.3 522.3L445.5 523.2L445.6 532.5L445.8 534.1L446.0 538.9L446.2 544.6L446.4 541.5L446.5 544.9L446.7 550.8L446.9 547.8L447.1 558.2L447.3 554.2L447.4 557.7L447.6 561.1L447.8 563.9L448.0 566.8L448.2 574.4L448.3 579.1L448.5 575.4L448.7 573.3L448.9 579.4L449.1 581.0L449.2 583.3L449.4 585.4L449.6 587.6L449.8 588.8L450.0 597.5L450.1 593.9L450.3 599.6L450.5 595.2L450.7 603.0L450.9 602.6L451.0 600.9L451.2 604.5L451.4 604.1L451.6 608.7L451.8 603.6L451.9 609.1L452.1 612.5L452.3 609.2L452.5 613.3L452.7 612.8L452.8 614.0L453.0 614.2L453.2 615.5L453.4 613.3L453.6 615.1L453.7 619.1L453.9 617.0L454.1 619.3L454.3 619.8L454.5 620.8L454.6 622.5L454.8 620.0L455.0 622.6L455.2 621.6L455.4 620.4L455.5 624.3L455.7 623.3L455.9 623.2L456.1 624.2L456.3 624.4L456.4 625.4L456.6 627.1L456.8 624.7L457.0 622.3L457.2 626.3L457.3 624.8L457.5 625.4L457.7 626.6L457.9 626.3L458.1 625.0L458.2 626.3L458.4 626.5L458.6 625.6L458.8 627.1L459.0 628.1L459.1 627.2L459.3 627.6L459.5 627.2L459.7 625.0L459.9 628.3L460.0 628.3L460.2 626.6L460.4 626.3L460.6 628.3L460.8 628.0L460.9 628.8L461.1 626.9L461.3 628.1L461.5 627.7L461.7 629.1L461.8 627.9L462.0 628.4L462.2 628.1L462.4 628.1L462.6 629.5L462.7 629.5L462.9 626.6L463.1 628.5L463.3 627.8L463.5 628.5L463.6 628.7L463.8 628.0L464.0 629.0L464.2 628.6L464.4 628.2L464.5 629.5L464.7 627.9L464.9 629.5L465.1 629.5L465.3 629.5L465.4 629.1L465.6 627.3L465.8 629.4L466.0 629.2L466.2 629.5L466.3 628.5L466.5 628.5L466.7 628.4L466.9 628.8L467.1 629.5L467.2 629.1L467.4 629.5L467.6 629.2L467.8 629.5L468.0 629.5L468.1 629.1L468.3 629.5L468.5 628.9L468.7 628.8L468.9 629.5L469.0 628.8L469.2 627.7L469.4 628.6L469.6 629.5L469.8 628.4L469.9 628.4L470.1 629.3L470.3 629.5L470.5 629.5L470.7 629.5L470.8 629.5L471.0 629.5L471.2 629.2L471.4 628.6L471.6 629.4L471.7 629.5L471.9 629.4L472.1 629.5L472.3 629.5L472.5 629.5L472.6 629.5L472.8 629.3L473.0 629.5L473.2 629.3L473.4 629.5L473.5 629.5L473.7 629.5L473.9 629.4L474.1 629.5L474.3 629.5L474.4 629.1L474.6 628.9L474.8 628.7L475.0 629.1L475.2 628.8L475.3 629.5L475.5 628.4L475.7 629.2L475.9 629.5L476.1 629.5L476.2 629.5L476.4 629.1L476.6 629.2L476.8 629.3L477.0 629.5L477.1 629.5L477.3 628.4L477.5 628.8L477.7 629.5L477.9 629.5L478.0 629.5L478.2 628.9L478.4 629.3L478.6 628.7L478.8 629.1L478.9 629.5L479.1 629.3L479.3 629.5L479.5 629.5L479.7 629.1L479.8 629.0" fill="none" stroke="#8a0d90" stroke-width="1.3" stroke-opacity="1" stroke-linejoin="round"/>
<rect x="326.5" y="644.8" width="183" height="2.2" fill="#000"/>
<path d="M508.5 642.5L516.5 645.9L508.5 649.3Z" fill="#000"/>
<text x="356.4" y="661.6" font-size="13.9" fill="#000" text-anchor="start" font-weight="bold" >Lysotracker green</text>
</svg>
</body></html>
